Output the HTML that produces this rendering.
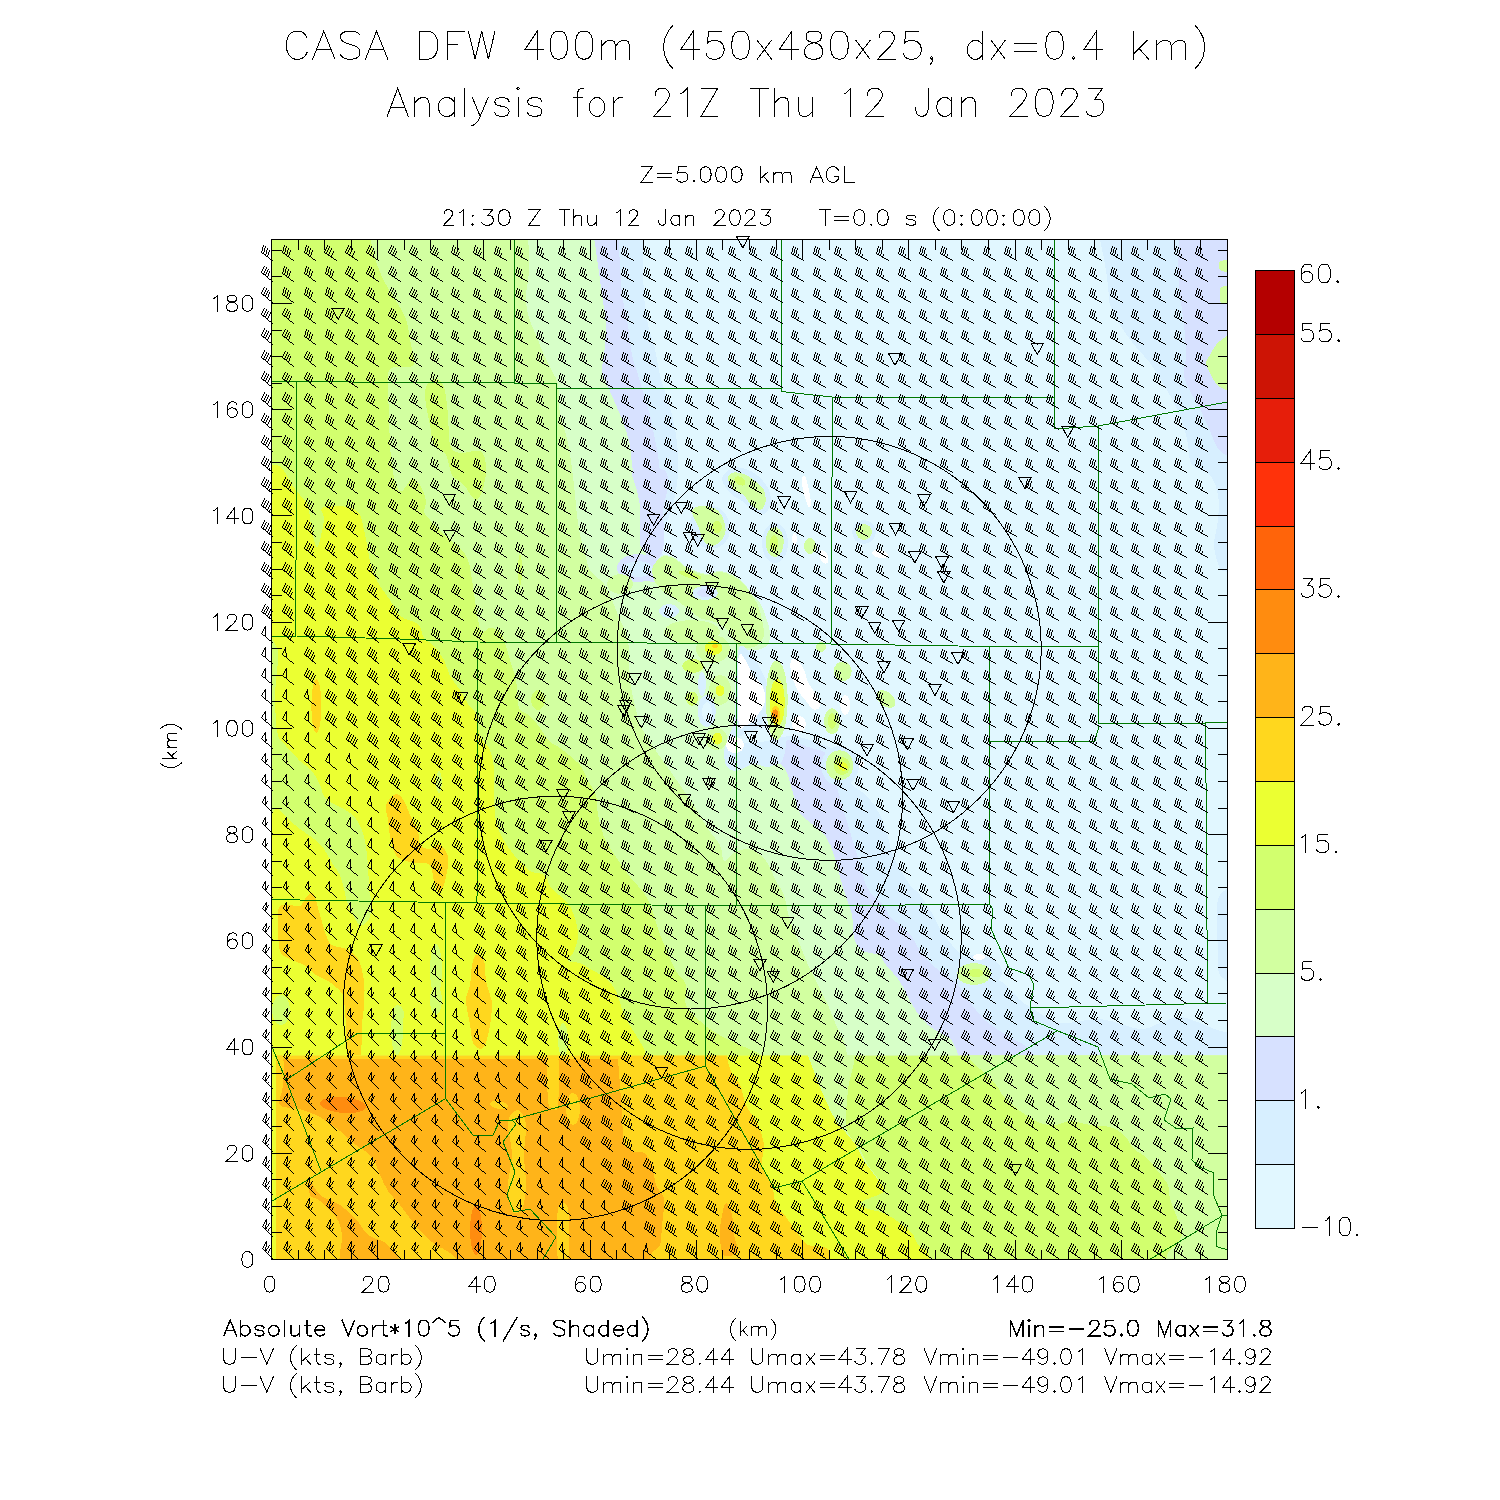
<!DOCTYPE html><html><head><meta charset="utf-8"><title>CASA DFW 400m</title><style>html,body{margin:0;padding:0;background:#fff}svg{display:block}body{font-family:"Liberation Sans",sans-serif}</style></head><body><svg width="1500" height="1500" viewBox="0 0 1500 1500" shape-rendering="crispEdges">
<defs>
<clipPath id="cn"><rect x="271" y="239" width="956.5" height="816.5"/></clipPath>
<clipPath id="cs"><rect x="271" y="1055.5" width="956.5" height="204"/></clipPath>
<clipPath id="cp"><rect x="271" y="239" width="956.5" height="1020.5"/></clipPath>
</defs>
<rect width="1500" height="1500" fill="#fff"/>
<g clip-path="url(#cn)">
<rect x="260" y="230" width="980" height="840" fill="#e1f7ff"/>
<path d="M1098,230C1099,234.8 1102.3,249.8 1104,259C1105.7,268.2 1107,277.3 1108,285C1109,292.7 1108,298.3 1110,305C1112,311.7 1115.7,318 1120,325C1124.3,332 1131,340.7 1136,347C1141,353.3 1145.3,356.7 1150,363C1154.7,369.3 1159.7,377.7 1164,385C1168.3,392.3 1172.7,400 1176,407C1179.3,414 1182,420.7 1184,427C1186,433.3 1186.7,438.7 1188,445C1189.3,451.3 1188.3,460 1192,465C1195.7,470 1205.7,470 1210,475C1214.3,480 1216.7,487.5 1218,495C1219.3,502.5 1218.7,511.5 1218,520C1217.3,528.5 1213.7,537.7 1214,546C1214.3,554.3 1219,566 1220,570L1240,575 L1240,230Z" fill="#d7efff"/>
<path d="M1180,230C1179.7,235.8 1178,254.2 1178,265C1178,275.8 1179,285 1180,295C1181,305 1183,315 1184,325C1185,335 1186,346.7 1186,355C1186,363.3 1183.3,369 1184,375C1184.7,381 1187.3,385.3 1190,391C1192.7,396.7 1196.7,402.3 1200,409C1203.3,415.7 1206.7,424 1210,431C1213.3,438 1215,446 1220,451C1225,456 1236.7,459.3 1240,461L1240,230Z" fill="#d7e1ff"/>
<path d="M1240,335C1236.7,327.2 1225,337.7 1220,341C1215,344.3 1212.3,351.3 1210,355C1207.7,358.7 1206,360 1206,363C1206,366 1207.7,369 1210,373C1212.3,377 1215,384.5 1220,387C1225,389.5 1236.7,396.7 1240,388C1243.3,379.3 1243.3,342.8 1240,335Z" fill="#d2ffa0"/>
<path d="M1240,259C1236.8,257.2 1224.5,259.8 1221,261C1217.5,262.2 1218.8,264.3 1219,266C1219.2,267.7 1218.5,270 1222,271C1225.5,272 1237,274 1240,272C1243,270 1243.2,260.8 1240,259Z" fill="#d2ffa0"/>
<path d="M1240,286C1237,283.2 1225.3,285.5 1222,287C1218.7,288.5 1220,292.3 1220,295C1220,297.7 1218.7,301.5 1222,303C1225.3,304.5 1237,306.8 1240,304C1243,301.2 1243,288.8 1240,286Z" fill="#d2ffa0"/>
<path d="M1240,893C1236.7,879.3 1223.8,890.5 1220,895C1216.2,899.5 1217.3,910.8 1217,920C1216.7,929.2 1217.5,940.8 1218,950C1218.5,959.2 1216.3,970.5 1220,975C1223.7,979.5 1236.7,990.7 1240,977C1243.3,963.3 1243.3,906.7 1240,893Z" fill="#d7efff"/>
<path d="M643,230C643,235.8 642.8,254.2 643,265C643.2,275.8 643.2,285 644,295C644.8,305 646.3,316.7 648,325C649.7,333.3 652,336.7 654,345C656,353.3 658,366.7 660,375C662,383.3 664,388.3 666,395C668,401.7 670.3,408.3 672,415C673.7,421.7 675,428.3 676,435C677,441.7 677.7,448.3 678,455C678.3,461.7 678.7,467.3 678,475C677.3,482.7 675.7,493.5 674,501C672.3,508.5 670.3,512.7 668,520C665.7,527.3 660.7,539.2 660,545C659.3,550.8 661.5,552.8 664,555C666.5,557.2 671.5,556.2 675,558C678.5,559.8 681.5,563.8 685,566C688.5,568.2 692.3,569.7 696,571C699.7,572.3 703,574 707,574C711,574 715.7,570.8 720,571C724.3,571.2 729,573 733,575C737,577 741,580 744,583C747,586 748.3,589.7 751,593C753.7,596.3 757.5,599 760,603C762.5,607 764.3,612.2 766,617C767.7,621.8 769.7,627.5 770,632C770.3,636.5 770,641 768,644C766,647 761.7,649 758,650C754.3,651 749.3,649 746,650C742.7,651 739.7,653 738,656C736.3,659 736.5,662.3 736,668C735.5,673.7 734.3,678.3 735,690C735.7,701.7 735.8,729.3 740,738C744.2,746.7 751.7,742.3 760,742C768.3,741.7 780.8,736 790,736C799.2,736 807.3,739.3 815,742C822.7,744.7 830.8,746.5 836,752C841.2,757.5 843.3,769.5 846,775C848.7,780.5 848.3,781.3 852,785C855.7,788.7 863.3,792 868,797C872.7,802 876.7,808.3 880,815C883.3,821.7 886,830.7 888,837C890,843.3 890,847.7 892,853C894,858.3 897,863.7 900,869C903,874.3 906.7,880.7 910,885C913.3,889.3 916.3,890.3 920,895C923.7,899.7 928.7,907.3 932,913C935.3,918.7 936.7,923.7 940,929C943.3,934.3 947.7,940 952,945C956.3,950 959.7,954 966,959C972.3,964 983.3,970.7 990,975C996.7,979.3 1001,980.8 1006,985C1011,989.2 1015.7,996.2 1020,1000C1024.3,1003.8 1025.3,1004.2 1032,1008C1038.7,1011.8 1048.7,1021.2 1060,1023C1071.3,1024.8 1086.7,1018 1100,1019C1113.3,1020 1130,1028.3 1140,1029C1150,1029.7 1153.3,1025 1160,1023C1166.7,1021 1173.3,1017 1180,1017C1186.7,1017 1193.3,1020.7 1200,1023C1206.7,1025.3 1213.3,1029.3 1220,1031C1226.7,1032.7 1236.7,1032.7 1240,1033L1240,1070 L255,1070 L255,230Z" fill="#d7efff"/>
<path d="M618,230C618.3,235.8 619.3,254.2 620,265C620.7,275.8 620.7,285 622,295C623.3,305 626.3,315 628,325C629.7,335 630.3,346.7 632,355C633.7,363.3 636,368.3 638,375C640,381.7 642,388.3 644,395C646,401.7 648.3,408.3 650,415C651.7,421.7 652.7,428.3 654,435C655.3,441.7 657,448.3 658,455C659,461.7 659.7,468.3 660,475C660.3,481.7 660.3,488.3 660,495C659.7,501.7 659.3,508.8 658,515C656.7,521.2 652.8,525.2 652,532C651.2,538.8 652.3,551.2 653,556C653.7,560.8 654.2,561.2 656,561C657.8,560.8 660.8,555.5 664,555C667.2,554.5 671.5,556.2 675,558C678.5,559.8 681.5,563.8 685,566C688.5,568.2 692.3,569.7 696,571C699.7,572.3 703,574 707,574C711,574 715.7,570.8 720,571C724.3,571.2 729,573 733,575C737,577 741,580 744,583C747,586 748.3,589.7 751,593C753.7,596.3 757.5,599 760,603C762.5,607 764.3,612.2 766,617C767.7,621.8 769.7,627.5 770,632C770.3,636.5 770,641 768,644C766,647 761.7,649 758,650C754.3,651 749.3,649 746,650C742.7,651 739.7,653 738,656C736.3,659 736.5,662.3 736,668C735.5,673.7 735.2,683 735,690C734.8,697 735.3,704 735,710C734.7,716 734.3,721 733,726C731.7,731 728.5,735.5 727,740C725.5,744.5 724,748.5 724,753C724,757.5 724.8,764 727,767C729.2,770 732.7,771.5 737,771C741.3,770.5 748,764.7 753,764C758,763.3 762.5,767 767,767C771.5,767 777,766.5 780,764C783,761.5 783.7,756 785,752C786.3,748 784.4,740.9 788,740C791.6,739.1 800.2,744.5 806.7,746.7C813.2,748.9 822.3,749.9 826.7,753.3C831.1,756.7 831.3,761.4 833,767C834.7,772.6 835.5,780.7 837,787C838.5,793.3 840.2,798.7 842,805C843.8,811.3 845.8,817.8 848,825C850.2,832.2 852.8,840.8 855,848C857.2,855.2 859.2,861.8 861,868C862.8,874.2 863.8,880.2 866,885C868.2,889.8 871,893.7 874,897C877,900.3 881.3,901.7 884,905C886.7,908.3 887.3,913.7 890,917C892.7,920.3 896.3,921.7 900,925C903.7,928.3 908.7,932.7 912,937C915.3,941.3 916.7,946.3 920,951C923.3,955.7 927.7,961 932,965C936.3,969 941.7,971.7 946,975C950.3,978.3 953.7,980 958,985C962.3,990 967.3,999 972,1005C976.7,1011 980.3,1016 986,1021C991.7,1026 999.7,1031 1006,1035C1012.3,1039 1018.3,1040.8 1024,1045C1029.7,1049.2 1037.3,1057.5 1040,1060L1040,1070 L255,1070 L255,230Z" fill="#d7e1ff"/>
<path d="M593,230C593.8,235.8 596.5,254.2 598,265C599.5,275.8 600.7,285 602,295C603.3,305 605.7,315 606,325C606.3,335 604.7,347.3 604,355C603.3,362.7 601.3,365.7 602,371C602.7,376.3 605.7,381.3 608,387C610.3,392.7 613.3,398.7 616,405C618.7,411.3 621.7,418.3 624,425C626.3,431.7 628.7,438.3 630,445C631.3,451.7 631,458.3 632,465C633,471.7 634.7,478.3 636,485C637.3,491.7 638.3,497.5 640,505C641.7,512.5 644.7,525.8 646,530C647.3,534.2 647.3,527.5 648,530C648.7,532.5 649.2,540.7 650,545C650.8,549.3 652,553.3 653,556C654,558.7 654.2,561.2 656,561C657.8,560.8 660.8,555.5 664,555C667.2,554.5 671.5,556.2 675,558C678.5,559.8 681.5,563.8 685,566C688.5,568.2 692.3,569.7 696,571C699.7,572.3 703,574 707,574C711,574 715.7,570.8 720,571C724.3,571.2 729,573 733,575C737,577 741,580 744,583C747,586 748.3,589.7 751,593C753.7,596.3 757.5,599 760,603C762.5,607 764.3,612.2 766,617C767.7,621.8 769.7,627.5 770,632C770.3,636.5 770,641 768,644C766,647 761.7,649 758,650C754.3,651 749.3,649 746,650C742.7,651 739.7,653 738,656C736.3,659 736.5,662.3 736,668C735.5,673.7 735.2,683 735,690C734.8,697 735.3,704 735,710C734.7,716 734.3,721 733,726C731.7,731 728.5,735.5 727,740C725.5,744.5 724,748.5 724,753C724,757.5 724.8,764 727,767C729.2,770 732.7,771.5 737,771C741.3,770.5 748,764.7 753,764C758,763.3 762.5,767 767,767C771.5,767 776.7,763 780,764C783.3,765 784.8,768.2 787,773C789.2,777.8 790.8,786.3 793,793C795.2,799.7 796.8,807.8 800,813C803.2,818.2 807.7,820 812,824C816.3,828 822.3,831.8 826,837C829.7,842.2 831.7,848.3 834,855C836.3,861.7 838,870 840,877C842,884 844,890.7 846,897C848,903.3 850.7,908.3 852,915C853.3,921.7 852.7,931.3 854,937C855.3,942.7 857.3,946.3 860,949C862.7,951.7 866.7,952 870,953C873.3,954 877.3,953 880,955C882.7,957 883,961 886,965C889,969 894.7,974.3 898,979C901.3,983.7 903,987.7 906,993C909,998.3 912.3,1005.7 916,1011C919.7,1016.3 924,1021.3 928,1025C932,1028.7 936,1030.3 940,1033C944,1035.7 948.7,1036.5 952,1041C955.3,1045.5 958.7,1056.8 960,1060L255,1060 L255,230 Z" fill="#d7ffc8"/>
<path d="M528,230C528.2,235.8 529,256.5 529,265C529,273.5 528.5,276 528,281C527.5,286 526,289.3 526,295C526,300.7 526.3,308.3 528,315C529.7,321.7 533.3,328.3 536,335C538.7,341.7 541.3,349 544,355C546.7,361 549.7,366 552,371C554.3,376 556.7,377.7 558,385C559.3,392.3 558.7,406.7 560,415C561.3,423.3 564.3,428.3 566,435C567.7,441.7 568.7,446.7 570,455C571.3,463.3 572.8,475 574,485C575.2,495 576,506.7 577,515C578,523.3 578.8,529.2 580,535C581.2,540.8 582.3,544.2 584,550C585.7,555.8 586.7,564.3 590,570C593.3,575.7 600.3,579 604,584C607.7,589 609.3,594 612,600C614.7,606 617.3,613.3 620,620C622.7,626.7 626.3,630 628,640C629.7,650 628.7,668.3 630,680C631.3,691.7 634.3,702.5 636,710C637.7,717.5 637.3,719.2 640,725C642.7,730.8 647.7,738.3 652,745C656.3,751.7 661.3,758.3 666,765C670.7,771.7 675,777.7 680,785C685,792.3 691.3,801.7 696,809C700.7,816.3 704,823 708,829C712,835 717.3,839.7 720,845C722.7,850.3 721.7,859.7 724,861C726.3,862.3 729.7,855 734,853C738.3,851 744.7,847.7 750,849C755.3,850.3 761.7,855.7 766,861C770.3,866.3 773,875.3 776,881C779,886.7 781.7,888.3 784,895C786.3,901.7 787.3,912.7 790,921C792.7,929.3 797,937.7 800,945C803,952.3 805,958.3 808,965C811,971.7 814.7,978.3 818,985C821.3,991.7 825,998.3 828,1005C831,1011.7 833.3,1019 836,1025C838.7,1031 842,1035.2 844,1041C846,1046.8 847.3,1056.8 848,1060L255,1060 L255,230 Z" fill="#d2ffa0"/>
<path d="M368,230C369.3,235.2 373.3,252.5 376,261C378.7,269.5 380.7,274.3 384,281C387.3,287.7 392.3,294.7 396,301C399.7,307.3 403.7,312.7 406,319C408.3,325.3 408.7,331.7 410,339C411.3,346.3 414.3,358.3 414,363C413.7,367.7 412,366 408,367C404,368 393.3,365.7 390,369C386.7,372.3 388.2,379.3 388,387C387.8,394.7 388.7,405.3 389,415C389.3,424.7 389.5,436.7 390,445C390.5,453.3 391,458.3 392,465C393,471.7 394.3,480.7 396,485C397.7,489.3 399.3,492 402,491C404.7,490 409,480 412,479C415,478 417.7,481.3 420,485C422.3,488.7 425.3,496.5 426,501C426.7,505.5 423.3,508.8 424,512C424.7,515.2 427.3,517 430,520C432.7,523 436.7,526.7 440,530C443.3,533.3 446.7,537 450,540C453.3,543 457,544.7 460,548C463,551.3 466,554.7 468,560C470,565.3 470.8,573.3 472,580C473.2,586.7 474,593.3 475,600C476,606.7 476.8,614.7 478,620C479.2,625.3 480,630.7 482,632C484,633.3 487,628 490,628C493,628 497.3,629 500,632C502.7,635 504.3,641.3 506,646C507.7,650.7 508.3,654.3 510,660C511.7,665.7 514.7,673.3 516,680C517.3,686.7 517.3,695 518,700C518.7,705 518,707.3 520,710C522,712.7 526.7,713 530,716C533.3,719 536.7,723.7 540,728C543.3,732.3 546.7,738.7 550,742C553.3,745.3 555,744.2 560,748C565,751.8 575.3,759.5 580,765C584.7,770.5 585.3,776 588,781C590.7,786 594.3,789.3 596,795C597.7,800.7 596.7,808 598,815C599.3,822 601,830 604,837C607,844 611.7,850.3 616,857C620.3,863.7 625.3,871 630,877C634.7,883 640.3,887.7 644,893C647.7,898.3 649.7,903 652,909C654.3,915 655.7,922.3 658,929C660.3,935.7 663,942 666,949C669,956 672.7,965 676,971C679.3,977 684.3,979.3 686,985C687.7,990.7 683.7,999 686,1005C688.3,1011 695,1016.3 700,1021C705,1025.7 709.3,1029 716,1033C722.7,1037 733,1041.7 740,1045C747,1048.3 753.7,1050.5 758,1053C762.3,1055.5 764.7,1058.8 766,1060L255,1060 L255,230 Z" fill="#d2ff6e"/>
<path d="M426,387C427.7,382.7 433,379 436,379C439,379 442,381 444,387C446,393 447,405.3 448,415C449,424.7 448,438.7 450,445C452,451.3 455,452 460,453C465,454 475.7,449 480,451C484.3,453 485.3,459.3 486,465C486.7,470.7 485.3,479.3 484,485C482.7,490.7 480,497 478,499C476,501 474.3,499.3 472,497C469.7,494.7 467.3,488.7 464,485C460.7,481.3 455,480 452,475C449,470 449,460 446,455C443,450 436.7,450 434,445C431.3,440 431.3,431.7 430,425C428.7,418.3 426.7,411.3 426,405C425.3,398.7 424.3,391.3 426,387Z" fill="#d2ff6e"/>
<path d="M262,467C264.3,466.7 272.3,464.3 276,465C279.7,465.7 281.3,467.7 284,471C286.7,474.3 289.3,481 292,485C294.7,489 297.3,491.7 300,495C302.7,498.3 306.3,501 308,505C309.7,509 309,513.2 310,519C311,524.8 312.7,535.5 314,540C315.3,544.5 316.3,549.3 318,546C319.7,542.7 323.3,526.3 324,520C324.7,513.7 319.3,510.3 322,508C324.7,505.7 334,505.3 340,506C346,506.7 354,508 358,512C362,516 362.3,523.7 364,530C365.7,536.3 366.7,543.3 368,550C369.3,556.7 370,564 372,570C374,576 377,581 380,586C383,591 386.7,595 390,600C393.3,605 395.3,612 400,616C404.7,620 414,620.3 418,624C422,627.7 421.3,634.3 424,638C426.7,641.7 430.7,642.3 434,646C437.3,649.7 441.3,655 444,660C446.7,665 447.3,671 450,676C452.7,681 457,685.3 460,690C463,694.7 465.3,700 468,704C470.7,708 474,708.7 476,714C478,719.3 477.7,730 480,736C482.3,742 487.7,744.3 490,750C492.3,755.7 493.3,762.5 494,770C494.7,777.5 493.7,786.5 494,795C494.3,803.5 494.7,814 496,821C497.3,828 499,831.3 502,837C505,842.7 509.3,849.3 514,855C518.7,860.7 525,867.7 530,871C535,874.3 540.3,872 544,875C547.7,878 548.3,884.7 552,889C555.7,893.3 562.3,896.7 566,901C569.7,905.3 572,909.3 574,915C576,920.7 578,929 578,935C578,941 575.7,946.7 574,951C572.3,955.3 567,959 568,961C569,963 576.3,961.7 580,963C583.7,964.3 586,966.7 590,969C594,971.3 599.7,973.3 604,977C608.3,980.7 612.7,984.7 616,991C619.3,997.3 620.7,1007.7 624,1015C627.3,1022.3 632.7,1029.3 636,1035C639.3,1040.7 642,1044.8 644,1049C646,1053.2 647.3,1058.2 648,1060L255,1060 L255,467 Z" fill="#ebff32"/>
<path d="M262,640C264.3,614.2 273.3,642.7 276,646C278.7,649.3 278,654.3 278,660C278,665.7 276.5,673.3 276,680C275.5,686.7 275,693.3 275,700C275,706.7 275.5,714 276,720C276.5,726 276.3,731.7 278,736C279.7,740.3 282.3,741.8 286,746C289.7,750.2 295.7,756.8 300,761C304.3,765.2 308.7,767 312,771C315.3,775 317.7,780.3 320,785C322.3,789.7 322,795 326,799C330,803 339,805.7 344,809C349,812.3 352.7,814.3 356,819C359.3,823.7 362,829.3 364,837C366,844.7 367.2,856.3 368,865C368.8,873.7 368.3,882.3 369,889C369.7,895.7 372.2,899.7 372,905C371.8,910.3 370,917.7 368,921C366,924.3 362.3,925.7 360,925C357.7,924.3 356,920.3 354,917C352,913.7 349.7,909.7 348,905C346.3,900.3 345.3,894 344,889C342.7,884 342,879.3 340,875C338,870.7 334.7,867.3 332,863C329.3,858.7 327,853 324,849C321,845 318,842.3 314,839C310,835.7 304.3,832.3 300,829C295.7,825.7 291.7,822.3 288,819C284.3,815.7 282.3,812 278,809C273.7,806 264.7,829.2 262,801C259.3,772.8 259.7,665.8 262,640Z" fill="#d2ff6e"/>
<path d="M386,805C387.3,800.8 393,794.7 396,794C399,793.3 401.7,797.5 404,801C406.3,804.5 407.7,810 410,815C412.3,820 416.3,826 418,831C419.7,836 418,842 420,845C422,848 426.7,849 430,849C433.3,849 437,843.7 440,845C443,846.3 447,851.7 448,857C449,862.3 447.3,871 446,877C444.7,883 442,892.3 440,893C438,893.7 435.7,885.7 434,881C432.3,876.3 432.7,868 430,865C427.3,862 422,863.7 418,863C414,862.3 409.7,862.3 406,861C402.3,859.7 398.7,859 396,855C393.3,851 391.3,843 390,837C388.7,831 388.7,824.3 388,819C387.3,813.7 384.7,809.2 386,805Z" fill="#ffd71e"/>
<path d="M279,907C281,903.7 286.5,905.2 290,905C293.5,904.8 297,907.7 300,906C303,904.3 305.7,896.8 308,895C310.3,893.2 312,891.7 314,895C316,898.3 318,908.3 320,915C322,921.7 324,930 326,935C328,940 328.7,942.7 332,945C335.3,947.3 341.7,946.7 346,949C350.3,951.3 355,953.7 358,959C361,964.3 363,973.3 364,981C365,988.7 364.3,997.7 364,1005C363.7,1012.3 362.7,1015.8 362,1025C361.3,1034.2 362.3,1054.2 360,1060C357.7,1065.8 350.3,1065.8 348,1060C345.7,1054.2 346.7,1035 346,1025C345.3,1015 345,1005.7 344,1000C343,994.3 342.7,994.2 340,991C337.3,987.8 332,983.7 328,981C324,978.3 320,977.7 316,975C312,972.3 308.3,967.7 304,965C299.7,962.3 294,961.3 290,959C286,956.7 282,956.7 280,951C278,945.3 278.2,932.3 278,925C277.8,917.7 277,910.3 279,907Z" fill="#ffd71e"/>
<path d="M476,955C478,954.3 482.3,956.7 484,961C485.7,965.3 485,975.3 486,981C487,986.7 489,991 490,995C491,999 492,1000 492,1005C492,1010 491.3,1018 490,1025C488.7,1032 486.7,1043.7 484,1047C481.3,1050.3 476.3,1048.7 474,1045C471.7,1041.3 471.3,1032.5 470,1025C468.7,1017.5 466,1006.7 466,1000C466,993.3 469,990.8 470,985C471,979.2 471,970 472,965C473,960 474,955.7 476,955Z" fill="#ffd71e"/>
<path d="M633,470C637.2,465.5 658.3,466.7 664,470C669.7,473.3 667.2,483.3 667,490C666.8,496.7 663.5,503.3 663,510C662.5,516.7 664,523.3 664,530C664,536.7 664.2,545 663,550C661.8,555 658.7,557 657,560C655.3,563 652.7,565 653,568C653.3,571 659,575.7 659,578C659,580.3 655.5,582 653,582C650.5,582 646,581 644,578C642,575 640.5,567.7 641,564C641.5,560.3 647.2,559.2 647,556C646.8,552.8 641.2,550.5 640,545C638.8,539.5 640.2,531 640,523C639.8,515 640.2,505.8 639,497C637.8,488.2 628.8,474.5 633,470Z" fill="#d7e1ff"/>
<path d="M659,568C659,571.3 656.3,575.6 652.8,577.9C649.3,580.2 642.9,582 638,582C633.1,582 626.7,580.2 623.2,577.9C619.7,575.6 617,571.3 617,568C617,564.7 619.7,560.4 623.2,558.1C626.7,555.8 633.1,554 638,554C642.9,554 649.3,555.8 652.8,558.1C656.3,560.4 659,564.7 659,568Z" fill="#d7e1ff"/>
<path d="M653,569C653,570.9 651.1,573.3 648.6,574.7C646.1,576 641.5,577 638,577C634.5,577 629.9,576 627.4,574.7C624.9,573.3 623,570.9 623,569C623,567.1 624.9,564.7 627.4,563.3C629.9,562 634.5,561 638,561C641.5,561 646.1,562 648.6,563.3C651.1,564.7 653,567.1 653,569Z" fill="#d7efff"/>
<path d="M656,562C658,559.7 660.8,556.5 664,556C667.2,555.5 671.5,557.2 675,559C678.5,560.8 681.5,564.8 685,567C688.5,569.2 692.3,570.7 696,572C699.7,573.3 703,575 707,575C711,575 715.7,571.8 720,572C724.3,572.2 729,574 733,576C737,578 741,581 744,584C747,587 748.7,590.5 751,594C753.3,597.5 756.2,600.7 758,605C759.8,609.3 761,615 762,620C763,625 764.7,630.8 764,635C763.3,639.2 761.2,642.8 758,645C754.8,647.2 748.8,648.5 745,648C741.2,647.5 737.8,645 735,642C732.2,639 731.3,633.3 728,630C724.7,626.7 719.7,624 715,622C710.3,620 704.2,620 700,618C695.8,616 694,613 690,610C686,607 680.3,603 676,600C671.7,597 667.5,595 664,592C660.5,589 657,585.7 655,582C653,578.3 651.8,573.3 652,570C652.2,566.7 654,564.3 656,562Z" fill="#d2ffa0"/>
<path d="M701.6,578.1C701.4,578.8 699.7,579.3 697.6,579.2C695.6,579.2 692,578.6 689.2,577.9C686.5,577.2 683.1,575.9 681.3,574.9C679.5,573.9 678.2,572.6 678.4,571.9C678.6,571.2 680.3,570.7 682.4,570.8C684.4,570.8 688,571.4 690.8,572.1C693.5,572.8 696.9,574.1 698.7,575.1C700.5,576.1 701.8,577.4 701.6,578.1Z" fill="#d2ff6e"/>
<path d="M720,632C720,634.8 716.5,638.5 711.8,640.5C707.1,642.5 698.6,644 692,644C685.4,644 676.9,642.5 672.2,640.5C667.5,638.5 664,634.8 664,632C664,629.2 667.5,625.5 672.2,623.5C676.9,621.5 685.4,620 692,620C698.6,620 707.1,621.5 711.8,623.5C716.5,625.5 720,629.2 720,632Z" fill="#d2ffa0"/>
<path d="M633,584C633,586.4 631.4,589.4 629.2,591.1C627,592.7 623.1,594 620,594C616.9,594 613,592.7 610.8,591.1C608.6,589.4 607,586.4 607,584C607,581.6 608.6,578.6 610.8,576.9C613,575.3 616.9,574 620,574C623.1,574 627,575.3 629.2,576.9C631.4,578.6 633,581.6 633,584Z" fill="#d2ffa0"/>
<path d="M718,593C718,594.6 716.4,596.8 714.2,597.9C712,599.1 708.1,600 705,600C701.9,600 698,599.1 695.8,597.9C693.6,596.8 692,594.6 692,593C692,591.4 693.6,589.2 695.8,588.1C698,586.9 701.9,586 705,586C708.1,586 712,586.9 714.2,588.1C716.4,589.2 718,591.4 718,593Z" fill="#d7efff"/>
<path d="M713,593C713,593.9 712,595.2 710.7,595.8C709.3,596.5 706.9,597 705,597C703.1,597 700.7,596.5 699.3,595.8C698,595.2 697,593.9 697,593C697,592.1 698,590.8 699.3,590.2C700.7,589.5 703.1,589 705,589C706.9,589 709.3,589.5 710.7,590.2C712,590.8 713,592.1 713,593Z" fill="#d7e1ff"/>
<path d="M679,611C679,612.6 677.7,614.8 676.1,615.9C674.4,617.1 671.4,618 669,618C666.6,618 663.6,617.1 661.9,615.9C660.3,614.8 659,612.6 659,611C659,609.4 660.3,607.2 661.9,606.1C663.6,604.9 666.6,604 669,604C671.4,604 674.4,604.9 676.1,606.1C677.7,607.2 679,609.4 679,611Z" fill="#d7efff"/>
<path d="M674,611C674,611.7 673.4,612.6 672.5,613.1C671.7,613.6 670.2,614 669,614C667.8,614 666.3,613.6 665.5,613.1C664.6,612.6 664,611.7 664,611C664,610.3 664.6,609.4 665.5,608.9C666.3,608.4 667.8,608 669,608C670.2,608 671.7,608.4 672.5,608.9C673.4,609.4 674,610.3 674,611Z" fill="#e1f7ff"/>
<path d="M722,478C722.5,473.8 729,469.5 733,468C737,466.5 741.8,467.7 746,469C750.2,470.3 754.3,472.8 758,476C761.7,479.2 765.8,483.5 768,488C770.2,492.5 771.7,498.7 771,503C770.3,507.3 767.2,512.8 764,514C760.8,515.2 755.7,512.2 752,510C748.3,507.8 745.7,503.8 742,501C738.3,498.2 733.3,496.8 730,493C726.7,489.2 721.5,482.2 722,478Z" fill="#d7efff"/>
<path d="M728,478C728,475.3 730.6,473.4 733.3,472.7C736,472 740.4,472.7 744,474C747.6,475.3 751.4,478 754.7,480.7C758,483.4 762.2,486.2 764,490C765.8,493.8 766,500 765.3,503.3C764.6,506.6 762.4,509.8 760,510C757.6,510.2 753.4,507.1 750.7,504.7C748,502.2 746.9,498 744,495.3C741.1,492.6 736,491.6 733.3,488.7C730.6,485.8 728,480.7 728,478Z" fill="#d2ffa0"/>
<path d="M745.2,484C744.7,484.8 743.5,485.5 742.3,485.6C741.1,485.6 739.2,485.2 738,484.5C736.8,483.8 735.4,482.4 734.9,481.3C734.4,480.3 734.3,478.8 734.8,478C735.3,477.2 736.5,476.5 737.7,476.4C738.9,476.4 740.8,476.8 742,477.5C743.2,478.2 744.6,479.6 745.1,480.7C745.6,481.7 745.7,483.2 745.2,484Z" fill="#d2ff6e"/>
<path d="M728.8,520.2C730.6,525 730.5,532.2 728.6,536.8C726.7,541.4 722,546.1 717.5,547.7C713.1,549.3 706.4,548.8 702,546.5C697.6,544.1 693,538.7 691.2,533.8C689.4,529 689.5,521.8 691.4,517.2C693.3,512.6 698,507.9 702.5,506.3C706.9,504.7 713.6,505.2 718,507.5C722.4,509.9 727,515.3 728.8,520.2Z" fill="#d7efff"/>
<path d="M693.3,508.7C695.1,506.9 700,505.8 704,506C708,506.2 714,507.6 717.3,510C720.6,512.5 722.7,516.9 724,520.7C725.3,524.5 726,529.2 725.3,532.7C724.6,536.2 722.4,539.8 720,542C717.6,544.2 713.6,546.5 710.7,546C707.8,545.5 704.7,542.4 702.7,539.3C700.7,536.2 700.3,531.1 698.7,527.3C697.1,523.5 694.2,519.8 693.3,516.7C692.4,513.6 691.5,510.5 693.3,508.7Z" fill="#d2ffa0"/>
<path d="M722,527C722,528.4 721.4,530.2 720.5,531.2C719.7,532.2 718.2,533 717,533C715.8,533 714.3,532.2 713.5,531.2C712.6,530.2 712,528.4 712,527C712,525.6 712.6,523.8 713.5,522.8C714.3,521.8 715.8,521 717,521C718.2,521 719.7,521.8 720.5,522.8C721.4,523.8 722,525.6 722,527Z" fill="#d2ff6e"/>
<path d="M788,543C788,547.7 786.4,553.8 784.2,557.1C782,560.5 778.1,563 775,563C771.9,563 768,560.5 765.8,557.1C763.6,553.8 762,547.7 762,543C762,538.3 763.6,532.2 765.8,528.9C768,525.5 771.9,523 775,523C778.1,523 782,525.5 784.2,528.9C786.4,532.2 788,538.3 788,543Z" fill="#d7efff"/>
<path d="M783.7,542C783.7,545.5 782.6,550.1 781.1,552.6C779.6,555.1 776.8,557 774.7,557C772.6,557 769.8,555.1 768.3,552.6C766.8,550.1 765.7,545.5 765.7,542C765.7,538.5 766.8,533.9 768.3,531.4C769.8,528.9 772.6,527 774.7,527C776.8,527 779.6,528.9 781.1,531.4C782.6,533.9 783.7,538.5 783.7,542Z" fill="#d2ffa0"/>
<path d="M778,543C778,544.9 777.5,547.3 776.8,548.7C776.2,550 774.9,551 774,551C773.1,551 771.8,550 771.2,548.7C770.5,547.3 770,544.9 770,543C770,541.1 770.5,538.7 771.2,537.3C771.8,536 773.1,535 774,535C774.9,535 776.2,536 776.8,537.3C777.5,538.7 778,541.1 778,543Z" fill="#d2ff6e"/>
<path d="M816,546C816,547.9 815.2,550.3 814.2,551.7C813.2,553 811.4,554 810,554C808.6,554 806.8,553 805.8,551.7C804.8,550.3 804,547.9 804,546C804,544.1 804.8,541.7 805.8,540.3C806.8,539 808.6,538 810,538C811.4,538 813.2,539 814.2,540.3C815.2,541.7 816,544.1 816,546Z" fill="#d2ffa0"/>
<path d="M876,532C876,534.8 874.5,538.5 872.5,540.5C870.5,542.5 866.8,544 864,544C861.2,544 857.5,542.5 855.5,540.5C853.5,538.5 852,534.8 852,532C852,529.2 853.5,525.5 855.5,523.5C857.5,521.5 861.2,520 864,520C866.8,520 870.5,521.5 872.5,523.5C874.5,525.5 876,529.2 876,532Z" fill="#d7efff"/>
<path d="M872,532C872,533.9 871,536.3 869.7,537.7C868.3,539 865.9,540 864,540C862.1,540 859.7,539 858.3,537.7C857,536.3 856,533.9 856,532C856,530.1 857,527.7 858.3,526.3C859.7,525 862.1,524 864,524C865.9,524 868.3,525 869.7,526.3C871,527.7 872,530.1 872,532Z" fill="#d2ffa0"/>
<path d="M887.9,555.4C887.7,556.3 886.5,557.3 885.1,557.8C883.7,558.2 881.2,558.3 879.3,557.9C877.4,557.6 875.1,556.7 873.9,555.8C872.7,554.9 872,553.5 872.1,552.6C872.3,551.7 873.5,550.7 874.9,550.2C876.3,549.8 878.8,549.7 880.7,550.1C882.6,550.4 884.9,551.3 886.1,552.2C887.3,553.1 888,554.5 887.9,555.4Z" fill="#ffffff"/>
<path d="M827.8,555.6C828.3,557.2 828.6,559.4 828.4,560.7C828.1,562 827.3,563.3 826.4,563.6C825.5,563.9 824.1,563.5 823,562.6C822,561.8 820.8,559.9 820.2,558.4C819.7,556.8 819.4,554.6 819.6,553.3C819.9,552 820.7,550.7 821.6,550.4C822.5,550.1 823.9,550.5 825,551.4C826,552.2 827.2,554.1 827.8,555.6Z" fill="#ffffff"/>
<path d="M802,478C802.5,476 804.5,473.8 806,478C807.5,482.2 810.7,498.3 811,503C811.3,507.7 809.3,508.2 808,506C806.7,503.8 804,494.7 803,490C802,485.3 801.5,480 802,478Z" fill="#ffffff"/>
<path d="M797,539C797,540.4 796.7,542.2 796.3,543.2C795.9,544.2 795.1,545 794.5,545C793.9,545 793.1,544.2 792.7,543.2C792.3,542.2 792,540.4 792,539C792,537.6 792.3,535.8 792.7,534.8C793.1,533.8 793.9,533 794.5,533C795.1,533 795.9,533.8 796.3,534.8C796.7,535.8 797,537.6 797,539Z" fill="#ffffff"/>
<path d="M730,649C730,652.3 727.9,656.6 725,658.9C722.2,661.2 717,663 713,663C709,663 703.8,661.2 701,658.9C698.1,656.6 696,652.3 696,649C696,645.7 698.1,641.4 701,639.1C703.8,636.8 709,635 713,635C717,635 722.2,636.8 725,639.1C727.9,641.4 730,645.7 730,649Z" fill="#d2ffa0"/>
<path d="M722.5,648C722.5,649.6 721.4,651.8 719.9,652.9C718.4,654.1 715.6,655 713.5,655C711.4,655 708.6,654.1 707.1,652.9C705.6,651.8 704.5,649.6 704.5,648C704.5,646.4 705.6,644.2 707.1,643.1C708.6,641.9 711.4,641 713.5,641C715.6,641 718.4,641.9 719.9,643.1C721.4,644.2 722.5,646.4 722.5,648Z" fill="#ebff32"/>
<path d="M717.7,646C717.7,646.5 717.3,647.1 716.8,647.4C716.3,647.7 715.4,648 714.7,648C714,648 713.1,647.7 712.6,647.4C712.1,647.1 711.7,646.5 711.7,646C711.7,645.5 712.1,644.9 712.6,644.6C713.1,644.3 714,644 714.7,644C715.4,644 716.3,644.3 716.8,644.6C717.3,644.9 717.7,645.5 717.7,646Z" fill="#ffd71e"/>
<path d="M704,666C704,667.6 702.6,669.8 700.8,670.9C698.9,672.1 695.6,673 693,673C690.4,673 687.1,672.1 685.2,670.9C683.4,669.8 682,667.6 682,666C682,664.4 683.4,662.2 685.2,661.1C687.1,659.9 690.4,659 693,659C695.6,659 698.9,659.9 700.8,661.1C702.6,662.2 704,664.4 704,666Z" fill="#d2ff6e"/>
<path d="M731,690C731,693.5 729.6,698.1 727.8,700.6C725.9,703.1 722.6,705 720,705C717.4,705 714.1,703.1 712.2,700.6C710.4,698.1 709,693.5 709,690C709,686.5 710.4,681.9 712.2,679.4C714.1,676.9 717.4,675 720,675C722.6,675 725.9,676.9 727.8,679.4C729.6,681.9 731,686.5 731,690Z" fill="#d2ffa0"/>
<path d="M724.5,690.7C724.5,692 723.9,693.7 723.2,694.6C722.4,695.5 721.1,696.2 720,696.2C718.9,696.2 717.6,695.5 716.8,694.6C716.1,693.7 715.5,692 715.5,690.7C715.5,689.4 716.1,687.7 716.8,686.8C717.6,685.9 718.9,685.2 720,685.2C721.1,685.2 722.4,685.9 723.2,686.8C723.9,687.7 724.5,689.4 724.5,690.7Z" fill="#ebff32"/>
<path d="M727.5,739C727.5,741.6 726.1,744.9 724.3,746.8C722.4,748.6 719.1,750 716.5,750C713.9,750 710.6,748.6 708.7,746.8C706.9,744.9 705.5,741.6 705.5,739C705.5,736.4 706.9,733.1 708.7,731.2C710.6,729.4 713.9,728 716.5,728C719.1,728 722.4,729.4 724.3,731.2C726.1,733.1 727.5,736.4 727.5,739Z" fill="#d2ffa0"/>
<path d="M722.3,738.7C722.3,740.1 721.7,741.9 720.8,742.9C720,743.9 718.5,744.7 717.3,744.7C716.1,744.7 714.6,743.9 713.8,742.9C712.9,741.9 712.3,740.1 712.3,738.7C712.3,737.3 712.9,735.5 713.8,734.5C714.6,733.5 716.1,732.7 717.3,732.7C718.5,732.7 720,733.5 720.8,734.5C721.7,735.5 722.3,737.3 722.3,738.7Z" fill="#ebff32"/>
<path d="M698,698.7C698,700.3 697.2,702.5 696.2,703.6C695.2,704.8 693.4,705.7 692,705.7C690.6,705.7 688.8,704.8 687.8,703.6C686.8,702.5 686,700.3 686,698.7C686,697.1 686.8,694.9 687.8,693.8C688.8,692.6 690.6,691.7 692,691.7C693.4,691.7 695.2,692.6 696.2,693.8C697.2,694.9 698,697.1 698,698.7Z" fill="#d2ff6e"/>
<path d="M706,684C706,686.8 705.5,690.5 704.8,692.5C704.2,694.5 702.9,696 702,696C701.1,696 699.8,694.5 699.2,692.5C698.5,690.5 698,686.8 698,684C698,681.2 698.5,677.5 699.2,675.5C699.8,673.5 701.1,672 702,672C702.9,672 704.2,673.5 704.8,675.5C705.5,677.5 706,681.2 706,684Z" fill="#d7efff"/>
<path d="M715.7,711C715.7,714.8 714.6,719.6 713.1,722.3C711.6,725 708.8,727 706.7,727C704.6,727 701.8,725 700.3,722.3C698.8,719.6 697.7,714.8 697.7,711C697.7,707.2 698.8,702.4 700.3,699.7C701.8,697 704.6,695 706.7,695C708.8,695 711.6,697 713.1,699.7C714.6,702.4 715.7,707.2 715.7,711Z" fill="#d7efff"/>
<path d="M712,712C712,714.4 711.4,717.4 710.5,719.1C709.7,720.7 708.2,722 707,722C705.8,722 704.3,720.7 703.5,719.1C702.6,717.4 702,714.4 702,712C702,709.6 702.6,706.6 703.5,704.9C704.3,703.3 705.8,702 707,702C708.2,702 709.7,703.3 710.5,704.9C711.4,706.6 712,709.6 712,712Z" fill="#e1f7ff"/>
<path d="M744.3,687.3C744.3,688.2 743.9,689.5 743.4,690.1C742.9,690.8 742,691.3 741.3,691.3C740.6,691.3 739.7,690.8 739.2,690.1C738.7,689.5 738.3,688.2 738.3,687.3C738.3,686.4 738.7,685.1 739.2,684.5C739.7,683.8 740.6,683.3 741.3,683.3C742,683.3 742.9,683.8 743.4,684.5C743.9,685.1 744.3,686.4 744.3,687.3Z" fill="#d2ffa0"/>
<path d="M738,652C740,639 746.3,649.3 750,652C753.7,654.7 757,662.3 760,668C763,673.7 766.3,680.3 768,686C769.7,691.7 770.3,697 770,702C769.7,707 768,711.7 766,716C764,720.3 761.3,725.3 758,728C754.7,730.7 749.3,731.7 746,732C742.7,732.3 739.3,743.3 738,730C736.7,716.7 736,665 738,652Z" fill="#d7efff"/>
<path d="M738.7,658.7C739.8,648 742.9,657.1 745.3,660C747.7,662.9 750.6,672 753.3,676C756,680 759.3,680.9 761.3,684C763.3,687.1 764.8,691.2 765.3,694.7C765.8,698.2 765.1,702.2 764,705.3C762.9,708.4 760.5,710.6 758.7,713.3C756.9,716 755.5,719.3 753.3,721.3C751.1,723.3 747.7,724.8 745.3,725.3C742.9,725.8 739.8,735.1 738.7,724C737.6,712.9 737.6,669.4 738.7,658.7Z" fill="#ffffff"/>
<path d="M744,745C744,746.9 742.9,749.3 741.4,750.7C739.9,752 737.1,753 735,753C732.9,753 730.1,752 728.6,750.7C727.1,749.3 726,746.9 726,745C726,743.1 727.1,740.7 728.6,739.3C730.1,738 732.9,737 735,737C737.1,737 739.9,738 741.4,739.3C742.9,740.7 744,743.1 744,745Z" fill="#ffffff"/>
<path d="M742.5,660.5C742.5,661.2 742.2,662.1 741.8,662.6C741.4,663.1 740.6,663.5 740,663.5C739.4,663.5 738.6,663.1 738.2,662.6C737.8,662.1 737.5,661.2 737.5,660.5C737.5,659.8 737.8,658.9 738.2,658.4C738.6,657.9 739.4,657.5 740,657.5C740.6,657.5 741.4,657.9 741.8,658.4C742.2,658.9 742.5,659.8 742.5,660.5Z" fill="#ffffff"/>
<path d="M791.3,660C792.6,658.4 796.4,659.1 798.7,661.3C801,663.5 803.8,669.7 805.3,673.3C806.8,676.9 806.2,679.1 808,682.7C809.8,686.3 814,690.7 816,694.7C818,698.7 820.5,704.3 820,706.7C819.5,709.1 815.8,710.4 813.3,709.3C810.8,708.2 807.7,702.9 805.3,700C802.9,697.1 800.7,695.3 798.7,692C796.7,688.7 794.6,683.5 793.3,680C792,676.5 791,674 790.7,670.7C790.4,667.4 790,661.6 791.3,660Z" fill="#ffffff"/>
<path d="M850.3,705C850.3,707.4 849.7,710.4 848.8,712.1C848,713.7 846.5,715 845.3,715C844.1,715 842.6,713.7 841.8,712.1C840.9,710.4 840.3,707.4 840.3,705C840.3,702.6 840.9,699.6 841.8,697.9C842.6,696.3 844.1,695 845.3,695C846.5,695 848,696.3 848.8,697.9C849.7,699.6 850.3,702.6 850.3,705Z" fill="#ffffff"/>
<path d="M806,724C806,725.9 805.1,728.3 803.9,729.7C802.8,731 800.6,732 799,732C797.4,732 795.2,731 794.1,729.7C792.9,728.3 792,725.9 792,724C792,722.1 792.9,719.7 794.1,718.3C795.2,717 797.4,716 799,716C800.6,716 802.8,717 803.9,718.3C805.1,719.7 806,722.1 806,724Z" fill="#ffffff"/>
<path d="M864,764C864,764.9 863.4,766.2 862.5,766.8C861.7,767.5 860.2,768 859,768C857.8,768 856.3,767.5 855.5,766.8C854.6,766.2 854,764.9 854,764C854,763.1 854.6,761.8 855.5,761.2C856.3,760.5 857.8,760 859,760C860.2,760 861.7,760.5 862.5,761.2C863.4,761.8 864,763.1 864,764Z" fill="#ffffff"/>
<path d="M787.7,700C787.7,709.4 786.3,721.6 784.5,728.3C782.6,735 779.3,740 776.7,740C774.1,740 770.8,735 768.9,728.3C767.1,721.6 765.7,709.4 765.7,700C765.7,690.6 767.1,678.4 768.9,671.7C770.8,665 774.1,660 776.7,660C779.3,660 782.6,665 784.5,671.7C786.3,678.4 787.7,690.6 787.7,700Z" fill="#d2ffa0"/>
<path d="M784.8,702.7C784.8,708.4 783.9,715.7 782.6,719.7C781.4,723.7 779.1,726.7 777.3,726.7C775.5,726.7 773.2,723.7 772,719.7C770.7,715.7 769.8,708.4 769.8,702.7C769.8,697 770.7,689.7 772,685.7C773.2,681.7 775.5,678.7 777.3,678.7C779.1,678.7 781.4,681.7 782.6,685.7C783.9,689.7 784.8,697 784.8,702.7Z" fill="#ebff32"/>
<path d="M780.2,715C780.2,717.1 779.6,719.9 778.8,721.4C778,722.9 776.6,724 775.5,724C774.4,724 773,722.9 772.2,721.4C771.4,719.9 770.8,717.1 770.8,715C770.8,712.9 771.4,710.1 772.2,708.6C773,707.1 774.4,706 775.5,706C776.6,706 778,707.1 778.8,708.6C779.6,710.1 780.2,712.9 780.2,715Z" fill="#ffd71e"/>
<path d="M778.5,714C778.5,715.1 778.1,716.5 777.6,717.3C777,718.1 776.1,718.7 775.3,718.7C774.5,718.7 773.6,718.1 773,717.3C772.5,716.5 772.1,715.1 772.1,714C772.1,712.9 772.5,711.5 773,710.7C773.6,709.9 774.5,709.3 775.3,709.3C776.1,709.3 777,709.9 777.6,710.7C778.1,711.5 778.5,712.9 778.5,714Z" fill="#ff8c0f"/>
<path d="M826,647C826,648.2 825.4,649.7 824.5,650.5C823.7,651.4 822.2,652 821,652C819.8,652 818.3,651.4 817.5,650.5C816.6,649.7 816,648.2 816,647C816,645.8 816.6,644.3 817.5,643.5C818.3,642.6 819.8,642 821,642C822.2,642 823.7,642.6 824.5,643.5C825.4,644.3 826,645.8 826,647Z" fill="#d2ffa0"/>
<path d="M851.7,671.3C851.7,673.7 850.6,676.7 849.1,678.4C847.6,680 844.8,681.3 842.7,681.3C840.6,681.3 837.8,680 836.3,678.4C834.8,676.7 833.7,673.7 833.7,671.3C833.7,668.9 834.8,665.9 836.3,664.2C837.8,662.6 840.6,661.3 842.7,661.3C844.8,661.3 847.6,662.6 849.1,664.2C850.6,665.9 851.7,668.9 851.7,671.3Z" fill="#d2ffa0"/>
<path d="M894.4,706.1C893.4,707.3 890.9,708.1 888.8,707.8C886.6,707.5 883.5,706 881.5,704.4C879.5,702.7 877.5,699.9 876.9,697.8C876.2,695.7 876.5,693.2 877.6,691.9C878.6,690.7 881.1,689.9 883.2,690.2C885.4,690.5 888.5,692 890.5,693.6C892.5,695.3 894.5,698.1 895.1,700.2C895.8,702.3 895.5,704.8 894.4,706.1Z" fill="#d2ffa0"/>
<path d="M840,721.3C840,724.4 839,728.3 837.7,730.5C836.3,732.7 833.9,734.3 832,734.3C830.1,734.3 827.7,732.7 826.3,730.5C825,728.3 824,724.4 824,721.3C824,718.2 825,714.3 826.3,712.1C827.7,709.9 830.1,708.3 832,708.3C833.9,708.3 836.3,709.9 837.7,712.1C839,714.3 840,718.2 840,721.3Z" fill="#d2ffa0"/>
<path d="M836,721C836,722.9 835.5,725.3 834.8,726.7C834.2,728 832.9,729 832,729C831.1,729 829.8,728 829.2,726.7C828.5,725.3 828,722.9 828,721C828,719.1 828.5,716.7 829.2,715.3C829.8,714 831.1,713 832,713C832.9,713 834.2,714 834.8,715.3C835.5,716.7 836,719.1 836,721Z" fill="#d2ff6e"/>
<path d="M859,766C859,770.7 856.6,776.8 853.4,780.1C850.3,783.5 844.5,786 840,786C835.5,786 829.7,783.5 826.6,780.1C823.4,776.8 821,770.7 821,766C821,761.3 823.4,755.2 826.6,751.9C829.7,748.5 835.5,746 840,746C844.5,746 850.3,748.5 853.4,751.9C856.6,755.2 859,761.3 859,766Z" fill="#d7efff"/>
<path d="M853.5,765.3C853.5,768.8 851.7,773.4 849.4,775.9C847.1,778.4 842.8,780.3 839.5,780.3C836.2,780.3 831.9,778.4 829.6,775.9C827.3,773.4 825.5,768.8 825.5,765.3C825.5,761.8 827.3,757.2 829.6,754.7C831.9,752.2 836.2,750.3 839.5,750.3C842.8,750.3 847.1,752.2 849.4,754.7C851.7,757.2 853.5,761.8 853.5,765.3Z" fill="#d2ffa0"/>
<path d="M850,766C850,768.1 849,770.9 847.7,772.4C846.3,773.9 843.9,775 842,775C840.1,775 837.7,773.9 836.3,772.4C835,770.9 834,768.1 834,766C834,763.9 835,761.1 836.3,759.6C837.7,758.1 840.1,757 842,757C843.9,757 846.3,758.1 847.7,759.6C849,761.1 850,763.9 850,766Z" fill="#d2ff6e"/>
<path d="M847.3,769C846.9,769.8 845.7,770.6 844.6,770.7C843.6,770.9 842,770.6 841,770C840,769.4 838.9,768.2 838.5,767.2C838.1,766.2 838.2,764.8 838.7,764C839.1,763.2 840.3,762.4 841.4,762.3C842.4,762.1 844,762.4 845,763C846,763.6 847.1,764.8 847.5,765.8C847.9,766.8 847.8,768.2 847.3,769Z" fill="#ebff32"/>
<path d="M1002,972C1002,976 998.7,981.2 994.4,984C990.1,986.9 982.1,989 976,989C969.9,989 961.9,986.9 957.6,984C953.3,981.2 950,976 950,972C950,968 953.3,962.8 957.6,960C961.9,957.1 969.9,955 976,955C982.1,955 990.1,957.1 994.4,960C998.7,962.8 1002,968 1002,972Z" fill="#d7efff"/>
<path d="M991,974C991,976.6 988.9,979.9 986,981.8C983.2,983.6 978,985 974,985C970,985 964.8,983.6 962,981.8C959.1,979.9 957,976.6 957,974C957,971.4 959.1,968.1 962,966.2C964.8,964.4 970,963 974,963C978,963 983.2,964.4 986,966.2C988.9,968.1 991,971.4 991,974Z" fill="#d2ffa0"/>
<path d="M984,973C984,973.9 983,975.2 981.7,975.8C980.3,976.5 977.9,977 976,977C974.1,977 971.7,976.5 970.3,975.8C969,975.2 968,973.9 968,973C968,972.1 969,970.8 970.3,970.2C971.7,969.5 974.1,969 976,969C977.9,969 980.3,969.5 981.7,970.2C983,970.8 984,972.1 984,973Z" fill="#d2ff6e"/>
<path d="M985,957C985,957.7 984.2,958.6 983.2,959.1C982.2,959.6 980.4,960 979,960C977.6,960 975.8,959.6 974.8,959.1C973.8,958.6 973,957.7 973,957C973,956.3 973.8,955.4 974.8,954.9C975.8,954.4 977.6,954 979,954C980.4,954 982.2,954.4 983.2,954.9C984.2,955.4 985,956.3 985,957Z" fill="#ffffff"/>
<path d="M522,570C522,573.8 521.7,578.6 521.4,581.3C521.1,584 520.5,586 520,586C519.5,586 518.9,584 518.6,581.3C518.3,578.6 518,573.8 518,570C518,566.2 518.3,561.4 518.6,558.7C518.9,556 519.5,554 520,554C520.5,554 521.1,556 521.4,558.7C521.7,561.4 522,566.2 522,570Z" fill="#d2ff6e"/>
<path d="M545,700C545,702.4 544.1,705.4 542.9,707.1C541.8,708.7 539.6,710 538,710C536.4,710 534.2,708.7 533.1,707.1C531.9,705.4 531,702.4 531,700C531,697.6 531.9,694.6 533.1,692.9C534.2,691.3 536.4,690 538,690C539.6,690 541.8,691.3 542.9,692.9C544.1,694.6 545,697.6 545,700Z" fill="#d2ff6e"/>
<path d="M321.4,706C321.4,712.4 320.8,720.6 319.9,725.1C319.1,729.6 317.6,733 316.4,733C315.2,733 313.7,729.6 312.9,725.1C312,720.6 311.4,712.4 311.4,706C311.4,699.6 312,691.4 312.9,686.9C313.7,682.4 315.2,679 316.4,679C317.6,679 319.1,682.4 319.9,686.9C320.8,691.4 321.4,699.6 321.4,706Z" fill="#ffd71e"/>
<path d="M442,782C442,784.6 441.6,787.9 441.1,789.8C440.6,791.6 439.7,793 439,793C438.3,793 437.4,791.6 436.9,789.8C436.4,787.9 436,784.6 436,782C436,779.4 436.4,776.1 436.9,774.2C437.4,772.4 438.3,771 439,771C439.7,771 440.6,772.4 441.1,774.2C441.6,776.1 442,779.4 442,782Z" fill="#d2ff6e"/>
<path d="M442,970C442,976.1 441.2,984.1 440.2,988.4C439.2,992.7 437.4,996 436,996C434.6,996 432.8,992.7 431.8,988.4C430.8,984.1 430,976.1 430,970C430,963.9 430.8,955.9 431.8,951.6C432.8,947.3 434.6,944 436,944C437.4,944 439.2,947.3 440.2,951.6C441.2,955.9 442,963.9 442,970Z" fill="#d2ff6e"/>
<path d="M404,1015C404,1017.4 403.2,1020.4 402.2,1022.1C401.2,1023.7 399.4,1025 398,1025C396.6,1025 394.8,1023.7 393.8,1022.1C392.8,1020.4 392,1017.4 392,1015C392,1012.6 392.8,1009.6 393.8,1007.9C394.8,1006.3 396.6,1005 398,1005C399.4,1005 401.2,1006.3 402.2,1007.9C403.2,1009.6 404,1012.6 404,1015Z" fill="#d2ff6e"/>
<path d="M290,1010C290,1013.5 288.9,1018.1 287.4,1020.6C285.9,1023.1 283.1,1025 281,1025C278.9,1025 276.1,1023.1 274.6,1020.6C273.1,1018.1 272,1013.5 272,1010C272,1006.5 273.1,1001.9 274.6,999.4C276.1,996.9 278.9,995 281,995C283.1,995 285.9,996.9 287.4,999.4C288.9,1001.9 290,1006.5 290,1010Z" fill="#d2ff6e"/>
<path d="M442,1000C442,1003.5 441.2,1008.1 440.2,1010.6C439.2,1013.1 437.4,1015 436,1015C434.6,1015 432.8,1013.1 431.8,1010.6C430.8,1008.1 430,1003.5 430,1000C430,996.5 430.8,991.9 431.8,989.4C432.8,986.9 434.6,985 436,985C437.4,985 439.2,986.9 440.2,989.4C441.2,991.9 442,996.5 442,1000Z" fill="#d2ff6e"/>
<path d="M403,1030C403,1035.9 402.2,1043.5 401.2,1047.7C400.2,1051.8 398.4,1055 397,1055C395.6,1055 393.8,1051.8 392.8,1047.7C391.8,1043.5 391,1035.9 391,1030C391,1024.1 391.8,1016.5 392.8,1012.3C393.8,1008.2 395.6,1005 397,1005C398.4,1005 400.2,1008.2 401.2,1012.3C402.2,1016.5 403,1024.1 403,1030Z" fill="#d2ff6e"/>
<path d="M568,1040C568,1044 567.4,1049.2 566.5,1052C565.7,1054.9 564.2,1057 563,1057C561.8,1057 560.3,1054.9 559.5,1052C558.6,1049.2 558,1044 558,1040C558,1036 558.6,1030.8 559.5,1028C560.3,1025.1 561.8,1023 563,1023C564.2,1023 565.7,1025.1 566.5,1028C567.4,1030.8 568,1036 568,1040Z" fill="#d2ff6e"/>
</g>
<g clip-path="url(#cs)">
<rect x="260" y="1040" width="980" height="240" fill="#d2ff6e"/>
<path d="M960,1050C963.3,1053.2 974,1063.2 980,1069C986,1074.8 992,1080.3 996,1085C1000,1089.7 1000,1092.7 1004,1097C1008,1101.3 1014,1106.7 1020,1111C1026,1115.3 1034,1120.7 1040,1123C1046,1125.3 1051,1125.3 1056,1125C1061,1124.7 1064.3,1121 1070,1121C1075.7,1121 1083.3,1124 1090,1125C1096.7,1126 1104.3,1125.3 1110,1127C1115.7,1128.7 1120,1131.3 1124,1135C1128,1138.7 1130.3,1145.3 1134,1149C1137.7,1152.7 1142.3,1153.7 1146,1157C1149.7,1160.3 1152.3,1164.3 1156,1169C1159.7,1173.7 1165.7,1180 1168,1185C1170.3,1190 1168.7,1194 1170,1199C1171.3,1204 1174,1209.3 1176,1215C1178,1220.7 1182,1228 1182,1233C1182,1238 1178.3,1241.7 1176,1245C1173.7,1248.3 1170,1248.8 1168,1253C1166,1257.2 1164.7,1267.2 1164,1270L1240,1270 L1240,1050Z" fill="#d2ffa0"/>
<path d="M806,1050C812,1045.5 845,1043.5 852,1050C859,1056.5 849,1076.5 848,1089C847,1101.5 845.3,1116.7 846,1125C846.7,1133.3 849.7,1135 852,1139C854.3,1143 857.3,1144.7 860,1149C862.7,1153.3 864.7,1159.7 868,1165C871.3,1170.3 877.3,1176.7 880,1181C882.7,1185.3 884.7,1191.7 884,1191C883.3,1190.3 879.3,1182 876,1177C872.7,1172 867.3,1166.3 864,1161C860.7,1155.7 859,1149.7 856,1145C853,1140.3 849.3,1137 846,1133C842.7,1129 839.3,1126.3 836,1121C832.7,1115.7 829.3,1108.3 826,1101C822.7,1093.7 819.3,1085.5 816,1077C812.7,1068.5 800,1054.5 806,1050Z" fill="#d2ffa0"/>
<path d="M806,1050C807.7,1054.5 812.7,1068.5 816,1077C819.3,1085.5 822.7,1093.7 826,1101C829.3,1108.3 832.7,1115.7 836,1121C839.3,1126.3 842.7,1129 846,1133C849.3,1137 853,1140.3 856,1145C859,1149.7 860.7,1155.7 864,1161C867.3,1166.3 872.7,1172 876,1177C879.3,1182 885,1187.5 884,1191C883,1194.5 874,1196 870,1198C866,1200 860.3,1201.2 860,1203C859.7,1204.8 864,1207.3 868,1209C872,1210.7 878.7,1210.7 884,1213C889.3,1215.3 895.3,1219.7 900,1223C904.7,1226.3 909,1229.3 912,1233C915,1236.7 915.3,1241.7 918,1245C920.7,1248.3 925.7,1248.8 928,1253C930.3,1257.2 931.3,1267.2 932,1270L260,1270 L260,1050Z" fill="#ebff32"/>
<path d="M726,1050C726.7,1053.2 727.7,1063.2 730,1069C732.3,1074.8 737.3,1079 740,1085C742.7,1091 743,1098.3 746,1105C749,1111.7 755,1118.3 758,1125C761,1131.7 763.3,1138.3 764,1145C764.7,1151.7 760.7,1158.3 762,1165C763.3,1171.7 769.7,1178.3 772,1185C774.3,1191.7 773.7,1199.7 776,1205C778.3,1210.3 782.7,1212.7 786,1217C789.3,1221.3 792.3,1226.3 796,1231C799.7,1235.7 802.7,1242 808,1245C813.3,1248 824.3,1244.8 828,1249C831.7,1253.2 829.7,1266.5 830,1270L260,1270 L260,1050Z" fill="#ffd71e"/>
<path d="M618,1059C618.3,1063.3 619.3,1075.7 620,1085C620.7,1094.3 621.3,1105.7 622,1115C622.7,1124.3 622.3,1135 624,1141C625.7,1147 628.7,1149 632,1151C635.3,1153 640.7,1150.7 644,1153C647.3,1155.3 650,1159.7 652,1165C654,1170.3 654,1179.3 656,1185C658,1190.7 663,1192.3 664,1199C665,1205.7 662.7,1217.3 662,1225C661.3,1232.7 661.7,1240.3 660,1245C658.3,1249.7 654,1248.8 652,1253C650,1257.2 648.7,1267.2 648,1270L260,1270 L260,1059Z" fill="#ffb419"/>
<path d="M726,1203C727.7,1203 730.7,1209.7 732,1215C733.3,1220.3 733,1229 734,1235C735,1241 738.7,1247.5 738,1251C737.3,1254.5 732.7,1255.7 730,1256C727.3,1256.3 723.7,1257.2 722,1253C720.3,1248.8 720,1237.3 720,1231C720,1224.7 721,1219.7 722,1215C723,1210.3 724.3,1203 726,1203Z" fill="#ffb419"/>
<path d="M262,1050C265.3,1051 278.5,1050.2 282,1056C285.5,1061.8 283.3,1076.8 283,1085C282.7,1093.2 277.2,1101 280,1105C282.8,1109 293.3,1107 300,1109C306.7,1111 313.3,1113.3 320,1117C326.7,1120.7 334,1126.3 340,1131C346,1135.7 350.7,1140.7 356,1145C361.3,1149.3 368,1152 372,1157C376,1162 377.3,1169.3 380,1175C382.7,1180.7 384.7,1186 388,1191C391.3,1196 396,1200 400,1205C404,1210 408,1216 412,1221C416,1226 420,1231 424,1235C428,1239 431.7,1242 436,1245C440.3,1248 444.7,1248.8 450,1253C455.3,1257.2 465,1267.2 468,1270L262,1270Z" fill="#ffd71e"/>
<path d="M310,1181C311.7,1181 315,1191 320,1195C325,1199 334,1201 340,1205C346,1209 351.3,1214 356,1219C360.7,1224 362.7,1230.7 368,1235C373.3,1239.3 382.7,1239.2 388,1245C393.3,1250.8 407.3,1265.8 400,1270C392.7,1274.2 353.7,1275.8 344,1270C334.3,1264.2 343.3,1243.8 342,1235C340.7,1226.2 339.7,1222.7 336,1217C332.3,1211.3 324.3,1204.7 320,1201C315.7,1197.3 311.7,1198.3 310,1195C308.3,1191.7 308.3,1181 310,1181Z" fill="#ffb419"/>
<path d="M512,1113C514,1110.7 517.7,1109 520,1111C522.3,1113 525.3,1117.7 526,1125C526.7,1132.3 524,1145 524,1155C524,1165 526.3,1176 526,1185C525.7,1194 524.3,1204.7 522,1209C519.7,1213.3 514.3,1215 512,1211C509.7,1207 508,1194.3 508,1185C508,1175.7 512,1165 512,1155C512,1145 508,1132 508,1125C508,1118 510,1115.3 512,1113Z" fill="#ffd71e"/>
<path d="M271,1055C271.8,1020.5 275.2,1024.2 276,1055C276.8,1085.8 276.3,1205.5 276,1240C275.7,1274.5 274.8,1258.3 274,1262C273.2,1265.7 271.5,1296.5 271,1262C270.5,1227.5 270.2,1089.5 271,1055Z" fill="#ebff32"/>
<path d="M365.9,1107C365.7,1108.9 362.6,1111.1 358.7,1112.1C354.8,1113 347.7,1113.4 342.3,1113C336.9,1112.5 330,1110.9 326.3,1109.2C322.6,1107.6 319.9,1104.9 320.1,1103C320.3,1101.1 323.4,1098.9 327.3,1097.9C331.2,1097 338.3,1096.6 343.7,1097C349.1,1097.5 356,1099.1 359.7,1100.8C363.4,1102.4 366.1,1105.1 365.9,1107Z" fill="#ff8c0f"/>
<path d="M482,1230C482,1235.9 481.2,1243.5 480.2,1247.7C479.2,1251.8 477.4,1255 476,1255C474.6,1255 472.8,1251.8 471.8,1247.7C470.8,1243.5 470,1235.9 470,1230C470,1224.1 470.8,1216.5 471.8,1212.3C472.8,1208.2 474.6,1205 476,1205C477.4,1205 479.2,1208.2 480.2,1212.3C481.2,1216.5 482,1224.1 482,1230Z" fill="#ff8c0f"/>
<path d="M507.9,1106.6C507.7,1107.5 506.4,1108.5 504.8,1108.9C503.2,1109.3 500.4,1109.3 498.3,1108.9C496.2,1108.6 493.6,1107.6 492.2,1106.7C490.9,1105.8 490,1104.4 490.1,1103.4C490.3,1102.5 491.6,1101.5 493.2,1101.1C494.8,1100.7 497.6,1100.7 499.7,1101.1C501.8,1101.4 504.4,1102.4 505.8,1103.3C507.1,1104.2 508,1105.6 507.9,1106.6Z" fill="#ffd71e"/>
<path d="M548,1056C549.7,1048.7 556.3,1047.8 558,1056C559.7,1064.2 559,1096.3 558,1105C557,1113.7 553.7,1108.8 552,1108C550.3,1107.2 548.7,1108.7 548,1100C547.3,1091.3 546.3,1063.3 548,1056Z" fill="#ffd71e"/>
<path d="M558,1209C559.7,1200.5 566.3,1200.5 568,1209C569.7,1217.5 569.7,1251.5 568,1260C566.3,1268.5 559.7,1268.5 558,1260C556.3,1251.5 556.3,1217.5 558,1209Z" fill="#ffd71e"/>
<path d="M580,1109C580,1112.8 579.1,1117.6 577.9,1120.3C576.8,1123 574.6,1125 573,1125C571.4,1125 569.2,1123 568.1,1120.3C566.9,1117.6 566,1112.8 566,1109C566,1105.2 566.9,1100.4 568.1,1097.7C569.2,1095 571.4,1093 573,1093C574.6,1093 576.8,1095 577.9,1097.7C579.1,1100.4 580,1105.2 580,1109Z" fill="#ffd71e"/>
</g>
<g fill="none" stroke="#007800" stroke-width="1" clip-path="url(#cp)">
<path d="M514.4,239 L514.4,383M271,381.5 L514,383 L557,383M297,382 L295.6,636M557,383 L556.8,642.5M557,388.5 L781,388.8 L781,391.5M781,239 L781,391.5 L832,397 L1054,397M832.5,397 L831,644M1054,239 L1054,429 L1098,426 L1227,402M1098.4,426 L1099,724M271,636 L296,636 L400,639 L478,642 L557,642.5 L737,643.5 L831,644 L990,646.5 L1099,646M477.5,642 L477,903M736.5,643.5 L736.5,906M271,899.5 L446,902.5 L477,903 L737,906 L990,904.5M445.6,902.5 L445.6,1098.6M705.4,906 L705.4,1066M990,646.5 L989.6,904.5M990,742 L1095,741 L1099,726M1099,724 L1205,723 L1227,722.4M1205.6,723 L1207.5,1003.4M1031,1008 L1207,1003.4 L1227,1003M989.6,904.5 L993,909 L991,929 L1009,968 L1029,975 L1034,985 L1030,1007 L1034,1021 L1058,1031 L1098,1047 L1110,1079 L1132,1084 L1149,1098 L1165,1094 L1171,1099 L1164,1120 L1177,1129 L1193,1128 L1192,1160 L1200,1167 L1214,1173 L1213.5,1195 L1222,1215.3 L1216.7,1231 L1216.7,1246.7 L1227.3,1249.7M1222,1215.3 L1227,1215.3M1222,1216 L1150,1259.3M774,1188 L802,1181 L1057,1031M705.4,1066 L512,1120 L500,1120M445.6,1098.6 L473,1135 L493,1135 L500,1120M512,1120 L516,1124 L503,1142 L515,1172 L507,1195 L514,1212 L530,1209 L556,1237 L543,1259M272,1201 L445.6,1098.6M272,1047 L286,1080 L321.5,1172.3M286,1080 L358,1033 L445.6,1033M705.4,1066 L774,1188M802,1181 L849,1259"/>
</g>
<g fill="none" stroke="#000" stroke-width="1" clip-path="url(#cp)">
<circle cx="829.2" cy="648.4" r="212"/>
<circle cx="690.5" cy="796.8" r="212.2"/>
<circle cx="749" cy="937.2" r="212.2"/>
<circle cx="555.3" cy="1008.4" r="212.2"/>
</g>
<defs>
<path id="b0" d="M-6,-17h1v1h-1zm-1,1h2v1h-2zm0,1h2v1h-2zm-1,1h1v1h-1zm2,0h1v1h-1zm-2,1h1v1h-1zm2,0h1v1h-1zm3,0h1v1h-1zm-6,1h1v1h-1zm3,0h1v1h-1zm2,0h1v1h-1zm-5,1h1v1h-1zm2,0h1v1h-1zm3,0h1v1h-1zm-6,1h1v1h-1zm3,0h1v1h-1zm2,0h1v1h-1zm3,0h1v1h-1zm-7,1h1v1h-1zm2,0h2v1h-2zm4,0h1v1h-1zm-5,1h3v1h-3zm5,0h1v1h-1zm-4,1h1v1h-1zm3,0h1v1h-1zm-2,1h1v1h-1zm2,0h1v1h-1zm-1,1h1v1h-1zm1,1h1v1h-1zm1,1h1v1h-1zm1,1h1v1h-1zm1,1h1v1h-1zm1,1h1v1h-1z"/>
<path id="b1" d="M-6,-17h1v1h-1zm-1,1h2v1h-2zm0,1h2v1h-2zm-1,1h1v1h-1zm2,0h1v1h-1zm-2,1h1v1h-1zm2,0h1v1h-1zm3,0h1v1h-1zm-6,1h1v1h-1zm3,0h1v1h-1zm2,0h1v1h-1zm-5,1h1v1h-1zm2,0h1v1h-1zm3,0h1v1h-1zm-6,1h1v1h-1zm3,0h1v1h-1zm2,0h1v1h-1zm-4,1h1v1h-1zm2,0h2v1h-2zm5,0h1v1h-1zm-6,1h3v1h-3zm5,0h1v1h-1zm-4,1h1v1h-1zm3,0h1v1h-1zm-2,1h1v1h-1zm2,0h1v1h-1zm-1,1h1v1h-1zm1,1h1v1h-1zm1,1h1v1h-1zm1,1h1v1h-1zm1,1h1v1h-1zm1,1h1v1h-1z"/>
<path id="b2" d="M-6,-17h1v1h-1zm-1,1h2v1h-2zm0,1h2v1h-2zm-1,1h1v1h-1zm2,0h1v1h-1zm-2,1h1v1h-1zm2,0h1v1h-1zm3,0h1v1h-1zm-6,1h1v1h-1zm3,0h1v1h-1zm2,0h1v1h-1zm-5,1h1v1h-1zm2,0h1v1h-1zm3,0h1v1h-1zm-6,1h1v1h-1zm3,0h1v1h-1zm2,0h1v1h-1zm-4,1h1v1h-1zm2,0h2v1h-2zm-1,1h3v1h-3zm5,0h1v1h-1zm-4,1h1v1h-1zm3,0h1v1h-1zm-2,1h1v1h-1zm2,0h1v1h-1zm-1,1h1v1h-1zm1,1h1v1h-1zm1,1h1v1h-1zm1,1h1v1h-1zm1,1h1v1h-1zm1,1h1v1h-1z"/>
<path id="b3" d="M-6,-17h1v1h-1zm-1,1h2v1h-2zm0,1h2v1h-2zm-1,1h1v1h-1zm2,0h1v1h-1zm-2,1h1v1h-1zm2,0h1v1h-1zm3,0h1v1h-1zm-6,1h1v1h-1zm3,0h1v1h-1zm2,0h1v1h-1zm-5,1h1v1h-1zm2,0h1v1h-1zm3,0h1v1h-1zm-6,1h1v1h-1zm3,0h1v1h-1zm2,0h1v1h-1zm-4,1h1v1h-1zm2,0h2v1h-2zm-1,1h3v1h-3zm5,0h1v1h-1zm-4,1h1v1h-1zm3,0h1v1h-1zm-2,1h1v1h-1zm2,0h1v1h-1zm-1,1h1v1h-1zm1,1h1v1h-1zm1,1h1v1h-1zm1,1h1v1h-1zm1,1h1v1h-1zm1,1h1v1h-1z"/>
<path id="b4" d="M-6,-17h1v1h-1zm-1,1h2v1h-2zm0,1h2v1h-2zm-1,1h1v1h-1zm2,0h1v1h-1zm-2,1h1v1h-1zm2,0h1v1h-1zm3,0h1v1h-1zm-6,1h1v1h-1zm3,0h1v1h-1zm2,0h1v1h-1zm-5,1h1v1h-1zm2,0h1v1h-1zm3,0h1v1h-1zm-6,1h1v1h-1zm3,0h1v1h-1zm2,0h1v1h-1zm-4,1h1v1h-1zm2,0h2v1h-2zm-1,1h3v1h-3zm1,1h1v1h-1zm3,0h1v1h-1zm-2,1h2v1h-2zm1,1h1v1h-1zm1,1h1v1h-1zm1,1h1v1h-1zm1,1h1v1h-1zm1,1h1v1h-1zm1,1h1v1h-1z"/>
<path id="b5" d="M-6,-16h1v1h-1zm-1,1h2v1h-2zm0,1h2v1h-2zm-1,1h1v1h-1zm2,0h1v1h-1zm3,0h1v1h-1zm-6,1h1v1h-1zm3,0h1v1h-1zm2,0h1v1h-1zm-5,1h1v1h-1zm2,0h1v1h-1zm3,0h1v1h-1zm-6,1h1v1h-1zm3,0h1v1h-1zm2,0h1v1h-1zm-4,1h1v1h-1zm2,0h2v1h-2zm-1,1h3v1h-3zm1,1h1v1h-1zm3,0h1v1h-1zm-2,1h2v1h-2zm1,1h1v1h-1zm1,1h1v1h-1zm1,1h1v1h-1zm1,1h1v1h-1zm1,1h1v1h-1zm1,1h1v1h-1z"/>
<path id="b6" d="M-6,-16h1v1h-1zm-1,1h2v1h-2zm0,1h2v1h-2zm-1,1h1v1h-1zm2,0h1v1h-1zm3,0h1v1h-1zm-6,1h1v1h-1zm3,0h1v1h-1zm2,0h1v1h-1zm-5,1h1v1h-1zm2,0h1v1h-1zm3,0h1v1h-1zm-6,1h1v1h-1zm3,0h1v1h-1zm2,0h1v1h-1zm-4,1h1v1h-1zm2,0h2v1h-2zm-1,1h3v1h-3zm1,1h1v1h-1zm1,1h1v1h-1zm2,0h1v1h-1zm-1,1h1v1h-1zm1,1h1v1h-1zm1,1h1v1h-1zm1,1h1v1h-1zm1,1h1v1h-1zm1,1h1v1h-1z"/>
<path id="b7" d="M-6,-16h1v1h-1zm-1,1h2v1h-2zm0,1h2v1h-2zm-1,1h1v1h-1zm2,0h1v1h-1zm3,0h1v1h-1zm-6,1h1v1h-1zm3,0h1v1h-1zm2,0h1v1h-1zm-5,1h1v1h-1zm2,0h1v1h-1zm3,0h1v1h-1zm-6,1h1v1h-1zm3,0h1v1h-1zm2,0h1v1h-1zm-4,1h1v1h-1zm2,0h2v1h-2zm-1,1h3v1h-3zm1,1h1v1h-1zm1,1h1v1h-1zm1,1h1v1h-1zm1,1h1v1h-1zm1,1h1v1h-1zm1,1h1v1h-1zm1,1h1v1h-1zm1,1h1v1h-1z"/>
<path id="b8" d="M-7,-16h1v1h-1zm-1,1h2v1h-2zm0,1h2v1h-2zm-1,1h1v1h-1zm2,0h1v1h-1zm4,0h1v1h-1zm-6,1h1v1h-1zm2,0h1v1h-1zm3,0h1v1h-1zm-6,1h1v1h-1zm3,0h1v1h-1zm3,0h1v1h-1zm-6,1h1v1h-1zm3,0h1v1h-1zm2,0h1v1h-1zm-4,1h1v1h-1zm2,0h2v1h-2zm-1,1h3v1h-3zm1,1h1v1h-1zm1,1h1v1h-1zm1,1h1v1h-1zm1,1h1v1h-1zm1,1h1v1h-1zm1,1h1v1h-1zm1,1h1v1h-1zm1,1h1v1h-1z"/>
<path id="b9" d="M-7,-16h1v1h-1zm-1,1h2v1h-2zm0,1h2v1h-2zm-1,1h1v1h-1zm2,0h1v1h-1zm-3,1h1v1h-1zm3,0h1v1h-1zm3,0h1v1h-1zm-6,1h1v1h-1zm3,0h1v1h-1zm2,0h1v1h-1zm-6,1h1v1h-1zm4,0h1v1h-1zm2,0h1v1h-1zm-5,1h1v1h-1zm3,0h2v1h-2zm-2,1h1v1h-1zm2,0h2v1h-2zm-1,1h2v1h-2zm1,1h1v1h-1zm1,1h2v1h-2zm2,1h1v1h-1zm1,1h1v1h-1zm1,1h1v1h-1zm1,1h1v1h-1zm1,1h1v1h-1z"/>
<path id="b10" d="M-7,-16h1v1h-1zm-1,1h2v1h-2zm0,1h2v1h-2zm-1,1h1v1h-1zm2,0h1v1h-1zm-3,1h1v1h-1zm3,0h1v1h-1zm3,0h1v1h-1zm-6,1h1v1h-1zm3,0h1v1h-1zm2,0h1v1h-1zm-6,1h1v1h-1zm4,0h1v1h-1zm2,0h1v1h-1zm-5,1h1v1h-1zm3,0h2v1h-2zm-2,1h1v1h-1zm2,0h2v1h-2zm-1,1h2v1h-2zm1,1h1v1h-1zm1,1h2v1h-2zm2,1h1v1h-1zm1,1h1v1h-1zm1,1h1v1h-1zm1,1h1v1h-1zm1,1h1v1h-1z"/>
<path id="b11" d="M-7,-16h1v1h-1zm-1,1h2v1h-2zm0,1h2v1h-2zm-1,1h1v1h-1zm2,0h1v1h-1zm-2,1h1v1h-1zm2,0h1v1h-1zm-3,1h1v1h-1zm3,0h1v1h-1zm2,0h1v1h-1zm-5,1h1v1h-1zm3,0h1v1h-1zm2,0h1v1h-1zm-6,1h1v1h-1zm4,0h2v1h-2zm-3,1h1v1h-1zm3,0h2v1h-2zm-2,1h3v1h-3zm2,1h1v1h-1zm1,1h1v1h-1zm1,1h1v1h-1zm1,1h1v1h-1zm1,1h2v1h-2zm2,1h1v1h-1zm1,1h1v1h-1z"/>
<path id="b12" d="M-8,-16h1v1h-1zm0,1h1v1h-1zm-1,1h2v1h-2zm0,1h2v1h-2zm-1,1h1v1h-1zm2,0h1v1h-1zm-2,1h1v1h-1zm2,0h1v1h-1zm-3,1h1v1h-1zm4,0h2v1h-2zm-4,1h1v1h-1zm4,0h2v1h-2zm-3,1h1v1h-1zm3,0h1v1h-1zm-2,1h3v1h-3zm2,1h1v1h-1zm1,1h1v1h-1zm1,1h1v1h-1zm1,1h1v1h-1zm1,1h2v1h-2zm2,1h1v1h-1zm1,1h1v1h-1z"/>
<path id="b13" d="M-8,-16h1v1h-1zm0,1h1v1h-1zm-1,1h2v1h-2zm0,1h2v1h-2zm-1,1h1v1h-1zm2,0h1v1h-1zm-2,1h1v1h-1zm2,0h1v1h-1zm-3,1h1v1h-1zm3,0h1v1h-1zm-3,1h1v1h-1zm3,0h1v1h-1zm2,0h1v1h-1zm-4,1h1v1h-1zm2,0h2v1h-2zm-1,1h3v1h-3zm1,1h2v1h-2zm2,1h1v1h-1zm1,1h1v1h-1zm1,1h1v1h-1zm1,1h2v1h-2zm2,1h1v1h-1zm1,1h1v1h-1z"/>
<path id="b14" d="M-8,-16h1v1h-1zm0,1h1v1h-1zm-1,1h2v1h-2zm0,1h2v1h-2zm-1,1h1v1h-1zm2,0h1v1h-1zm-2,1h1v1h-1zm2,0h1v1h-1zm-3,1h1v1h-1zm3,0h1v1h-1zm-3,1h1v1h-1zm3,0h1v1h-1zm-2,1h1v1h-1zm2,0h2v1h-2zm-1,1h2v1h-2zm1,1h2v1h-2zm2,1h1v1h-1zm1,1h1v1h-1zm1,1h1v1h-1zm1,1h2v1h-2zm2,1h1v1h-1zm1,1h1v1h-1z"/>
<path id="b15" d="M-8,-16h1v1h-1zm0,1h1v1h-1zm-1,1h2v1h-2zm0,1h2v1h-2zm-1,1h1v1h-1zm2,0h1v1h-1zm-2,1h1v1h-1zm2,0h1v1h-1zm-3,1h1v1h-1zm3,0h1v1h-1zm-3,1h1v1h-1zm3,0h1v1h-1zm-2,1h1v1h-1zm2,0h1v1h-1zm-1,1h3v1h-3zm1,1h2v1h-2zm2,1h1v1h-1zm1,1h1v1h-1zm1,1h1v1h-1zm1,1h2v1h-2zm2,1h1v1h-1zm1,1h1v1h-1z"/>
<path id="b16" d="M-8,-15h1v1h-1zm-1,1h2v1h-2zm0,1h2v1h-2zm-1,1h1v1h-1zm2,0h1v1h-1zm-2,1h1v1h-1zm2,0h1v1h-1zm-3,1h1v1h-1zm3,0h1v1h-1zm-3,1h1v1h-1zm3,0h1v1h-1zm-2,1h1v1h-1zm2,0h1v1h-1zm-1,1h2v1h-2zm1,1h2v1h-2zm2,1h1v1h-1zm1,1h1v1h-1zm1,1h1v1h-1zm1,1h2v1h-2zm2,1h1v1h-1zm1,1h1v1h-1z"/>
<path id="b17" d="M-9,-15h1v1h-1zm0,1h1v1h-1zm-1,1h2v1h-2zm0,1h2v1h-2zm0,1h2v1h-2zm0,1h1v1h-1zm2,0h1v1h-1zm-3,1h1v1h-1zm3,0h1v1h-1zm-3,1h1v1h-1zm3,0h1v1h-1zm-2,1h3v1h-3zm2,1h1v1h-1zm1,1h1v1h-1zm1,1h2v1h-2zm2,1h1v1h-1zm1,1h1v1h-1zm1,1h2v1h-2zm2,1h1v1h-1z"/>
<path id="b18" d="M-9,-15h1v1h-1zm0,1h1v1h-1zm2,0h1v1h-1zm-3,1h1v1h-1zm3,0h1v1h-1zm-3,1h1v1h-1zm2,0h1v1h-1zm3,0h1v1h-1zm-5,1h1v1h-1zm2,0h1v1h-1zm3,0h1v1h-1zm2,0h1v1h-1zm-7,1h1v1h-1zm2,0h1v1h-1zm2,0h1v1h-1zm3,0h1v1h-1zm-8,1h1v1h-1zm3,0h1v1h-1zm2,0h1v1h-1zm2,0h1v1h-1zm3,0h1v1h-1zm-10,1h1v1h-1zm2,0h1v1h-1zm3,0h1v1h-1zm2,0h1v1h-1zm3,0h1v1h-1zm-9,1h2v1h-2zm4,0h1v1h-1zm2,0h1v1h-1zm2,0h1v1h-1zm-6,1h2v1h-2zm4,0h1v1h-1zm2,0h1v1h-1zm-5,1h1v1h-1zm2,0h1v1h-1zm3,0h1v1h-1zm-4,1h2v1h-2zm4,0h1v1h-1zm-2,1h2v1h-2zm1,1h1v1h-1zm1,1h2v1h-2zm2,1h1v1h-1z"/>
<path id="b19" d="M-9,-15h1v1h-1zm0,1h1v1h-1zm2,0h1v1h-1zm-3,1h1v1h-1zm3,0h1v1h-1zm-3,1h1v1h-1zm2,0h1v1h-1zm3,0h1v1h-1zm-5,1h1v1h-1zm2,0h1v1h-1zm3,0h1v1h-1zm2,0h1v1h-1zm-7,1h1v1h-1zm2,0h1v1h-1zm2,0h1v1h-1zm3,0h1v1h-1zm-8,1h1v1h-1zm3,0h1v1h-1zm2,0h1v1h-1zm2,0h1v1h-1zm-7,1h1v1h-1zm2,0h1v1h-1zm3,0h1v1h-1zm2,0h1v1h-1zm3,0h1v1h-1zm-9,1h2v1h-2zm4,0h1v1h-1zm2,0h1v1h-1zm3,0h1v1h-1zm-7,1h2v1h-2zm4,0h1v1h-1zm2,0h1v1h-1zm-5,1h1v1h-1zm2,0h1v1h-1zm3,0h1v1h-1zm-4,1h2v1h-2zm4,0h1v1h-1zm-2,1h2v1h-2zm1,1h1v1h-1zm1,1h2v1h-2zm2,1h1v1h-1z"/>
<path id="b20" d="M-9,-15h1v1h-1zm0,1h1v1h-1zm2,0h1v1h-1zm-3,1h1v1h-1zm3,0h1v1h-1zm-3,1h1v1h-1zm2,0h1v1h-1zm3,0h1v1h-1zm-5,1h1v1h-1zm2,0h1v1h-1zm3,0h1v1h-1zm2,0h1v1h-1zm-7,1h1v1h-1zm2,0h1v1h-1zm2,0h1v1h-1zm3,0h1v1h-1zm-8,1h1v1h-1zm3,0h1v1h-1zm2,0h1v1h-1zm2,0h1v1h-1zm-7,1h1v1h-1zm2,0h1v1h-1zm3,0h1v1h-1zm2,0h1v1h-1zm-6,1h2v1h-2zm4,0h1v1h-1zm2,0h1v1h-1zm3,0h1v1h-1zm-7,1h2v1h-2zm4,0h1v1h-1zm3,0h1v1h-1zm-6,1h1v1h-1zm2,0h1v1h-1zm3,0h1v1h-1zm-4,1h2v1h-2zm4,0h1v1h-1zm-2,1h2v1h-2zm1,1h1v1h-1zm1,1h2v1h-2zm2,1h1v1h-1z"/>
<path id="b21" d="M-9,-15h1v1h-1zm0,1h1v1h-1zm2,0h1v1h-1zm-3,1h1v1h-1zm3,0h1v1h-1zm-3,1h1v1h-1zm2,0h1v1h-1zm3,0h1v1h-1zm-6,1h1v1h-1zm3,0h1v1h-1zm3,0h1v1h-1zm2,0h1v1h-1zm-8,1h1v1h-1zm2,0h1v1h-1zm3,0h1v1h-1zm3,0h1v1h-1zm-9,1h1v1h-1zm3,0h1v1h-1zm3,0h1v1h-1zm2,0h1v1h-1zm-8,1h1v1h-1zm2,0h1v1h-1zm3,0h1v1h-1zm3,0h1v1h-1zm-7,1h2v1h-2zm4,0h1v1h-1zm3,0h1v1h-1zm2,0h1v1h-1zm-7,1h2v1h-2zm5,0h1v1h-1zm2,0h1v1h-1zm-6,1h2v1h-2zm3,0h1v1h-1zm3,0h1v1h-1zm-4,1h2v1h-2zm3,0h1v1h-1zm-2,1h3v1h-3zm2,1h1v1h-1zm1,1h2v1h-2zm2,1h1v1h-1z"/>
<path id="b22" d="M-9,-15h1v1h-1zm0,1h1v1h-1zm2,0h1v1h-1zm-3,1h1v1h-1zm3,0h1v1h-1zm-3,1h1v1h-1zm2,0h1v1h-1zm3,0h1v1h-1zm-6,1h1v1h-1zm3,0h1v1h-1zm3,0h1v1h-1zm2,0h1v1h-1zm-8,1h1v1h-1zm2,0h1v1h-1zm3,0h1v1h-1zm3,0h1v1h-1zm-9,1h1v1h-1zm3,0h1v1h-1zm3,0h1v1h-1zm2,0h1v1h-1zm-8,1h1v1h-1zm2,0h1v1h-1zm3,0h1v1h-1zm3,0h1v1h-1zm-7,1h2v1h-2zm4,0h1v1h-1zm3,0h1v1h-1zm-5,1h2v1h-2zm5,0h1v1h-1zm2,0h1v1h-1zm-6,1h2v1h-2zm3,0h1v1h-1zm3,0h1v1h-1zm-4,1h2v1h-2zm3,0h1v1h-1zm-2,1h3v1h-3zm2,1h1v1h-1zm1,1h2v1h-2zm2,1h1v1h-1z"/>
<path id="b23" d="M-9,-15h1v1h-1zm0,1h1v1h-1zm2,0h1v1h-1zm-3,1h1v1h-1zm3,0h1v1h-1zm-3,1h1v1h-1zm2,0h1v1h-1zm3,0h1v1h-1zm-6,1h1v1h-1zm3,0h1v1h-1zm3,0h1v1h-1zm2,0h1v1h-1zm-8,1h1v1h-1zm2,0h1v1h-1zm3,0h1v1h-1zm3,0h1v1h-1zm-9,1h1v1h-1zm3,0h1v1h-1zm3,0h1v1h-1zm2,0h1v1h-1zm-8,1h1v1h-1zm2,0h1v1h-1zm3,0h1v1h-1zm3,0h1v1h-1zm-7,1h2v1h-2zm4,0h1v1h-1zm3,0h1v1h-1zm-5,1h2v1h-2zm5,0h1v1h-1zm-4,1h2v1h-2zm3,0h1v1h-1zm3,0h1v1h-1zm-4,1h2v1h-2zm4,0h1v1h-1zm-3,1h3v1h-3zm2,1h1v1h-1zm1,1h2v1h-2zm2,1h1v1h-1z"/>
<path id="b24" d="M-9,-15h1v1h-1zm0,1h1v1h-1zm2,0h1v1h-1zm-3,1h1v1h-1zm3,0h1v1h-1zm-3,1h1v1h-1zm2,0h1v1h-1zm3,0h1v1h-1zm-6,1h1v1h-1zm3,0h1v1h-1zm3,0h1v1h-1zm2,0h1v1h-1zm-8,1h1v1h-1zm2,0h1v1h-1zm3,0h1v1h-1zm3,0h1v1h-1zm-9,1h1v1h-1zm3,0h1v1h-1zm3,0h1v1h-1zm2,0h1v1h-1zm-8,1h1v1h-1zm2,0h1v1h-1zm3,0h1v1h-1zm3,0h1v1h-1zm-7,1h2v1h-2zm4,0h1v1h-1zm3,0h1v1h-1zm-5,1h2v1h-2zm5,0h1v1h-1zm-4,1h2v1h-2zm3,0h1v1h-1zm2,0h1v1h-1zm-3,1h2v1h-2zm3,0h1v1h-1zm-2,1h3v1h-3zm2,1h1v1h-1zm1,1h2v1h-2zm2,1h1v1h-1z"/>
<path id="b25" d="M-9,-15h1v1h-1zm0,1h1v1h-1zm2,0h1v1h-1zm-3,1h1v1h-1zm3,0h1v1h-1zm-3,1h1v1h-1zm2,0h1v1h-1zm3,0h1v1h-1zm-6,1h1v1h-1zm3,0h1v1h-1zm3,0h1v1h-1zm2,0h1v1h-1zm-8,1h1v1h-1zm2,0h1v1h-1zm3,0h1v1h-1zm3,0h1v1h-1zm-9,1h1v1h-1zm3,0h1v1h-1zm3,0h1v1h-1zm2,0h1v1h-1zm-8,1h1v1h-1zm2,0h1v1h-1zm3,0h1v1h-1zm3,0h1v1h-1zm-7,1h2v1h-2zm4,0h1v1h-1zm3,0h1v1h-1zm-5,1h2v1h-2zm5,0h1v1h-1zm-4,1h2v1h-2zm3,0h1v1h-1zm-1,1h2v1h-2zm3,0h1v1h-1zm-2,1h3v1h-3zm2,1h1v1h-1zm1,1h2v1h-2zm2,1h1v1h-1z"/>
<path id="b26" d="M-9,-15h1v1h-1zm0,1h1v1h-1zm2,0h1v1h-1zm-3,1h1v1h-1zm3,0h1v1h-1zm-3,1h1v1h-1zm2,0h1v1h-1zm3,0h1v1h-1zm-6,1h1v1h-1zm3,0h1v1h-1zm3,0h1v1h-1zm2,0h1v1h-1zm-8,1h1v1h-1zm2,0h1v1h-1zm3,0h1v1h-1zm3,0h1v1h-1zm-9,1h1v1h-1zm3,0h1v1h-1zm3,0h1v1h-1zm2,0h1v1h-1zm-8,1h1v1h-1zm2,0h1v1h-1zm3,0h1v1h-1zm3,0h1v1h-1zm-7,1h2v1h-2zm4,0h1v1h-1zm3,0h1v1h-1zm-5,1h2v1h-2zm5,0h1v1h-1zm-4,1h2v1h-2zm3,0h1v1h-1zm-1,1h2v1h-2zm1,1h2v1h-2zm2,1h1v1h-1zm1,1h2v1h-2zm2,1h1v1h-1z"/>
<path id="b27" d="M-9,-15h1v1h-1zm0,1h1v1h-1zm2,0h1v1h-1zm-3,1h1v1h-1zm3,0h1v1h-1zm-3,1h1v1h-1zm2,0h1v1h-1zm3,0h1v1h-1zm-6,1h1v1h-1zm3,0h1v1h-1zm3,0h1v1h-1zm2,0h1v1h-1zm-8,1h1v1h-1zm2,0h1v1h-1zm3,0h1v1h-1zm3,0h1v1h-1zm-9,1h1v1h-1zm3,0h1v1h-1zm3,0h1v1h-1zm2,0h1v1h-1zm-8,1h1v1h-1zm2,0h1v1h-1zm3,0h1v1h-1zm3,0h1v1h-1zm-7,1h2v1h-2zm4,0h1v1h-1zm3,0h1v1h-1zm-5,1h2v1h-2zm5,0h1v1h-1zm-4,1h2v1h-2zm3,0h1v1h-1zm-1,1h2v1h-2zm1,1h2v1h-2zm2,1h1v1h-1zm1,1h2v1h-2zm2,1h1v1h-1z"/>
<path id="b28" d="M-9,-15h1v1h-1zm0,1h1v1h-1zm2,0h1v1h-1zm-3,1h1v1h-1zm3,0h1v1h-1zm-3,1h1v1h-1zm2,0h1v1h-1zm3,0h1v1h-1zm-6,1h1v1h-1zm3,0h1v1h-1zm3,0h1v1h-1zm-6,1h1v1h-1zm2,0h1v1h-1zm3,0h1v1h-1zm3,0h1v1h-1zm-9,1h1v1h-1zm3,0h1v1h-1zm3,0h1v1h-1zm3,0h1v1h-1zm-9,1h1v1h-1zm2,0h1v1h-1zm3,0h1v1h-1zm3,0h1v1h-1zm-7,1h2v1h-2zm4,0h1v1h-1zm3,0h1v1h-1zm-5,1h2v1h-2zm5,0h1v1h-1zm-4,1h2v1h-2zm3,0h1v1h-1zm-1,1h2v1h-2zm1,1h2v1h-2zm2,1h1v1h-1zm1,1h2v1h-2zm2,1h1v1h-1z"/>
<path id="b29" d="M-9,-15h1v1h-1zm0,1h1v1h-1zm2,0h1v1h-1zm-3,1h1v1h-1zm3,0h1v1h-1zm-3,1h1v1h-1zm2,0h1v1h-1zm3,0h1v1h-1zm-6,1h1v1h-1zm3,0h1v1h-1zm3,0h1v1h-1zm-6,1h1v1h-1zm2,0h1v1h-1zm3,0h1v1h-1zm-6,1h1v1h-1zm3,0h1v1h-1zm3,0h1v1h-1zm3,0h1v1h-1zm-9,1h1v1h-1zm2,0h1v1h-1zm3,0h1v1h-1zm4,0h1v1h-1zm-8,1h2v1h-2zm4,0h1v1h-1zm3,0h1v1h-1zm-5,1h2v1h-2zm5,0h1v1h-1zm-4,1h2v1h-2zm3,0h1v1h-1zm-1,1h2v1h-2zm1,1h2v1h-2zm2,1h1v1h-1zm1,1h2v1h-2zm2,1h1v1h-1z"/>
<path id="b30" d="M-9,-15h1v1h-1zm0,1h1v1h-1zm2,0h1v1h-1zm-3,1h1v1h-1zm3,0h1v1h-1zm-3,1h1v1h-1zm2,0h1v1h-1zm3,0h1v1h-1zm-6,1h1v1h-1zm3,0h1v1h-1zm3,0h1v1h-1zm-6,1h1v1h-1zm2,0h1v1h-1zm3,0h1v1h-1zm-6,1h1v1h-1zm3,0h1v1h-1zm3,0h1v1h-1zm2,0h1v1h-1zm-8,1h1v1h-1zm2,0h1v1h-1zm3,0h1v1h-1zm3,0h1v1h-1zm-7,1h2v1h-2zm4,0h1v1h-1zm3,0h1v1h-1zm-5,1h2v1h-2zm4,0h1v1h-1zm-3,1h2v1h-2zm3,0h1v1h-1zm-1,1h2v1h-2zm1,1h2v1h-2zm2,1h1v1h-1zm1,1h2v1h-2zm2,1h1v1h-1z"/>
<path id="b31" d="M-9,-15h1v1h-1zm0,1h1v1h-1zm2,0h1v1h-1zm-3,1h1v1h-1zm3,0h1v1h-1zm-3,1h1v1h-1zm2,0h1v1h-1zm3,0h1v1h-1zm-6,1h1v1h-1zm3,0h1v1h-1zm3,0h1v1h-1zm-6,1h1v1h-1zm2,0h1v1h-1zm3,0h1v1h-1zm-6,1h1v1h-1zm3,0h1v1h-1zm3,0h1v1h-1zm-6,1h1v1h-1zm2,0h1v1h-1zm3,0h1v1h-1zm3,0h1v1h-1zm-7,1h2v1h-2zm4,0h1v1h-1zm3,0h1v1h-1zm-5,1h2v1h-2zm4,0h1v1h-1zm-3,1h2v1h-2zm3,0h1v1h-1zm-1,1h2v1h-2zm1,1h2v1h-2zm2,1h1v1h-1zm1,1h2v1h-2zm2,1h1v1h-1z"/>
<path id="b32" d="M-6,-16h1v1h-1zm-1,1h2v1h-2zm0,1h2v1h-2zm-1,1h1v1h-1zm2,0h1v1h-1zm3,0h1v1h-1zm-6,1h1v1h-1zm3,0h1v1h-1zm2,0h1v1h-1zm-5,1h1v1h-1zm2,0h1v1h-1zm3,0h1v1h-1zm-6,1h1v1h-1zm3,0h1v1h-1zm2,0h1v1h-1zm-4,1h1v1h-1zm2,0h2v1h-2zm-1,1h3v1h-3zm1,1h1v1h-1zm1,1h1v1h-1zm2,0h1v1h-1zm-1,1h1v1h-1zm1,1h1v1h-1zm1,1h1v1h-1zm1,1h1v1h-1zm1,1h1v1h-1zm1,1h1v1h-1z"/>
<path id="b33" d="M-7,-16h1v1h-1zm-1,1h2v1h-2zm0,1h2v1h-2zm-1,1h1v1h-1zm2,0h1v1h-1zm3,0h1v1h-1zm-5,1h1v1h-1zm2,0h1v1h-1zm2,0h1v1h-1zm-5,1h1v1h-1zm3,0h1v1h-1zm2,0h1v1h-1zm-5,1h1v1h-1zm3,0h2v1h-2zm-2,1h1v1h-1zm2,0h2v1h-2zm-1,1h2v1h-2zm1,1h1v1h-1zm1,1h1v1h-1zm1,1h1v1h-1zm1,1h1v1h-1zm1,1h1v1h-1zm1,1h1v1h-1zm1,1h1v1h-1zm1,1h1v1h-1z"/>
<path id="b34" d="M-7,-16h1v1h-1zm-1,1h2v1h-2zm0,1h2v1h-2zm-1,1h1v1h-1zm2,0h1v1h-1zm-2,1h1v1h-1zm2,0h1v1h-1zm-3,1h1v1h-1zm3,0h1v1h-1zm-3,1h1v1h-1zm3,0h1v1h-1zm2,0h1v1h-1zm-6,1h1v1h-1zm4,0h2v1h-2zm-3,1h1v1h-1zm3,0h2v1h-2zm-2,1h3v1h-3zm2,1h1v1h-1zm1,1h1v1h-1zm1,1h1v1h-1zm1,1h1v1h-1zm1,1h2v1h-2zm2,1h1v1h-1zm1,1h1v1h-1z"/>
<path id="b35" d="M-8,-15h1v1h-1zm-1,1h2v1h-2zm0,1h2v1h-2zm-1,1h1v1h-1zm2,0h1v1h-1zm-2,1h1v1h-1zm2,0h1v1h-1zm-3,1h1v1h-1zm3,0h1v1h-1zm-3,1h1v1h-1zm3,0h1v1h-1zm-2,1h1v1h-1zm2,0h1v1h-1zm-1,1h2v1h-2zm1,1h2v1h-2zm2,1h1v1h-1zm1,1h1v1h-1zm1,1h1v1h-1zm1,1h2v1h-2zm2,1h1v1h-1zm1,1h1v1h-1z"/>
<path id="b36" d="M-9,-15h1v1h-1zm0,1h1v1h-1zm2,0h1v1h-1zm-3,1h1v1h-1zm3,0h1v1h-1zm-3,1h1v1h-1zm2,0h1v1h-1zm3,0h1v1h-1zm-6,1h1v1h-1zm3,0h1v1h-1zm3,0h1v1h-1zm2,0h1v1h-1zm-8,1h1v1h-1zm2,0h1v1h-1zm3,0h1v1h-1zm3,0h1v1h-1zm-9,1h1v1h-1zm3,0h1v1h-1zm3,0h1v1h-1zm2,0h1v1h-1zm-8,1h1v1h-1zm2,0h1v1h-1zm3,0h1v1h-1zm3,0h1v1h-1zm-7,1h2v1h-2zm4,0h1v1h-1zm3,0h1v1h-1zm2,0h1v1h-1zm-7,1h2v1h-2zm5,0h1v1h-1zm2,0h1v1h-1zm-6,1h2v1h-2zm3,0h1v1h-1zm3,0h1v1h-1zm-4,1h2v1h-2zm3,0h1v1h-1zm-2,1h3v1h-3zm2,1h1v1h-1zm1,1h2v1h-2zm2,1h1v1h-1z"/>
<path id="b37" d="M-6,-17h1v1h-1zm-1,1h2v1h-2zm0,1h2v1h-2zm-1,1h1v1h-1zm2,0h1v1h-1zm-2,1h1v1h-1zm2,0h1v1h-1zm3,0h1v1h-1zm-6,1h1v1h-1zm3,0h1v1h-1zm2,0h1v1h-1zm-5,1h1v1h-1zm2,0h1v1h-1zm3,0h1v1h-1zm-6,1h1v1h-1zm3,0h1v1h-1zm2,0h1v1h-1zm-4,1h1v1h-1zm2,0h2v1h-2zm-1,1h3v1h-3zm5,0h1v1h-1zm-4,1h1v1h-1zm3,0h1v1h-1zm-2,1h1v1h-1zm2,0h1v1h-1zm-1,1h1v1h-1zm1,1h1v1h-1zm1,1h1v1h-1zm1,1h1v1h-1zm1,1h1v1h-1zm1,1h1v1h-1z"/>
<path id="b38" d="M-6,-16h1v1h-1zm-1,1h2v1h-2zm0,1h2v1h-2zm-1,1h1v1h-1zm2,0h1v1h-1zm3,0h1v1h-1zm-6,1h1v1h-1zm3,0h1v1h-1zm2,0h1v1h-1zm-5,1h1v1h-1zm2,0h1v1h-1zm3,0h1v1h-1zm-6,1h1v1h-1zm3,0h1v1h-1zm2,0h1v1h-1zm-4,1h1v1h-1zm2,0h2v1h-2zm-1,1h3v1h-3zm1,1h1v1h-1zm1,1h1v1h-1zm1,1h1v1h-1zm1,1h1v1h-1zm1,1h1v1h-1zm1,1h1v1h-1zm1,1h1v1h-1zm1,1h1v1h-1z"/>
<path id="b39" d="M-6,-16h1v1h-1zm-1,1h2v1h-2zm0,1h2v1h-2zm-1,1h1v1h-1zm2,0h1v1h-1zm3,0h1v1h-1zm-6,1h1v1h-1zm3,0h1v1h-1zm2,0h1v1h-1zm-5,1h1v1h-1zm2,0h1v1h-1zm3,0h1v1h-1zm-6,1h1v1h-1zm3,0h1v1h-1zm2,0h1v1h-1zm-4,1h1v1h-1zm2,0h2v1h-2zm-1,1h3v1h-3zm1,1h1v1h-1zm1,1h1v1h-1zm1,1h1v1h-1zm1,1h1v1h-1zm1,1h1v1h-1zm1,1h1v1h-1zm1,1h1v1h-1zm1,1h1v1h-1z"/>
<path id="b40" d="M-7,-16h1v1h-1zm-1,1h2v1h-2zm0,1h2v1h-2zm-1,1h1v1h-1zm2,0h1v1h-1zm-3,1h1v1h-1zm3,0h1v1h-1zm-3,1h1v1h-1zm3,0h1v1h-1zm2,0h1v1h-1zm-6,1h1v1h-1zm4,0h1v1h-1zm2,0h1v1h-1zm-5,1h1v1h-1zm3,0h2v1h-2zm-2,1h1v1h-1zm2,0h2v1h-2zm-1,1h2v1h-2zm1,1h1v1h-1zm1,1h2v1h-2zm2,1h1v1h-1zm1,1h1v1h-1zm1,1h1v1h-1zm1,1h1v1h-1zm1,1h1v1h-1z"/>
<path id="b41" d="M-7,-16h1v1h-1zm-1,1h2v1h-2zm0,1h2v1h-2zm-1,1h1v1h-1zm2,0h1v1h-1zm-2,1h1v1h-1zm2,0h1v1h-1zm-3,1h1v1h-1zm3,0h1v1h-1zm-3,1h1v1h-1zm3,0h2v1h-2zm-4,1h1v1h-1zm4,0h2v1h-2zm-3,1h1v1h-1zm3,0h1v1h-1zm-2,1h3v1h-3zm2,1h1v1h-1zm1,1h1v1h-1zm1,1h1v1h-1zm1,1h1v1h-1zm1,1h2v1h-2zm2,1h1v1h-1zm1,1h1v1h-1z"/>
<path id="b42" d="M-8,-16h1v1h-1zm0,1h1v1h-1zm-1,1h2v1h-2zm0,1h2v1h-2zm-1,1h1v1h-1zm2,0h1v1h-1zm-2,1h1v1h-1zm2,0h1v1h-1zm-3,1h1v1h-1zm4,0h1v1h-1zm-4,1h1v1h-1zm4,0h2v1h-2zm-3,1h1v1h-1zm3,0h2v1h-2zm-2,1h3v1h-3zm2,1h1v1h-1zm1,1h1v1h-1zm1,1h1v1h-1zm1,1h1v1h-1zm1,1h2v1h-2zm2,1h1v1h-1zm1,1h1v1h-1z"/>
<path id="b43" d="M-8,-16h1v1h-1zm0,1h1v1h-1zm-1,1h2v1h-2zm0,1h2v1h-2zm-1,1h1v1h-1zm2,0h1v1h-1zm-2,1h1v1h-1zm2,0h1v1h-1zm-3,1h1v1h-1zm3,0h1v1h-1zm-3,1h1v1h-1zm3,0h1v1h-1zm-2,1h1v1h-1zm2,0h1v1h-1zm-1,1h2v1h-2zm1,1h2v1h-2zm2,1h1v1h-1zm1,1h1v1h-1zm1,1h1v1h-1zm1,1h2v1h-2zm2,1h1v1h-1zm1,1h1v1h-1z"/>
<path id="b44" d="M-8,-16h1v1h-1zm0,1h1v1h-1zm-1,1h2v1h-2zm0,1h2v1h-2zm-1,1h1v1h-1zm2,0h1v1h-1zm-2,1h1v1h-1zm2,0h1v1h-1zm-3,1h1v1h-1zm4,0h1v1h-1zm-4,1h1v1h-1zm4,0h1v1h-1zm-3,1h1v1h-1zm3,0h2v1h-2zm-2,1h3v1h-3zm2,1h1v1h-1zm1,1h1v1h-1zm1,1h1v1h-1zm1,1h1v1h-1zm1,1h2v1h-2zm2,1h1v1h-1zm1,1h1v1h-1z"/>
<path id="b45" d="M-8,-16h1v1h-1zm0,1h1v1h-1zm-1,1h2v1h-2zm0,1h2v1h-2zm-1,1h1v1h-1zm2,0h1v1h-1zm-2,1h1v1h-1zm2,0h1v1h-1zm-3,1h1v1h-1zm3,0h1v1h-1zm-3,1h1v1h-1zm3,0h1v1h-1zm-2,1h1v1h-1zm2,0h1v1h-1zm-1,1h3v1h-3zm1,1h2v1h-2zm2,1h1v1h-1zm1,1h1v1h-1zm1,1h1v1h-1zm1,1h2v1h-2zm2,1h1v1h-1zm1,1h1v1h-1z"/>
<path id="b46" d="M-8,-16h1v1h-1zm0,1h1v1h-1zm-1,1h2v1h-2zm0,1h2v1h-2zm-1,1h1v1h-1zm2,0h1v1h-1zm-2,1h1v1h-1zm2,0h1v1h-1zm-3,1h1v1h-1zm3,0h1v1h-1zm-3,1h1v1h-1zm3,0h1v1h-1zm-2,1h1v1h-1zm2,0h1v1h-1zm-1,1h2v1h-2zm1,1h2v1h-2zm2,1h1v1h-1zm1,1h1v1h-1zm1,1h1v1h-1zm1,1h2v1h-2zm2,1h1v1h-1zm1,1h1v1h-1z"/>
<path id="b47" d="M-8,-15h1v1h-1zm-1,1h1v1h-1zm3,0h1v1h-1zm-3,1h1v1h-1zm3,0h1v1h-1zm-4,1h1v1h-1zm3,0h1v1h-1zm3,0h1v1h-1zm-6,1h1v1h-1zm3,0h1v1h-1zm2,0h1v1h-1zm3,0h1v1h-1zm-9,1h1v1h-1zm3,0h1v1h-1zm3,0h1v1h-1zm3,0h1v1h-1zm-9,1h1v1h-1zm3,0h1v1h-1zm2,0h1v1h-1zm3,0h1v1h-1zm2,0h1v1h-1zm-9,1h2v1h-2zm4,0h1v1h-1zm3,0h1v1h-1zm2,0h1v1h-1zm-8,1h3v1h-3zm5,0h1v1h-1zm2,0h1v1h-1zm-5,1h1v1h-1zm3,0h1v1h-1zm2,0h1v1h-1zm-4,1h2v1h-2zm4,0h1v1h-1zm-3,1h1v1h-1zm2,0h1v1h-1zm-1,1h2v1h-2zm1,1h2v1h-2zm2,1h1v1h-1zm1,1h1v1h-1z"/>
<path id="b48" d="M-9,-15h1v1h-1zm0,1h1v1h-1zm2,0h1v1h-1zm-3,1h1v1h-1zm3,0h1v1h-1zm-3,1h1v1h-1zm2,0h1v1h-1zm3,0h1v1h-1zm-6,1h1v1h-1zm3,0h1v1h-1zm3,0h1v1h-1zm2,0h1v1h-1zm-8,1h1v1h-1zm2,0h1v1h-1zm3,0h1v1h-1zm3,0h1v1h-1zm-9,1h1v1h-1zm3,0h1v1h-1zm3,0h1v1h-1zm2,0h1v1h-1zm-8,1h1v1h-1zm2,0h1v1h-1zm3,0h1v1h-1zm3,0h1v1h-1zm-7,1h2v1h-2zm4,0h1v1h-1zm2,0h1v1h-1zm-4,1h2v1h-2zm4,0h1v1h-1zm-3,1h3v1h-3zm2,1h1v1h-1zm3,0h1v1h-1zm-2,1h3v1h-3zm2,1h1v1h-1zm1,1h2v1h-2zm2,1h1v1h-1z"/>
<path id="b49" d="M-9,-15h1v1h-1zm0,1h1v1h-1zm2,0h1v1h-1zm-3,1h1v1h-1zm3,0h1v1h-1zm-3,1h1v1h-1zm2,0h1v1h-1zm3,0h1v1h-1zm-6,1h1v1h-1zm3,0h1v1h-1zm3,0h1v1h-1zm2,0h1v1h-1zm-8,1h1v1h-1zm2,0h1v1h-1zm3,0h1v1h-1zm3,0h1v1h-1zm-9,1h1v1h-1zm3,0h1v1h-1zm3,0h1v1h-1zm2,0h1v1h-1zm-8,1h1v1h-1zm2,0h1v1h-1zm3,0h1v1h-1zm3,0h1v1h-1zm-7,1h2v1h-2zm4,0h1v1h-1zm2,0h1v1h-1zm-4,1h2v1h-2zm4,0h1v1h-1zm-3,1h3v1h-3zm2,1h1v1h-1zm1,1h2v1h-2zm2,1h1v1h-1zm1,1h2v1h-2zm2,1h1v1h-1z"/>
<path id="b50" d="M-7,-16h1v1h-1zm-1,1h2v1h-2zm0,1h2v1h-2zm-1,1h1v1h-1zm2,0h1v1h-1zm-2,1h1v1h-1zm2,0h1v1h-1zm3,0h1v1h-1zm-6,1h1v1h-1zm3,0h1v1h-1zm2,0h1v1h-1zm-5,1h1v1h-1zm3,0h1v1h-1zm2,0h1v1h-1zm-4,1h1v1h-1zm2,0h2v1h-2zm-1,1h3v1h-3zm1,1h1v1h-1zm1,1h1v1h-1zm1,1h1v1h-1zm1,1h1v1h-1zm1,1h1v1h-1zm1,1h1v1h-1zm1,1h1v1h-1zm1,1h1v1h-1z"/>
<path id="b51" d="M-8,-16h1v1h-1zm0,1h1v1h-1zm-1,1h2v1h-2zm0,1h2v1h-2zm-1,1h1v1h-1zm2,0h1v1h-1zm-2,1h1v1h-1zm2,0h1v1h-1zm-3,1h1v1h-1zm3,0h1v1h-1zm-3,1h1v1h-1zm3,0h1v1h-1zm-2,1h1v1h-1zm2,0h1v1h-1zm-1,1h2v1h-2zm1,1h2v1h-2zm2,1h1v1h-1zm1,1h1v1h-1zm1,1h1v1h-1zm1,1h2v1h-2zm2,1h1v1h-1zm1,1h1v1h-1z"/>
<path id="b52" d="M-8,-15h1v1h-1zm-1,1h1v1h-1zm3,0h1v1h-1zm-3,1h1v1h-1zm3,0h1v1h-1zm-4,1h1v1h-1zm3,0h1v1h-1zm3,0h1v1h-1zm-6,1h1v1h-1zm3,0h1v1h-1zm2,0h1v1h-1zm3,0h1v1h-1zm-9,1h1v1h-1zm3,0h1v1h-1zm3,0h1v1h-1zm3,0h1v1h-1zm-9,1h1v1h-1zm3,0h1v1h-1zm2,0h1v1h-1zm3,0h1v1h-1zm-7,1h2v1h-2zm4,0h1v1h-1zm3,0h1v1h-1zm2,0h1v1h-1zm-8,1h3v1h-3zm5,0h1v1h-1zm3,0h1v1h-1zm-6,1h1v1h-1zm3,0h1v1h-1zm2,0h1v1h-1zm-4,1h2v1h-2zm4,0h1v1h-1zm-3,1h1v1h-1zm2,0h1v1h-1zm-1,1h2v1h-2zm1,1h2v1h-2zm2,1h1v1h-1zm1,1h1v1h-1z"/>
<path id="b53" d="M-9,-15h1v1h-1zm0,1h1v1h-1zm2,0h1v1h-1zm-3,1h1v1h-1zm3,0h1v1h-1zm-3,1h1v1h-1zm2,0h1v1h-1zm3,0h1v1h-1zm-6,1h1v1h-1zm3,0h1v1h-1zm3,0h1v1h-1zm2,0h1v1h-1zm-8,1h1v1h-1zm2,0h1v1h-1zm3,0h1v1h-1zm3,0h1v1h-1zm-9,1h1v1h-1zm3,0h1v1h-1zm3,0h1v1h-1zm2,0h1v1h-1zm-8,1h1v1h-1zm2,0h1v1h-1zm3,0h1v1h-1zm3,0h1v1h-1zm-7,1h2v1h-2zm4,0h1v1h-1zm2,0h1v1h-1zm-4,1h2v1h-2zm4,0h1v1h-1zm-3,1h3v1h-3zm2,1h1v1h-1zm1,1h2v1h-2zm2,1h1v1h-1zm1,1h2v1h-2zm2,1h1v1h-1z"/>
<path id="b54" d="M-9,-15h1v1h-1zm0,1h1v1h-1zm2,0h1v1h-1zm-3,1h1v1h-1zm3,0h1v1h-1zm-3,1h1v1h-1zm2,0h1v1h-1zm3,0h1v1h-1zm-6,1h1v1h-1zm3,0h1v1h-1zm3,0h1v1h-1zm-6,1h1v1h-1zm2,0h1v1h-1zm3,0h1v1h-1zm3,0h1v1h-1zm-9,1h1v1h-1zm3,0h1v1h-1zm3,0h1v1h-1zm2,0h1v1h-1zm-8,1h1v1h-1zm2,0h1v1h-1zm3,0h1v1h-1zm3,0h1v1h-1zm-7,1h2v1h-2zm4,0h1v1h-1zm2,0h1v1h-1zm-4,1h2v1h-2zm4,0h1v1h-1zm-3,1h3v1h-3zm2,1h1v1h-1zm1,1h2v1h-2zm2,1h1v1h-1zm1,1h2v1h-2zm2,1h1v1h-1z"/>
<path id="b55" d="M-9,-15h1v1h-1zm0,1h1v1h-1zm2,0h1v1h-1zm-3,1h1v1h-1zm3,0h1v1h-1zm-3,1h1v1h-1zm2,0h1v1h-1zm3,0h1v1h-1zm-6,1h1v1h-1zm3,0h1v1h-1zm3,0h1v1h-1zm-6,1h1v1h-1zm2,0h1v1h-1zm3,0h1v1h-1zm-6,1h1v1h-1zm3,0h1v1h-1zm3,0h1v1h-1zm-6,1h1v1h-1zm2,0h1v1h-1zm3,0h1v1h-1zm-4,1h2v1h-2zm4,0h1v1h-1zm3,0h1v1h-1zm-5,1h2v1h-2zm5,0h1v1h-1zm-4,1h2v1h-2zm3,0h1v1h-1zm-1,1h2v1h-2zm1,1h2v1h-2zm2,1h1v1h-1zm1,1h2v1h-2zm2,1h1v1h-1z"/>
<path id="b56" d="M-6,-16h1v1h-1zm-1,1h2v1h-2zm0,1h2v1h-2zm-1,1h1v1h-1zm2,0h1v1h-1zm3,0h1v1h-1zm-6,1h1v1h-1zm3,0h1v1h-1zm2,0h1v1h-1zm-5,1h1v1h-1zm2,0h1v1h-1zm3,0h1v1h-1zm-6,1h1v1h-1zm3,0h1v1h-1zm2,0h1v1h-1zm-4,1h1v1h-1zm2,0h2v1h-2zm-1,1h3v1h-3zm1,1h1v1h-1zm1,1h1v1h-1zm1,1h1v1h-1zm1,1h1v1h-1zm1,1h1v1h-1zm1,1h1v1h-1zm1,1h1v1h-1zm1,1h1v1h-1z"/>
<path id="b57" d="M-6,-16h1v1h-1zm-1,1h2v1h-2zm0,1h2v1h-2zm-1,1h1v1h-1zm2,0h1v1h-1zm2,0h1v1h-1zm-5,1h1v1h-1zm3,0h2v1h-2zm-3,1h1v1h-1zm2,0h1v1h-1zm2,0h1v1h-1zm-5,1h1v1h-1zm3,0h2v1h-2zm-2,1h1v1h-1zm2,0h2v1h-2zm-1,1h2v1h-2zm1,1h1v1h-1zm1,1h1v1h-1zm1,1h1v1h-1zm1,1h1v1h-1zm1,1h1v1h-1zm1,1h1v1h-1zm1,1h1v1h-1zm1,1h1v1h-1z"/>
<path id="b58" d="M-7,-16h1v1h-1zm-1,1h2v1h-2zm0,1h2v1h-2zm-1,1h1v1h-1zm2,0h1v1h-1zm-2,1h1v1h-1zm2,0h1v1h-1zm-3,1h1v1h-1zm3,0h1v1h-1zm-3,1h1v1h-1zm3,0h1v1h-1zm-4,1h1v1h-1zm4,0h2v1h-2zm-3,1h1v1h-1zm3,0h2v1h-2zm-2,1h3v1h-3zm2,1h1v1h-1zm1,1h1v1h-1zm1,1h1v1h-1zm1,1h1v1h-1zm1,1h2v1h-2zm2,1h1v1h-1zm1,1h1v1h-1z"/>
<path id="b59" d="M-8,-15h1v1h-1zm-1,1h1v1h-1zm3,0h1v1h-1zm-3,1h1v1h-1zm3,0h1v1h-1zm-4,1h1v1h-1zm3,0h1v1h-1zm3,0h1v1h-1zm-6,1h1v1h-1zm3,0h1v1h-1zm2,0h1v1h-1zm3,0h1v1h-1zm-9,1h1v1h-1zm3,0h1v1h-1zm3,0h1v1h-1zm3,0h1v1h-1zm-9,1h1v1h-1zm3,0h1v1h-1zm2,0h1v1h-1zm3,0h1v1h-1zm-7,1h2v1h-2zm4,0h1v1h-1zm3,0h1v1h-1zm-6,1h3v1h-3zm5,0h1v1h-1zm3,0h1v1h-1zm-6,1h1v1h-1zm3,0h1v1h-1zm2,0h1v1h-1zm-4,1h2v1h-2zm4,0h1v1h-1zm-3,1h1v1h-1zm2,0h1v1h-1zm-1,1h2v1h-2zm1,1h2v1h-2zm2,1h1v1h-1zm1,1h1v1h-1z"/>
<path id="b60" d="M-9,-15h1v1h-1zm0,1h1v1h-1zm2,0h1v1h-1zm-3,1h1v1h-1zm3,0h1v1h-1zm-3,1h1v1h-1zm2,0h1v1h-1zm3,0h1v1h-1zm-5,1h1v1h-1zm2,0h1v1h-1zm3,0h1v1h-1zm2,0h1v1h-1zm-7,1h1v1h-1zm2,0h1v1h-1zm2,0h1v1h-1zm3,0h1v1h-1zm-8,1h1v1h-1zm3,0h1v1h-1zm2,0h1v1h-1zm2,0h1v1h-1zm-7,1h1v1h-1zm2,0h1v1h-1zm3,0h1v1h-1zm2,0h1v1h-1zm-6,1h2v1h-2zm4,0h1v1h-1zm2,0h1v1h-1zm2,0h1v1h-1zm-6,1h2v1h-2zm4,0h1v1h-1zm2,0h1v1h-1zm-5,1h1v1h-1zm2,0h1v1h-1zm3,0h1v1h-1zm-4,1h2v1h-2zm3,0h1v1h-1zm-1,1h2v1h-2zm1,1h1v1h-1zm1,1h2v1h-2zm2,1h1v1h-1z"/>
<path id="b61" d="M-9,-15h1v1h-1zm0,1h1v1h-1zm2,0h1v1h-1zm-3,1h1v1h-1zm3,0h1v1h-1zm-3,1h1v1h-1zm2,0h1v1h-1zm3,0h1v1h-1zm-6,1h1v1h-1zm3,0h1v1h-1zm3,0h1v1h-1zm2,0h1v1h-1zm-8,1h1v1h-1zm2,0h1v1h-1zm3,0h1v1h-1zm3,0h1v1h-1zm-9,1h1v1h-1zm3,0h1v1h-1zm3,0h1v1h-1zm2,0h1v1h-1zm-8,1h1v1h-1zm2,0h1v1h-1zm3,0h1v1h-1zm3,0h1v1h-1zm-7,1h2v1h-2zm4,0h1v1h-1zm2,0h1v1h-1zm-4,1h2v1h-2zm4,0h1v1h-1zm-3,1h3v1h-3zm2,1h1v1h-1zm3,0h1v1h-1zm-2,1h3v1h-3zm2,1h1v1h-1zm1,1h2v1h-2zm2,1h1v1h-1z"/>
<path id="b62" d="M-7,-16h1v1h-1zm-1,1h2v1h-2zm0,1h2v1h-2zm-1,1h1v1h-1zm2,0h1v1h-1zm-3,1h1v1h-1zm3,0h1v1h-1zm-3,1h1v1h-1zm3,0h1v1h-1zm-4,1h1v1h-1zm4,0h1v1h-1zm2,0h1v1h-1zm-5,1h1v1h-1zm3,0h2v1h-2zm-2,1h1v1h-1zm2,0h2v1h-2zm-1,1h2v1h-2zm1,1h1v1h-1zm1,1h2v1h-2zm2,1h1v1h-1zm1,1h1v1h-1zm1,1h1v1h-1zm1,1h1v1h-1zm1,1h1v1h-1z"/>
<path id="b63" d="M-8,-16h1v1h-1zm0,1h1v1h-1zm-1,1h1v1h-1zm3,0h1v1h-1zm-3,1h1v1h-1zm3,0h1v1h-1zm2,0h1v1h-1zm-6,1h1v1h-1zm3,0h1v1h-1zm3,0h1v1h-1zm-6,1h1v1h-1zm3,0h1v1h-1zm2,0h1v1h-1zm3,0h1v1h-1zm-9,1h1v1h-1zm3,0h1v1h-1zm3,0h1v1h-1zm3,0h1v1h-1zm-9,1h1v1h-1zm3,0h1v1h-1zm2,0h1v1h-1zm3,0h1v1h-1zm2,0h1v1h-1zm-9,1h2v1h-2zm4,0h1v1h-1zm3,0h1v1h-1zm2,0h1v1h-1zm-8,1h3v1h-3zm5,0h1v1h-1zm2,0h1v1h-1zm-5,1h1v1h-1zm3,0h1v1h-1zm2,0h1v1h-1zm-4,1h2v1h-2zm4,0h1v1h-1zm-3,1h1v1h-1zm2,0h1v1h-1zm-1,1h2v1h-2zm1,1h2v1h-2zm2,1h1v1h-1zm1,1h1v1h-1z"/>
<path id="b64" d="M-9,-15h1v1h-1zm0,1h1v1h-1zm2,0h1v1h-1zm-3,1h1v1h-1zm3,0h1v1h-1zm-3,1h1v1h-1zm2,0h1v1h-1zm3,0h1v1h-1zm-6,1h1v1h-1zm3,0h1v1h-1zm3,0h1v1h-1zm2,0h1v1h-1zm-8,1h1v1h-1zm2,0h1v1h-1zm3,0h1v1h-1zm3,0h1v1h-1zm-9,1h1v1h-1zm3,0h1v1h-1zm3,0h1v1h-1zm2,0h1v1h-1zm-8,1h1v1h-1zm2,0h1v1h-1zm3,0h1v1h-1zm3,0h1v1h-1zm-7,1h2v1h-2zm4,0h1v1h-1zm2,0h1v1h-1zm-4,1h2v1h-2zm4,0h1v1h-1zm-3,1h3v1h-3zm6,0h1v1h-1zm-4,1h1v1h-1zm4,0h1v1h-1zm-3,1h3v1h-3zm2,1h1v1h-1zm1,1h2v1h-2zm2,1h1v1h-1z"/>
<path id="b65" d="M-9,-15h1v1h-1zm0,1h1v1h-1zm2,0h1v1h-1zm-3,1h1v1h-1zm3,0h1v1h-1zm-3,1h1v1h-1zm2,0h1v1h-1zm3,0h1v1h-1zm-6,1h1v1h-1zm3,0h1v1h-1zm3,0h1v1h-1zm-6,1h1v1h-1zm2,0h1v1h-1zm3,0h1v1h-1zm-6,1h1v1h-1zm3,0h1v1h-1zm3,0h1v1h-1zm2,0h1v1h-1zm-8,1h1v1h-1zm2,0h1v1h-1zm3,0h1v1h-1zm3,0h1v1h-1zm-7,1h2v1h-2zm4,0h1v1h-1zm2,0h1v1h-1zm-4,1h2v1h-2zm4,0h1v1h-1zm-3,1h3v1h-3zm2,1h1v1h-1zm1,1h2v1h-2zm2,1h1v1h-1zm1,1h2v1h-2zm2,1h1v1h-1z"/>
<path id="b66" d="M-7,-16h1v1h-1zm-1,1h2v1h-2zm0,1h2v1h-2zm-1,1h1v1h-1zm2,0h1v1h-1zm-2,1h1v1h-1zm2,0h1v1h-1zm-3,1h1v1h-1zm3,0h1v1h-1zm2,0h1v1h-1zm-5,1h1v1h-1zm3,0h2v1h-2zm-2,1h1v1h-1zm2,0h2v1h-2zm-1,1h2v1h-2zm1,1h1v1h-1zm1,1h1v1h-1zm1,1h1v1h-1zm1,1h1v1h-1zm1,1h1v1h-1zm1,1h1v1h-1zm1,1h1v1h-1zm1,1h1v1h-1z"/>
<path id="b67" d="M-8,-16h1v1h-1zm0,1h1v1h-1zm-1,1h1v1h-1zm3,0h1v1h-1zm-3,1h1v1h-1zm3,0h1v1h-1zm2,0h1v1h-1zm-6,1h1v1h-1zm3,0h1v1h-1zm3,0h1v1h-1zm-6,1h1v1h-1zm3,0h1v1h-1zm2,0h1v1h-1zm3,0h1v1h-1zm-9,1h1v1h-1zm3,0h1v1h-1zm3,0h1v1h-1zm3,0h1v1h-1zm-9,1h1v1h-1zm3,0h1v1h-1zm2,0h1v1h-1zm3,0h1v1h-1zm-7,1h2v1h-2zm4,0h1v1h-1zm3,0h1v1h-1zm2,0h1v1h-1zm-8,1h3v1h-3zm5,0h1v1h-1zm3,0h1v1h-1zm-6,1h1v1h-1zm3,0h1v1h-1zm2,0h1v1h-1zm-4,1h2v1h-2zm4,0h1v1h-1zm-3,1h1v1h-1zm2,0h1v1h-1zm-1,1h2v1h-2zm1,1h2v1h-2zm2,1h1v1h-1zm1,1h1v1h-1z"/>
<path id="b68" d="M-9,-15h1v1h-1zm0,1h1v1h-1zm2,0h1v1h-1zm-3,1h1v1h-1zm3,0h1v1h-1zm-3,1h1v1h-1zm2,0h1v1h-1zm3,0h1v1h-1zm-6,1h1v1h-1zm3,0h1v1h-1zm3,0h1v1h-1zm-6,1h1v1h-1zm2,0h1v1h-1zm3,0h1v1h-1zm-6,1h1v1h-1zm3,0h1v1h-1zm3,0h1v1h-1zm2,0h1v1h-1zm-8,1h1v1h-1zm2,0h1v1h-1zm3,0h1v1h-1zm3,0h1v1h-1zm-7,1h2v1h-2zm4,0h1v1h-1zm2,0h1v1h-1zm-4,1h2v1h-2zm4,0h1v1h-1zm-3,1h3v1h-3zm2,1h1v1h-1zm1,1h2v1h-2zm2,1h1v1h-1zm1,1h2v1h-2zm2,1h1v1h-1z"/>
<path id="b69" d="M-8,-16h1v1h-1zm0,1h1v1h-1zm-1,1h2v1h-2zm0,1h2v1h-2zm-1,1h1v1h-1zm2,0h1v1h-1zm-2,1h1v1h-1zm2,0h1v1h-1zm-3,1h1v1h-1zm4,0h1v1h-1zm-4,1h1v1h-1zm4,0h1v1h-1zm-3,1h1v1h-1zm3,0h1v1h-1zm-2,1h3v1h-3zm2,1h1v1h-1zm1,1h1v1h-1zm1,1h1v1h-1zm1,1h1v1h-1zm1,1h2v1h-2zm2,1h1v1h-1zm1,1h1v1h-1z"/>
<path id="b70" d="M-8,-16h1v1h-1zm0,1h1v1h-1zm-1,1h2v1h-2zm0,1h2v1h-2zm-1,1h1v1h-1zm2,0h1v1h-1zm-2,1h1v1h-1zm2,0h1v1h-1zm-3,1h1v1h-1zm3,0h1v1h-1zm-3,1h1v1h-1zm3,0h1v1h-1zm-2,1h1v1h-1zm2,0h1v1h-1zm-1,1h2v1h-2zm1,1h2v1h-2zm2,1h1v1h-1zm1,1h1v1h-1zm1,1h1v1h-1zm1,1h2v1h-2zm2,1h1v1h-1zm1,1h1v1h-1z"/>
<path id="b71" d="M-9,-15h1v1h-1zm0,1h1v1h-1zm2,0h1v1h-1zm-3,1h1v1h-1zm3,0h1v1h-1zm-3,1h1v1h-1zm2,0h1v1h-1zm3,0h1v1h-1zm-6,1h1v1h-1zm3,0h1v1h-1zm3,0h1v1h-1zm2,0h1v1h-1zm-8,1h1v1h-1zm2,0h1v1h-1zm3,0h1v1h-1zm3,0h1v1h-1zm-9,1h1v1h-1zm3,0h1v1h-1zm3,0h1v1h-1zm2,0h1v1h-1zm-8,1h1v1h-1zm2,0h1v1h-1zm3,0h1v1h-1zm3,0h1v1h-1zm-7,1h2v1h-2zm4,0h1v1h-1zm2,0h1v1h-1zm-4,1h2v1h-2zm4,0h1v1h-1zm3,0h1v1h-1zm-6,1h3v1h-3zm6,0h1v1h-1zm-4,1h1v1h-1zm3,0h1v1h-1zm-2,1h3v1h-3zm2,1h1v1h-1zm1,1h2v1h-2zm2,1h1v1h-1z"/>
<path id="b72" d="M-9,-15h1v1h-1zm0,1h1v1h-1zm-1,1h1v1h-1zm3,0h1v1h-1zm-3,1h1v1h-1zm3,0h1v1h-1zm2,0h1v1h-1zm-6,1h1v1h-1zm3,0h1v1h-1zm3,0h1v1h-1zm2,0h1v1h-1zm-8,1h1v1h-1zm3,0h1v1h-1zm2,0h1v1h-1zm3,0h1v1h-1zm-9,1h1v1h-1zm3,0h1v1h-1zm3,0h1v1h-1zm2,0h1v1h-1zm-8,1h1v1h-1zm3,0h1v1h-1zm2,0h1v1h-1zm3,0h1v1h-1zm-7,1h2v1h-2zm4,0h1v1h-1zm2,0h1v1h-1zm-5,1h3v1h-3zm5,0h1v1h-1zm-3,1h3v1h-3zm2,1h1v1h-1zm1,1h2v1h-2zm2,1h1v1h-1zm1,1h2v1h-2zm2,1h1v1h-1z"/>
<path id="b73" d="M-9,-15h1v1h-1zm0,1h1v1h-1zm-1,1h1v1h-1zm3,0h1v1h-1zm-3,1h1v1h-1zm3,0h1v1h-1zm2,0h1v1h-1zm-6,1h1v1h-1zm3,0h1v1h-1zm3,0h1v1h-1zm2,0h1v1h-1zm-8,1h1v1h-1zm3,0h1v1h-1zm2,0h1v1h-1zm3,0h1v1h-1zm-9,1h1v1h-1zm3,0h1v1h-1zm3,0h1v1h-1zm2,0h1v1h-1zm-8,1h1v1h-1zm3,0h1v1h-1zm2,0h1v1h-1zm3,0h1v1h-1zm-7,1h2v1h-2zm4,0h1v1h-1zm2,0h1v1h-1zm-5,1h3v1h-3zm5,0h1v1h-1zm-3,1h3v1h-3zm2,1h1v1h-1zm1,1h2v1h-2zm2,1h1v1h-1zm1,1h2v1h-2zm2,1h1v1h-1z"/>
<path id="b74" d="M-9,-15h1v1h-1zm0,1h1v1h-1zm-1,1h1v1h-1zm3,0h1v1h-1zm-3,1h1v1h-1zm3,0h1v1h-1zm2,0h1v1h-1zm-6,1h1v1h-1zm3,0h1v1h-1zm3,0h1v1h-1zm-6,1h1v1h-1zm3,0h1v1h-1zm2,0h1v1h-1zm3,0h1v1h-1zm-9,1h1v1h-1zm3,0h1v1h-1zm3,0h1v1h-1zm2,0h1v1h-1zm-8,1h1v1h-1zm3,0h1v1h-1zm2,0h1v1h-1zm3,0h1v1h-1zm-7,1h2v1h-2zm4,0h1v1h-1zm2,0h1v1h-1zm-5,1h3v1h-3zm5,0h1v1h-1zm-3,1h3v1h-3zm2,1h1v1h-1zm1,1h2v1h-2zm2,1h1v1h-1zm1,1h2v1h-2zm2,1h1v1h-1z"/>
<path id="b75" d="M-9,-15h1v1h-1zm0,1h1v1h-1zm2,0h1v1h-1zm-3,1h1v1h-1zm3,0h1v1h-1zm-3,1h1v1h-1zm2,0h1v1h-1zm3,0h1v1h-1zm-6,1h1v1h-1zm3,0h1v1h-1zm3,0h1v1h-1zm-6,1h1v1h-1zm2,0h1v1h-1zm3,0h1v1h-1zm-6,1h1v1h-1zm3,0h1v1h-1zm3,0h1v1h-1zm-6,1h1v1h-1zm2,0h1v1h-1zm3,0h1v1h-1zm3,0h1v1h-1zm-7,1h2v1h-2zm4,0h1v1h-1zm2,0h1v1h-1zm-4,1h2v1h-2zm4,0h1v1h-1zm-3,1h3v1h-3zm2,1h1v1h-1zm1,1h2v1h-2zm2,1h1v1h-1zm1,1h2v1h-2zm2,1h1v1h-1z"/>
<path id="b76" d="M-9,-15h1v1h-1zm0,1h1v1h-1zm2,0h1v1h-1zm-3,1h1v1h-1zm3,0h1v1h-1zm-3,1h1v1h-1zm2,0h1v1h-1zm3,0h1v1h-1zm-6,1h1v1h-1zm3,0h1v1h-1zm3,0h1v1h-1zm-6,1h1v1h-1zm2,0h1v1h-1zm3,0h1v1h-1zm-6,1h1v1h-1zm3,0h1v1h-1zm3,0h1v1h-1zm-6,1h1v1h-1zm2,0h1v1h-1zm3,0h1v1h-1zm-4,1h2v1h-2zm4,0h1v1h-1zm3,0h1v1h-1zm-5,1h2v1h-2zm4,0h1v1h-1zm-3,1h2v1h-2zm3,0h1v1h-1zm-1,1h1v1h-1zm1,1h2v1h-2zm2,1h1v1h-1zm1,1h2v1h-2zm2,1h1v1h-1z"/>
<path id="b77" d="M-7,-16h1v1h-1zm-1,1h2v1h-2zm0,1h2v1h-2zm-1,1h1v1h-1zm2,0h1v1h-1zm-3,1h1v1h-1zm3,0h1v1h-1zm-3,1h1v1h-1zm3,0h1v1h-1zm-4,1h1v1h-1zm4,0h1v1h-1zm2,0h1v1h-1zm-5,1h1v1h-1zm3,0h2v1h-2zm-2,1h1v1h-1zm2,0h2v1h-2zm-1,1h2v1h-2zm1,1h1v1h-1zm1,1h2v1h-2zm2,1h1v1h-1zm1,1h1v1h-1zm1,1h1v1h-1zm1,1h1v1h-1zm1,1h1v1h-1z"/>
<path id="b78" d="M-9,-15h1v1h-1zm0,1h1v1h-1zm-1,1h1v1h-1zm3,0h1v1h-1zm-3,1h1v1h-1zm3,0h1v1h-1zm2,0h1v1h-1zm-6,1h1v1h-1zm3,0h1v1h-1zm3,0h1v1h-1zm2,0h1v1h-1zm-8,1h1v1h-1zm3,0h1v1h-1zm2,0h1v1h-1zm3,0h1v1h-1zm-9,1h1v1h-1zm3,0h1v1h-1zm3,0h1v1h-1zm2,0h1v1h-1zm-8,1h1v1h-1zm3,0h1v1h-1zm2,0h1v1h-1zm3,0h1v1h-1zm-7,1h2v1h-2zm4,0h1v1h-1zm2,0h1v1h-1zm-5,1h3v1h-3zm5,0h1v1h-1zm-3,1h3v1h-3zm2,1h1v1h-1zm3,0h1v1h-1zm-2,1h2v1h-2zm1,1h2v1h-2zm2,1h2v1h-2zm2,1h1v1h-1z"/>
<path id="b79" d="M-9,-15h1v1h-1zm0,1h1v1h-1zm-1,1h1v1h-1zm3,0h1v1h-1zm-3,1h1v1h-1zm3,0h1v1h-1zm2,0h1v1h-1zm-6,1h1v1h-1zm3,0h1v1h-1zm3,0h1v1h-1zm2,0h1v1h-1zm-8,1h1v1h-1zm3,0h1v1h-1zm2,0h1v1h-1zm3,0h1v1h-1zm-9,1h1v1h-1zm3,0h1v1h-1zm3,0h1v1h-1zm2,0h1v1h-1zm-8,1h1v1h-1zm3,0h1v1h-1zm2,0h1v1h-1zm3,0h1v1h-1zm-7,1h2v1h-2zm4,0h1v1h-1zm2,0h1v1h-1zm-5,1h3v1h-3zm5,0h1v1h-1zm-3,1h3v1h-3zm2,1h1v1h-1zm3,0h1v1h-1zm-2,1h2v1h-2zm1,1h2v1h-2zm2,1h2v1h-2zm2,1h1v1h-1z"/>
<path id="b80" d="M-9,-15h1v1h-1zm0,1h1v1h-1zm-1,1h1v1h-1zm3,0h1v1h-1zm-3,1h1v1h-1zm3,0h1v1h-1zm2,0h1v1h-1zm-6,1h1v1h-1zm3,0h1v1h-1zm3,0h1v1h-1zm-6,1h1v1h-1zm3,0h1v1h-1zm2,0h1v1h-1zm-6,1h1v1h-1zm3,0h1v1h-1zm3,0h1v1h-1zm2,0h1v1h-1zm-8,1h1v1h-1zm3,0h1v1h-1zm2,0h1v1h-1zm3,0h1v1h-1zm-7,1h2v1h-2zm4,0h1v1h-1zm2,0h1v1h-1zm-5,1h3v1h-3zm5,0h1v1h-1zm-3,1h3v1h-3zm2,1h1v1h-1zm1,1h2v1h-2zm2,1h1v1h-1zm1,1h2v1h-2zm2,1h1v1h-1z"/>
<path id="b81" d="M-9,-15h1v1h-1zm0,1h1v1h-1zm2,0h1v1h-1zm-3,1h1v1h-1zm3,0h1v1h-1zm-3,1h1v1h-1zm2,0h1v1h-1zm3,0h1v1h-1zm-6,1h1v1h-1zm3,0h1v1h-1zm3,0h1v1h-1zm-6,1h1v1h-1zm2,0h1v1h-1zm3,0h1v1h-1zm-6,1h1v1h-1zm3,0h1v1h-1zm3,0h1v1h-1zm-6,1h1v1h-1zm2,0h1v1h-1zm3,0h1v1h-1zm-4,1h2v1h-2zm4,0h1v1h-1zm2,0h1v1h-1zm-4,1h2v1h-2zm4,0h1v1h-1zm-3,1h3v1h-3zm2,1h1v1h-1zm1,1h2v1h-2zm2,1h1v1h-1zm1,1h2v1h-2zm2,1h1v1h-1z"/>
<path id="b82" d="M-9,-15h1v1h-1zm0,1h1v1h-1zm-1,1h1v1h-1zm3,0h1v1h-1zm-3,1h1v1h-1zm3,0h1v1h-1zm2,0h1v1h-1zm-6,1h1v1h-1zm3,0h1v1h-1zm3,0h1v1h-1zm-6,1h1v1h-1zm3,0h1v1h-1zm2,0h1v1h-1zm-6,1h1v1h-1zm3,0h1v1h-1zm3,0h1v1h-1zm2,0h1v1h-1zm-8,1h1v1h-1zm3,0h1v1h-1zm2,0h1v1h-1zm3,0h1v1h-1zm-7,1h2v1h-2zm4,0h1v1h-1zm2,0h1v1h-1zm-5,1h3v1h-3zm5,0h1v1h-1zm-3,1h3v1h-3zm2,1h1v1h-1zm1,1h2v1h-2zm2,1h1v1h-1zm1,1h2v1h-2zm2,1h1v1h-1z"/>
<path id="b83" d="M-7,-16h1v1h-1zm-1,1h2v1h-2zm0,1h2v1h-2zm-1,1h1v1h-1zm2,0h1v1h-1zm-2,1h1v1h-1zm2,0h1v1h-1zm-3,1h1v1h-1zm3,0h1v1h-1zm-3,1h1v1h-1zm3,0h1v1h-1zm-4,1h1v1h-1zm4,0h1v1h-1zm-3,1h1v1h-1zm3,0h2v1h-2zm-2,1h3v1h-3zm2,1h1v1h-1zm1,1h1v1h-1zm1,1h1v1h-1zm1,1h1v1h-1zm1,1h2v1h-2zm2,1h1v1h-1zm1,1h1v1h-1z"/>
<path id="b84" d="M-8,-16h1v1h-1zm0,1h1v1h-1zm-1,1h2v1h-2zm0,1h2v1h-2zm-1,1h1v1h-1zm2,0h1v1h-1zm-2,1h1v1h-1zm2,0h1v1h-1zm-3,1h1v1h-1zm4,0h1v1h-1zm-4,1h1v1h-1zm4,0h1v1h-1zm-3,1h1v1h-1zm3,0h1v1h-1zm-2,1h3v1h-3zm2,1h1v1h-1zm1,1h1v1h-1zm1,1h1v1h-1zm1,1h1v1h-1zm1,1h2v1h-2zm2,1h1v1h-1zm1,1h1v1h-1z"/>
<path id="b85" d="M-9,-15h1v1h-1zm0,1h1v1h-1zm-1,1h1v1h-1zm3,0h1v1h-1zm-3,1h1v1h-1zm3,0h1v1h-1zm2,0h1v1h-1zm-6,1h1v1h-1zm3,0h1v1h-1zm3,0h1v1h-1zm-6,1h1v1h-1zm3,0h1v1h-1zm2,0h1v1h-1zm-6,1h1v1h-1zm3,0h1v1h-1zm3,0h1v1h-1zm-6,1h1v1h-1zm3,0h1v1h-1zm2,0h1v1h-1zm3,0h1v1h-1zm-7,1h2v1h-2zm4,0h1v1h-1zm2,0h1v1h-1zm-5,1h3v1h-3zm5,0h1v1h-1zm-3,1h3v1h-3zm2,1h1v1h-1zm1,1h2v1h-2zm2,1h1v1h-1zm1,1h2v1h-2zm2,1h1v1h-1z"/>
<path id="b86" d="M-9,-15h1v1h-1zm0,1h1v1h-1zm-1,1h1v1h-1zm3,0h1v1h-1zm-3,1h1v1h-1zm3,0h1v1h-1zm2,0h1v1h-1zm-6,1h1v1h-1zm3,0h1v1h-1zm3,0h1v1h-1zm-6,1h1v1h-1zm3,0h1v1h-1zm2,0h1v1h-1zm-6,1h1v1h-1zm3,0h1v1h-1zm3,0h1v1h-1zm-6,1h1v1h-1zm3,0h1v1h-1zm2,0h1v1h-1zm-4,1h2v1h-2zm4,0h1v1h-1zm3,0h1v1h-1zm-6,1h3v1h-3zm5,0h1v1h-1zm-3,1h2v1h-2zm3,0h1v1h-1zm-1,1h1v1h-1zm1,1h2v1h-2zm2,1h1v1h-1zm1,1h2v1h-2zm2,1h1v1h-1z"/>
<path id="b87" d="M-9,-15h1v1h-1zm0,1h1v1h-1zm-1,1h1v1h-1zm3,0h1v1h-1zm-3,1h1v1h-1zm3,0h1v1h-1zm2,0h1v1h-1zm-6,1h1v1h-1zm3,0h1v1h-1zm3,0h1v1h-1zm-6,1h1v1h-1zm3,0h1v1h-1zm2,0h1v1h-1zm-6,1h1v1h-1zm3,0h1v1h-1zm3,0h1v1h-1zm-6,1h1v1h-1zm3,0h1v1h-1zm2,0h1v1h-1zm-4,1h2v1h-2zm4,0h1v1h-1zm-3,1h3v1h-3zm5,0h1v1h-1zm-3,1h3v1h-3zm2,1h1v1h-1zm1,1h2v1h-2zm2,1h1v1h-1zm1,1h2v1h-2zm2,1h1v1h-1z"/>
<path id="b88" d="M-9,-15h1v1h-1zm0,1h1v1h-1zm2,0h1v1h-1zm-3,1h1v1h-1zm3,0h1v1h-1zm-3,1h1v1h-1zm2,0h1v1h-1zm3,0h1v1h-1zm-5,1h1v1h-1zm2,0h1v1h-1zm3,0h1v1h-1zm2,0h1v1h-1zm-7,1h1v1h-1zm2,0h1v1h-1zm2,0h1v1h-1zm3,0h1v1h-1zm-8,1h1v1h-1zm3,0h1v1h-1zm2,0h1v1h-1zm2,0h1v1h-1zm-7,1h1v1h-1zm2,0h1v1h-1zm3,0h1v1h-1zm2,0h1v1h-1zm-6,1h2v1h-2zm4,0h1v1h-1zm2,0h1v1h-1zm-4,1h2v1h-2zm4,0h1v1h-1zm2,0h1v1h-1zm-5,1h1v1h-1zm2,0h1v1h-1zm3,0h1v1h-1zm-4,1h2v1h-2zm3,0h1v1h-1zm-1,1h2v1h-2zm1,1h1v1h-1zm1,1h2v1h-2zm2,1h1v1h-1z"/>
<path id="b89" d="M-10,-15h1v1h-1zm0,1h1v1h-1zm-1,1h1v1h-1zm3,0h1v1h-1zm-3,1h1v1h-1zm3,0h1v1h-1zm3,0h1v1h-1zm-6,1h1v1h-1zm2,0h1v1h-1zm4,0h1v1h-1zm2,0h1v1h-1zm-8,1h1v1h-1zm2,0h1v1h-1zm3,0h1v1h-1zm3,0h1v1h-1zm-9,1h1v1h-1zm3,0h1v1h-1zm3,0h1v1h-1zm2,0h1v1h-1zm-8,1h1v1h-1zm3,0h1v1h-1zm2,0h1v1h-1zm3,0h1v1h-1zm-7,1h2v1h-2zm4,0h1v1h-1zm2,0h1v1h-1zm-5,1h3v1h-3zm5,0h1v1h-1zm-3,1h3v1h-3zm2,1h1v1h-1zm1,1h2v1h-2zm2,1h1v1h-1zm1,1h2v1h-2zm2,1h1v1h-1z"/>
<path id="b90" d="M-10,-15h1v1h-1zm0,1h1v1h-1zm-1,1h1v1h-1zm3,0h1v1h-1zm-3,1h1v1h-1zm3,0h1v1h-1zm3,0h1v1h-1zm-6,1h1v1h-1zm2,0h1v1h-1zm4,0h1v1h-1zm2,0h1v1h-1zm-8,1h1v1h-1zm2,0h1v1h-1zm3,0h1v1h-1zm3,0h1v1h-1zm-9,1h1v1h-1zm3,0h1v1h-1zm3,0h1v1h-1zm2,0h1v1h-1zm-8,1h1v1h-1zm3,0h1v1h-1zm2,0h1v1h-1zm3,0h1v1h-1zm-7,1h2v1h-2zm4,0h1v1h-1zm2,0h1v1h-1zm-5,1h3v1h-3zm5,0h1v1h-1zm-3,1h3v1h-3zm2,1h1v1h-1zm1,1h2v1h-2zm2,1h1v1h-1zm1,1h2v1h-2zm2,1h1v1h-1z"/>
<path id="b91" d="M-10,-15h1v1h-1zm0,1h1v1h-1zm-1,1h1v1h-1zm3,0h1v1h-1zm-3,1h1v1h-1zm3,0h1v1h-1zm3,0h1v1h-1zm-6,1h1v1h-1zm2,0h1v1h-1zm4,0h1v1h-1zm-6,1h1v1h-1zm2,0h1v1h-1zm3,0h1v1h-1zm2,0h1v1h-1zm-8,1h1v1h-1zm3,0h1v1h-1zm3,0h1v1h-1zm2,0h1v1h-1zm-8,1h1v1h-1zm3,0h1v1h-1zm2,0h1v1h-1zm2,0h1v1h-1zm-6,1h2v1h-2zm4,0h1v1h-1zm2,0h1v1h-1zm-5,1h3v1h-3zm5,0h1v1h-1zm-3,1h3v1h-3zm2,1h1v1h-1zm1,1h2v1h-2zm2,1h1v1h-1zm1,1h2v1h-2zm2,1h1v1h-1z"/>
<path id="b92" d="M-10,-15h1v1h-1zm0,1h1v1h-1zm-1,1h1v1h-1zm3,0h1v1h-1zm-3,1h1v1h-1zm3,0h1v1h-1zm3,0h1v1h-1zm-6,1h1v1h-1zm2,0h1v1h-1zm4,0h1v1h-1zm-6,1h1v1h-1zm2,0h1v1h-1zm3,0h1v1h-1zm-6,1h1v1h-1zm3,0h1v1h-1zm3,0h1v1h-1zm2,0h1v1h-1zm-8,1h1v1h-1zm3,0h1v1h-1zm2,0h1v1h-1zm3,0h1v1h-1zm-7,1h2v1h-2zm4,0h1v1h-1zm2,0h1v1h-1zm-5,1h3v1h-3zm5,0h1v1h-1zm-3,1h3v1h-3zm2,1h1v1h-1zm1,1h2v1h-2zm2,1h1v1h-1zm1,1h2v1h-2zm2,1h1v1h-1z"/>
<path id="b93" d="M-7,-16h1v1h-1zm-1,1h2v1h-2zm0,1h2v1h-2zm-1,1h1v1h-1zm2,0h1v1h-1zm-2,1h1v1h-1zm2,0h1v1h-1zm-3,1h1v1h-1zm3,0h1v1h-1zm-3,1h1v1h-1zm3,0h1v1h-1zm-4,1h1v1h-1zm4,0h1v1h-1zm-3,1h1v1h-1zm3,0h1v1h-1zm-2,1h3v1h-3zm2,1h1v1h-1zm1,1h1v1h-1zm1,1h1v1h-1zm1,1h1v1h-1zm1,1h2v1h-2zm2,1h1v1h-1zm1,1h1v1h-1z"/>
<path id="b94" d="M-10,-15h1v1h-1zm0,1h1v1h-1zm-1,1h1v1h-1zm3,0h1v1h-1zm-3,1h1v1h-1zm3,0h1v1h-1zm3,0h1v1h-1zm-6,1h1v1h-1zm2,0h1v1h-1zm4,0h1v1h-1zm-6,1h1v1h-1zm2,0h1v1h-1zm3,0h1v1h-1zm-6,1h1v1h-1zm3,0h1v1h-1zm3,0h1v1h-1zm2,0h1v1h-1zm-8,1h1v1h-1zm3,0h1v1h-1zm2,0h1v1h-1zm3,0h1v1h-1zm-7,1h2v1h-2zm4,0h1v1h-1zm2,0h1v1h-1zm-5,1h3v1h-3zm5,0h1v1h-1zm-3,1h3v1h-3zm2,1h1v1h-1zm1,1h2v1h-2zm2,1h1v1h-1zm1,1h2v1h-2zm2,1h1v1h-1z"/>
<path id="b95" d="M-10,-15h1v1h-1zm0,1h1v1h-1zm-1,1h1v1h-1zm3,0h1v1h-1zm-3,1h1v1h-1zm3,0h1v1h-1zm3,0h1v1h-1zm-6,1h1v1h-1zm2,0h1v1h-1zm4,0h1v1h-1zm-6,1h1v1h-1zm2,0h1v1h-1zm3,0h1v1h-1zm-6,1h1v1h-1zm3,0h1v1h-1zm3,0h1v1h-1zm-6,1h1v1h-1zm3,0h1v1h-1zm2,0h1v1h-1zm3,0h1v1h-1zm-7,1h2v1h-2zm4,0h1v1h-1zm2,0h1v1h-1zm-5,1h3v1h-3zm5,0h1v1h-1zm-3,1h3v1h-3zm2,1h1v1h-1zm1,1h2v1h-2zm2,1h1v1h-1zm1,1h2v1h-2zm2,1h1v1h-1z"/>
<path id="b96" d="M-8,-16h1v1h-1zm0,1h1v1h-1zm-1,1h2v1h-2zm0,1h2v1h-2zm-1,1h1v1h-1zm2,0h1v1h-1zm-2,1h1v1h-1zm2,0h1v1h-1zm-3,1h1v1h-1zm4,0h1v1h-1zm-4,1h1v1h-1zm4,0h1v1h-1zm-3,1h1v1h-1zm3,0h1v1h-1zm-2,1h3v1h-3zm2,1h1v1h-1zm1,1h1v1h-1zm1,1h1v1h-1zm1,1h1v1h-1zm1,1h2v1h-2zm2,1h1v1h-1zm1,1h1v1h-1z"/>
<path id="b97" d="M-8,-16h1v1h-1zm0,1h1v1h-1zm-1,1h1v1h-1zm3,0h1v1h-1zm-3,1h1v1h-1zm3,0h1v1h-1zm2,0h1v1h-1zm-6,1h1v1h-1zm3,0h1v1h-1zm3,0h1v1h-1zm-6,1h1v1h-1zm3,0h1v1h-1zm2,0h1v1h-1zm3,0h1v1h-1zm-9,1h1v1h-1zm3,0h1v1h-1zm3,0h1v1h-1zm3,0h1v1h-1zm-9,1h1v1h-1zm3,0h1v1h-1zm2,0h1v1h-1zm3,0h1v1h-1zm3,0h1v1h-1zm-10,1h2v1h-2zm4,0h1v1h-1zm3,0h1v1h-1zm2,0h1v1h-1zm-8,1h3v1h-3zm5,0h1v1h-1zm3,0h1v1h-1zm-6,1h1v1h-1zm3,0h1v1h-1zm2,0h1v1h-1zm-4,1h2v1h-2zm4,0h1v1h-1zm-3,1h1v1h-1zm2,0h1v1h-1zm-1,1h2v1h-2zm1,1h2v1h-2zm2,1h1v1h-1zm1,1h1v1h-1z"/>
<path id="b98" d="M-8,-15h1v1h-1zm-1,1h1v1h-1zm3,0h1v1h-1zm-3,1h1v1h-1zm3,0h1v1h-1zm-4,1h1v1h-1zm3,0h1v1h-1zm3,0h1v1h-1zm-6,1h1v1h-1zm3,0h1v1h-1zm2,0h1v1h-1zm3,0h1v1h-1zm-9,1h1v1h-1zm3,0h1v1h-1zm3,0h1v1h-1zm3,0h1v1h-1zm-9,1h1v1h-1zm3,0h1v1h-1zm2,0h1v1h-1zm3,0h1v1h-1zm-7,1h2v1h-2zm4,0h1v1h-1zm3,0h1v1h-1zm-6,1h3v1h-3zm5,0h1v1h-1zm2,0h1v1h-1zm-5,1h1v1h-1zm3,0h1v1h-1zm2,0h1v1h-1zm-4,1h2v1h-2zm3,0h1v1h-1zm-2,1h1v1h-1zm2,0h1v1h-1zm-1,1h2v1h-2zm1,1h2v1h-2zm2,1h1v1h-1zm1,1h1v1h-1z"/>
<path id="b99" d="M-10,-15h1v1h-1zm0,1h1v1h-1zm-1,1h1v1h-1zm3,0h1v1h-1zm-3,1h1v1h-1zm3,0h1v1h-1zm3,0h1v1h-1zm-6,1h1v1h-1zm2,0h1v1h-1zm4,0h1v1h-1zm-6,1h1v1h-1zm2,0h1v1h-1zm3,0h1v1h-1zm-6,1h1v1h-1zm3,0h1v1h-1zm3,0h1v1h-1zm-6,1h1v1h-1zm3,0h1v1h-1zm2,0h1v1h-1zm-4,1h2v1h-2zm4,0h1v1h-1zm2,0h1v1h-1zm-5,1h3v1h-3zm5,0h1v1h-1zm-3,1h3v1h-3zm2,1h1v1h-1zm1,1h2v1h-2zm2,1h1v1h-1zm1,1h2v1h-2zm2,1h1v1h-1z"/>
<path id="b100" d="M-10,-15h1v1h-1zm0,1h1v1h-1zm-1,1h1v1h-1zm3,0h1v1h-1zm-3,1h1v1h-1zm3,0h1v1h-1zm3,0h1v1h-1zm-6,1h1v1h-1zm2,0h1v1h-1zm4,0h1v1h-1zm-6,1h1v1h-1zm2,0h1v1h-1zm3,0h1v1h-1zm-6,1h1v1h-1zm3,0h1v1h-1zm3,0h1v1h-1zm-6,1h1v1h-1zm3,0h1v1h-1zm2,0h1v1h-1zm-4,1h2v1h-2zm4,0h1v1h-1zm-3,1h3v1h-3zm5,0h1v1h-1zm-3,1h3v1h-3zm2,1h1v1h-1zm1,1h2v1h-2zm2,1h1v1h-1zm1,1h2v1h-2zm2,1h1v1h-1z"/>
<path id="b101" d="M-8,-16h1v1h-1zm0,1h1v1h-1zm-1,1h1v1h-1zm3,0h1v1h-1zm-3,1h1v1h-1zm3,0h1v1h-1zm2,0h1v1h-1zm-6,1h1v1h-1zm3,0h1v1h-1zm3,0h1v1h-1zm-6,1h1v1h-1zm3,0h1v1h-1zm2,0h1v1h-1zm3,0h1v1h-1zm-9,1h1v1h-1zm3,0h1v1h-1zm3,0h1v1h-1zm3,0h1v1h-1zm-9,1h1v1h-1zm3,0h1v1h-1zm2,0h1v1h-1zm3,0h1v1h-1zm-7,1h2v1h-2zm4,0h1v1h-1zm3,0h1v1h-1zm2,0h1v1h-1zm-8,1h3v1h-3zm5,0h1v1h-1zm3,0h1v1h-1zm-6,1h1v1h-1zm3,0h1v1h-1zm2,0h1v1h-1zm-4,1h2v1h-2zm4,0h1v1h-1zm-3,1h1v1h-1zm2,0h1v1h-1zm-1,1h2v1h-2zm1,1h2v1h-2zm2,1h1v1h-1zm1,1h1v1h-1z"/>
<path id="b102" d="M-7,-16h1v1h-1zm-1,1h2v1h-2zm0,1h2v1h-2zm-1,1h1v1h-1zm2,0h1v1h-1zm-2,1h1v1h-1zm2,0h1v1h-1zm-3,1h1v1h-1zm3,0h1v1h-1zm-3,1h1v1h-1zm3,0h1v1h-1zm-4,1h1v1h-1zm4,0h1v1h-1zm-3,1h1v1h-1zm3,0h1v1h-1zm-2,1h3v1h-3zm2,1h1v1h-1zm1,1h1v1h-1zm1,1h1v1h-1zm1,1h1v1h-1zm1,1h2v1h-2zm2,1h1v1h-1zm1,1h1v1h-1z"/>
<path id="b103" d="M-8,-16h1v1h-1zm0,1h1v1h-1zm-1,1h1v1h-1zm3,0h1v1h-1zm-3,1h1v1h-1zm2,0h1v1h-1zm3,0h1v1h-1zm-6,1h1v1h-1zm3,0h1v1h-1zm3,0h1v1h-1zm-6,1h1v1h-1zm2,0h1v1h-1zm3,0h1v1h-1zm3,0h1v1h-1zm-9,1h1v1h-1zm3,0h1v1h-1zm3,0h1v1h-1zm3,0h1v1h-1zm-9,1h1v1h-1zm2,0h1v1h-1zm3,0h1v1h-1zm3,0h1v1h-1zm3,0h1v1h-1zm-10,1h2v1h-2zm4,0h1v1h-1zm3,0h1v1h-1zm2,0h1v1h-1zm-8,1h3v1h-3zm5,0h1v1h-1zm3,0h1v1h-1zm-6,1h1v1h-1zm3,0h1v1h-1zm2,0h1v1h-1zm-4,1h2v1h-2zm4,0h1v1h-1zm-3,1h1v1h-1zm2,0h1v1h-1zm-1,1h2v1h-2zm1,1h2v1h-2zm2,1h1v1h-1zm1,1h1v1h-1z"/>
<path id="b104" d="M-8,-16h1v1h-1zm0,1h1v1h-1zm-1,1h1v1h-1zm3,0h1v1h-1zm-3,1h1v1h-1zm3,0h1v1h-1zm2,0h1v1h-1zm-6,1h1v1h-1zm3,0h1v1h-1zm3,0h1v1h-1zm-6,1h1v1h-1zm3,0h1v1h-1zm2,0h1v1h-1zm3,0h1v1h-1zm-9,1h1v1h-1zm3,0h1v1h-1zm3,0h1v1h-1zm3,0h1v1h-1zm-9,1h1v1h-1zm3,0h1v1h-1zm2,0h1v1h-1zm3,0h1v1h-1zm-7,1h2v1h-2zm4,0h1v1h-1zm3,0h1v1h-1zm-6,1h3v1h-3zm5,0h1v1h-1zm3,0h1v1h-1zm-6,1h1v1h-1zm3,0h1v1h-1zm2,0h1v1h-1zm-4,1h2v1h-2zm4,0h1v1h-1zm-3,1h1v1h-1zm2,0h1v1h-1zm-1,1h2v1h-2zm1,1h2v1h-2zm2,1h1v1h-1zm1,1h1v1h-1z"/>
<path id="b105" d="M-7,-16h1v1h-1zm-1,1h2v1h-2zm0,1h2v1h-2zm-1,1h1v1h-1zm2,0h1v1h-1zm-2,1h1v1h-1zm2,0h1v1h-1zm-3,1h1v1h-1zm3,0h1v1h-1zm2,0h1v1h-1zm-5,1h1v1h-1zm3,0h2v1h-2zm-2,1h1v1h-1zm2,0h2v1h-2zm-1,1h2v1h-2zm1,1h1v1h-1zm1,1h1v1h-1zm1,1h1v1h-1zm1,1h1v1h-1zm1,1h1v1h-1zm1,1h1v1h-1zm1,1h1v1h-1zm1,1h1v1h-1z"/>
<path id="b106" d="M-7,-16h1v1h-1zm-1,1h2v1h-2zm0,1h2v1h-2zm-1,1h1v1h-1zm2,0h1v1h-1zm-3,1h1v1h-1zm3,0h1v1h-1zm-3,1h1v1h-1zm3,0h1v1h-1zm-4,1h1v1h-1zm4,0h1v1h-1zm-3,1h1v1h-1zm3,0h2v1h-2zm-2,1h1v1h-1zm2,0h2v1h-2zm-1,1h2v1h-2zm1,1h1v1h-1zm1,1h2v1h-2zm2,1h1v1h-1zm1,1h1v1h-1zm1,1h1v1h-1zm1,1h1v1h-1zm1,1h1v1h-1z"/>
<path id="b107" d="M-8,-15h1v1h-1zm-1,1h1v1h-1zm3,0h1v1h-1zm-3,1h1v1h-1zm3,0h1v1h-1zm-4,1h1v1h-1zm3,0h1v1h-1zm3,0h1v1h-1zm-6,1h1v1h-1zm3,0h1v1h-1zm2,0h1v1h-1zm3,0h1v1h-1zm-9,1h1v1h-1zm3,0h1v1h-1zm3,0h1v1h-1zm3,0h1v1h-1zm-9,1h1v1h-1zm3,0h1v1h-1zm2,0h1v1h-1zm3,0h1v1h-1zm-7,1h2v1h-2zm4,0h1v1h-1zm3,0h1v1h-1zm-6,1h3v1h-3zm5,0h1v1h-1zm-3,1h1v1h-1zm3,0h1v1h-1zm2,0h1v1h-1zm-4,1h2v1h-2zm4,0h1v1h-1zm-3,1h1v1h-1zm2,0h1v1h-1zm-1,1h2v1h-2zm1,1h2v1h-2zm2,1h1v1h-1zm1,1h1v1h-1z"/>
<path id="b108" d="M-9,-15h1v1h-1zm0,1h1v1h-1zm2,0h1v1h-1zm-3,1h1v1h-1zm3,0h1v1h-1zm-3,1h1v1h-1zm2,0h1v1h-1zm3,0h1v1h-1zm-5,1h1v1h-1zm2,0h1v1h-1zm3,0h1v1h-1zm2,0h1v1h-1zm-7,1h1v1h-1zm2,0h1v1h-1zm2,0h1v1h-1zm3,0h1v1h-1zm-8,1h1v1h-1zm3,0h1v1h-1zm2,0h1v1h-1zm2,0h1v1h-1zm-7,1h1v1h-1zm2,0h1v1h-1zm3,0h1v1h-1zm2,0h1v1h-1zm-6,1h2v1h-2zm4,0h1v1h-1zm2,0h1v1h-1zm-4,1h2v1h-2zm4,0h1v1h-1zm-3,1h1v1h-1zm2,0h1v1h-1zm3,0h1v1h-1zm-4,1h2v1h-2zm4,0h1v1h-1zm-2,1h2v1h-2zm1,1h1v1h-1zm1,1h2v1h-2zm2,1h1v1h-1z"/>
<path id="b109" d="M-10,-14h1v1h-1zm0,1h1v1h-1zm2,0h1v1h-1zm-3,1h1v1h-1zm3,0h1v1h-1zm2,0h1v1h-1zm-5,1h1v1h-1zm2,0h1v1h-1zm3,0h1v1h-1zm-5,1h1v1h-1zm2,0h1v1h-1zm2,0h1v1h-1zm3,0h1v1h-1zm-7,1h1v1h-1zm2,0h1v1h-1zm2,0h1v1h-1zm3,0h1v1h-1zm-8,1h1v1h-1zm3,0h1v1h-1zm2,0h1v1h-1zm2,0h1v1h-1zm-7,1h1v1h-1zm2,0h1v1h-1zm3,0h1v1h-1zm2,0h1v1h-1zm-6,1h2v1h-2zm3,0h1v1h-1zm3,0h1v1h-1zm-4,1h2v1h-2zm4,0h1v1h-1zm-2,1h2v1h-2zm1,1h2v1h-2zm2,1h2v1h-2zm2,1h2v1h-2zm2,1h1v1h-1z"/>
<path id="b110" d="M-10,-14h1v1h-1zm0,1h1v1h-1zm2,0h1v1h-1zm-3,1h1v1h-1zm3,0h1v1h-1zm2,0h1v1h-1zm-5,1h1v1h-1zm2,0h1v1h-1zm3,0h1v1h-1zm-5,1h1v1h-1zm2,0h1v1h-1zm2,0h1v1h-1zm-4,1h1v1h-1zm2,0h1v1h-1zm2,0h1v1h-1zm3,0h1v1h-1zm-8,1h1v1h-1zm3,0h1v1h-1zm2,0h1v1h-1zm3,0h1v1h-1zm-8,1h1v1h-1zm2,0h1v1h-1zm3,0h1v1h-1zm2,0h1v1h-1zm-6,1h2v1h-2zm3,0h1v1h-1zm3,0h1v1h-1zm-4,1h2v1h-2zm4,0h1v1h-1zm-2,1h2v1h-2zm1,1h2v1h-2zm2,1h2v1h-2zm2,1h2v1h-2zm2,1h1v1h-1z"/>
<path id="b111" d="M-10,-14h1v1h-1zm0,1h1v1h-1zm2,0h1v1h-1zm-3,1h1v1h-1zm3,0h1v1h-1zm2,0h1v1h-1zm-5,1h1v1h-1zm2,0h1v1h-1zm3,0h1v1h-1zm-5,1h1v1h-1zm2,0h1v1h-1zm2,0h1v1h-1zm-4,1h1v1h-1zm2,0h1v1h-1zm2,0h1v1h-1zm-5,1h1v1h-1zm3,0h1v1h-1zm2,0h1v1h-1zm3,0h1v1h-1zm-8,1h1v1h-1zm2,0h1v1h-1zm3,0h1v1h-1zm3,0h1v1h-1zm-7,1h2v1h-2zm3,0h1v1h-1zm3,0h1v1h-1zm-4,1h2v1h-2zm4,0h1v1h-1zm-2,1h2v1h-2zm1,1h2v1h-2zm2,1h2v1h-2zm2,1h2v1h-2zm2,1h1v1h-1z"/>
<path id="b112" d="M-10,-14h1v1h-1zm0,1h1v1h-1zm2,0h1v1h-1zm-3,1h1v1h-1zm3,0h1v1h-1zm2,0h1v1h-1zm-5,1h1v1h-1zm2,0h1v1h-1zm3,0h1v1h-1zm-5,1h1v1h-1zm2,0h1v1h-1zm2,0h1v1h-1zm-4,1h1v1h-1zm2,0h1v1h-1zm2,0h1v1h-1zm-5,1h1v1h-1zm3,0h1v1h-1zm2,0h1v1h-1zm3,0h1v1h-1zm-8,1h1v1h-1zm2,0h1v1h-1zm3,0h1v1h-1zm3,0h1v1h-1zm-7,1h2v1h-2zm3,0h1v1h-1zm3,0h1v1h-1zm-4,1h2v1h-2zm4,0h1v1h-1zm-2,1h2v1h-2zm1,1h2v1h-2zm2,1h2v1h-2zm2,1h2v1h-2zm2,1h1v1h-1z"/>
<path id="b113" d="M-10,-14h1v1h-1zm0,1h1v1h-1zm2,0h1v1h-1zm-3,1h1v1h-1zm3,0h1v1h-1zm2,0h1v1h-1zm-5,1h1v1h-1zm2,0h1v1h-1zm3,0h1v1h-1zm-5,1h1v1h-1zm2,0h1v1h-1zm2,0h1v1h-1zm-4,1h1v1h-1zm2,0h1v1h-1zm2,0h1v1h-1zm-5,1h1v1h-1zm3,0h1v1h-1zm2,0h1v1h-1zm-5,1h1v1h-1zm2,0h1v1h-1zm3,0h1v1h-1zm2,0h1v1h-1zm-6,1h2v1h-2zm3,0h1v1h-1zm3,0h1v1h-1zm-4,1h2v1h-2zm3,0h1v1h-1zm-1,1h2v1h-2zm1,1h2v1h-2zm2,1h2v1h-2zm2,1h2v1h-2zm2,1h1v1h-1z"/>
<path id="b114" d="M-10,-14h1v1h-1zm0,1h1v1h-1zm2,0h1v1h-1zm-3,1h1v1h-1zm3,0h1v1h-1zm2,0h1v1h-1zm-5,1h1v1h-1zm2,0h1v1h-1zm3,0h1v1h-1zm-5,1h1v1h-1zm2,0h1v1h-1zm2,0h1v1h-1zm-4,1h1v1h-1zm2,0h1v1h-1zm2,0h1v1h-1zm-5,1h1v1h-1zm3,0h1v1h-1zm2,0h1v1h-1zm-5,1h1v1h-1zm2,0h1v1h-1zm3,0h1v1h-1zm-4,1h2v1h-2zm3,0h1v1h-1zm3,0h1v1h-1zm-4,1h2v1h-2zm4,0h1v1h-1zm-2,1h2v1h-2zm1,1h2v1h-2zm2,1h2v1h-2zm2,1h2v1h-2zm2,1h1v1h-1z"/>
<path id="b115" d="M-8,-16h1v1h-1zm0,1h1v1h-1zm-1,1h1v1h-1zm3,0h1v1h-1zm-3,1h1v1h-1zm2,0h1v1h-1zm3,0h1v1h-1zm-6,1h1v1h-1zm3,0h1v1h-1zm3,0h1v1h-1zm-6,1h1v1h-1zm2,0h1v1h-1zm3,0h1v1h-1zm3,0h1v1h-1zm-9,1h1v1h-1zm3,0h1v1h-1zm3,0h1v1h-1zm3,0h1v1h-1zm-9,1h1v1h-1zm2,0h1v1h-1zm3,0h1v1h-1zm3,0h1v1h-1zm-7,1h2v1h-2zm4,0h1v1h-1zm3,0h1v1h-1zm2,0h1v1h-1zm-8,1h3v1h-3zm5,0h1v1h-1zm3,0h1v1h-1zm-6,1h1v1h-1zm3,0h1v1h-1zm2,0h1v1h-1zm-4,1h2v1h-2zm4,0h1v1h-1zm-3,1h1v1h-1zm2,0h1v1h-1zm-1,1h2v1h-2zm1,1h2v1h-2zm2,1h1v1h-1zm1,1h1v1h-1z"/>
<path id="b116" d="M-8,-16h1v1h-1zm0,1h1v1h-1zm-1,1h1v1h-1zm3,0h1v1h-1zm-3,1h1v1h-1zm3,0h1v1h-1zm2,0h1v1h-1zm-6,1h1v1h-1zm3,0h1v1h-1zm3,0h1v1h-1zm-6,1h1v1h-1zm3,0h1v1h-1zm2,0h1v1h-1zm3,0h1v1h-1zm-9,1h1v1h-1zm3,0h1v1h-1zm3,0h1v1h-1zm3,0h1v1h-1zm-9,1h1v1h-1zm3,0h1v1h-1zm2,0h1v1h-1zm3,0h1v1h-1zm-7,1h2v1h-2zm4,0h1v1h-1zm3,0h1v1h-1zm-6,1h3v1h-3zm5,0h1v1h-1zm3,0h1v1h-1zm-6,1h1v1h-1zm3,0h1v1h-1zm2,0h1v1h-1zm-4,1h2v1h-2zm4,0h1v1h-1zm-3,1h1v1h-1zm2,0h1v1h-1zm-1,1h2v1h-2zm1,1h2v1h-2zm2,1h1v1h-1zm1,1h1v1h-1z"/>
<path id="b117" d="M-8,-16h1v1h-1zm0,1h1v1h-1zm-1,1h1v1h-1zm3,0h1v1h-1zm-3,1h1v1h-1zm3,0h1v1h-1zm2,0h1v1h-1zm-6,1h1v1h-1zm3,0h1v1h-1zm3,0h1v1h-1zm-6,1h1v1h-1zm3,0h1v1h-1zm2,0h1v1h-1zm3,0h1v1h-1zm-9,1h1v1h-1zm3,0h1v1h-1zm3,0h1v1h-1zm3,0h1v1h-1zm-9,1h1v1h-1zm3,0h1v1h-1zm2,0h1v1h-1zm3,0h1v1h-1zm-7,1h2v1h-2zm4,0h1v1h-1zm3,0h1v1h-1zm-6,1h3v1h-3zm5,0h1v1h-1zm3,0h1v1h-1zm-6,1h1v1h-1zm3,0h1v1h-1zm2,0h1v1h-1zm-4,1h2v1h-2zm4,0h1v1h-1zm-3,1h1v1h-1zm2,0h1v1h-1zm-1,1h2v1h-2zm1,1h2v1h-2zm2,1h1v1h-1zm1,1h1v1h-1z"/>
<path id="b118" d="M-8,-15h1v1h-1zm-1,1h1v1h-1zm3,0h1v1h-1zm-3,1h1v1h-1zm3,0h1v1h-1zm-4,1h1v1h-1zm3,0h1v1h-1zm3,0h1v1h-1zm-6,1h1v1h-1zm3,0h1v1h-1zm2,0h1v1h-1zm3,0h1v1h-1zm-9,1h1v1h-1zm3,0h1v1h-1zm3,0h1v1h-1zm3,0h1v1h-1zm-9,1h1v1h-1zm3,0h1v1h-1zm2,0h1v1h-1zm3,0h1v1h-1zm-7,1h2v1h-2zm4,0h1v1h-1zm3,0h1v1h-1zm-6,1h3v1h-3zm5,0h1v1h-1zm-3,1h1v1h-1zm3,0h1v1h-1zm-2,1h2v1h-2zm4,0h1v1h-1zm-3,1h1v1h-1zm2,0h1v1h-1zm-1,1h2v1h-2zm1,1h2v1h-2zm2,1h1v1h-1zm1,1h1v1h-1z"/>
<path id="b119" d="M-8,-16h1v1h-1zm0,1h1v1h-1zm-1,1h1v1h-1zm3,0h1v1h-1zm-3,1h1v1h-1zm3,0h1v1h-1zm2,0h1v1h-1zm-6,1h1v1h-1zm3,0h1v1h-1zm3,0h1v1h-1zm-6,1h1v1h-1zm3,0h1v1h-1zm2,0h1v1h-1zm3,0h1v1h-1zm-9,1h1v1h-1zm3,0h1v1h-1zm3,0h1v1h-1zm3,0h1v1h-1zm-9,1h1v1h-1zm3,0h1v1h-1zm2,0h1v1h-1zm3,0h1v1h-1zm-7,1h2v1h-2zm4,0h1v1h-1zm3,0h1v1h-1zm-6,1h3v1h-3zm5,0h1v1h-1zm3,0h1v1h-1zm-6,1h1v1h-1zm3,0h1v1h-1zm2,0h1v1h-1zm-4,1h2v1h-2zm4,0h1v1h-1zm-3,1h1v1h-1zm2,0h1v1h-1zm-1,1h2v1h-2zm1,1h2v1h-2zm2,1h1v1h-1zm1,1h1v1h-1z"/>
<path id="b120" d="M-8,-16h1v1h-1zm0,1h1v1h-1zm-1,1h1v1h-1zm3,0h1v1h-1zm-3,1h1v1h-1zm3,0h1v1h-1zm2,0h1v1h-1zm-6,1h1v1h-1zm3,0h1v1h-1zm3,0h1v1h-1zm-6,1h1v1h-1zm3,0h1v1h-1zm2,0h1v1h-1zm3,0h1v1h-1zm-9,1h1v1h-1zm3,0h1v1h-1zm3,0h1v1h-1zm3,0h1v1h-1zm-9,1h1v1h-1zm3,0h1v1h-1zm2,0h1v1h-1zm3,0h1v1h-1zm-7,1h2v1h-2zm4,0h1v1h-1zm3,0h1v1h-1zm-6,1h3v1h-3zm5,0h1v1h-1zm-3,1h1v1h-1zm3,0h1v1h-1zm2,0h1v1h-1zm-4,1h2v1h-2zm4,0h1v1h-1zm-3,1h1v1h-1zm2,0h1v1h-1zm-1,1h2v1h-2zm1,1h2v1h-2zm2,1h1v1h-1zm1,1h1v1h-1z"/>
<path id="b121" d="M-9,-15h1v1h-1zm0,1h1v1h-1zm2,0h1v1h-1zm-3,1h1v1h-1zm3,0h1v1h-1zm-3,1h1v1h-1zm2,0h1v1h-1zm3,0h1v1h-1zm-5,1h1v1h-1zm2,0h1v1h-1zm3,0h1v1h-1zm2,0h1v1h-1zm-7,1h1v1h-1zm2,0h1v1h-1zm2,0h1v1h-1zm3,0h1v1h-1zm-8,1h1v1h-1zm3,0h1v1h-1zm2,0h1v1h-1zm2,0h1v1h-1zm-7,1h1v1h-1zm2,0h1v1h-1zm3,0h1v1h-1zm2,0h1v1h-1zm-6,1h2v1h-2zm4,0h1v1h-1zm2,0h1v1h-1zm-4,1h2v1h-2zm4,0h1v1h-1zm-3,1h1v1h-1zm2,0h1v1h-1zm2,0h1v1h-1zm-3,1h2v1h-2zm3,0h1v1h-1zm-1,1h2v1h-2zm1,1h1v1h-1zm1,1h2v1h-2zm2,1h1v1h-1z"/>
<path id="b122" d="M-7,-16h1v1h-1zm-1,1h2v1h-2zm0,1h2v1h-2zm-1,1h1v1h-1zm2,0h1v1h-1zm-3,1h1v1h-1zm3,0h1v1h-1zm-3,1h1v1h-1zm3,0h1v1h-1zm-4,1h1v1h-1zm4,0h1v1h-1zm-3,1h1v1h-1zm3,0h1v1h-1zm-2,1h1v1h-1zm2,0h2v1h-2zm-1,1h2v1h-2zm1,1h1v1h-1zm1,1h2v1h-2zm2,1h1v1h-1zm1,1h1v1h-1zm1,1h1v1h-1zm1,1h1v1h-1zm1,1h1v1h-1z"/>
<path id="b123" d="M-7,-16h1v1h-1zm-1,1h2v1h-2zm0,1h2v1h-2zm-1,1h1v1h-1zm2,0h1v1h-1zm-2,1h1v1h-1zm2,0h1v1h-1zm-3,1h1v1h-1zm3,0h1v1h-1zm-3,1h1v1h-1zm3,0h1v1h-1zm-4,1h1v1h-1zm4,0h1v1h-1zm-3,1h1v1h-1zm3,0h1v1h-1zm-2,1h3v1h-3zm2,1h1v1h-1zm1,1h1v1h-1zm1,1h1v1h-1zm1,1h1v1h-1zm1,1h2v1h-2zm2,1h1v1h-1zm1,1h1v1h-1z"/>
<path id="b124" d="M-10,-14h1v1h-1zm0,1h1v1h-1zm2,0h1v1h-1zm-3,1h1v1h-1zm3,0h1v1h-1zm2,0h1v1h-1zm-5,1h1v1h-1zm2,0h1v1h-1zm3,0h1v1h-1zm-5,1h1v1h-1zm2,0h1v1h-1zm2,0h1v1h-1zm-4,1h1v1h-1zm2,0h1v1h-1zm2,0h1v1h-1zm-5,1h1v1h-1zm3,0h1v1h-1zm2,0h1v1h-1zm2,0h1v1h-1zm-7,1h1v1h-1zm2,0h1v1h-1zm3,0h1v1h-1zm2,0h1v1h-1zm-6,1h2v1h-2zm3,0h1v1h-1zm3,0h1v1h-1zm-4,1h2v1h-2zm3,0h1v1h-1zm-1,1h2v1h-2zm1,1h2v1h-2zm2,1h2v1h-2zm2,1h2v1h-2zm2,1h1v1h-1z"/>
<path id="b125" d="M-10,-14h1v1h-1zm0,1h1v1h-1zm2,0h1v1h-1zm-3,1h1v1h-1zm3,0h1v1h-1zm2,0h1v1h-1zm-5,1h1v1h-1zm2,0h1v1h-1zm3,0h1v1h-1zm-5,1h1v1h-1zm2,0h1v1h-1zm2,0h1v1h-1zm-4,1h1v1h-1zm2,0h1v1h-1zm2,0h1v1h-1zm-5,1h1v1h-1zm3,0h1v1h-1zm2,0h1v1h-1zm-5,1h1v1h-1zm2,0h1v1h-1zm3,0h1v1h-1zm2,0h1v1h-1zm-6,1h2v1h-2zm3,0h1v1h-1zm3,0h1v1h-1zm-4,1h2v1h-2zm3,0h1v1h-1zm-1,1h2v1h-2zm1,1h2v1h-2zm2,1h2v1h-2zm2,1h2v1h-2zm2,1h1v1h-1z"/>
<path id="b126" d="M-10,-14h1v1h-1zm0,1h1v1h-1zm2,0h1v1h-1zm-3,1h1v1h-1zm3,0h1v1h-1zm2,0h1v1h-1zm-5,1h1v1h-1zm2,0h1v1h-1zm3,0h1v1h-1zm-5,1h1v1h-1zm2,0h1v1h-1zm2,0h1v1h-1zm-4,1h1v1h-1zm2,0h1v1h-1zm2,0h1v1h-1zm-5,1h1v1h-1zm3,0h1v1h-1zm2,0h1v1h-1zm-5,1h1v1h-1zm2,0h1v1h-1zm3,0h1v1h-1zm-4,1h2v1h-2zm3,0h1v1h-1zm3,0h1v1h-1zm-4,1h2v1h-2zm4,0h1v1h-1zm-2,1h2v1h-2zm1,1h2v1h-2zm2,1h2v1h-2zm2,1h2v1h-2zm2,1h1v1h-1z"/>
<path id="b127" d="M-7,-16h1v1h-1zm-1,1h2v1h-2zm0,1h2v1h-2zm-1,1h1v1h-1zm2,0h1v1h-1zm-3,1h1v1h-1zm3,0h1v1h-1zm-3,1h1v1h-1zm3,0h1v1h-1zm-4,1h1v1h-1zm4,0h1v1h-1zm-3,1h1v1h-1zm3,0h1v1h-1zm-2,1h1v1h-1zm2,0h1v1h-1zm-1,1h2v1h-2zm1,1h1v1h-1zm1,1h2v1h-2zm2,1h1v1h-1zm1,1h1v1h-1zm1,1h1v1h-1zm1,1h1v1h-1zm1,1h1v1h-1z"/>
<path id="b128" d="M-9,-15h1v1h-1zm0,1h1v1h-1zm2,0h1v1h-1zm-3,1h1v1h-1zm3,0h1v1h-1zm-3,1h1v1h-1zm2,0h1v1h-1zm3,0h1v1h-1zm-5,1h1v1h-1zm2,0h1v1h-1zm3,0h1v1h-1zm2,0h1v1h-1zm-7,1h1v1h-1zm2,0h1v1h-1zm2,0h1v1h-1zm3,0h1v1h-1zm-8,1h1v1h-1zm3,0h1v1h-1zm2,0h1v1h-1zm2,0h1v1h-1zm-7,1h1v1h-1zm2,0h1v1h-1zm3,0h1v1h-1zm2,0h1v1h-1zm-6,1h2v1h-2zm4,0h1v1h-1zm2,0h1v1h-1zm-4,1h2v1h-2zm4,0h1v1h-1zm-3,1h1v1h-1zm2,0h1v1h-1zm-1,1h2v1h-2zm3,0h1v1h-1zm-1,1h2v1h-2zm1,1h1v1h-1zm1,1h2v1h-2zm2,1h1v1h-1z"/>
<path id="b129" d="M-8,-15h1v1h-1zm-1,1h1v1h-1zm3,0h1v1h-1zm-3,1h1v1h-1zm3,0h1v1h-1zm-4,1h1v1h-1zm3,0h1v1h-1zm3,0h1v1h-1zm-6,1h1v1h-1zm3,0h1v1h-1zm2,0h1v1h-1zm3,0h1v1h-1zm-9,1h1v1h-1zm3,0h1v1h-1zm3,0h1v1h-1zm3,0h1v1h-1zm-9,1h1v1h-1zm3,0h1v1h-1zm2,0h1v1h-1zm3,0h1v1h-1zm-7,1h2v1h-2zm4,0h1v1h-1zm3,0h1v1h-1zm-6,1h3v1h-3zm5,0h1v1h-1zm-3,1h1v1h-1zm3,0h1v1h-1zm-2,1h2v1h-2zm4,0h1v1h-1zm-3,1h1v1h-1zm2,0h1v1h-1zm-1,1h2v1h-2zm1,1h2v1h-2zm2,1h1v1h-1zm1,1h1v1h-1z"/>
<path id="b130" d="M-8,-16h1v1h-1zm0,1h1v1h-1zm-1,1h1v1h-1zm3,0h1v1h-1zm-3,1h1v1h-1zm3,0h1v1h-1zm2,0h1v1h-1zm-6,1h1v1h-1zm3,0h1v1h-1zm3,0h1v1h-1zm-6,1h1v1h-1zm3,0h1v1h-1zm2,0h1v1h-1zm3,0h1v1h-1zm-9,1h1v1h-1zm3,0h1v1h-1zm3,0h1v1h-1zm3,0h1v1h-1zm-9,1h1v1h-1zm3,0h1v1h-1zm2,0h1v1h-1zm3,0h1v1h-1zm-7,1h2v1h-2zm4,0h1v1h-1zm3,0h1v1h-1zm-6,1h3v1h-3zm5,0h1v1h-1zm-3,1h1v1h-1zm3,0h1v1h-1zm-2,1h2v1h-2zm4,0h1v1h-1zm-3,1h1v1h-1zm2,0h1v1h-1zm-1,1h2v1h-2zm1,1h2v1h-2zm2,1h1v1h-1zm1,1h1v1h-1z"/>
<path id="b131" d="M-7,-16h1v1h-1zm-1,1h1v1h-1zm0,1h1v1h-1zm3,0h1v1h-1zm-4,1h1v1h-1zm3,0h1v1h-1zm2,0h1v1h-1zm-5,1h1v1h-1zm3,0h1v1h-1zm2,0h1v1h-1zm-6,1h1v1h-1zm3,0h1v1h-1zm2,0h1v1h-1zm3,0h1v1h-1zm-8,1h1v1h-1zm2,0h1v1h-1zm3,0h1v1h-1zm3,0h1v1h-1zm-9,1h1v1h-1zm3,0h1v1h-1zm2,0h1v1h-1zm3,0h1v1h-1zm3,0h1v1h-1zm-10,1h2v1h-2zm4,0h1v1h-1zm3,0h1v1h-1zm2,0h1v1h-1zm-8,1h3v1h-3zm5,0h1v1h-1zm3,0h1v1h-1zm-6,1h1v1h-1zm3,0h1v1h-1zm2,0h1v1h-1zm-4,1h2v1h-2zm4,0h1v1h-1zm-3,1h1v1h-1zm2,0h1v1h-1zm-1,1h2v1h-2zm1,1h2v1h-2zm2,1h1v1h-1zm1,1h1v1h-1z"/>
<path id="b132" d="M-8,-16h1v1h-1zm0,1h1v1h-1zm-1,1h1v1h-1zm3,0h1v1h-1zm-3,1h1v1h-1zm2,0h1v1h-1zm3,0h1v1h-1zm-6,1h1v1h-1zm3,0h1v1h-1zm3,0h1v1h-1zm-6,1h1v1h-1zm2,0h1v1h-1zm3,0h1v1h-1zm3,0h1v1h-1zm-9,1h1v1h-1zm3,0h1v1h-1zm3,0h1v1h-1zm3,0h1v1h-1zm-9,1h1v1h-1zm2,0h1v1h-1zm3,0h1v1h-1zm3,0h1v1h-1zm-7,1h2v1h-2zm4,0h1v1h-1zm3,0h1v1h-1zm-6,1h3v1h-3zm5,0h1v1h-1zm3,0h1v1h-1zm-6,1h1v1h-1zm3,0h1v1h-1zm2,0h1v1h-1zm-4,1h2v1h-2zm4,0h1v1h-1zm-3,1h1v1h-1zm2,0h1v1h-1zm-1,1h2v1h-2zm1,1h2v1h-2zm2,1h1v1h-1zm1,1h1v1h-1z"/>
<path id="b133" d="M-8,-16h1v1h-1zm0,1h1v1h-1zm-1,1h1v1h-1zm3,0h1v1h-1zm-3,1h1v1h-1zm2,0h1v1h-1zm3,0h1v1h-1zm-6,1h1v1h-1zm3,0h1v1h-1zm3,0h1v1h-1zm-6,1h1v1h-1zm2,0h1v1h-1zm3,0h1v1h-1zm3,0h1v1h-1zm-9,1h1v1h-1zm3,0h1v1h-1zm3,0h1v1h-1zm3,0h1v1h-1zm-9,1h1v1h-1zm2,0h1v1h-1zm3,0h1v1h-1zm3,0h1v1h-1zm-7,1h2v1h-2zm4,0h1v1h-1zm3,0h1v1h-1zm-6,1h3v1h-3zm5,0h1v1h-1zm3,0h1v1h-1zm-6,1h1v1h-1zm3,0h1v1h-1zm2,0h1v1h-1zm-4,1h2v1h-2zm4,0h1v1h-1zm-3,1h1v1h-1zm2,0h1v1h-1zm-1,1h2v1h-2zm1,1h2v1h-2zm2,1h1v1h-1zm1,1h1v1h-1z"/>
<path id="b134" d="M-8,-16h1v1h-1zm0,1h1v1h-1zm-1,1h1v1h-1zm3,0h1v1h-1zm-3,1h1v1h-1zm3,0h1v1h-1zm2,0h1v1h-1zm-6,1h1v1h-1zm3,0h1v1h-1zm3,0h1v1h-1zm-6,1h1v1h-1zm3,0h1v1h-1zm2,0h1v1h-1zm3,0h1v1h-1zm-9,1h1v1h-1zm3,0h1v1h-1zm3,0h1v1h-1zm3,0h1v1h-1zm-9,1h1v1h-1zm3,0h1v1h-1zm2,0h1v1h-1zm3,0h1v1h-1zm-7,1h2v1h-2zm4,0h1v1h-1zm3,0h1v1h-1zm-6,1h3v1h-3zm5,0h1v1h-1zm-3,1h1v1h-1zm3,0h1v1h-1zm2,0h1v1h-1zm-4,1h2v1h-2zm4,0h1v1h-1zm-3,1h1v1h-1zm2,0h1v1h-1zm-1,1h2v1h-2zm1,1h2v1h-2zm2,1h1v1h-1zm1,1h1v1h-1z"/>
<path id="b135" d="M-8,-15h1v1h-1zm-1,1h1v1h-1zm3,0h1v1h-1zm-3,1h1v1h-1zm3,0h1v1h-1zm-4,1h1v1h-1zm3,0h1v1h-1zm3,0h1v1h-1zm-6,1h1v1h-1zm3,0h1v1h-1zm2,0h1v1h-1zm3,0h1v1h-1zm-9,1h1v1h-1zm3,0h1v1h-1zm3,0h1v1h-1zm3,0h1v1h-1zm-9,1h1v1h-1zm3,0h1v1h-1zm2,0h1v1h-1zm3,0h1v1h-1zm-7,1h2v1h-2zm4,0h1v1h-1zm3,0h1v1h-1zm-6,1h3v1h-3zm5,0h1v1h-1zm-3,1h1v1h-1zm3,0h1v1h-1zm-2,1h2v1h-2zm1,1h1v1h-1zm2,0h1v1h-1zm-1,1h2v1h-2zm1,1h2v1h-2zm2,1h1v1h-1zm1,1h1v1h-1z"/>
<path id="b136" d="M-9,-15h1v1h-1zm0,1h1v1h-1zm2,0h1v1h-1zm-3,1h1v1h-1zm3,0h1v1h-1zm-3,1h1v1h-1zm2,0h1v1h-1zm3,0h1v1h-1zm-5,1h1v1h-1zm2,0h1v1h-1zm3,0h1v1h-1zm2,0h1v1h-1zm-7,1h1v1h-1zm2,0h1v1h-1zm2,0h1v1h-1zm3,0h1v1h-1zm-8,1h1v1h-1zm3,0h1v1h-1zm2,0h1v1h-1zm2,0h1v1h-1zm-7,1h1v1h-1zm2,0h1v1h-1zm3,0h1v1h-1zm2,0h1v1h-1zm-6,1h2v1h-2zm4,0h1v1h-1zm2,0h1v1h-1zm-4,1h2v1h-2zm4,0h1v1h-1zm-3,1h1v1h-1zm2,0h1v1h-1zm-1,1h2v1h-2zm2,1h1v1h-1zm1,1h1v1h-1zm1,1h2v1h-2zm2,1h1v1h-1z"/>
<path id="b137" d="M-8,-16h1v1h-1zm0,1h1v1h-1zm-1,1h1v1h-1zm3,0h1v1h-1zm-3,1h1v1h-1zm3,0h1v1h-1zm2,0h1v1h-1zm-6,1h1v1h-1zm3,0h1v1h-1zm3,0h1v1h-1zm-6,1h1v1h-1zm3,0h1v1h-1zm2,0h1v1h-1zm3,0h1v1h-1zm-9,1h1v1h-1zm3,0h1v1h-1zm3,0h1v1h-1zm3,0h1v1h-1zm-9,1h1v1h-1zm3,0h1v1h-1zm2,0h1v1h-1zm3,0h1v1h-1zm-7,1h2v1h-2zm4,0h1v1h-1zm3,0h1v1h-1zm-6,1h3v1h-3zm5,0h1v1h-1zm-3,1h1v1h-1zm3,0h1v1h-1zm-2,1h2v1h-2zm4,0h1v1h-1zm-3,1h1v1h-1zm2,0h1v1h-1zm-1,1h2v1h-2zm1,1h2v1h-2zm2,1h1v1h-1zm1,1h1v1h-1z"/>
<path id="b138" d="M-8,-16h1v1h-1zm0,1h1v1h-1zm-1,1h1v1h-1zm3,0h1v1h-1zm-3,1h1v1h-1zm3,0h1v1h-1zm2,0h1v1h-1zm-6,1h1v1h-1zm3,0h1v1h-1zm3,0h1v1h-1zm-6,1h1v1h-1zm3,0h1v1h-1zm2,0h1v1h-1zm3,0h1v1h-1zm-9,1h1v1h-1zm3,0h1v1h-1zm3,0h1v1h-1zm3,0h1v1h-1zm-9,1h1v1h-1zm3,0h1v1h-1zm2,0h1v1h-1zm3,0h1v1h-1zm-7,1h2v1h-2zm4,0h1v1h-1zm3,0h1v1h-1zm-6,1h3v1h-3zm5,0h1v1h-1zm-3,1h1v1h-1zm3,0h1v1h-1zm-2,1h2v1h-2zm4,0h1v1h-1zm-3,1h1v1h-1zm2,0h1v1h-1zm-1,1h2v1h-2zm1,1h2v1h-2zm2,1h1v1h-1zm1,1h1v1h-1z"/>
<path id="b139" d="M-8,-16h1v1h-1zm0,1h1v1h-1zm-1,1h1v1h-1zm3,0h1v1h-1zm-3,1h1v1h-1zm2,0h1v1h-1zm3,0h1v1h-1zm-6,1h1v1h-1zm3,0h1v1h-1zm3,0h1v1h-1zm-6,1h1v1h-1zm2,0h1v1h-1zm3,0h1v1h-1zm3,0h1v1h-1zm-9,1h1v1h-1zm3,0h1v1h-1zm3,0h1v1h-1zm3,0h1v1h-1zm-9,1h1v1h-1zm2,0h1v1h-1zm3,0h1v1h-1zm3,0h1v1h-1zm-7,1h2v1h-2zm4,0h1v1h-1zm3,0h1v1h-1zm-6,1h3v1h-3zm5,0h1v1h-1zm-3,1h1v1h-1zm3,0h1v1h-1zm2,0h1v1h-1zm-4,1h2v1h-2zm4,0h1v1h-1zm-3,1h1v1h-1zm2,0h1v1h-1zm-1,1h2v1h-2zm1,1h2v1h-2zm2,1h1v1h-1zm1,1h1v1h-1z"/>
<path id="b140" d="M-8,-15h1v1h-1zm-1,1h1v1h-1zm3,0h1v1h-1zm-3,1h1v1h-1zm3,0h1v1h-1zm-4,1h1v1h-1zm3,0h1v1h-1zm3,0h1v1h-1zm-6,1h1v1h-1zm3,0h1v1h-1zm2,0h1v1h-1zm3,0h1v1h-1zm-9,1h1v1h-1zm3,0h1v1h-1zm3,0h1v1h-1zm3,0h1v1h-1zm-9,1h1v1h-1zm3,0h1v1h-1zm2,0h1v1h-1zm3,0h1v1h-1zm-7,1h2v1h-2zm4,0h1v1h-1zm3,0h1v1h-1zm-6,1h3v1h-3zm5,0h1v1h-1zm-3,1h1v1h-1zm3,0h1v1h-1zm-2,1h2v1h-2zm1,1h1v1h-1zm1,1h1v1h-1zm1,1h2v1h-2zm2,1h1v1h-1zm1,1h1v1h-1z"/>
<path id="b141" d="M-9,-15h1v1h-1zm0,1h1v1h-1zm2,0h1v1h-1zm-3,1h1v1h-1zm3,0h1v1h-1zm-3,1h1v1h-1zm2,0h1v1h-1zm3,0h1v1h-1zm-5,1h1v1h-1zm2,0h1v1h-1zm3,0h1v1h-1zm2,0h1v1h-1zm-7,1h1v1h-1zm2,0h1v1h-1zm2,0h1v1h-1zm3,0h1v1h-1zm-8,1h1v1h-1zm3,0h1v1h-1zm2,0h1v1h-1zm2,0h1v1h-1zm-7,1h1v1h-1zm2,0h1v1h-1zm3,0h1v1h-1zm2,0h1v1h-1zm-6,1h2v1h-2zm4,0h1v1h-1zm2,0h1v1h-1zm-4,1h2v1h-2zm4,0h1v1h-1zm-3,1h1v1h-1zm2,0h1v1h-1zm-1,1h2v1h-2zm2,1h1v1h-1zm1,1h1v1h-1zm1,1h2v1h-2zm2,1h1v1h-1z"/>
<path id="b142" d="M-8,-16h1v1h-1zm0,1h1v1h-1zm-1,1h1v1h-1zm3,0h1v1h-1zm-3,1h1v1h-1zm2,0h1v1h-1zm3,0h1v1h-1zm-6,1h1v1h-1zm3,0h1v1h-1zm3,0h1v1h-1zm-6,1h1v1h-1zm2,0h1v1h-1zm3,0h1v1h-1zm3,0h1v1h-1zm-9,1h1v1h-1zm3,0h1v1h-1zm3,0h1v1h-1zm3,0h1v1h-1zm-9,1h1v1h-1zm2,0h1v1h-1zm3,0h1v1h-1zm3,0h1v1h-1zm-7,1h2v1h-2zm4,0h1v1h-1zm3,0h1v1h-1zm-6,1h3v1h-3zm5,0h1v1h-1zm-3,1h1v1h-1zm3,0h1v1h-1zm-2,1h2v1h-2zm4,0h1v1h-1zm-3,1h1v1h-1zm2,0h1v1h-1zm-1,1h2v1h-2zm1,1h2v1h-2zm2,1h1v1h-1zm1,1h1v1h-1z"/>
<path id="b143" d="M-8,-16h1v1h-1zm0,1h1v1h-1zm-1,1h1v1h-1zm3,0h1v1h-1zm-3,1h1v1h-1zm3,0h1v1h-1zm2,0h1v1h-1zm-6,1h1v1h-1zm3,0h1v1h-1zm3,0h1v1h-1zm-6,1h1v1h-1zm3,0h1v1h-1zm2,0h1v1h-1zm3,0h1v1h-1zm-9,1h1v1h-1zm3,0h1v1h-1zm3,0h1v1h-1zm3,0h1v1h-1zm-9,1h1v1h-1zm3,0h1v1h-1zm2,0h1v1h-1zm3,0h1v1h-1zm-7,1h2v1h-2zm4,0h1v1h-1zm3,0h1v1h-1zm-6,1h3v1h-3zm5,0h1v1h-1zm-3,1h1v1h-1zm3,0h1v1h-1zm-2,1h2v1h-2zm4,0h1v1h-1zm-3,1h1v1h-1zm2,0h1v1h-1zm-1,1h2v1h-2zm1,1h2v1h-2zm2,1h1v1h-1zm1,1h1v1h-1z"/>
<path id="b144" d="M-8,-16h1v1h-1zm0,1h1v1h-1zm-1,1h1v1h-1zm3,0h1v1h-1zm-3,1h1v1h-1zm3,0h1v1h-1zm2,0h1v1h-1zm-6,1h1v1h-1zm3,0h1v1h-1zm3,0h1v1h-1zm-6,1h1v1h-1zm3,0h1v1h-1zm2,0h1v1h-1zm3,0h1v1h-1zm-9,1h1v1h-1zm3,0h1v1h-1zm3,0h1v1h-1zm3,0h1v1h-1zm-9,1h1v1h-1zm3,0h1v1h-1zm2,0h1v1h-1zm3,0h1v1h-1zm-7,1h2v1h-2zm4,0h1v1h-1zm3,0h1v1h-1zm-6,1h3v1h-3zm5,0h1v1h-1zm-3,1h1v1h-1zm3,0h1v1h-1zm-2,1h2v1h-2zm1,1h1v1h-1zm2,0h1v1h-1zm-1,1h2v1h-2zm1,1h2v1h-2zm2,1h1v1h-1zm1,1h1v1h-1z"/>
<path id="b145" d="M-8,-16h1v1h-1zm0,1h1v1h-1zm-1,1h1v1h-1zm3,0h1v1h-1zm-3,1h1v1h-1zm3,0h1v1h-1zm2,0h1v1h-1zm-6,1h1v1h-1zm3,0h1v1h-1zm3,0h1v1h-1zm-6,1h1v1h-1zm3,0h1v1h-1zm2,0h1v1h-1zm3,0h1v1h-1zm-9,1h1v1h-1zm3,0h1v1h-1zm3,0h1v1h-1zm3,0h1v1h-1zm-9,1h1v1h-1zm3,0h1v1h-1zm2,0h1v1h-1zm3,0h1v1h-1zm-7,1h2v1h-2zm4,0h1v1h-1zm3,0h1v1h-1zm-6,1h3v1h-3zm5,0h1v1h-1zm-3,1h1v1h-1zm3,0h1v1h-1zm-2,1h2v1h-2zm1,1h1v1h-1zm2,0h1v1h-1zm-1,1h2v1h-2zm1,1h2v1h-2zm2,1h1v1h-1zm1,1h1v1h-1z"/>
<path id="b146" d="M-8,-16h1v1h-1zm0,1h1v1h-1zm-1,1h1v1h-1zm3,0h1v1h-1zm-3,1h1v1h-1zm3,0h1v1h-1zm2,0h1v1h-1zm-6,1h1v1h-1zm3,0h1v1h-1zm3,0h1v1h-1zm-6,1h1v1h-1zm3,0h1v1h-1zm2,0h1v1h-1zm3,0h1v1h-1zm-9,1h1v1h-1zm3,0h1v1h-1zm3,0h1v1h-1zm3,0h1v1h-1zm-9,1h1v1h-1zm3,0h1v1h-1zm2,0h1v1h-1zm3,0h1v1h-1zm-7,1h2v1h-2zm4,0h1v1h-1zm3,0h1v1h-1zm-6,1h3v1h-3zm5,0h1v1h-1zm-3,1h1v1h-1zm3,0h1v1h-1zm-2,1h2v1h-2zm1,1h1v1h-1zm1,1h1v1h-1zm1,1h2v1h-2zm2,1h1v1h-1zm1,1h1v1h-1z"/>
<path id="b147" d="M-8,-15h1v1h-1zm-1,1h1v1h-1zm3,0h1v1h-1zm-3,1h1v1h-1zm3,0h1v1h-1zm-4,1h1v1h-1zm3,0h1v1h-1zm3,0h1v1h-1zm-6,1h1v1h-1zm3,0h1v1h-1zm2,0h1v1h-1zm3,0h1v1h-1zm-9,1h1v1h-1zm3,0h1v1h-1zm3,0h1v1h-1zm3,0h1v1h-1zm-9,1h1v1h-1zm3,0h1v1h-1zm2,0h1v1h-1zm3,0h1v1h-1zm-7,1h2v1h-2zm4,0h1v1h-1zm3,0h1v1h-1zm-6,1h3v1h-3zm5,0h1v1h-1zm-3,1h1v1h-1zm3,0h1v1h-1zm-2,1h2v1h-2zm1,1h1v1h-1zm1,1h1v1h-1zm1,1h2v1h-2zm2,1h1v1h-1zm1,1h1v1h-1z"/>
<path id="b148" d="M-9,-15h1v1h-1zm0,1h1v1h-1zm2,0h1v1h-1zm-3,1h1v1h-1zm3,0h1v1h-1zm-3,1h1v1h-1zm2,0h1v1h-1zm3,0h1v1h-1zm-5,1h1v1h-1zm2,0h1v1h-1zm3,0h1v1h-1zm-5,1h1v1h-1zm2,0h1v1h-1zm2,0h1v1h-1zm3,0h1v1h-1zm-8,1h1v1h-1zm3,0h1v1h-1zm2,0h1v1h-1zm3,0h1v1h-1zm-8,1h1v1h-1zm2,0h1v1h-1zm3,0h1v1h-1zm2,0h1v1h-1zm-6,1h2v1h-2zm4,0h1v1h-1zm2,0h1v1h-1zm-4,1h2v1h-2zm4,0h1v1h-1zm-3,1h1v1h-1zm2,0h1v1h-1zm-1,1h2v1h-2zm2,1h1v1h-1zm1,1h1v1h-1zm1,1h2v1h-2zm2,1h1v1h-1z"/>
<path id="b149" d="M-8,-16h1v1h-1zm0,1h1v1h-1zm-1,1h1v1h-1zm3,0h1v1h-1zm-3,1h1v1h-1zm3,0h1v1h-1zm2,0h1v1h-1zm-6,1h1v1h-1zm3,0h1v1h-1zm3,0h1v1h-1zm-6,1h1v1h-1zm3,0h1v1h-1zm2,0h1v1h-1zm3,0h1v1h-1zm-9,1h1v1h-1zm3,0h1v1h-1zm3,0h1v1h-1zm3,0h1v1h-1zm-9,1h1v1h-1zm3,0h1v1h-1zm2,0h1v1h-1zm3,0h1v1h-1zm-7,1h2v1h-2zm4,0h1v1h-1zm3,0h1v1h-1zm-6,1h3v1h-3zm5,0h1v1h-1zm-3,1h1v1h-1zm3,0h1v1h-1zm-2,1h2v1h-2zm1,1h1v1h-1zm1,1h1v1h-1zm1,1h2v1h-2zm2,1h1v1h-1zm1,1h1v1h-1z"/>
<path id="b150" d="M-8,-16h1v1h-1zm0,1h1v1h-1zm-1,1h1v1h-1zm3,0h1v1h-1zm-3,1h1v1h-1zm3,0h1v1h-1zm2,0h1v1h-1zm-6,1h1v1h-1zm3,0h1v1h-1zm3,0h1v1h-1zm-6,1h1v1h-1zm3,0h1v1h-1zm2,0h1v1h-1zm3,0h1v1h-1zm-9,1h1v1h-1zm3,0h1v1h-1zm3,0h1v1h-1zm3,0h1v1h-1zm-9,1h1v1h-1zm3,0h1v1h-1zm2,0h1v1h-1zm3,0h1v1h-1zm-7,1h2v1h-2zm4,0h1v1h-1zm3,0h1v1h-1zm-6,1h3v1h-3zm5,0h1v1h-1zm-3,1h1v1h-1zm3,0h1v1h-1zm-2,1h2v1h-2zm1,1h1v1h-1zm1,1h1v1h-1zm1,1h2v1h-2zm2,1h1v1h-1zm1,1h1v1h-1z"/>
<path id="b151" d="M-8,-15h1v1h-1zm-1,1h1v1h-1zm3,0h1v1h-1zm-3,1h1v1h-1zm3,0h1v1h-1zm-4,1h1v1h-1zm3,0h1v1h-1zm3,0h1v1h-1zm-6,1h1v1h-1zm3,0h1v1h-1zm2,0h1v1h-1zm-6,1h1v1h-1zm3,0h1v1h-1zm3,0h1v1h-1zm2,0h1v1h-1zm-8,1h1v1h-1zm3,0h1v1h-1zm2,0h1v1h-1zm3,0h1v1h-1zm-7,1h2v1h-2zm4,0h1v1h-1zm2,0h1v1h-1zm-5,1h3v1h-3zm5,0h1v1h-1zm-3,1h1v1h-1zm3,0h1v1h-1zm-2,1h2v1h-2zm1,1h1v1h-1zm1,1h1v1h-1zm1,1h2v1h-2zm2,1h1v1h-1zm1,1h1v1h-1z"/>
<path id="b152" d="M-9,-15h1v1h-1zm0,1h1v1h-1zm2,0h1v1h-1zm-3,1h1v1h-1zm3,0h1v1h-1zm-3,1h1v1h-1zm2,0h1v1h-1zm3,0h1v1h-1zm-5,1h1v1h-1zm2,0h1v1h-1zm3,0h1v1h-1zm-5,1h1v1h-1zm2,0h1v1h-1zm2,0h1v1h-1zm3,0h1v1h-1zm-8,1h1v1h-1zm3,0h1v1h-1zm2,0h1v1h-1zm3,0h1v1h-1zm-8,1h1v1h-1zm2,0h1v1h-1zm3,0h1v1h-1zm2,0h1v1h-1zm-6,1h2v1h-2zm4,0h1v1h-1zm2,0h1v1h-1zm-4,1h2v1h-2zm4,0h1v1h-1zm-3,1h1v1h-1zm2,0h1v1h-1zm-1,1h2v1h-2zm2,1h1v1h-1zm1,1h1v1h-1zm1,1h2v1h-2zm2,1h1v1h-1z"/>
</defs>
<g fill="#000">
<use href="#b0" x="272" y="1258"/>
<use href="#b1" x="293" y="1258"/>
<use href="#b1" x="315" y="1258"/>
<use href="#b2" x="336" y="1258"/>
<use href="#b3" x="357" y="1258"/>
<use href="#b4" x="378" y="1258"/>
<use href="#b5" x="400" y="1258"/>
<use href="#b6" x="421" y="1258"/>
<use href="#b7" x="442" y="1258"/>
<use href="#b8" x="463" y="1258"/>
<use href="#b9" x="485" y="1258"/>
<use href="#b10" x="506" y="1258"/>
<use href="#b11" x="527" y="1258"/>
<use href="#b12" x="548" y="1258"/>
<use href="#b13" x="570" y="1258"/>
<use href="#b14" x="591" y="1258"/>
<use href="#b15" x="612" y="1258"/>
<use href="#b16" x="633" y="1258"/>
<use href="#b17" x="655" y="1258"/>
<use href="#b18" x="676" y="1258"/>
<use href="#b19" x="697" y="1258"/>
<use href="#b19" x="718" y="1258"/>
<use href="#b20" x="740" y="1258"/>
<use href="#b21" x="761" y="1258"/>
<use href="#b22" x="782" y="1258"/>
<use href="#b23" x="803" y="1258"/>
<use href="#b23" x="825" y="1258"/>
<use href="#b24" x="846" y="1258"/>
<use href="#b25" x="867" y="1258"/>
<use href="#b25" x="888" y="1258"/>
<use href="#b26" x="910" y="1258"/>
<use href="#b26" x="931" y="1258"/>
<use href="#b27" x="952" y="1258"/>
<use href="#b27" x="973" y="1258"/>
<use href="#b28" x="995" y="1258"/>
<use href="#b29" x="1016" y="1258"/>
<use href="#b29" x="1037" y="1258"/>
<use href="#b29" x="1058" y="1258"/>
<use href="#b29" x="1080" y="1258"/>
<use href="#b30" x="1101" y="1258"/>
<use href="#b30" x="1122" y="1258"/>
<use href="#b30" x="1143" y="1258"/>
<use href="#b30" x="1165" y="1258"/>
<use href="#b31" x="1186" y="1258"/>
<use href="#b31" x="1207" y="1258"/>
<use href="#b1" x="272" y="1236"/>
<use href="#b1" x="293" y="1236"/>
<use href="#b2" x="315" y="1236"/>
<use href="#b3" x="336" y="1236"/>
<use href="#b3" x="357" y="1236"/>
<use href="#b5" x="378" y="1236"/>
<use href="#b32" x="400" y="1236"/>
<use href="#b7" x="421" y="1236"/>
<use href="#b8" x="442" y="1236"/>
<use href="#b33" x="463" y="1236"/>
<use href="#b10" x="485" y="1236"/>
<use href="#b11" x="506" y="1236"/>
<use href="#b34" x="527" y="1236"/>
<use href="#b12" x="548" y="1236"/>
<use href="#b14" x="570" y="1236"/>
<use href="#b15" x="591" y="1236"/>
<use href="#b16" x="612" y="1236"/>
<use href="#b35" x="633" y="1236"/>
<use href="#b18" x="655" y="1236"/>
<use href="#b19" x="676" y="1236"/>
<use href="#b20" x="697" y="1236"/>
<use href="#b36" x="718" y="1236"/>
<use href="#b21" x="740" y="1236"/>
<use href="#b22" x="761" y="1236"/>
<use href="#b23" x="782" y="1236"/>
<use href="#b23" x="803" y="1236"/>
<use href="#b24" x="825" y="1236"/>
<use href="#b25" x="846" y="1236"/>
<use href="#b25" x="867" y="1236"/>
<use href="#b26" x="888" y="1236"/>
<use href="#b26" x="910" y="1236"/>
<use href="#b27" x="931" y="1236"/>
<use href="#b27" x="952" y="1236"/>
<use href="#b28" x="973" y="1236"/>
<use href="#b28" x="995" y="1236"/>
<use href="#b29" x="1016" y="1236"/>
<use href="#b29" x="1037" y="1236"/>
<use href="#b29" x="1058" y="1236"/>
<use href="#b30" x="1080" y="1236"/>
<use href="#b30" x="1101" y="1236"/>
<use href="#b30" x="1122" y="1236"/>
<use href="#b30" x="1143" y="1236"/>
<use href="#b31" x="1165" y="1236"/>
<use href="#b31" x="1186" y="1236"/>
<use href="#b31" x="1207" y="1236"/>
<use href="#b37" x="272" y="1215"/>
<use href="#b2" x="293" y="1215"/>
<use href="#b3" x="315" y="1215"/>
<use href="#b3" x="336" y="1215"/>
<use href="#b4" x="357" y="1215"/>
<use href="#b32" x="378" y="1215"/>
<use href="#b38" x="400" y="1215"/>
<use href="#b39" x="421" y="1215"/>
<use href="#b8" x="442" y="1215"/>
<use href="#b33" x="463" y="1215"/>
<use href="#b40" x="485" y="1215"/>
<use href="#b34" x="506" y="1215"/>
<use href="#b41" x="527" y="1215"/>
<use href="#b42" x="548" y="1215"/>
<use href="#b14" x="570" y="1215"/>
<use href="#b43" x="591" y="1215"/>
<use href="#b35" x="612" y="1215"/>
<use href="#b18" x="633" y="1215"/>
<use href="#b19" x="655" y="1215"/>
<use href="#b36" x="676" y="1215"/>
<use href="#b21" x="697" y="1215"/>
<use href="#b21" x="718" y="1215"/>
<use href="#b22" x="740" y="1215"/>
<use href="#b23" x="761" y="1215"/>
<use href="#b23" x="782" y="1215"/>
<use href="#b24" x="803" y="1215"/>
<use href="#b25" x="825" y="1215"/>
<use href="#b25" x="846" y="1215"/>
<use href="#b26" x="867" y="1215"/>
<use href="#b26" x="888" y="1215"/>
<use href="#b27" x="910" y="1215"/>
<use href="#b27" x="931" y="1215"/>
<use href="#b28" x="952" y="1215"/>
<use href="#b28" x="973" y="1215"/>
<use href="#b29" x="995" y="1215"/>
<use href="#b29" x="1016" y="1215"/>
<use href="#b29" x="1037" y="1215"/>
<use href="#b30" x="1058" y="1215"/>
<use href="#b30" x="1080" y="1215"/>
<use href="#b30" x="1101" y="1215"/>
<use href="#b30" x="1122" y="1215"/>
<use href="#b31" x="1143" y="1215"/>
<use href="#b31" x="1165" y="1215"/>
<use href="#b31" x="1186" y="1215"/>
<use href="#b31" x="1207" y="1215"/>
<use href="#b2" x="272" y="1194"/>
<use href="#b3" x="293" y="1194"/>
<use href="#b3" x="315" y="1194"/>
<use href="#b4" x="336" y="1194"/>
<use href="#b32" x="357" y="1194"/>
<use href="#b32" x="378" y="1194"/>
<use href="#b7" x="400" y="1194"/>
<use href="#b39" x="421" y="1194"/>
<use href="#b33" x="442" y="1194"/>
<use href="#b10" x="463" y="1194"/>
<use href="#b40" x="485" y="1194"/>
<use href="#b41" x="506" y="1194"/>
<use href="#b42" x="527" y="1194"/>
<use href="#b44" x="548" y="1194"/>
<use href="#b45" x="570" y="1194"/>
<use href="#b46" x="591" y="1194"/>
<use href="#b47" x="612" y="1194"/>
<use href="#b19" x="633" y="1194"/>
<use href="#b36" x="655" y="1194"/>
<use href="#b21" x="676" y="1194"/>
<use href="#b22" x="697" y="1194"/>
<use href="#b22" x="718" y="1194"/>
<use href="#b23" x="740" y="1194"/>
<use href="#b23" x="761" y="1194"/>
<use href="#b24" x="782" y="1194"/>
<use href="#b25" x="803" y="1194"/>
<use href="#b48" x="825" y="1194"/>
<use href="#b49" x="846" y="1194"/>
<use href="#b49" x="867" y="1194"/>
<use href="#b27" x="888" y="1194"/>
<use href="#b27" x="910" y="1194"/>
<use href="#b28" x="931" y="1194"/>
<use href="#b28" x="952" y="1194"/>
<use href="#b28" x="973" y="1194"/>
<use href="#b29" x="995" y="1194"/>
<use href="#b29" x="1016" y="1194"/>
<use href="#b30" x="1037" y="1194"/>
<use href="#b30" x="1058" y="1194"/>
<use href="#b30" x="1080" y="1194"/>
<use href="#b30" x="1101" y="1194"/>
<use href="#b31" x="1122" y="1194"/>
<use href="#b31" x="1143" y="1194"/>
<use href="#b31" x="1165" y="1194"/>
<use href="#b31" x="1186" y="1194"/>
<use href="#b31" x="1207" y="1194"/>
<use href="#b3" x="272" y="1173"/>
<use href="#b4" x="293" y="1173"/>
<use href="#b4" x="315" y="1173"/>
<use href="#b32" x="336" y="1173"/>
<use href="#b32" x="357" y="1173"/>
<use href="#b38" x="378" y="1173"/>
<use href="#b39" x="400" y="1173"/>
<use href="#b33" x="421" y="1173"/>
<use href="#b50" x="442" y="1173"/>
<use href="#b40" x="463" y="1173"/>
<use href="#b34" x="485" y="1173"/>
<use href="#b41" x="506" y="1173"/>
<use href="#b44" x="527" y="1173"/>
<use href="#b45" x="548" y="1173"/>
<use href="#b51" x="570" y="1173"/>
<use href="#b46" x="591" y="1173"/>
<use href="#b52" x="612" y="1173"/>
<use href="#b20" x="633" y="1173"/>
<use href="#b21" x="655" y="1173"/>
<use href="#b22" x="676" y="1173"/>
<use href="#b22" x="697" y="1173"/>
<use href="#b23" x="718" y="1173"/>
<use href="#b24" x="740" y="1173"/>
<use href="#b24" x="761" y="1173"/>
<use href="#b48" x="782" y="1173"/>
<use href="#b48" x="803" y="1173"/>
<use href="#b49" x="825" y="1173"/>
<use href="#b53" x="846" y="1173"/>
<use href="#b53" x="867" y="1173"/>
<use href="#b53" x="888" y="1173"/>
<use href="#b54" x="910" y="1173"/>
<use href="#b28" x="931" y="1173"/>
<use href="#b28" x="952" y="1173"/>
<use href="#b29" x="973" y="1173"/>
<use href="#b29" x="995" y="1173"/>
<use href="#b30" x="1016" y="1173"/>
<use href="#b30" x="1037" y="1173"/>
<use href="#b30" x="1058" y="1173"/>
<use href="#b30" x="1080" y="1173"/>
<use href="#b31" x="1101" y="1173"/>
<use href="#b31" x="1122" y="1173"/>
<use href="#b31" x="1143" y="1173"/>
<use href="#b31" x="1165" y="1173"/>
<use href="#b31" x="1186" y="1173"/>
<use href="#b55" x="1207" y="1173"/>
<use href="#b4" x="272" y="1151"/>
<use href="#b4" x="293" y="1151"/>
<use href="#b32" x="315" y="1151"/>
<use href="#b32" x="336" y="1151"/>
<use href="#b38" x="357" y="1151"/>
<use href="#b56" x="378" y="1151"/>
<use href="#b57" x="400" y="1151"/>
<use href="#b33" x="421" y="1151"/>
<use href="#b50" x="442" y="1151"/>
<use href="#b40" x="463" y="1151"/>
<use href="#b41" x="485" y="1151"/>
<use href="#b58" x="506" y="1151"/>
<use href="#b44" x="527" y="1151"/>
<use href="#b51" x="548" y="1151"/>
<use href="#b46" x="570" y="1151"/>
<use href="#b47" x="591" y="1151"/>
<use href="#b59" x="612" y="1151"/>
<use href="#b60" x="633" y="1151"/>
<use href="#b22" x="655" y="1151"/>
<use href="#b23" x="676" y="1151"/>
<use href="#b23" x="697" y="1151"/>
<use href="#b24" x="718" y="1151"/>
<use href="#b61" x="740" y="1151"/>
<use href="#b48" x="761" y="1151"/>
<use href="#b48" x="782" y="1151"/>
<use href="#b49" x="803" y="1151"/>
<use href="#b53" x="825" y="1151"/>
<use href="#b53" x="846" y="1151"/>
<use href="#b53" x="867" y="1151"/>
<use href="#b54" x="888" y="1151"/>
<use href="#b54" x="910" y="1151"/>
<use href="#b54" x="931" y="1151"/>
<use href="#b29" x="952" y="1151"/>
<use href="#b29" x="973" y="1151"/>
<use href="#b29" x="995" y="1151"/>
<use href="#b30" x="1016" y="1151"/>
<use href="#b30" x="1037" y="1151"/>
<use href="#b30" x="1058" y="1151"/>
<use href="#b31" x="1080" y="1151"/>
<use href="#b31" x="1101" y="1151"/>
<use href="#b31" x="1122" y="1151"/>
<use href="#b31" x="1143" y="1151"/>
<use href="#b31" x="1165" y="1151"/>
<use href="#b55" x="1186" y="1151"/>
<use href="#b55" x="1207" y="1151"/>
<use href="#b4" x="272" y="1130"/>
<use href="#b32" x="293" y="1130"/>
<use href="#b32" x="315" y="1130"/>
<use href="#b38" x="336" y="1130"/>
<use href="#b38" x="357" y="1130"/>
<use href="#b39" x="378" y="1130"/>
<use href="#b57" x="400" y="1130"/>
<use href="#b50" x="421" y="1130"/>
<use href="#b40" x="442" y="1130"/>
<use href="#b62" x="463" y="1130"/>
<use href="#b41" x="485" y="1130"/>
<use href="#b44" x="506" y="1130"/>
<use href="#b45" x="527" y="1130"/>
<use href="#b51" x="548" y="1130"/>
<use href="#b63" x="570" y="1130"/>
<use href="#b52" x="591" y="1130"/>
<use href="#b20" x="612" y="1130"/>
<use href="#b21" x="633" y="1130"/>
<use href="#b64" x="655" y="1130"/>
<use href="#b64" x="676" y="1130"/>
<use href="#b61" x="697" y="1130"/>
<use href="#b61" x="718" y="1130"/>
<use href="#b48" x="740" y="1130"/>
<use href="#b48" x="761" y="1130"/>
<use href="#b49" x="782" y="1130"/>
<use href="#b49" x="803" y="1130"/>
<use href="#b53" x="825" y="1130"/>
<use href="#b53" x="846" y="1130"/>
<use href="#b54" x="867" y="1130"/>
<use href="#b54" x="888" y="1130"/>
<use href="#b54" x="910" y="1130"/>
<use href="#b65" x="931" y="1130"/>
<use href="#b65" x="952" y="1130"/>
<use href="#b65" x="973" y="1130"/>
<use href="#b30" x="995" y="1130"/>
<use href="#b30" x="1016" y="1130"/>
<use href="#b30" x="1037" y="1130"/>
<use href="#b31" x="1058" y="1130"/>
<use href="#b31" x="1080" y="1130"/>
<use href="#b31" x="1101" y="1130"/>
<use href="#b31" x="1122" y="1130"/>
<use href="#b31" x="1143" y="1130"/>
<use href="#b55" x="1165" y="1130"/>
<use href="#b55" x="1186" y="1130"/>
<use href="#b55" x="1207" y="1130"/>
<use href="#b4" x="272" y="1109"/>
<use href="#b32" x="293" y="1109"/>
<use href="#b32" x="315" y="1109"/>
<use href="#b38" x="336" y="1109"/>
<use href="#b39" x="357" y="1109"/>
<use href="#b57" x="378" y="1109"/>
<use href="#b50" x="400" y="1109"/>
<use href="#b66" x="421" y="1109"/>
<use href="#b40" x="442" y="1109"/>
<use href="#b41" x="463" y="1109"/>
<use href="#b58" x="485" y="1109"/>
<use href="#b44" x="506" y="1109"/>
<use href="#b51" x="527" y="1109"/>
<use href="#b46" x="548" y="1109"/>
<use href="#b67" x="570" y="1109"/>
<use href="#b59" x="591" y="1109"/>
<use href="#b60" x="612" y="1109"/>
<use href="#b22" x="633" y="1109"/>
<use href="#b64" x="655" y="1109"/>
<use href="#b64" x="676" y="1109"/>
<use href="#b61" x="697" y="1109"/>
<use href="#b61" x="718" y="1109"/>
<use href="#b48" x="740" y="1109"/>
<use href="#b49" x="761" y="1109"/>
<use href="#b49" x="782" y="1109"/>
<use href="#b53" x="803" y="1109"/>
<use href="#b53" x="825" y="1109"/>
<use href="#b54" x="846" y="1109"/>
<use href="#b54" x="867" y="1109"/>
<use href="#b54" x="888" y="1109"/>
<use href="#b65" x="910" y="1109"/>
<use href="#b65" x="931" y="1109"/>
<use href="#b65" x="952" y="1109"/>
<use href="#b68" x="973" y="1109"/>
<use href="#b68" x="995" y="1109"/>
<use href="#b68" x="1016" y="1109"/>
<use href="#b30" x="1037" y="1109"/>
<use href="#b31" x="1058" y="1109"/>
<use href="#b31" x="1080" y="1109"/>
<use href="#b31" x="1101" y="1109"/>
<use href="#b31" x="1122" y="1109"/>
<use href="#b55" x="1143" y="1109"/>
<use href="#b55" x="1165" y="1109"/>
<use href="#b55" x="1186" y="1109"/>
<use href="#b55" x="1207" y="1109"/>
<use href="#b32" x="272" y="1088"/>
<use href="#b32" x="293" y="1088"/>
<use href="#b38" x="315" y="1088"/>
<use href="#b7" x="336" y="1088"/>
<use href="#b39" x="357" y="1088"/>
<use href="#b33" x="378" y="1088"/>
<use href="#b50" x="400" y="1088"/>
<use href="#b40" x="421" y="1088"/>
<use href="#b62" x="442" y="1088"/>
<use href="#b41" x="463" y="1088"/>
<use href="#b44" x="485" y="1088"/>
<use href="#b69" x="506" y="1088"/>
<use href="#b70" x="527" y="1088"/>
<use href="#b63" x="548" y="1088"/>
<use href="#b52" x="570" y="1088"/>
<use href="#b20" x="591" y="1088"/>
<use href="#b21" x="612" y="1088"/>
<use href="#b71" x="633" y="1088"/>
<use href="#b64" x="655" y="1088"/>
<use href="#b61" x="676" y="1088"/>
<use href="#b61" x="697" y="1088"/>
<use href="#b48" x="718" y="1088"/>
<use href="#b48" x="740" y="1088"/>
<use href="#b72" x="761" y="1088"/>
<use href="#b72" x="782" y="1088"/>
<use href="#b73" x="803" y="1088"/>
<use href="#b73" x="825" y="1088"/>
<use href="#b74" x="846" y="1088"/>
<use href="#b74" x="867" y="1088"/>
<use href="#b54" x="888" y="1088"/>
<use href="#b65" x="910" y="1088"/>
<use href="#b65" x="931" y="1088"/>
<use href="#b65" x="952" y="1088"/>
<use href="#b68" x="973" y="1088"/>
<use href="#b68" x="995" y="1088"/>
<use href="#b68" x="1016" y="1088"/>
<use href="#b75" x="1037" y="1088"/>
<use href="#b75" x="1058" y="1088"/>
<use href="#b75" x="1080" y="1088"/>
<use href="#b75" x="1101" y="1088"/>
<use href="#b76" x="1122" y="1088"/>
<use href="#b76" x="1143" y="1088"/>
<use href="#b76" x="1165" y="1088"/>
<use href="#b76" x="1186" y="1088"/>
<use href="#b76" x="1207" y="1088"/>
<use href="#b32" x="272" y="1066"/>
<use href="#b38" x="293" y="1066"/>
<use href="#b7" x="315" y="1066"/>
<use href="#b39" x="336" y="1066"/>
<use href="#b33" x="357" y="1066"/>
<use href="#b33" x="378" y="1066"/>
<use href="#b40" x="400" y="1066"/>
<use href="#b62" x="421" y="1066"/>
<use href="#b77" x="442" y="1066"/>
<use href="#b58" x="463" y="1066"/>
<use href="#b44" x="485" y="1066"/>
<use href="#b51" x="506" y="1066"/>
<use href="#b46" x="527" y="1066"/>
<use href="#b67" x="548" y="1066"/>
<use href="#b59" x="570" y="1066"/>
<use href="#b60" x="591" y="1066"/>
<use href="#b22" x="612" y="1066"/>
<use href="#b64" x="633" y="1066"/>
<use href="#b78" x="655" y="1066"/>
<use href="#b78" x="676" y="1066"/>
<use href="#b79" x="697" y="1066"/>
<use href="#b79" x="718" y="1066"/>
<use href="#b72" x="740" y="1066"/>
<use href="#b72" x="761" y="1066"/>
<use href="#b73" x="782" y="1066"/>
<use href="#b73" x="803" y="1066"/>
<use href="#b73" x="825" y="1066"/>
<use href="#b74" x="846" y="1066"/>
<use href="#b74" x="867" y="1066"/>
<use href="#b80" x="888" y="1066"/>
<use href="#b80" x="910" y="1066"/>
<use href="#b65" x="931" y="1066"/>
<use href="#b68" x="952" y="1066"/>
<use href="#b68" x="973" y="1066"/>
<use href="#b68" x="995" y="1066"/>
<use href="#b75" x="1016" y="1066"/>
<use href="#b75" x="1037" y="1066"/>
<use href="#b75" x="1058" y="1066"/>
<use href="#b75" x="1080" y="1066"/>
<use href="#b76" x="1101" y="1066"/>
<use href="#b76" x="1122" y="1066"/>
<use href="#b76" x="1143" y="1066"/>
<use href="#b76" x="1165" y="1066"/>
<use href="#b76" x="1186" y="1066"/>
<use href="#b81" x="1207" y="1066"/>
<use href="#b32" x="272" y="1045"/>
<use href="#b7" x="293" y="1045"/>
<use href="#b39" x="315" y="1045"/>
<use href="#b39" x="336" y="1045"/>
<use href="#b33" x="357" y="1045"/>
<use href="#b50" x="378" y="1045"/>
<use href="#b40" x="400" y="1045"/>
<use href="#b62" x="421" y="1045"/>
<use href="#b41" x="442" y="1045"/>
<use href="#b58" x="463" y="1045"/>
<use href="#b69" x="485" y="1045"/>
<use href="#b70" x="506" y="1045"/>
<use href="#b63" x="527" y="1045"/>
<use href="#b59" x="548" y="1045"/>
<use href="#b60" x="570" y="1045"/>
<use href="#b22" x="591" y="1045"/>
<use href="#b23" x="612" y="1045"/>
<use href="#b64" x="633" y="1045"/>
<use href="#b78" x="655" y="1045"/>
<use href="#b79" x="676" y="1045"/>
<use href="#b79" x="697" y="1045"/>
<use href="#b72" x="718" y="1045"/>
<use href="#b72" x="740" y="1045"/>
<use href="#b72" x="761" y="1045"/>
<use href="#b73" x="782" y="1045"/>
<use href="#b73" x="803" y="1045"/>
<use href="#b74" x="825" y="1045"/>
<use href="#b74" x="846" y="1045"/>
<use href="#b80" x="867" y="1045"/>
<use href="#b80" x="888" y="1045"/>
<use href="#b80" x="910" y="1045"/>
<use href="#b82" x="931" y="1045"/>
<use href="#b82" x="952" y="1045"/>
<use href="#b68" x="973" y="1045"/>
<use href="#b68" x="995" y="1045"/>
<use href="#b75" x="1016" y="1045"/>
<use href="#b75" x="1037" y="1045"/>
<use href="#b75" x="1058" y="1045"/>
<use href="#b76" x="1080" y="1045"/>
<use href="#b76" x="1101" y="1045"/>
<use href="#b76" x="1122" y="1045"/>
<use href="#b76" x="1143" y="1045"/>
<use href="#b76" x="1165" y="1045"/>
<use href="#b81" x="1186" y="1045"/>
<use href="#b81" x="1207" y="1045"/>
<use href="#b38" x="272" y="1024"/>
<use href="#b7" x="293" y="1024"/>
<use href="#b39" x="315" y="1024"/>
<use href="#b33" x="336" y="1024"/>
<use href="#b50" x="357" y="1024"/>
<use href="#b40" x="378" y="1024"/>
<use href="#b62" x="400" y="1024"/>
<use href="#b77" x="421" y="1024"/>
<use href="#b58" x="442" y="1024"/>
<use href="#b83" x="463" y="1024"/>
<use href="#b84" x="485" y="1024"/>
<use href="#b70" x="506" y="1024"/>
<use href="#b67" x="527" y="1024"/>
<use href="#b59" x="548" y="1024"/>
<use href="#b60" x="570" y="1024"/>
<use href="#b22" x="591" y="1024"/>
<use href="#b64" x="612" y="1024"/>
<use href="#b78" x="633" y="1024"/>
<use href="#b79" x="655" y="1024"/>
<use href="#b79" x="676" y="1024"/>
<use href="#b72" x="697" y="1024"/>
<use href="#b72" x="718" y="1024"/>
<use href="#b73" x="740" y="1024"/>
<use href="#b73" x="761" y="1024"/>
<use href="#b73" x="782" y="1024"/>
<use href="#b74" x="803" y="1024"/>
<use href="#b74" x="825" y="1024"/>
<use href="#b80" x="846" y="1024"/>
<use href="#b80" x="867" y="1024"/>
<use href="#b80" x="888" y="1024"/>
<use href="#b82" x="910" y="1024"/>
<use href="#b82" x="931" y="1024"/>
<use href="#b82" x="952" y="1024"/>
<use href="#b82" x="973" y="1024"/>
<use href="#b85" x="995" y="1024"/>
<use href="#b85" x="1016" y="1024"/>
<use href="#b85" x="1037" y="1024"/>
<use href="#b86" x="1058" y="1024"/>
<use href="#b86" x="1080" y="1024"/>
<use href="#b86" x="1101" y="1024"/>
<use href="#b86" x="1122" y="1024"/>
<use href="#b86" x="1143" y="1024"/>
<use href="#b86" x="1165" y="1024"/>
<use href="#b87" x="1186" y="1024"/>
<use href="#b87" x="1207" y="1024"/>
<use href="#b7" x="272" y="1003"/>
<use href="#b39" x="293" y="1003"/>
<use href="#b57" x="315" y="1003"/>
<use href="#b33" x="336" y="1003"/>
<use href="#b50" x="357" y="1003"/>
<use href="#b40" x="378" y="1003"/>
<use href="#b62" x="400" y="1003"/>
<use href="#b58" x="421" y="1003"/>
<use href="#b83" x="442" y="1003"/>
<use href="#b69" x="463" y="1003"/>
<use href="#b51" x="485" y="1003"/>
<use href="#b63" x="506" y="1003"/>
<use href="#b52" x="527" y="1003"/>
<use href="#b60" x="548" y="1003"/>
<use href="#b88" x="570" y="1003"/>
<use href="#b23" x="591" y="1003"/>
<use href="#b61" x="612" y="1003"/>
<use href="#b79" x="633" y="1003"/>
<use href="#b89" x="655" y="1003"/>
<use href="#b89" x="676" y="1003"/>
<use href="#b89" x="697" y="1003"/>
<use href="#b90" x="718" y="1003"/>
<use href="#b90" x="740" y="1003"/>
<use href="#b91" x="761" y="1003"/>
<use href="#b91" x="782" y="1003"/>
<use href="#b91" x="803" y="1003"/>
<use href="#b92" x="825" y="1003"/>
<use href="#b92" x="846" y="1003"/>
<use href="#b80" x="867" y="1003"/>
<use href="#b82" x="888" y="1003"/>
<use href="#b82" x="910" y="1003"/>
<use href="#b82" x="931" y="1003"/>
<use href="#b82" x="952" y="1003"/>
<use href="#b85" x="973" y="1003"/>
<use href="#b85" x="995" y="1003"/>
<use href="#b85" x="1016" y="1003"/>
<use href="#b86" x="1037" y="1003"/>
<use href="#b86" x="1058" y="1003"/>
<use href="#b86" x="1080" y="1003"/>
<use href="#b86" x="1101" y="1003"/>
<use href="#b86" x="1122" y="1003"/>
<use href="#b86" x="1143" y="1003"/>
<use href="#b87" x="1165" y="1003"/>
<use href="#b87" x="1186" y="1003"/>
<use href="#b87" x="1207" y="1003"/>
<use href="#b7" x="272" y="981"/>
<use href="#b39" x="293" y="981"/>
<use href="#b33" x="315" y="981"/>
<use href="#b50" x="336" y="981"/>
<use href="#b40" x="357" y="981"/>
<use href="#b62" x="378" y="981"/>
<use href="#b77" x="400" y="981"/>
<use href="#b58" x="421" y="981"/>
<use href="#b93" x="442" y="981"/>
<use href="#b84" x="463" y="981"/>
<use href="#b70" x="485" y="981"/>
<use href="#b67" x="506" y="981"/>
<use href="#b59" x="527" y="981"/>
<use href="#b88" x="548" y="981"/>
<use href="#b23" x="570" y="981"/>
<use href="#b61" x="591" y="981"/>
<use href="#b61" x="612" y="981"/>
<use href="#b79" x="633" y="981"/>
<use href="#b89" x="655" y="981"/>
<use href="#b90" x="676" y="981"/>
<use href="#b90" x="697" y="981"/>
<use href="#b90" x="718" y="981"/>
<use href="#b91" x="740" y="981"/>
<use href="#b91" x="761" y="981"/>
<use href="#b91" x="782" y="981"/>
<use href="#b92" x="803" y="981"/>
<use href="#b92" x="825" y="981"/>
<use href="#b92" x="846" y="981"/>
<use href="#b94" x="867" y="981"/>
<use href="#b94" x="888" y="981"/>
<use href="#b94" x="910" y="981"/>
<use href="#b94" x="931" y="981"/>
<use href="#b95" x="952" y="981"/>
<use href="#b95" x="973" y="981"/>
<use href="#b85" x="995" y="981"/>
<use href="#b85" x="1016" y="981"/>
<use href="#b86" x="1037" y="981"/>
<use href="#b86" x="1058" y="981"/>
<use href="#b86" x="1080" y="981"/>
<use href="#b86" x="1101" y="981"/>
<use href="#b86" x="1122" y="981"/>
<use href="#b86" x="1143" y="981"/>
<use href="#b87" x="1165" y="981"/>
<use href="#b87" x="1186" y="981"/>
<use href="#b87" x="1207" y="981"/>
<use href="#b39" x="272" y="960"/>
<use href="#b57" x="293" y="960"/>
<use href="#b50" x="315" y="960"/>
<use href="#b66" x="336" y="960"/>
<use href="#b40" x="357" y="960"/>
<use href="#b77" x="378" y="960"/>
<use href="#b58" x="400" y="960"/>
<use href="#b83" x="421" y="960"/>
<use href="#b69" x="442" y="960"/>
<use href="#b96" x="463" y="960"/>
<use href="#b97" x="485" y="960"/>
<use href="#b67" x="506" y="960"/>
<use href="#b98" x="527" y="960"/>
<use href="#b88" x="548" y="960"/>
<use href="#b23" x="570" y="960"/>
<use href="#b61" x="591" y="960"/>
<use href="#b79" x="612" y="960"/>
<use href="#b72" x="633" y="960"/>
<use href="#b90" x="655" y="960"/>
<use href="#b90" x="676" y="960"/>
<use href="#b90" x="697" y="960"/>
<use href="#b91" x="718" y="960"/>
<use href="#b91" x="740" y="960"/>
<use href="#b92" x="761" y="960"/>
<use href="#b92" x="782" y="960"/>
<use href="#b92" x="803" y="960"/>
<use href="#b94" x="825" y="960"/>
<use href="#b94" x="846" y="960"/>
<use href="#b94" x="867" y="960"/>
<use href="#b94" x="888" y="960"/>
<use href="#b95" x="910" y="960"/>
<use href="#b95" x="931" y="960"/>
<use href="#b95" x="952" y="960"/>
<use href="#b95" x="973" y="960"/>
<use href="#b95" x="995" y="960"/>
<use href="#b99" x="1016" y="960"/>
<use href="#b99" x="1037" y="960"/>
<use href="#b99" x="1058" y="960"/>
<use href="#b99" x="1080" y="960"/>
<use href="#b99" x="1101" y="960"/>
<use href="#b99" x="1122" y="960"/>
<use href="#b100" x="1143" y="960"/>
<use href="#b100" x="1165" y="960"/>
<use href="#b100" x="1186" y="960"/>
<use href="#b100" x="1207" y="960"/>
<use href="#b39" x="272" y="939"/>
<use href="#b33" x="293" y="939"/>
<use href="#b50" x="315" y="939"/>
<use href="#b40" x="336" y="939"/>
<use href="#b62" x="357" y="939"/>
<use href="#b77" x="378" y="939"/>
<use href="#b83" x="400" y="939"/>
<use href="#b93" x="421" y="939"/>
<use href="#b84" x="442" y="939"/>
<use href="#b96" x="463" y="939"/>
<use href="#b101" x="485" y="939"/>
<use href="#b59" x="506" y="939"/>
<use href="#b88" x="527" y="939"/>
<use href="#b23" x="548" y="939"/>
<use href="#b61" x="570" y="939"/>
<use href="#b48" x="591" y="939"/>
<use href="#b72" x="612" y="939"/>
<use href="#b90" x="633" y="939"/>
<use href="#b90" x="655" y="939"/>
<use href="#b91" x="676" y="939"/>
<use href="#b91" x="697" y="939"/>
<use href="#b91" x="718" y="939"/>
<use href="#b92" x="740" y="939"/>
<use href="#b92" x="761" y="939"/>
<use href="#b92" x="782" y="939"/>
<use href="#b94" x="803" y="939"/>
<use href="#b94" x="825" y="939"/>
<use href="#b94" x="846" y="939"/>
<use href="#b94" x="867" y="939"/>
<use href="#b95" x="888" y="939"/>
<use href="#b95" x="910" y="939"/>
<use href="#b95" x="931" y="939"/>
<use href="#b95" x="952" y="939"/>
<use href="#b95" x="973" y="939"/>
<use href="#b99" x="995" y="939"/>
<use href="#b99" x="1016" y="939"/>
<use href="#b99" x="1037" y="939"/>
<use href="#b99" x="1058" y="939"/>
<use href="#b99" x="1080" y="939"/>
<use href="#b99" x="1101" y="939"/>
<use href="#b100" x="1122" y="939"/>
<use href="#b100" x="1143" y="939"/>
<use href="#b100" x="1165" y="939"/>
<use href="#b100" x="1186" y="939"/>
<use href="#b100" x="1207" y="939"/>
<use href="#b57" x="272" y="918"/>
<use href="#b50" x="293" y="918"/>
<use href="#b66" x="315" y="918"/>
<use href="#b62" x="336" y="918"/>
<use href="#b77" x="357" y="918"/>
<use href="#b58" x="378" y="918"/>
<use href="#b83" x="400" y="918"/>
<use href="#b102" x="421" y="918"/>
<use href="#b96" x="442" y="918"/>
<use href="#b103" x="463" y="918"/>
<use href="#b104" x="485" y="918"/>
<use href="#b98" x="506" y="918"/>
<use href="#b88" x="527" y="918"/>
<use href="#b24" x="548" y="918"/>
<use href="#b48" x="570" y="918"/>
<use href="#b72" x="591" y="918"/>
<use href="#b72" x="612" y="918"/>
<use href="#b90" x="633" y="918"/>
<use href="#b91" x="655" y="918"/>
<use href="#b91" x="676" y="918"/>
<use href="#b91" x="697" y="918"/>
<use href="#b92" x="718" y="918"/>
<use href="#b92" x="740" y="918"/>
<use href="#b92" x="761" y="918"/>
<use href="#b92" x="782" y="918"/>
<use href="#b94" x="803" y="918"/>
<use href="#b94" x="825" y="918"/>
<use href="#b94" x="846" y="918"/>
<use href="#b95" x="867" y="918"/>
<use href="#b95" x="888" y="918"/>
<use href="#b95" x="910" y="918"/>
<use href="#b95" x="931" y="918"/>
<use href="#b95" x="952" y="918"/>
<use href="#b99" x="973" y="918"/>
<use href="#b99" x="995" y="918"/>
<use href="#b99" x="1016" y="918"/>
<use href="#b99" x="1037" y="918"/>
<use href="#b99" x="1058" y="918"/>
<use href="#b100" x="1080" y="918"/>
<use href="#b100" x="1101" y="918"/>
<use href="#b100" x="1122" y="918"/>
<use href="#b100" x="1143" y="918"/>
<use href="#b100" x="1165" y="918"/>
<use href="#b100" x="1186" y="918"/>
<use href="#b100" x="1207" y="918"/>
<use href="#b50" x="272" y="897"/>
<use href="#b66" x="293" y="897"/>
<use href="#b105" x="315" y="897"/>
<use href="#b77" x="336" y="897"/>
<use href="#b106" x="357" y="897"/>
<use href="#b83" x="378" y="897"/>
<use href="#b93" x="400" y="897"/>
<use href="#b84" x="421" y="897"/>
<use href="#b103" x="442" y="897"/>
<use href="#b101" x="463" y="897"/>
<use href="#b104" x="485" y="897"/>
<use href="#b107" x="506" y="897"/>
<use href="#b108" x="527" y="897"/>
<use href="#b48" x="548" y="897"/>
<use href="#b49" x="570" y="897"/>
<use href="#b72" x="591" y="897"/>
<use href="#b90" x="612" y="897"/>
<use href="#b91" x="633" y="897"/>
<use href="#b109" x="655" y="897"/>
<use href="#b109" x="676" y="897"/>
<use href="#b110" x="697" y="897"/>
<use href="#b110" x="718" y="897"/>
<use href="#b110" x="740" y="897"/>
<use href="#b110" x="761" y="897"/>
<use href="#b111" x="782" y="897"/>
<use href="#b111" x="803" y="897"/>
<use href="#b111" x="825" y="897"/>
<use href="#b112" x="846" y="897"/>
<use href="#b112" x="867" y="897"/>
<use href="#b112" x="888" y="897"/>
<use href="#b112" x="910" y="897"/>
<use href="#b112" x="931" y="897"/>
<use href="#b113" x="952" y="897"/>
<use href="#b113" x="973" y="897"/>
<use href="#b113" x="995" y="897"/>
<use href="#b113" x="1016" y="897"/>
<use href="#b114" x="1037" y="897"/>
<use href="#b114" x="1058" y="897"/>
<use href="#b114" x="1080" y="897"/>
<use href="#b114" x="1101" y="897"/>
<use href="#b114" x="1122" y="897"/>
<use href="#b114" x="1143" y="897"/>
<use href="#b114" x="1165" y="897"/>
<use href="#b114" x="1186" y="897"/>
<use href="#b114" x="1207" y="897"/>
<use href="#b50" x="272" y="875"/>
<use href="#b66" x="293" y="875"/>
<use href="#b62" x="315" y="875"/>
<use href="#b106" x="336" y="875"/>
<use href="#b83" x="357" y="875"/>
<use href="#b93" x="378" y="875"/>
<use href="#b102" x="400" y="875"/>
<use href="#b96" x="421" y="875"/>
<use href="#b115" x="442" y="875"/>
<use href="#b116" x="463" y="875"/>
<use href="#b117" x="485" y="875"/>
<use href="#b118" x="506" y="875"/>
<use href="#b24" x="527" y="875"/>
<use href="#b48" x="548" y="875"/>
<use href="#b72" x="570" y="875"/>
<use href="#b73" x="591" y="875"/>
<use href="#b90" x="612" y="875"/>
<use href="#b91" x="633" y="875"/>
<use href="#b110" x="655" y="875"/>
<use href="#b110" x="676" y="875"/>
<use href="#b110" x="697" y="875"/>
<use href="#b110" x="718" y="875"/>
<use href="#b111" x="740" y="875"/>
<use href="#b111" x="761" y="875"/>
<use href="#b111" x="782" y="875"/>
<use href="#b111" x="803" y="875"/>
<use href="#b112" x="825" y="875"/>
<use href="#b112" x="846" y="875"/>
<use href="#b112" x="867" y="875"/>
<use href="#b112" x="888" y="875"/>
<use href="#b112" x="910" y="875"/>
<use href="#b113" x="931" y="875"/>
<use href="#b113" x="952" y="875"/>
<use href="#b113" x="973" y="875"/>
<use href="#b113" x="995" y="875"/>
<use href="#b114" x="1016" y="875"/>
<use href="#b114" x="1037" y="875"/>
<use href="#b114" x="1058" y="875"/>
<use href="#b114" x="1080" y="875"/>
<use href="#b114" x="1101" y="875"/>
<use href="#b114" x="1122" y="875"/>
<use href="#b114" x="1143" y="875"/>
<use href="#b114" x="1165" y="875"/>
<use href="#b114" x="1186" y="875"/>
<use href="#b114" x="1207" y="875"/>
<use href="#b66" x="272" y="854"/>
<use href="#b105" x="293" y="854"/>
<use href="#b77" x="315" y="854"/>
<use href="#b106" x="336" y="854"/>
<use href="#b83" x="357" y="854"/>
<use href="#b102" x="378" y="854"/>
<use href="#b96" x="400" y="854"/>
<use href="#b103" x="421" y="854"/>
<use href="#b101" x="442" y="854"/>
<use href="#b119" x="463" y="854"/>
<use href="#b120" x="485" y="854"/>
<use href="#b121" x="506" y="854"/>
<use href="#b25" x="527" y="854"/>
<use href="#b49" x="548" y="854"/>
<use href="#b73" x="570" y="854"/>
<use href="#b91" x="591" y="854"/>
<use href="#b91" x="612" y="854"/>
<use href="#b110" x="633" y="854"/>
<use href="#b110" x="655" y="854"/>
<use href="#b110" x="676" y="854"/>
<use href="#b110" x="697" y="854"/>
<use href="#b111" x="718" y="854"/>
<use href="#b111" x="740" y="854"/>
<use href="#b111" x="761" y="854"/>
<use href="#b111" x="782" y="854"/>
<use href="#b112" x="803" y="854"/>
<use href="#b112" x="825" y="854"/>
<use href="#b112" x="846" y="854"/>
<use href="#b112" x="867" y="854"/>
<use href="#b112" x="888" y="854"/>
<use href="#b113" x="910" y="854"/>
<use href="#b113" x="931" y="854"/>
<use href="#b113" x="952" y="854"/>
<use href="#b113" x="973" y="854"/>
<use href="#b114" x="995" y="854"/>
<use href="#b114" x="1016" y="854"/>
<use href="#b114" x="1037" y="854"/>
<use href="#b114" x="1058" y="854"/>
<use href="#b114" x="1080" y="854"/>
<use href="#b114" x="1101" y="854"/>
<use href="#b114" x="1122" y="854"/>
<use href="#b114" x="1143" y="854"/>
<use href="#b114" x="1165" y="854"/>
<use href="#b114" x="1186" y="854"/>
<use href="#b114" x="1207" y="854"/>
<use href="#b105" x="272" y="833"/>
<use href="#b77" x="293" y="833"/>
<use href="#b106" x="315" y="833"/>
<use href="#b83" x="336" y="833"/>
<use href="#b93" x="357" y="833"/>
<use href="#b102" x="378" y="833"/>
<use href="#b103" x="400" y="833"/>
<use href="#b115" x="421" y="833"/>
<use href="#b116" x="442" y="833"/>
<use href="#b119" x="463" y="833"/>
<use href="#b107" x="485" y="833"/>
<use href="#b121" x="506" y="833"/>
<use href="#b25" x="527" y="833"/>
<use href="#b72" x="548" y="833"/>
<use href="#b73" x="570" y="833"/>
<use href="#b91" x="591" y="833"/>
<use href="#b91" x="612" y="833"/>
<use href="#b110" x="633" y="833"/>
<use href="#b110" x="655" y="833"/>
<use href="#b110" x="676" y="833"/>
<use href="#b111" x="697" y="833"/>
<use href="#b111" x="718" y="833"/>
<use href="#b111" x="740" y="833"/>
<use href="#b111" x="761" y="833"/>
<use href="#b112" x="782" y="833"/>
<use href="#b112" x="803" y="833"/>
<use href="#b112" x="825" y="833"/>
<use href="#b112" x="846" y="833"/>
<use href="#b112" x="867" y="833"/>
<use href="#b113" x="888" y="833"/>
<use href="#b113" x="910" y="833"/>
<use href="#b113" x="931" y="833"/>
<use href="#b113" x="952" y="833"/>
<use href="#b113" x="973" y="833"/>
<use href="#b114" x="995" y="833"/>
<use href="#b114" x="1016" y="833"/>
<use href="#b114" x="1037" y="833"/>
<use href="#b114" x="1058" y="833"/>
<use href="#b114" x="1080" y="833"/>
<use href="#b114" x="1101" y="833"/>
<use href="#b114" x="1122" y="833"/>
<use href="#b114" x="1143" y="833"/>
<use href="#b114" x="1165" y="833"/>
<use href="#b114" x="1186" y="833"/>
<use href="#b114" x="1207" y="833"/>
<use href="#b105" x="272" y="812"/>
<use href="#b77" x="293" y="812"/>
<use href="#b122" x="315" y="812"/>
<use href="#b93" x="336" y="812"/>
<use href="#b102" x="357" y="812"/>
<use href="#b96" x="378" y="812"/>
<use href="#b103" x="400" y="812"/>
<use href="#b101" x="421" y="812"/>
<use href="#b116" x="442" y="812"/>
<use href="#b117" x="463" y="812"/>
<use href="#b118" x="485" y="812"/>
<use href="#b121" x="506" y="812"/>
<use href="#b25" x="527" y="812"/>
<use href="#b73" x="548" y="812"/>
<use href="#b73" x="570" y="812"/>
<use href="#b91" x="591" y="812"/>
<use href="#b91" x="612" y="812"/>
<use href="#b110" x="633" y="812"/>
<use href="#b110" x="655" y="812"/>
<use href="#b110" x="676" y="812"/>
<use href="#b111" x="697" y="812"/>
<use href="#b111" x="718" y="812"/>
<use href="#b111" x="740" y="812"/>
<use href="#b111" x="761" y="812"/>
<use href="#b112" x="782" y="812"/>
<use href="#b112" x="803" y="812"/>
<use href="#b112" x="825" y="812"/>
<use href="#b112" x="846" y="812"/>
<use href="#b113" x="867" y="812"/>
<use href="#b113" x="888" y="812"/>
<use href="#b113" x="910" y="812"/>
<use href="#b113" x="931" y="812"/>
<use href="#b113" x="952" y="812"/>
<use href="#b113" x="973" y="812"/>
<use href="#b114" x="995" y="812"/>
<use href="#b114" x="1016" y="812"/>
<use href="#b114" x="1037" y="812"/>
<use href="#b114" x="1058" y="812"/>
<use href="#b114" x="1080" y="812"/>
<use href="#b114" x="1101" y="812"/>
<use href="#b114" x="1122" y="812"/>
<use href="#b114" x="1143" y="812"/>
<use href="#b114" x="1165" y="812"/>
<use href="#b114" x="1186" y="812"/>
<use href="#b114" x="1207" y="812"/>
<use href="#b77" x="272" y="790"/>
<use href="#b106" x="293" y="790"/>
<use href="#b83" x="315" y="790"/>
<use href="#b93" x="336" y="790"/>
<use href="#b123" x="357" y="790"/>
<use href="#b103" x="378" y="790"/>
<use href="#b101" x="400" y="790"/>
<use href="#b116" x="421" y="790"/>
<use href="#b117" x="442" y="790"/>
<use href="#b120" x="463" y="790"/>
<use href="#b118" x="485" y="790"/>
<use href="#b121" x="506" y="790"/>
<use href="#b48" x="527" y="790"/>
<use href="#b73" x="548" y="790"/>
<use href="#b73" x="570" y="790"/>
<use href="#b91" x="591" y="790"/>
<use href="#b91" x="612" y="790"/>
<use href="#b110" x="633" y="790"/>
<use href="#b110" x="655" y="790"/>
<use href="#b111" x="676" y="790"/>
<use href="#b111" x="697" y="790"/>
<use href="#b111" x="718" y="790"/>
<use href="#b111" x="740" y="790"/>
<use href="#b112" x="761" y="790"/>
<use href="#b112" x="782" y="790"/>
<use href="#b112" x="803" y="790"/>
<use href="#b124" x="825" y="790"/>
<use href="#b125" x="846" y="790"/>
<use href="#b125" x="867" y="790"/>
<use href="#b125" x="888" y="790"/>
<use href="#b125" x="910" y="790"/>
<use href="#b125" x="931" y="790"/>
<use href="#b125" x="952" y="790"/>
<use href="#b126" x="973" y="790"/>
<use href="#b126" x="995" y="790"/>
<use href="#b126" x="1016" y="790"/>
<use href="#b126" x="1037" y="790"/>
<use href="#b126" x="1058" y="790"/>
<use href="#b126" x="1080" y="790"/>
<use href="#b126" x="1101" y="790"/>
<use href="#b126" x="1122" y="790"/>
<use href="#b126" x="1143" y="790"/>
<use href="#b126" x="1165" y="790"/>
<use href="#b126" x="1186" y="790"/>
<use href="#b126" x="1207" y="790"/>
<use href="#b77" x="272" y="769"/>
<use href="#b122" x="293" y="769"/>
<use href="#b93" x="315" y="769"/>
<use href="#b102" x="336" y="769"/>
<use href="#b96" x="357" y="769"/>
<use href="#b115" x="378" y="769"/>
<use href="#b101" x="400" y="769"/>
<use href="#b116" x="421" y="769"/>
<use href="#b117" x="442" y="769"/>
<use href="#b107" x="463" y="769"/>
<use href="#b108" x="485" y="769"/>
<use href="#b24" x="506" y="769"/>
<use href="#b48" x="527" y="769"/>
<use href="#b73" x="548" y="769"/>
<use href="#b73" x="570" y="769"/>
<use href="#b91" x="591" y="769"/>
<use href="#b91" x="612" y="769"/>
<use href="#b110" x="633" y="769"/>
<use href="#b110" x="655" y="769"/>
<use href="#b111" x="676" y="769"/>
<use href="#b111" x="697" y="769"/>
<use href="#b111" x="718" y="769"/>
<use href="#b111" x="740" y="769"/>
<use href="#b112" x="761" y="769"/>
<use href="#b124" x="782" y="769"/>
<use href="#b124" x="803" y="769"/>
<use href="#b125" x="825" y="769"/>
<use href="#b125" x="846" y="769"/>
<use href="#b125" x="867" y="769"/>
<use href="#b125" x="888" y="769"/>
<use href="#b125" x="910" y="769"/>
<use href="#b125" x="931" y="769"/>
<use href="#b125" x="952" y="769"/>
<use href="#b126" x="973" y="769"/>
<use href="#b126" x="995" y="769"/>
<use href="#b126" x="1016" y="769"/>
<use href="#b126" x="1037" y="769"/>
<use href="#b126" x="1058" y="769"/>
<use href="#b126" x="1080" y="769"/>
<use href="#b126" x="1101" y="769"/>
<use href="#b126" x="1122" y="769"/>
<use href="#b126" x="1143" y="769"/>
<use href="#b126" x="1165" y="769"/>
<use href="#b126" x="1186" y="769"/>
<use href="#b126" x="1207" y="769"/>
<use href="#b106" x="272" y="748"/>
<use href="#b122" x="293" y="748"/>
<use href="#b102" x="315" y="748"/>
<use href="#b123" x="336" y="748"/>
<use href="#b103" x="357" y="748"/>
<use href="#b115" x="378" y="748"/>
<use href="#b116" x="400" y="748"/>
<use href="#b117" x="421" y="748"/>
<use href="#b120" x="442" y="748"/>
<use href="#b118" x="463" y="748"/>
<use href="#b121" x="485" y="748"/>
<use href="#b25" x="506" y="748"/>
<use href="#b49" x="527" y="748"/>
<use href="#b73" x="548" y="748"/>
<use href="#b73" x="570" y="748"/>
<use href="#b91" x="591" y="748"/>
<use href="#b91" x="612" y="748"/>
<use href="#b110" x="633" y="748"/>
<use href="#b111" x="655" y="748"/>
<use href="#b111" x="676" y="748"/>
<use href="#b111" x="697" y="748"/>
<use href="#b111" x="718" y="748"/>
<use href="#b112" x="740" y="748"/>
<use href="#b124" x="761" y="748"/>
<use href="#b124" x="782" y="748"/>
<use href="#b124" x="803" y="748"/>
<use href="#b125" x="825" y="748"/>
<use href="#b125" x="846" y="748"/>
<use href="#b125" x="867" y="748"/>
<use href="#b125" x="888" y="748"/>
<use href="#b125" x="910" y="748"/>
<use href="#b125" x="931" y="748"/>
<use href="#b126" x="952" y="748"/>
<use href="#b126" x="973" y="748"/>
<use href="#b126" x="995" y="748"/>
<use href="#b126" x="1016" y="748"/>
<use href="#b126" x="1037" y="748"/>
<use href="#b126" x="1058" y="748"/>
<use href="#b126" x="1080" y="748"/>
<use href="#b126" x="1101" y="748"/>
<use href="#b126" x="1122" y="748"/>
<use href="#b126" x="1143" y="748"/>
<use href="#b126" x="1165" y="748"/>
<use href="#b126" x="1186" y="748"/>
<use href="#b126" x="1207" y="748"/>
<use href="#b122" x="272" y="727"/>
<use href="#b93" x="293" y="727"/>
<use href="#b102" x="315" y="727"/>
<use href="#b103" x="336" y="727"/>
<use href="#b115" x="357" y="727"/>
<use href="#b116" x="378" y="727"/>
<use href="#b119" x="400" y="727"/>
<use href="#b120" x="421" y="727"/>
<use href="#b107" x="442" y="727"/>
<use href="#b108" x="463" y="727"/>
<use href="#b121" x="485" y="727"/>
<use href="#b25" x="506" y="727"/>
<use href="#b49" x="527" y="727"/>
<use href="#b73" x="548" y="727"/>
<use href="#b74" x="570" y="727"/>
<use href="#b91" x="591" y="727"/>
<use href="#b92" x="612" y="727"/>
<use href="#b110" x="633" y="727"/>
<use href="#b111" x="655" y="727"/>
<use href="#b111" x="676" y="727"/>
<use href="#b111" x="697" y="727"/>
<use href="#b112" x="718" y="727"/>
<use href="#b112" x="740" y="727"/>
<use href="#b124" x="761" y="727"/>
<use href="#b124" x="782" y="727"/>
<use href="#b125" x="803" y="727"/>
<use href="#b125" x="825" y="727"/>
<use href="#b125" x="846" y="727"/>
<use href="#b125" x="867" y="727"/>
<use href="#b125" x="888" y="727"/>
<use href="#b126" x="910" y="727"/>
<use href="#b126" x="931" y="727"/>
<use href="#b126" x="952" y="727"/>
<use href="#b126" x="973" y="727"/>
<use href="#b126" x="995" y="727"/>
<use href="#b126" x="1016" y="727"/>
<use href="#b126" x="1037" y="727"/>
<use href="#b126" x="1058" y="727"/>
<use href="#b126" x="1080" y="727"/>
<use href="#b126" x="1101" y="727"/>
<use href="#b126" x="1122" y="727"/>
<use href="#b126" x="1143" y="727"/>
<use href="#b126" x="1165" y="727"/>
<use href="#b126" x="1186" y="727"/>
<use href="#b126" x="1207" y="727"/>
<use href="#b127" x="272" y="705"/>
<use href="#b102" x="293" y="705"/>
<use href="#b96" x="315" y="705"/>
<use href="#b103" x="336" y="705"/>
<use href="#b116" x="357" y="705"/>
<use href="#b119" x="378" y="705"/>
<use href="#b117" x="400" y="705"/>
<use href="#b107" x="421" y="705"/>
<use href="#b118" x="442" y="705"/>
<use href="#b121" x="463" y="705"/>
<use href="#b25" x="485" y="705"/>
<use href="#b49" x="506" y="705"/>
<use href="#b53" x="527" y="705"/>
<use href="#b74" x="548" y="705"/>
<use href="#b91" x="570" y="705"/>
<use href="#b92" x="591" y="705"/>
<use href="#b92" x="612" y="705"/>
<use href="#b111" x="633" y="705"/>
<use href="#b111" x="655" y="705"/>
<use href="#b111" x="676" y="705"/>
<use href="#b112" x="697" y="705"/>
<use href="#b112" x="718" y="705"/>
<use href="#b112" x="740" y="705"/>
<use href="#b124" x="761" y="705"/>
<use href="#b125" x="782" y="705"/>
<use href="#b125" x="803" y="705"/>
<use href="#b125" x="825" y="705"/>
<use href="#b125" x="846" y="705"/>
<use href="#b126" x="867" y="705"/>
<use href="#b126" x="888" y="705"/>
<use href="#b126" x="910" y="705"/>
<use href="#b126" x="931" y="705"/>
<use href="#b126" x="952" y="705"/>
<use href="#b126" x="973" y="705"/>
<use href="#b126" x="995" y="705"/>
<use href="#b126" x="1016" y="705"/>
<use href="#b126" x="1037" y="705"/>
<use href="#b126" x="1058" y="705"/>
<use href="#b126" x="1080" y="705"/>
<use href="#b126" x="1101" y="705"/>
<use href="#b126" x="1122" y="705"/>
<use href="#b126" x="1143" y="705"/>
<use href="#b126" x="1165" y="705"/>
<use href="#b126" x="1186" y="705"/>
<use href="#b126" x="1207" y="705"/>
<use href="#b93" x="272" y="684"/>
<use href="#b123" x="293" y="684"/>
<use href="#b103" x="315" y="684"/>
<use href="#b115" x="336" y="684"/>
<use href="#b116" x="357" y="684"/>
<use href="#b117" x="378" y="684"/>
<use href="#b120" x="400" y="684"/>
<use href="#b118" x="421" y="684"/>
<use href="#b121" x="442" y="684"/>
<use href="#b128" x="463" y="684"/>
<use href="#b26" x="485" y="684"/>
<use href="#b49" x="506" y="684"/>
<use href="#b73" x="527" y="684"/>
<use href="#b74" x="548" y="684"/>
<use href="#b92" x="570" y="684"/>
<use href="#b92" x="591" y="684"/>
<use href="#b94" x="612" y="684"/>
<use href="#b111" x="633" y="684"/>
<use href="#b111" x="655" y="684"/>
<use href="#b112" x="676" y="684"/>
<use href="#b112" x="697" y="684"/>
<use href="#b112" x="718" y="684"/>
<use href="#b112" x="740" y="684"/>
<use href="#b125" x="761" y="684"/>
<use href="#b125" x="782" y="684"/>
<use href="#b125" x="803" y="684"/>
<use href="#b125" x="825" y="684"/>
<use href="#b126" x="846" y="684"/>
<use href="#b126" x="867" y="684"/>
<use href="#b126" x="888" y="684"/>
<use href="#b126" x="910" y="684"/>
<use href="#b126" x="931" y="684"/>
<use href="#b126" x="952" y="684"/>
<use href="#b126" x="973" y="684"/>
<use href="#b126" x="995" y="684"/>
<use href="#b126" x="1016" y="684"/>
<use href="#b126" x="1037" y="684"/>
<use href="#b126" x="1058" y="684"/>
<use href="#b126" x="1080" y="684"/>
<use href="#b126" x="1101" y="684"/>
<use href="#b126" x="1122" y="684"/>
<use href="#b126" x="1143" y="684"/>
<use href="#b126" x="1165" y="684"/>
<use href="#b126" x="1186" y="684"/>
<use href="#b126" x="1207" y="684"/>
<use href="#b102" x="272" y="663"/>
<use href="#b96" x="293" y="663"/>
<use href="#b115" x="315" y="663"/>
<use href="#b116" x="336" y="663"/>
<use href="#b119" x="357" y="663"/>
<use href="#b120" x="378" y="663"/>
<use href="#b118" x="400" y="663"/>
<use href="#b129" x="421" y="663"/>
<use href="#b128" x="442" y="663"/>
<use href="#b25" x="463" y="663"/>
<use href="#b26" x="485" y="663"/>
<use href="#b53" x="506" y="663"/>
<use href="#b74" x="527" y="663"/>
<use href="#b91" x="548" y="663"/>
<use href="#b92" x="570" y="663"/>
<use href="#b92" x="591" y="663"/>
<use href="#b111" x="612" y="663"/>
<use href="#b111" x="633" y="663"/>
<use href="#b112" x="655" y="663"/>
<use href="#b112" x="676" y="663"/>
<use href="#b112" x="697" y="663"/>
<use href="#b112" x="718" y="663"/>
<use href="#b113" x="740" y="663"/>
<use href="#b125" x="761" y="663"/>
<use href="#b125" x="782" y="663"/>
<use href="#b125" x="803" y="663"/>
<use href="#b126" x="825" y="663"/>
<use href="#b126" x="846" y="663"/>
<use href="#b126" x="867" y="663"/>
<use href="#b126" x="888" y="663"/>
<use href="#b126" x="910" y="663"/>
<use href="#b126" x="931" y="663"/>
<use href="#b126" x="952" y="663"/>
<use href="#b126" x="973" y="663"/>
<use href="#b126" x="995" y="663"/>
<use href="#b126" x="1016" y="663"/>
<use href="#b126" x="1037" y="663"/>
<use href="#b126" x="1058" y="663"/>
<use href="#b126" x="1080" y="663"/>
<use href="#b126" x="1101" y="663"/>
<use href="#b126" x="1122" y="663"/>
<use href="#b126" x="1143" y="663"/>
<use href="#b126" x="1165" y="663"/>
<use href="#b126" x="1186" y="663"/>
<use href="#b126" x="1207" y="663"/>
<use href="#b123" x="272" y="642"/>
<use href="#b103" x="293" y="642"/>
<use href="#b115" x="315" y="642"/>
<use href="#b119" x="336" y="642"/>
<use href="#b120" x="357" y="642"/>
<use href="#b130" x="378" y="642"/>
<use href="#b129" x="400" y="642"/>
<use href="#b121" x="421" y="642"/>
<use href="#b128" x="442" y="642"/>
<use href="#b26" x="463" y="642"/>
<use href="#b53" x="485" y="642"/>
<use href="#b54" x="506" y="642"/>
<use href="#b74" x="527" y="642"/>
<use href="#b92" x="548" y="642"/>
<use href="#b92" x="570" y="642"/>
<use href="#b94" x="591" y="642"/>
<use href="#b111" x="612" y="642"/>
<use href="#b112" x="633" y="642"/>
<use href="#b112" x="655" y="642"/>
<use href="#b112" x="676" y="642"/>
<use href="#b113" x="697" y="642"/>
<use href="#b113" x="718" y="642"/>
<use href="#b113" x="740" y="642"/>
<use href="#b125" x="761" y="642"/>
<use href="#b125" x="782" y="642"/>
<use href="#b126" x="803" y="642"/>
<use href="#b126" x="825" y="642"/>
<use href="#b126" x="846" y="642"/>
<use href="#b126" x="867" y="642"/>
<use href="#b126" x="888" y="642"/>
<use href="#b126" x="910" y="642"/>
<use href="#b126" x="931" y="642"/>
<use href="#b126" x="952" y="642"/>
<use href="#b126" x="973" y="642"/>
<use href="#b126" x="995" y="642"/>
<use href="#b126" x="1016" y="642"/>
<use href="#b126" x="1037" y="642"/>
<use href="#b126" x="1058" y="642"/>
<use href="#b126" x="1080" y="642"/>
<use href="#b126" x="1101" y="642"/>
<use href="#b126" x="1122" y="642"/>
<use href="#b126" x="1143" y="642"/>
<use href="#b126" x="1165" y="642"/>
<use href="#b126" x="1186" y="642"/>
<use href="#b126" x="1207" y="642"/>
<use href="#b131" x="272" y="620"/>
<use href="#b115" x="293" y="620"/>
<use href="#b116" x="315" y="620"/>
<use href="#b119" x="336" y="620"/>
<use href="#b130" x="357" y="620"/>
<use href="#b118" x="378" y="620"/>
<use href="#b129" x="400" y="620"/>
<use href="#b128" x="421" y="620"/>
<use href="#b26" x="442" y="620"/>
<use href="#b53" x="463" y="620"/>
<use href="#b53" x="485" y="620"/>
<use href="#b74" x="506" y="620"/>
<use href="#b80" x="527" y="620"/>
<use href="#b92" x="548" y="620"/>
<use href="#b94" x="570" y="620"/>
<use href="#b111" x="591" y="620"/>
<use href="#b112" x="612" y="620"/>
<use href="#b112" x="633" y="620"/>
<use href="#b112" x="655" y="620"/>
<use href="#b112" x="676" y="620"/>
<use href="#b113" x="697" y="620"/>
<use href="#b113" x="718" y="620"/>
<use href="#b125" x="740" y="620"/>
<use href="#b125" x="761" y="620"/>
<use href="#b125" x="782" y="620"/>
<use href="#b126" x="803" y="620"/>
<use href="#b126" x="825" y="620"/>
<use href="#b126" x="846" y="620"/>
<use href="#b126" x="867" y="620"/>
<use href="#b126" x="888" y="620"/>
<use href="#b126" x="910" y="620"/>
<use href="#b126" x="931" y="620"/>
<use href="#b126" x="952" y="620"/>
<use href="#b126" x="973" y="620"/>
<use href="#b126" x="995" y="620"/>
<use href="#b126" x="1016" y="620"/>
<use href="#b126" x="1037" y="620"/>
<use href="#b126" x="1058" y="620"/>
<use href="#b126" x="1080" y="620"/>
<use href="#b126" x="1101" y="620"/>
<use href="#b126" x="1122" y="620"/>
<use href="#b126" x="1143" y="620"/>
<use href="#b126" x="1165" y="620"/>
<use href="#b126" x="1186" y="620"/>
<use href="#b126" x="1207" y="620"/>
<use href="#b115" x="272" y="599"/>
<use href="#b132" x="293" y="599"/>
<use href="#b119" x="315" y="599"/>
<use href="#b120" x="336" y="599"/>
<use href="#b130" x="357" y="599"/>
<use href="#b129" x="378" y="599"/>
<use href="#b128" x="400" y="599"/>
<use href="#b26" x="421" y="599"/>
<use href="#b27" x="442" y="599"/>
<use href="#b54" x="463" y="599"/>
<use href="#b74" x="485" y="599"/>
<use href="#b80" x="506" y="599"/>
<use href="#b92" x="527" y="599"/>
<use href="#b94" x="548" y="599"/>
<use href="#b111" x="570" y="599"/>
<use href="#b111" x="591" y="599"/>
<use href="#b112" x="612" y="599"/>
<use href="#b112" x="633" y="599"/>
<use href="#b112" x="655" y="599"/>
<use href="#b113" x="676" y="599"/>
<use href="#b113" x="697" y="599"/>
<use href="#b113" x="718" y="599"/>
<use href="#b125" x="740" y="599"/>
<use href="#b125" x="761" y="599"/>
<use href="#b126" x="782" y="599"/>
<use href="#b126" x="803" y="599"/>
<use href="#b126" x="825" y="599"/>
<use href="#b126" x="846" y="599"/>
<use href="#b126" x="867" y="599"/>
<use href="#b126" x="888" y="599"/>
<use href="#b126" x="910" y="599"/>
<use href="#b126" x="931" y="599"/>
<use href="#b126" x="952" y="599"/>
<use href="#b126" x="973" y="599"/>
<use href="#b126" x="995" y="599"/>
<use href="#b126" x="1016" y="599"/>
<use href="#b126" x="1037" y="599"/>
<use href="#b126" x="1058" y="599"/>
<use href="#b126" x="1080" y="599"/>
<use href="#b126" x="1101" y="599"/>
<use href="#b126" x="1122" y="599"/>
<use href="#b126" x="1143" y="599"/>
<use href="#b126" x="1165" y="599"/>
<use href="#b126" x="1186" y="599"/>
<use href="#b126" x="1207" y="599"/>
<use href="#b132" x="272" y="578"/>
<use href="#b133" x="293" y="578"/>
<use href="#b134" x="315" y="578"/>
<use href="#b130" x="336" y="578"/>
<use href="#b129" x="357" y="578"/>
<use href="#b135" x="378" y="578"/>
<use href="#b136" x="400" y="578"/>
<use href="#b27" x="421" y="578"/>
<use href="#b53" x="442" y="578"/>
<use href="#b54" x="463" y="578"/>
<use href="#b80" x="485" y="578"/>
<use href="#b80" x="506" y="578"/>
<use href="#b94" x="527" y="578"/>
<use href="#b94" x="548" y="578"/>
<use href="#b112" x="570" y="578"/>
<use href="#b112" x="591" y="578"/>
<use href="#b112" x="612" y="578"/>
<use href="#b112" x="633" y="578"/>
<use href="#b113" x="655" y="578"/>
<use href="#b113" x="676" y="578"/>
<use href="#b113" x="697" y="578"/>
<use href="#b125" x="718" y="578"/>
<use href="#b125" x="740" y="578"/>
<use href="#b125" x="761" y="578"/>
<use href="#b126" x="782" y="578"/>
<use href="#b126" x="803" y="578"/>
<use href="#b126" x="825" y="578"/>
<use href="#b126" x="846" y="578"/>
<use href="#b126" x="867" y="578"/>
<use href="#b126" x="888" y="578"/>
<use href="#b126" x="910" y="578"/>
<use href="#b126" x="931" y="578"/>
<use href="#b126" x="952" y="578"/>
<use href="#b126" x="973" y="578"/>
<use href="#b126" x="995" y="578"/>
<use href="#b126" x="1016" y="578"/>
<use href="#b126" x="1037" y="578"/>
<use href="#b126" x="1058" y="578"/>
<use href="#b126" x="1080" y="578"/>
<use href="#b126" x="1101" y="578"/>
<use href="#b126" x="1122" y="578"/>
<use href="#b126" x="1143" y="578"/>
<use href="#b126" x="1165" y="578"/>
<use href="#b126" x="1186" y="578"/>
<use href="#b126" x="1207" y="578"/>
<use href="#b133" x="272" y="557"/>
<use href="#b134" x="293" y="557"/>
<use href="#b137" x="315" y="557"/>
<use href="#b138" x="336" y="557"/>
<use href="#b135" x="357" y="557"/>
<use href="#b136" x="378" y="557"/>
<use href="#b27" x="400" y="557"/>
<use href="#b27" x="421" y="557"/>
<use href="#b54" x="442" y="557"/>
<use href="#b80" x="463" y="557"/>
<use href="#b80" x="485" y="557"/>
<use href="#b94" x="506" y="557"/>
<use href="#b94" x="527" y="557"/>
<use href="#b112" x="548" y="557"/>
<use href="#b112" x="570" y="557"/>
<use href="#b112" x="591" y="557"/>
<use href="#b112" x="612" y="557"/>
<use href="#b113" x="633" y="557"/>
<use href="#b113" x="655" y="557"/>
<use href="#b125" x="676" y="557"/>
<use href="#b125" x="697" y="557"/>
<use href="#b125" x="718" y="557"/>
<use href="#b125" x="740" y="557"/>
<use href="#b126" x="761" y="557"/>
<use href="#b126" x="782" y="557"/>
<use href="#b126" x="803" y="557"/>
<use href="#b126" x="825" y="557"/>
<use href="#b126" x="846" y="557"/>
<use href="#b126" x="867" y="557"/>
<use href="#b126" x="888" y="557"/>
<use href="#b126" x="910" y="557"/>
<use href="#b126" x="931" y="557"/>
<use href="#b126" x="952" y="557"/>
<use href="#b126" x="973" y="557"/>
<use href="#b126" x="995" y="557"/>
<use href="#b126" x="1016" y="557"/>
<use href="#b126" x="1037" y="557"/>
<use href="#b126" x="1058" y="557"/>
<use href="#b126" x="1080" y="557"/>
<use href="#b126" x="1101" y="557"/>
<use href="#b126" x="1122" y="557"/>
<use href="#b126" x="1143" y="557"/>
<use href="#b126" x="1165" y="557"/>
<use href="#b126" x="1186" y="557"/>
<use href="#b126" x="1207" y="557"/>
<use href="#b139" x="272" y="536"/>
<use href="#b137" x="293" y="536"/>
<use href="#b138" x="315" y="536"/>
<use href="#b135" x="336" y="536"/>
<use href="#b140" x="357" y="536"/>
<use href="#b141" x="378" y="536"/>
<use href="#b27" x="400" y="536"/>
<use href="#b54" x="421" y="536"/>
<use href="#b65" x="442" y="536"/>
<use href="#b82" x="463" y="536"/>
<use href="#b94" x="485" y="536"/>
<use href="#b94" x="506" y="536"/>
<use href="#b95" x="527" y="536"/>
<use href="#b112" x="548" y="536"/>
<use href="#b112" x="570" y="536"/>
<use href="#b113" x="591" y="536"/>
<use href="#b113" x="612" y="536"/>
<use href="#b113" x="633" y="536"/>
<use href="#b125" x="655" y="536"/>
<use href="#b125" x="676" y="536"/>
<use href="#b125" x="697" y="536"/>
<use href="#b125" x="718" y="536"/>
<use href="#b126" x="740" y="536"/>
<use href="#b126" x="761" y="536"/>
<use href="#b126" x="782" y="536"/>
<use href="#b126" x="803" y="536"/>
<use href="#b126" x="825" y="536"/>
<use href="#b126" x="846" y="536"/>
<use href="#b126" x="867" y="536"/>
<use href="#b126" x="888" y="536"/>
<use href="#b126" x="910" y="536"/>
<use href="#b126" x="931" y="536"/>
<use href="#b126" x="952" y="536"/>
<use href="#b126" x="973" y="536"/>
<use href="#b126" x="995" y="536"/>
<use href="#b126" x="1016" y="536"/>
<use href="#b126" x="1037" y="536"/>
<use href="#b126" x="1058" y="536"/>
<use href="#b126" x="1080" y="536"/>
<use href="#b126" x="1101" y="536"/>
<use href="#b126" x="1122" y="536"/>
<use href="#b126" x="1143" y="536"/>
<use href="#b126" x="1165" y="536"/>
<use href="#b126" x="1186" y="536"/>
<use href="#b126" x="1207" y="536"/>
<use href="#b142" x="272" y="514"/>
<use href="#b143" x="293" y="514"/>
<use href="#b144" x="315" y="514"/>
<use href="#b140" x="336" y="514"/>
<use href="#b136" x="357" y="514"/>
<use href="#b141" x="378" y="514"/>
<use href="#b28" x="400" y="514"/>
<use href="#b65" x="421" y="514"/>
<use href="#b82" x="442" y="514"/>
<use href="#b94" x="463" y="514"/>
<use href="#b95" x="485" y="514"/>
<use href="#b95" x="506" y="514"/>
<use href="#b112" x="527" y="514"/>
<use href="#b112" x="548" y="514"/>
<use href="#b113" x="570" y="514"/>
<use href="#b113" x="591" y="514"/>
<use href="#b113" x="612" y="514"/>
<use href="#b125" x="633" y="514"/>
<use href="#b125" x="655" y="514"/>
<use href="#b125" x="676" y="514"/>
<use href="#b125" x="697" y="514"/>
<use href="#b126" x="718" y="514"/>
<use href="#b126" x="740" y="514"/>
<use href="#b126" x="761" y="514"/>
<use href="#b126" x="782" y="514"/>
<use href="#b126" x="803" y="514"/>
<use href="#b126" x="825" y="514"/>
<use href="#b126" x="846" y="514"/>
<use href="#b126" x="867" y="514"/>
<use href="#b126" x="888" y="514"/>
<use href="#b126" x="910" y="514"/>
<use href="#b126" x="931" y="514"/>
<use href="#b126" x="952" y="514"/>
<use href="#b126" x="973" y="514"/>
<use href="#b126" x="995" y="514"/>
<use href="#b126" x="1016" y="514"/>
<use href="#b126" x="1037" y="514"/>
<use href="#b126" x="1058" y="514"/>
<use href="#b126" x="1080" y="514"/>
<use href="#b126" x="1101" y="514"/>
<use href="#b126" x="1122" y="514"/>
<use href="#b126" x="1143" y="514"/>
<use href="#b126" x="1165" y="514"/>
<use href="#b126" x="1186" y="514"/>
<use href="#b126" x="1207" y="514"/>
<use href="#b143" x="272" y="493"/>
<use href="#b145" x="293" y="493"/>
<use href="#b146" x="315" y="493"/>
<use href="#b140" x="336" y="493"/>
<use href="#b141" x="357" y="493"/>
<use href="#b28" x="378" y="493"/>
<use href="#b65" x="400" y="493"/>
<use href="#b68" x="421" y="493"/>
<use href="#b82" x="442" y="493"/>
<use href="#b95" x="463" y="493"/>
<use href="#b95" x="485" y="493"/>
<use href="#b112" x="506" y="493"/>
<use href="#b113" x="527" y="493"/>
<use href="#b113" x="548" y="493"/>
<use href="#b125" x="570" y="493"/>
<use href="#b125" x="591" y="493"/>
<use href="#b125" x="612" y="493"/>
<use href="#b125" x="633" y="493"/>
<use href="#b126" x="655" y="493"/>
<use href="#b126" x="676" y="493"/>
<use href="#b126" x="697" y="493"/>
<use href="#b126" x="718" y="493"/>
<use href="#b126" x="740" y="493"/>
<use href="#b126" x="761" y="493"/>
<use href="#b126" x="782" y="493"/>
<use href="#b126" x="803" y="493"/>
<use href="#b126" x="825" y="493"/>
<use href="#b126" x="846" y="493"/>
<use href="#b126" x="867" y="493"/>
<use href="#b126" x="888" y="493"/>
<use href="#b126" x="910" y="493"/>
<use href="#b126" x="931" y="493"/>
<use href="#b126" x="952" y="493"/>
<use href="#b126" x="973" y="493"/>
<use href="#b126" x="995" y="493"/>
<use href="#b126" x="1016" y="493"/>
<use href="#b126" x="1037" y="493"/>
<use href="#b126" x="1058" y="493"/>
<use href="#b126" x="1080" y="493"/>
<use href="#b126" x="1101" y="493"/>
<use href="#b126" x="1122" y="493"/>
<use href="#b126" x="1143" y="493"/>
<use href="#b126" x="1165" y="493"/>
<use href="#b126" x="1186" y="493"/>
<use href="#b126" x="1207" y="493"/>
<use href="#b145" x="272" y="472"/>
<use href="#b146" x="293" y="472"/>
<use href="#b140" x="315" y="472"/>
<use href="#b147" x="336" y="472"/>
<use href="#b148" x="357" y="472"/>
<use href="#b29" x="378" y="472"/>
<use href="#b68" x="400" y="472"/>
<use href="#b82" x="421" y="472"/>
<use href="#b95" x="442" y="472"/>
<use href="#b99" x="463" y="472"/>
<use href="#b113" x="485" y="472"/>
<use href="#b113" x="506" y="472"/>
<use href="#b113" x="527" y="472"/>
<use href="#b125" x="548" y="472"/>
<use href="#b125" x="570" y="472"/>
<use href="#b126" x="591" y="472"/>
<use href="#b126" x="612" y="472"/>
<use href="#b126" x="633" y="472"/>
<use href="#b126" x="655" y="472"/>
<use href="#b126" x="676" y="472"/>
<use href="#b126" x="697" y="472"/>
<use href="#b126" x="718" y="472"/>
<use href="#b126" x="740" y="472"/>
<use href="#b126" x="761" y="472"/>
<use href="#b126" x="782" y="472"/>
<use href="#b126" x="803" y="472"/>
<use href="#b126" x="825" y="472"/>
<use href="#b126" x="846" y="472"/>
<use href="#b126" x="867" y="472"/>
<use href="#b126" x="888" y="472"/>
<use href="#b126" x="910" y="472"/>
<use href="#b126" x="931" y="472"/>
<use href="#b126" x="952" y="472"/>
<use href="#b126" x="973" y="472"/>
<use href="#b126" x="995" y="472"/>
<use href="#b126" x="1016" y="472"/>
<use href="#b126" x="1037" y="472"/>
<use href="#b126" x="1058" y="472"/>
<use href="#b126" x="1080" y="472"/>
<use href="#b126" x="1101" y="472"/>
<use href="#b126" x="1122" y="472"/>
<use href="#b126" x="1143" y="472"/>
<use href="#b126" x="1165" y="472"/>
<use href="#b126" x="1186" y="472"/>
<use href="#b126" x="1207" y="472"/>
<use href="#b149" x="272" y="451"/>
<use href="#b146" x="293" y="451"/>
<use href="#b147" x="315" y="451"/>
<use href="#b148" x="336" y="451"/>
<use href="#b29" x="357" y="451"/>
<use href="#b30" x="378" y="451"/>
<use href="#b68" x="400" y="451"/>
<use href="#b85" x="421" y="451"/>
<use href="#b99" x="442" y="451"/>
<use href="#b113" x="463" y="451"/>
<use href="#b113" x="485" y="451"/>
<use href="#b114" x="506" y="451"/>
<use href="#b126" x="527" y="451"/>
<use href="#b126" x="548" y="451"/>
<use href="#b126" x="570" y="451"/>
<use href="#b126" x="591" y="451"/>
<use href="#b126" x="612" y="451"/>
<use href="#b126" x="633" y="451"/>
<use href="#b126" x="655" y="451"/>
<use href="#b126" x="676" y="451"/>
<use href="#b126" x="697" y="451"/>
<use href="#b126" x="718" y="451"/>
<use href="#b126" x="740" y="451"/>
<use href="#b126" x="761" y="451"/>
<use href="#b126" x="782" y="451"/>
<use href="#b126" x="803" y="451"/>
<use href="#b126" x="825" y="451"/>
<use href="#b126" x="846" y="451"/>
<use href="#b126" x="867" y="451"/>
<use href="#b126" x="888" y="451"/>
<use href="#b126" x="910" y="451"/>
<use href="#b126" x="931" y="451"/>
<use href="#b126" x="952" y="451"/>
<use href="#b126" x="973" y="451"/>
<use href="#b126" x="995" y="451"/>
<use href="#b126" x="1016" y="451"/>
<use href="#b126" x="1037" y="451"/>
<use href="#b126" x="1058" y="451"/>
<use href="#b126" x="1080" y="451"/>
<use href="#b126" x="1101" y="451"/>
<use href="#b126" x="1122" y="451"/>
<use href="#b126" x="1143" y="451"/>
<use href="#b126" x="1165" y="451"/>
<use href="#b126" x="1186" y="451"/>
<use href="#b126" x="1207" y="451"/>
<use href="#b149" x="272" y="429"/>
<use href="#b150" x="293" y="429"/>
<use href="#b151" x="315" y="429"/>
<use href="#b148" x="336" y="429"/>
<use href="#b29" x="357" y="429"/>
<use href="#b68" x="378" y="429"/>
<use href="#b75" x="400" y="429"/>
<use href="#b85" x="421" y="429"/>
<use href="#b99" x="442" y="429"/>
<use href="#b113" x="463" y="429"/>
<use href="#b114" x="485" y="429"/>
<use href="#b114" x="506" y="429"/>
<use href="#b126" x="527" y="429"/>
<use href="#b126" x="548" y="429"/>
<use href="#b126" x="570" y="429"/>
<use href="#b126" x="591" y="429"/>
<use href="#b126" x="612" y="429"/>
<use href="#b126" x="633" y="429"/>
<use href="#b126" x="655" y="429"/>
<use href="#b126" x="676" y="429"/>
<use href="#b126" x="697" y="429"/>
<use href="#b126" x="718" y="429"/>
<use href="#b126" x="740" y="429"/>
<use href="#b126" x="761" y="429"/>
<use href="#b126" x="782" y="429"/>
<use href="#b126" x="803" y="429"/>
<use href="#b126" x="825" y="429"/>
<use href="#b126" x="846" y="429"/>
<use href="#b126" x="867" y="429"/>
<use href="#b126" x="888" y="429"/>
<use href="#b126" x="910" y="429"/>
<use href="#b126" x="931" y="429"/>
<use href="#b126" x="952" y="429"/>
<use href="#b126" x="973" y="429"/>
<use href="#b126" x="995" y="429"/>
<use href="#b126" x="1016" y="429"/>
<use href="#b126" x="1037" y="429"/>
<use href="#b126" x="1058" y="429"/>
<use href="#b126" x="1080" y="429"/>
<use href="#b126" x="1101" y="429"/>
<use href="#b126" x="1122" y="429"/>
<use href="#b126" x="1143" y="429"/>
<use href="#b126" x="1165" y="429"/>
<use href="#b126" x="1186" y="429"/>
<use href="#b126" x="1207" y="429"/>
<use href="#b146" x="272" y="408"/>
<use href="#b150" x="293" y="408"/>
<use href="#b151" x="315" y="408"/>
<use href="#b152" x="336" y="408"/>
<use href="#b29" x="357" y="408"/>
<use href="#b68" x="378" y="408"/>
<use href="#b68" x="400" y="408"/>
<use href="#b85" x="421" y="408"/>
<use href="#b99" x="442" y="408"/>
<use href="#b113" x="463" y="408"/>
<use href="#b113" x="485" y="408"/>
<use href="#b114" x="506" y="408"/>
<use href="#b126" x="527" y="408"/>
<use href="#b126" x="548" y="408"/>
<use href="#b126" x="570" y="408"/>
<use href="#b126" x="591" y="408"/>
<use href="#b126" x="612" y="408"/>
<use href="#b126" x="633" y="408"/>
<use href="#b126" x="655" y="408"/>
<use href="#b126" x="676" y="408"/>
<use href="#b126" x="697" y="408"/>
<use href="#b126" x="718" y="408"/>
<use href="#b126" x="740" y="408"/>
<use href="#b126" x="761" y="408"/>
<use href="#b126" x="782" y="408"/>
<use href="#b126" x="803" y="408"/>
<use href="#b126" x="825" y="408"/>
<use href="#b126" x="846" y="408"/>
<use href="#b126" x="867" y="408"/>
<use href="#b126" x="888" y="408"/>
<use href="#b126" x="910" y="408"/>
<use href="#b126" x="931" y="408"/>
<use href="#b126" x="952" y="408"/>
<use href="#b126" x="973" y="408"/>
<use href="#b126" x="995" y="408"/>
<use href="#b126" x="1016" y="408"/>
<use href="#b126" x="1037" y="408"/>
<use href="#b126" x="1058" y="408"/>
<use href="#b126" x="1080" y="408"/>
<use href="#b126" x="1101" y="408"/>
<use href="#b126" x="1122" y="408"/>
<use href="#b126" x="1143" y="408"/>
<use href="#b126" x="1165" y="408"/>
<use href="#b126" x="1186" y="408"/>
<use href="#b126" x="1207" y="408"/>
<use href="#b150" x="272" y="387"/>
<use href="#b147" x="293" y="387"/>
<use href="#b151" x="315" y="387"/>
<use href="#b152" x="336" y="387"/>
<use href="#b29" x="357" y="387"/>
<use href="#b30" x="378" y="387"/>
<use href="#b68" x="400" y="387"/>
<use href="#b85" x="421" y="387"/>
<use href="#b99" x="442" y="387"/>
<use href="#b113" x="463" y="387"/>
<use href="#b113" x="485" y="387"/>
<use href="#b113" x="506" y="387"/>
<use href="#b114" x="527" y="387"/>
<use href="#b126" x="548" y="387"/>
<use href="#b126" x="570" y="387"/>
<use href="#b126" x="591" y="387"/>
<use href="#b126" x="612" y="387"/>
<use href="#b126" x="633" y="387"/>
<use href="#b126" x="655" y="387"/>
<use href="#b126" x="676" y="387"/>
<use href="#b126" x="697" y="387"/>
<use href="#b126" x="718" y="387"/>
<use href="#b126" x="740" y="387"/>
<use href="#b126" x="761" y="387"/>
<use href="#b126" x="782" y="387"/>
<use href="#b126" x="803" y="387"/>
<use href="#b126" x="825" y="387"/>
<use href="#b126" x="846" y="387"/>
<use href="#b126" x="867" y="387"/>
<use href="#b126" x="888" y="387"/>
<use href="#b126" x="910" y="387"/>
<use href="#b126" x="931" y="387"/>
<use href="#b126" x="952" y="387"/>
<use href="#b126" x="973" y="387"/>
<use href="#b126" x="995" y="387"/>
<use href="#b126" x="1016" y="387"/>
<use href="#b126" x="1037" y="387"/>
<use href="#b126" x="1058" y="387"/>
<use href="#b126" x="1080" y="387"/>
<use href="#b126" x="1101" y="387"/>
<use href="#b126" x="1122" y="387"/>
<use href="#b126" x="1143" y="387"/>
<use href="#b126" x="1165" y="387"/>
<use href="#b126" x="1186" y="387"/>
<use href="#b126" x="1207" y="387"/>
<use href="#b150" x="272" y="366"/>
<use href="#b151" x="293" y="366"/>
<use href="#b151" x="315" y="366"/>
<use href="#b152" x="336" y="366"/>
<use href="#b29" x="357" y="366"/>
<use href="#b30" x="378" y="366"/>
<use href="#b68" x="400" y="366"/>
<use href="#b85" x="421" y="366"/>
<use href="#b95" x="442" y="366"/>
<use href="#b113" x="463" y="366"/>
<use href="#b113" x="485" y="366"/>
<use href="#b113" x="506" y="366"/>
<use href="#b113" x="527" y="366"/>
<use href="#b126" x="548" y="366"/>
<use href="#b126" x="570" y="366"/>
<use href="#b126" x="591" y="366"/>
<use href="#b126" x="612" y="366"/>
<use href="#b126" x="633" y="366"/>
<use href="#b126" x="655" y="366"/>
<use href="#b126" x="676" y="366"/>
<use href="#b126" x="697" y="366"/>
<use href="#b126" x="718" y="366"/>
<use href="#b126" x="740" y="366"/>
<use href="#b126" x="761" y="366"/>
<use href="#b126" x="782" y="366"/>
<use href="#b126" x="803" y="366"/>
<use href="#b126" x="825" y="366"/>
<use href="#b126" x="846" y="366"/>
<use href="#b126" x="867" y="366"/>
<use href="#b126" x="888" y="366"/>
<use href="#b126" x="910" y="366"/>
<use href="#b126" x="931" y="366"/>
<use href="#b126" x="952" y="366"/>
<use href="#b126" x="973" y="366"/>
<use href="#b126" x="995" y="366"/>
<use href="#b126" x="1016" y="366"/>
<use href="#b126" x="1037" y="366"/>
<use href="#b126" x="1058" y="366"/>
<use href="#b126" x="1080" y="366"/>
<use href="#b126" x="1101" y="366"/>
<use href="#b126" x="1122" y="366"/>
<use href="#b126" x="1143" y="366"/>
<use href="#b126" x="1165" y="366"/>
<use href="#b126" x="1186" y="366"/>
<use href="#b126" x="1207" y="366"/>
<use href="#b150" x="272" y="344"/>
<use href="#b151" x="293" y="344"/>
<use href="#b148" x="315" y="344"/>
<use href="#b152" x="336" y="344"/>
<use href="#b29" x="357" y="344"/>
<use href="#b30" x="378" y="344"/>
<use href="#b68" x="400" y="344"/>
<use href="#b85" x="421" y="344"/>
<use href="#b95" x="442" y="344"/>
<use href="#b113" x="463" y="344"/>
<use href="#b113" x="485" y="344"/>
<use href="#b113" x="506" y="344"/>
<use href="#b113" x="527" y="344"/>
<use href="#b113" x="548" y="344"/>
<use href="#b126" x="570" y="344"/>
<use href="#b126" x="591" y="344"/>
<use href="#b126" x="612" y="344"/>
<use href="#b126" x="633" y="344"/>
<use href="#b126" x="655" y="344"/>
<use href="#b126" x="676" y="344"/>
<use href="#b126" x="697" y="344"/>
<use href="#b126" x="718" y="344"/>
<use href="#b126" x="740" y="344"/>
<use href="#b126" x="761" y="344"/>
<use href="#b126" x="782" y="344"/>
<use href="#b126" x="803" y="344"/>
<use href="#b126" x="825" y="344"/>
<use href="#b126" x="846" y="344"/>
<use href="#b126" x="867" y="344"/>
<use href="#b126" x="888" y="344"/>
<use href="#b126" x="910" y="344"/>
<use href="#b126" x="931" y="344"/>
<use href="#b126" x="952" y="344"/>
<use href="#b126" x="973" y="344"/>
<use href="#b126" x="995" y="344"/>
<use href="#b126" x="1016" y="344"/>
<use href="#b126" x="1037" y="344"/>
<use href="#b126" x="1058" y="344"/>
<use href="#b126" x="1080" y="344"/>
<use href="#b126" x="1101" y="344"/>
<use href="#b126" x="1122" y="344"/>
<use href="#b126" x="1143" y="344"/>
<use href="#b126" x="1165" y="344"/>
<use href="#b126" x="1186" y="344"/>
<use href="#b126" x="1207" y="344"/>
<use href="#b147" x="272" y="323"/>
<use href="#b151" x="293" y="323"/>
<use href="#b148" x="315" y="323"/>
<use href="#b152" x="336" y="323"/>
<use href="#b29" x="357" y="323"/>
<use href="#b30" x="378" y="323"/>
<use href="#b68" x="400" y="323"/>
<use href="#b85" x="421" y="323"/>
<use href="#b95" x="442" y="323"/>
<use href="#b99" x="463" y="323"/>
<use href="#b113" x="485" y="323"/>
<use href="#b113" x="506" y="323"/>
<use href="#b113" x="527" y="323"/>
<use href="#b113" x="548" y="323"/>
<use href="#b113" x="570" y="323"/>
<use href="#b125" x="591" y="323"/>
<use href="#b125" x="612" y="323"/>
<use href="#b125" x="633" y="323"/>
<use href="#b125" x="655" y="323"/>
<use href="#b125" x="676" y="323"/>
<use href="#b126" x="697" y="323"/>
<use href="#b126" x="718" y="323"/>
<use href="#b126" x="740" y="323"/>
<use href="#b126" x="761" y="323"/>
<use href="#b126" x="782" y="323"/>
<use href="#b126" x="803" y="323"/>
<use href="#b126" x="825" y="323"/>
<use href="#b126" x="846" y="323"/>
<use href="#b126" x="867" y="323"/>
<use href="#b126" x="888" y="323"/>
<use href="#b126" x="910" y="323"/>
<use href="#b126" x="931" y="323"/>
<use href="#b126" x="952" y="323"/>
<use href="#b126" x="973" y="323"/>
<use href="#b126" x="995" y="323"/>
<use href="#b126" x="1016" y="323"/>
<use href="#b126" x="1037" y="323"/>
<use href="#b126" x="1058" y="323"/>
<use href="#b126" x="1080" y="323"/>
<use href="#b126" x="1101" y="323"/>
<use href="#b126" x="1122" y="323"/>
<use href="#b126" x="1143" y="323"/>
<use href="#b126" x="1165" y="323"/>
<use href="#b126" x="1186" y="323"/>
<use href="#b126" x="1207" y="323"/>
<use href="#b151" x="272" y="302"/>
<use href="#b148" x="293" y="302"/>
<use href="#b152" x="315" y="302"/>
<use href="#b152" x="336" y="302"/>
<use href="#b29" x="357" y="302"/>
<use href="#b30" x="378" y="302"/>
<use href="#b68" x="400" y="302"/>
<use href="#b85" x="421" y="302"/>
<use href="#b95" x="442" y="302"/>
<use href="#b95" x="463" y="302"/>
<use href="#b113" x="485" y="302"/>
<use href="#b113" x="506" y="302"/>
<use href="#b113" x="527" y="302"/>
<use href="#b113" x="548" y="302"/>
<use href="#b113" x="570" y="302"/>
<use href="#b125" x="591" y="302"/>
<use href="#b125" x="612" y="302"/>
<use href="#b125" x="633" y="302"/>
<use href="#b125" x="655" y="302"/>
<use href="#b125" x="676" y="302"/>
<use href="#b125" x="697" y="302"/>
<use href="#b126" x="718" y="302"/>
<use href="#b126" x="740" y="302"/>
<use href="#b126" x="761" y="302"/>
<use href="#b126" x="782" y="302"/>
<use href="#b126" x="803" y="302"/>
<use href="#b126" x="825" y="302"/>
<use href="#b126" x="846" y="302"/>
<use href="#b126" x="867" y="302"/>
<use href="#b126" x="888" y="302"/>
<use href="#b126" x="910" y="302"/>
<use href="#b126" x="931" y="302"/>
<use href="#b126" x="952" y="302"/>
<use href="#b126" x="973" y="302"/>
<use href="#b126" x="995" y="302"/>
<use href="#b126" x="1016" y="302"/>
<use href="#b126" x="1037" y="302"/>
<use href="#b126" x="1058" y="302"/>
<use href="#b126" x="1080" y="302"/>
<use href="#b126" x="1101" y="302"/>
<use href="#b126" x="1122" y="302"/>
<use href="#b126" x="1143" y="302"/>
<use href="#b126" x="1165" y="302"/>
<use href="#b126" x="1186" y="302"/>
<use href="#b126" x="1207" y="302"/>
<use href="#b151" x="272" y="281"/>
<use href="#b148" x="293" y="281"/>
<use href="#b152" x="315" y="281"/>
<use href="#b152" x="336" y="281"/>
<use href="#b29" x="357" y="281"/>
<use href="#b30" x="378" y="281"/>
<use href="#b68" x="400" y="281"/>
<use href="#b85" x="421" y="281"/>
<use href="#b95" x="442" y="281"/>
<use href="#b95" x="463" y="281"/>
<use href="#b99" x="485" y="281"/>
<use href="#b113" x="506" y="281"/>
<use href="#b113" x="527" y="281"/>
<use href="#b113" x="548" y="281"/>
<use href="#b113" x="570" y="281"/>
<use href="#b113" x="591" y="281"/>
<use href="#b125" x="612" y="281"/>
<use href="#b125" x="633" y="281"/>
<use href="#b125" x="655" y="281"/>
<use href="#b125" x="676" y="281"/>
<use href="#b125" x="697" y="281"/>
<use href="#b125" x="718" y="281"/>
<use href="#b126" x="740" y="281"/>
<use href="#b126" x="761" y="281"/>
<use href="#b126" x="782" y="281"/>
<use href="#b126" x="803" y="281"/>
<use href="#b126" x="825" y="281"/>
<use href="#b126" x="846" y="281"/>
<use href="#b126" x="867" y="281"/>
<use href="#b126" x="888" y="281"/>
<use href="#b126" x="910" y="281"/>
<use href="#b126" x="931" y="281"/>
<use href="#b126" x="952" y="281"/>
<use href="#b126" x="973" y="281"/>
<use href="#b126" x="995" y="281"/>
<use href="#b126" x="1016" y="281"/>
<use href="#b126" x="1037" y="281"/>
<use href="#b126" x="1058" y="281"/>
<use href="#b126" x="1080" y="281"/>
<use href="#b126" x="1101" y="281"/>
<use href="#b126" x="1122" y="281"/>
<use href="#b126" x="1143" y="281"/>
<use href="#b126" x="1165" y="281"/>
<use href="#b126" x="1186" y="281"/>
<use href="#b126" x="1207" y="281"/>
<use href="#b148" x="272" y="260"/>
<use href="#b152" x="293" y="260"/>
<use href="#b152" x="315" y="260"/>
<use href="#b29" x="336" y="260"/>
<use href="#b29" x="357" y="260"/>
<use href="#b30" x="378" y="260"/>
<use href="#b68" x="400" y="260"/>
<use href="#b82" x="421" y="260"/>
<use href="#b85" x="442" y="260"/>
<use href="#b95" x="463" y="260"/>
<use href="#b95" x="485" y="260"/>
<use href="#b113" x="506" y="260"/>
<use href="#b113" x="527" y="260"/>
<use href="#b113" x="548" y="260"/>
<use href="#b113" x="570" y="260"/>
<use href="#b113" x="591" y="260"/>
<use href="#b125" x="612" y="260"/>
<use href="#b125" x="633" y="260"/>
<use href="#b125" x="655" y="260"/>
<use href="#b125" x="676" y="260"/>
<use href="#b125" x="697" y="260"/>
<use href="#b125" x="718" y="260"/>
<use href="#b126" x="740" y="260"/>
<use href="#b126" x="761" y="260"/>
<use href="#b126" x="782" y="260"/>
<use href="#b126" x="803" y="260"/>
<use href="#b126" x="825" y="260"/>
<use href="#b126" x="846" y="260"/>
<use href="#b126" x="867" y="260"/>
<use href="#b126" x="888" y="260"/>
<use href="#b126" x="910" y="260"/>
<use href="#b126" x="931" y="260"/>
<use href="#b126" x="952" y="260"/>
<use href="#b126" x="973" y="260"/>
<use href="#b126" x="995" y="260"/>
<use href="#b126" x="1016" y="260"/>
<use href="#b126" x="1037" y="260"/>
<use href="#b126" x="1058" y="260"/>
<use href="#b126" x="1080" y="260"/>
<use href="#b126" x="1101" y="260"/>
<use href="#b126" x="1122" y="260"/>
<use href="#b126" x="1143" y="260"/>
<use href="#b126" x="1165" y="260"/>
<use href="#b126" x="1186" y="260"/>
<use href="#b126" x="1207" y="260"/>
</g>
<path d="M331.8,308.1L344.4,308.1L338.1,319.4ZM443,494.1L455.6,494.1L449.3,505.4ZM443.5,530L456.1,530L449.8,541.3ZM402.9,643.5L415.5,643.5L409.2,654.8ZM455.5,692.1L468.1,692.1L461.8,703.4ZM736.5,236.5L749.1,236.5L742.8,247.8ZM675,502.1L687.6,502.1L681.3,513.4ZM647.3,514.1L659.9,514.1L653.6,525.4ZM777.9,496.8L790.5,496.8L784.2,508.1ZM683.3,532.5L695.9,532.5L689.6,543.8ZM691.5,534.9L704.1,534.9L697.8,546.2ZM705.7,582.5L718.3,582.5L712,593.8ZM715.9,618.1L728.5,618.1L722.2,629.4ZM741,624.1L753.6,624.1L747.3,635.4ZM700.7,661.5L713.3,661.5L707,672.8ZM628.7,673.5L641.3,673.5L635,684.8ZM619.4,700.1L632,700.1L625.7,711.4ZM617.5,705.1L630.1,705.1L623.8,716.4ZM635,716.5L647.6,716.5L641.3,727.8ZM692.7,733.5L705.3,733.5L699,744.8ZM697,737.3L709.6,737.3L703.3,748.6ZM744.7,731.5L757.3,731.5L751,742.8ZM762.2,717.5L774.8,717.5L768.5,728.8ZM764.7,725.5L777.3,725.5L771,736.8ZM702.7,778.5L715.3,778.5L709,789.8ZM844.3,491.5L856.9,491.5L850.6,502.8ZM917.7,494.8L930.3,494.8L924,506.1ZM889.3,523.5L901.9,523.5L895.6,534.8ZM908.5,551.5L921.1,551.5L914.8,562.8ZM935.7,556.9L948.3,556.9L942,568.2ZM937.5,571.5L950.1,571.5L943.8,582.8ZM855.5,606.9L868.1,606.9L861.8,618.2ZM868.5,622.1L881.1,622.1L874.8,633.4ZM892.3,620.1L904.9,620.1L898.6,631.4ZM951.7,652.9L964.3,652.9L958,664.2ZM877.7,661.5L890.3,661.5L884,672.8ZM928.7,684.1L941.3,684.1L935,695.4ZM901,738.5L913.6,738.5L907.3,749.8ZM860.7,744.5L873.3,744.5L867,755.8ZM906.7,779L919.3,779L913,790.3ZM888.7,353.9L901.3,353.9L895,365.2ZM1031,343.3L1043.6,343.3L1037.3,354.6ZM1018.7,477.3L1031.3,477.3L1025,488.6ZM1061.5,426.1L1074.1,426.1L1067.8,437.4ZM369.7,944.5L382.3,944.5L376,955.8ZM539.7,840.1L552.3,840.1L546,851.4ZM556.7,789.5L569.3,789.5L563,800.8ZM562.7,811.5L575.3,811.5L569,822.8ZM678.3,794.1L690.9,794.1L684.6,805.4ZM781.4,917.1L794,917.1L787.7,928.4ZM753.7,959.1L766.3,959.1L760,970.4ZM767,971.1L779.6,971.1L773.3,982.4ZM947.2,801.1L959.8,801.1L953.5,812.4ZM901.2,969.1L913.8,969.1L907.5,980.4ZM928.3,1039.1L940.9,1039.1L934.6,1050.4ZM1009.1,1164.1L1021.7,1164.1L1015.4,1175.4ZM655.3,1067.1L667.9,1067.1L661.6,1078.4Z" fill="none" stroke="#000" stroke-width="1"/>
<g fill="none" stroke="#000" stroke-width="1">
<rect x="271.5" y="239.5" width="956" height="1020"/>
<path d="M298.1,1259.5v-10M298.1,239.5v10M324.6,1259.5v-10M324.6,239.5v10M351.2,1259.5v-10M351.2,239.5v10M377.7,1259.5v-20M377.7,239.5v20M404.3,1259.5v-10M404.3,239.5v10M430.8,1259.5v-10M430.8,239.5v10M457.4,1259.5v-10M457.4,239.5v10M483.9,1259.5v-20M483.9,239.5v20M510.5,1259.5v-10M510.5,239.5v10M537.1,1259.5v-10M537.1,239.5v10M563.6,1259.5v-10M563.6,239.5v10M590.2,1259.5v-20M590.2,239.5v20M616.7,1259.5v-10M616.7,239.5v10M643.3,1259.5v-10M643.3,239.5v10M669.8,1259.5v-10M669.8,239.5v10M696.4,1259.5v-20M696.4,239.5v20M722.9,1259.5v-10M722.9,239.5v10M749.5,1259.5v-10M749.5,239.5v10M776.1,1259.5v-10M776.1,239.5v10M802.6,1259.5v-20M802.6,239.5v20M829.2,1259.5v-10M829.2,239.5v10M855.7,1259.5v-10M855.7,239.5v10M882.3,1259.5v-10M882.3,239.5v10M908.8,1259.5v-20M908.8,239.5v20M935.4,1259.5v-10M935.4,239.5v10M961.9,1259.5v-10M961.9,239.5v10M988.5,1259.5v-10M988.5,239.5v10M1015.1,1259.5v-20M1015.1,239.5v20M1041.6,1259.5v-10M1041.6,239.5v10M1068.2,1259.5v-10M1068.2,239.5v10M1094.7,1259.5v-10M1094.7,239.5v10M1121.3,1259.5v-20M1121.3,239.5v20M1147.8,1259.5v-10M1147.8,239.5v10M1174.4,1259.5v-10M1174.4,239.5v10M1200.9,1259.5v-10M1200.9,239.5v10M271.5,1232.9h10M1227.5,1232.9h-10M271.5,1206.4h10M1227.5,1206.4h-10M271.5,1179.8h10M1227.5,1179.8h-10M271.5,1153.3h20M1227.5,1153.3h-20M271.5,1126.7h10M1227.5,1126.7h-10M271.5,1100.2h10M1227.5,1100.2h-10M271.5,1073.6h10M1227.5,1073.6h-10M271.5,1047.1h20M1227.5,1047.1h-20M271.5,1020.5h10M1227.5,1020.5h-10M271.5,993.9h10M1227.5,993.9h-10M271.5,967.4h10M1227.5,967.4h-10M271.5,940.8h20M1227.5,940.8h-20M271.5,914.3h10M1227.5,914.3h-10M271.5,887.7h10M1227.5,887.7h-10M271.5,861.2h10M1227.5,861.2h-10M271.5,834.6h20M1227.5,834.6h-20M271.5,808.1h10M1227.5,808.1h-10M271.5,781.5h10M1227.5,781.5h-10M271.5,754.9h10M1227.5,754.9h-10M271.5,728.4h20M1227.5,728.4h-20M271.5,701.8h10M1227.5,701.8h-10M271.5,675.3h10M1227.5,675.3h-10M271.5,648.7h10M1227.5,648.7h-10M271.5,622.2h20M1227.5,622.2h-20M271.5,595.6h10M1227.5,595.6h-10M271.5,569.1h10M1227.5,569.1h-10M271.5,542.5h10M1227.5,542.5h-10M271.5,515.9h20M1227.5,515.9h-20M271.5,489.4h10M1227.5,489.4h-10M271.5,462.8h10M1227.5,462.8h-10M271.5,436.3h10M1227.5,436.3h-10M271.5,409.7h20M1227.5,409.7h-20M271.5,383.2h10M1227.5,383.2h-10M271.5,356.6h10M1227.5,356.6h-10M271.5,330.1h10M1227.5,330.1h-10M271.5,303.5h20M1227.5,303.5h-20M271.5,276.9h10M1227.5,276.9h-10M271.5,250.4h10M1227.5,250.4h-10"/>
</g>
<rect x="1255.5" y="270.5" width="39" height="63.9" fill="#b40000" stroke="#000" stroke-width="1"/>
<rect x="1255.5" y="334.4" width="39" height="63.9" fill="#cd1405" stroke="#000" stroke-width="1"/>
<rect x="1255.5" y="398.2" width="39" height="63.9" fill="#e61e0a" stroke="#000" stroke-width="1"/>
<rect x="1255.5" y="462.1" width="39" height="63.9" fill="#ff320a" stroke="#000" stroke-width="1"/>
<rect x="1255.5" y="526" width="39" height="63.9" fill="#ff640a" stroke="#000" stroke-width="1"/>
<rect x="1255.5" y="589.8" width="39" height="63.9" fill="#ff8c0f" stroke="#000" stroke-width="1"/>
<rect x="1255.5" y="653.7" width="39" height="63.9" fill="#ffb419" stroke="#000" stroke-width="1"/>
<rect x="1255.5" y="717.6" width="39" height="63.9" fill="#ffd71e" stroke="#000" stroke-width="1"/>
<rect x="1255.5" y="781.4" width="39" height="63.9" fill="#ebff32" stroke="#000" stroke-width="1"/>
<rect x="1255.5" y="845.3" width="39" height="63.9" fill="#d2ff6e" stroke="#000" stroke-width="1"/>
<rect x="1255.5" y="909.2" width="39" height="63.9" fill="#d2ffa0" stroke="#000" stroke-width="1"/>
<rect x="1255.5" y="973" width="39" height="63.9" fill="#d7ffc8" stroke="#000" stroke-width="1"/>
<rect x="1255.5" y="1036.9" width="39" height="63.9" fill="#d7e1ff" stroke="#000" stroke-width="1"/>
<rect x="1255.5" y="1100.8" width="39" height="63.9" fill="#d7efff" stroke="#000" stroke-width="1"/>
<rect x="1255.5" y="1164.6" width="39" height="63.9" fill="#e1f7ff" stroke="#000" stroke-width="1"/>
<path d="M307.1,37.8L305.7,35.1L303,32.4L300.2,31.1L294.6,31.1L291.9,32.4L289.1,35.1L287.7,37.8L286.3,41.8L286.3,48.4L287.7,52.4L289.1,55.1L291.9,57.8L294.6,59.1L300.2,59.1L303,57.8L305.7,55.1L307.1,52.4M312.7,59.1L323.8,31.1L334.9,59.1M316.9,49.8L330.7,49.8M359.9,35.1L357.1,32.4L353,31.1L347.4,31.1L343.3,32.4L340.5,35.1L340.5,37.8L341.9,40.4L343.3,41.8L346,43.1L354.4,45.8L357.1,47.1L358.5,48.4L359.9,51.1L359.9,55.1L357.1,57.8L353,59.1L347.4,59.1L343.3,57.8L340.5,55.1M365.5,59.1L376.6,31.1L387.7,59.1M369.6,49.8L383.5,49.8" fill="none" stroke="#000" stroke-width="1" stroke-linecap="square"/>
<path d="M437.9,41.8L436.6,37.8L435.2,35.1L432.6,32.4L428.6,31.1L419.3,31.1L419.3,59.1L428.6,59.1L432.6,57.8L435.2,55.1L436.6,52.4L437.9,48.4L437.9,41.8M464.5,31.1L447.2,31.1L447.2,59.1M447.2,44.4L457.8,44.4M468.4,31.1L475.1,59.1L481.7,31.1L488.4,59.1L495,31.1" fill="none" stroke="#000" stroke-width="1" stroke-linecap="square"/>
<path d="M543.7,49.8L524.8,49.8L537.4,31.1L537.4,59.1M566.4,53.8L563.9,57.8L560.1,59.1L557.6,59.1L553.8,57.8L551.3,53.8L550,47.1L550,43.1L551.3,36.4L553.8,32.4L557.6,31.1L560.1,31.1L563.9,32.4L566.4,36.4L567.7,43.1L567.7,47.1L566.4,53.8M591.7,53.8L589.1,57.8L585.3,59.1L582.8,59.1L579,57.8L576.5,53.8L575.3,47.1L575.3,43.1L576.5,36.4L579,32.4L582.8,31.1L585.3,31.1L589.1,32.4L591.7,36.4L592.9,43.1L592.9,47.1L591.7,53.8M601.7,40.4L601.7,59.1M629.5,59.1L629.5,45.8L628.2,41.8L625.7,40.4L621.9,40.4L619.4,41.8L615.6,45.8L615.6,59.1M601.7,45.8L605.5,41.8L608.1,40.4L611.8,40.4L614.4,41.8L615.6,45.8" fill="none" stroke="#000" stroke-width="1" stroke-linecap="square"/>
<path d="M672.8,68.4L670.2,65.8L667.6,61.8L665.1,56.4L663.8,49.8L663.8,44.4L665.1,37.8L667.6,32.4L670.2,28.4L672.8,25.8M699.7,49.8L680.5,49.8L693.3,31.1L693.3,59.1M706.1,53.8L707.4,56.4L708.6,57.8L712.5,59.1L716.3,59.1L720.2,57.8L722.7,55.1L724,51.1L724,48.4L722.7,44.4L720.2,41.8L716.3,40.4L712.5,40.4L708.6,41.8L707.4,43.1L708.6,31.1L721.4,31.1M748.3,53.8L745.8,57.8L741.9,59.1L739.4,59.1L735.5,57.8L733,53.8L731.7,47.1L731.7,43.1L733,36.4L735.5,32.4L739.4,31.1L741.9,31.1L745.8,32.4L748.3,36.4L749.6,43.1L749.6,47.1L748.3,53.8M757.3,40.4L771.4,59.1M757.3,59.1L771.4,40.4M798.3,49.8L779.1,49.8L791.9,31.1L791.9,59.1M812.4,43.1L817.5,41.8L820.1,40.4L821.4,37.8L821.4,35.1L820.1,32.4L816.2,31.1L811.1,31.1L807.3,32.4L806,35.1L806,37.8L807.3,40.4L809.8,41.8L815,43.1L818.8,44.4L821.4,47.1L822.6,49.8L822.6,53.8L821.4,56.4L820.1,57.8L816.2,59.1L811.1,59.1L807.3,57.8L806,56.4L804.7,53.8L804.7,49.8L806,47.1L808.5,44.4L812.4,43.1M847,53.8L844.4,57.8L840.6,59.1L838,59.1L834.2,57.8L831.6,53.8L830.3,47.1L830.3,43.1L831.6,36.4L834.2,32.4L838,31.1L840.6,31.1L844.4,32.4L847,36.4L848.3,43.1L848.3,47.1L847,53.8M855.9,40.4L870,59.1M855.9,59.1L870,40.4M895.7,59.1L877.7,59.1L890.5,45.8L893.1,41.8L894.4,39.1L894.4,36.4L893.1,33.8L891.8,32.4L889.2,31.1L884.1,31.1L881.6,32.4L880.3,33.8L879,36.4L879,37.8M903.3,53.8L904.6,56.4L905.9,57.8L909.7,59.1L913.6,59.1L917.4,57.8L920,55.1L921.3,51.1L921.3,48.4L920,44.4L917.4,41.8L913.6,40.4L909.7,40.4L905.9,41.8L904.6,43.1L905.9,31.1L918.7,31.1M930.2,64.4L931.5,63.1L932.8,60.4L932.8,57.8L931.5,56.4L930.2,57.8L931.5,59.1L932.8,57.8" fill="none" stroke="#000" stroke-width="1" stroke-linecap="square"/>
<path d="M982.4,31.1L982.4,59.1M982.4,55.1L979.9,57.8L977.3,59.1L973.5,59.1L971,57.8L968.5,55.1L967.2,51.1L967.2,48.4L968.5,44.4L971,41.8L973.5,40.4L977.3,40.4L979.9,41.8L982.4,44.4M991.3,40.4L1005.2,59.1M991.3,59.1L1005.2,40.4M1014.1,43.1L1036.9,43.1M1014.1,51.1L1036.9,51.1M1062.2,53.8L1059.7,57.8L1055.9,59.1L1053.4,59.1L1049.6,57.8L1047,53.8L1045.8,47.1L1045.8,43.1L1047,36.4L1049.6,32.4L1053.4,31.1L1055.9,31.1L1059.7,32.4L1062.2,36.4L1063.5,43.1L1063.5,47.1L1062.2,53.8M1073.7,59.1L1072.4,57.8L1073.7,56.4L1074.9,57.8L1073.7,59.1M1102.8,49.8L1083.8,49.8L1096.5,31.1L1096.5,59.1" fill="none" stroke="#000" stroke-width="1" stroke-linecap="square"/>
<path d="M1133.8,31.1L1133.8,59.1M1133.8,53.8L1147.1,40.4M1139.1,48.4L1148.5,59.1M1156.5,40.4L1156.5,59.1M1185.8,59.1L1185.8,45.8L1184.5,41.8L1181.8,40.4L1177.8,40.4L1175.2,41.8L1171.2,45.8L1171.2,59.1M1156.5,45.8L1160.5,41.8L1163.1,40.4L1167.1,40.4L1169.8,41.8L1171.2,45.8M1195.2,25.8L1197.8,28.4L1200.5,32.4L1203.2,37.8L1204.5,44.4L1204.5,49.8L1203.2,56.4L1200.5,61.8L1197.8,65.8L1195.2,68.4" fill="none" stroke="#000" stroke-width="1" stroke-linecap="square"/>
<path d="M387.2,116.3L397.7,88.3L408.2,116.3M391.1,107L404.2,107M414.7,97.6L414.7,116.3M414.7,103L418.6,99L421.3,97.6L425.2,97.6L427.8,99L429.1,103L429.1,116.3M454,97.6L454,116.3M454,112.3L451.4,115L448.8,116.3L444.8,116.3L442.2,115L439.6,112.3L438.3,108.3L438.3,105.6L439.6,101.6L442.2,99L444.8,97.6L448.8,97.6L451.4,99L454,101.6M464.5,88.3L464.5,116.3M472.4,97.6L480.2,116.3L488.1,97.6M471.1,125.6L472.4,125.6L475,124.3L477.6,121.6L480.2,116.3M509,101.6L507.7,99L503.8,97.6L499.9,97.6L495.9,99L494.6,101.6L495.9,104.3L498.6,105.6L505.1,107L507.7,108.3L509,111L509,112.3L507.7,115L503.8,116.3L499.9,116.3L495.9,115L494.6,112.3M518.2,97.6L518.2,116.3M518.2,89.6L516.9,88.3L518.2,87L519.5,88.3L518.2,89.6M541.8,101.6L540.5,99L536.6,97.6L532.6,97.6L528.7,99L527.4,101.6L528.7,104.3L531.3,105.6L537.9,107L540.5,108.3L541.8,111L541.8,112.3L540.5,115L536.6,116.3L532.6,116.3L528.7,115L527.4,112.3" fill="none" stroke="#000" stroke-width="1" stroke-linecap="square"/>
<path d="M583.4,88.3L581,88.3L578.6,89.6L577.4,93.6L577.4,116.3M573.8,97.6L582.2,97.6M603.7,112.3L601.3,115L598.9,116.3L595.3,116.3L592.9,115L590.5,112.3L589.3,108.3L589.3,105.6L590.5,101.6L592.9,99L595.3,97.6L598.9,97.6L601.3,99L603.7,101.6L604.9,105.6L604.9,108.3L603.7,112.3M613.2,97.6L613.2,116.3M613.2,105.6L614.4,101.6L616.8,99L619.2,97.6L622.8,97.6" fill="none" stroke="#000" stroke-width="1" stroke-linecap="square"/>
<path d="M670.4,116.3L653.8,116.3L665.7,103L668,99L669.2,96.3L669.2,93.6L668,91L666.8,89.6L664.5,88.3L659.7,88.3L657.4,89.6L656.2,91L655,93.6L655,95M681.1,93.6L683.4,92.3L687,88.3L687,116.3M717.8,116.3L701.2,116.3L717.8,88.3L701.2,88.3" fill="none" stroke="#000" stroke-width="1" stroke-linecap="square"/>
<path d="M759.4,88.3L759.4,116.3M750.5,88.3L768.3,88.3M774.7,88.3L774.7,116.3M774.7,103L778.5,99L781,97.6L784.8,97.6L787.4,99L788.6,103L788.6,116.3M812.8,97.6L812.8,116.3M798.8,97.6L798.8,111L800.1,115L802.6,116.3L806.4,116.3L809,115L812.8,111" fill="none" stroke="#000" stroke-width="1" stroke-linecap="square"/>
<path d="M844.5,93.6L847,92.3L850.8,88.3L850.8,116.3M883.5,116.3L865.9,116.3L878.5,103L881,99L882.2,96.3L882.2,93.6L881,91L879.7,89.6L877.2,88.3L872.2,88.3L869.7,89.6L868.4,91L867.1,93.6L867.1,95" fill="none" stroke="#000" stroke-width="1" stroke-linecap="square"/>
<path d="M928,88.3L928,109.6L926.8,113.6L925.5,115L923,116.3L920.5,116.3L918,115L916.8,113.6L915.5,109.6L915.5,107M951.8,97.6L951.8,116.3M951.8,112.3L949.2,115L946.8,116.3L943,116.3L940.5,115L938,112.3L936.8,108.3L936.8,105.6L938,101.6L940.5,99L943,97.6L946.8,97.6L949.2,99L951.8,101.6M961.8,97.6L961.8,116.3M961.8,103L965.5,99L968,97.6L971.8,97.6L974.2,99L975.5,103L975.5,116.3" fill="none" stroke="#000" stroke-width="1" stroke-linecap="square"/>
<path d="M1027.6,116.3L1009.8,116.3L1022.5,103L1025,99L1026.3,96.3L1026.3,93.6L1025,91L1023.8,89.6L1021.2,88.3L1016.2,88.3L1013.6,89.6L1012.3,91L1011.1,93.6L1011.1,95M1051.7,111L1049.2,115L1045.4,116.3L1042.8,116.3L1039,115L1036.5,111L1035.2,104.3L1035.2,100.3L1036.5,93.6L1039,89.6L1042.8,88.3L1045.4,88.3L1049.2,89.6L1051.7,93.6L1053,100.3L1053,104.3L1051.7,111M1078.4,116.3L1060.6,116.3L1073.3,103L1075.9,99L1077.1,96.3L1077.1,93.6L1075.9,91L1074.6,89.6L1072,88.3L1067,88.3L1064.4,89.6L1063.2,91L1061.9,93.6L1061.9,95M1088.6,88.3L1102.5,88.3L1094.9,99L1098.7,99L1101.3,100.3L1102.5,101.6L1103.8,105.6L1103.8,108.3L1102.5,112.3L1100,115L1096.2,116.3L1092.4,116.3L1088.6,115L1087.3,113.6L1086,111" fill="none" stroke="#000" stroke-width="1" stroke-linecap="square"/>
<path d="M652.1,182.1L641.3,182.1L652.1,166.9L641.3,166.9M657.6,173.4L671.5,173.4M657.6,177.8L671.5,177.8M676.9,179.2L677.7,180.7L678.5,181.4L680.8,182.1L683.1,182.1L685.5,181.4L687,179.9L687.8,177.8L687.8,176.3L687,174.1L685.5,172.7L683.1,172L680.8,172L678.5,172.7L677.7,173.4L678.5,166.9L686.2,166.9M694,182.1L693.2,181.4L694,180.7L694.7,181.4L694,182.1M710.2,179.2L708.7,181.4L706.4,182.1L704.8,182.1L702.5,181.4L700.9,179.2L700.2,175.6L700.2,173.4L700.9,169.8L702.5,167.6L704.8,166.9L706.4,166.9L708.7,167.6L710.2,169.8L711,173.4L711,175.6L710.2,179.2M725.7,179.2L724.2,181.4L721.9,182.1L720.3,182.1L718,181.4L716.4,179.2L715.7,175.6L715.7,173.4L716.4,169.8L718,167.6L720.3,166.9L721.9,166.9L724.2,167.6L725.7,169.8L726.5,173.4L726.5,175.6L725.7,179.2M741.2,179.2L739.7,181.4L737.4,182.1L735.8,182.1L733.5,181.4L731.9,179.2L731.2,175.6L731.2,173.4L731.9,169.8L733.5,167.6L735.8,166.9L737.4,166.9L739.7,167.6L741.2,169.8L742,173.4L742,175.6L741.2,179.2" fill="none" stroke="#000" stroke-width="1" stroke-linecap="square"/>
<path d="M760,166.9L760,182.1M760,179.2L767.9,172M763.2,176.3L768.7,182.1M773.5,172L773.5,182.1M791,182.1L791,174.9L790.2,172.7L788.6,172L786.2,172L784.6,172.7L782.3,174.9L782.3,182.1M773.5,174.9L775.9,172.7L777.5,172L779.9,172L781.5,172.7L782.3,174.9" fill="none" stroke="#000" stroke-width="1" stroke-linecap="square"/>
<path d="M810.2,182.1L816.7,166.9L823.2,182.1M812.6,177L820.7,177M838.6,170.5L837.8,169.1L836.2,167.6L834.5,166.9L831.3,166.9L829.7,167.6L828,169.1L827.2,170.5L826.4,172.7L826.4,176.3L827.2,178.5L828,179.9L829.7,181.4L831.3,182.1L834.5,182.1L836.2,181.4L837.8,179.9L838.6,178.5L838.6,176.3L834.5,176.3M844.3,166.9L844.3,182.1L854,182.1" fill="none" stroke="#000" stroke-width="1" stroke-linecap="square"/>
<path d="M453.3,225.3L443.5,225.3L450.5,217.9L451.9,215.7L452.6,214.2L452.6,212.8L451.9,211.3L451.2,210.5L449.8,209.8L447,209.8L445.6,210.5L444.9,211.3L444.2,212.8L444.2,213.5M459.5,212.8L460.9,212L463,209.8L463,225.3M472.8,216.4L472.1,215.7L472.8,215L473.5,215.7L472.8,216.4M472.8,225.3L472.1,224.6L472.8,223.8L473.5,224.6L472.8,225.3" fill="none" stroke="#000" stroke-width="1" stroke-linecap="square"/>
<path d="M483.4,209.8L492.5,209.8L487.5,215.7L490,215.7L491.7,216.4L492.5,217.2L493.4,219.4L493.4,220.9L492.5,223.1L490.9,224.6L488.4,225.3L485.9,225.3L483.4,224.6L482.5,223.8L481.7,222.3M509.2,222.3L507.5,224.6L505,225.3L503.3,225.3L500.8,224.6L499.2,222.3L498.3,218.7L498.3,216.4L499.2,212.8L500.8,210.5L503.3,209.8L505,209.8L507.5,210.5L509.2,212.8L510,216.4L510,218.7L509.2,222.3" fill="none" stroke="#000" stroke-width="1" stroke-linecap="square"/>
<path d="M539.8,225.3L528.8,225.3L539.8,209.8L528.8,209.8" fill="none" stroke="#000" stroke-width="1" stroke-linecap="square"/>
<path d="M564.5,209.8L564.5,225.3M559.3,209.8L569.8,209.8M573.5,209.8L573.5,225.3M573.5,217.9L575.8,215.7L577.3,215L579.5,215L581,215.7L581.8,217.9L581.8,225.3M596,215L596,225.3M587.8,215L587.8,222.3L588.5,224.6L590,225.3L592.3,225.3L593.8,224.6L596,222.3" fill="none" stroke="#000" stroke-width="1" stroke-linecap="square"/>
<path d="M616.8,212.8L618.2,212L620.3,209.8L620.3,225.3M638.3,225.3L628.6,225.3L635.5,217.9L636.9,215.7L637.6,214.2L637.6,212.8L636.9,211.3L636.2,210.5L634.8,209.8L632.1,209.8L630.7,210.5L630,211.3L629.3,212.8L629.3,213.5" fill="none" stroke="#000" stroke-width="1" stroke-linecap="square"/>
<path d="M665.8,209.8L665.8,221.6L665.1,223.8L664.3,224.6L662.9,225.3L661.4,225.3L660,224.6L659.2,223.8L658.5,221.6L658.5,220.1M679.6,215L679.6,225.3M679.6,223.1L678.2,224.6L676.7,225.3L674.5,225.3L673.1,224.6L671.6,223.1L670.9,220.9L670.9,219.4L671.6,217.2L673.1,215.7L674.5,215L676.7,215L678.2,215.7L679.6,217.2M685.5,215L685.5,225.3M685.5,217.9L687.7,215.7L689.1,215L691.3,215L692.8,215.7L693.5,217.9L693.5,225.3" fill="none" stroke="#000" stroke-width="1" stroke-linecap="square"/>
<path d="M725,225.3L714.3,225.3L721.9,217.9L723.5,215.7L724.2,214.2L724.2,212.8L723.5,211.3L722.7,210.5L721.2,209.8L718.1,209.8L716.6,210.5L715.8,211.3L715.1,212.8L715.1,213.5M739.5,222.3L738,224.6L735.7,225.3L734.2,225.3L731.9,224.6L730.3,222.3L729.6,218.7L729.6,216.4L730.3,212.8L731.9,210.5L734.2,209.8L735.7,209.8L738,210.5L739.5,212.8L740.3,216.4L740.3,218.7L739.5,222.3M755.5,225.3L744.8,225.3L752.5,217.9L754,215.7L754.8,214.2L754.8,212.8L754,211.3L753.2,210.5L751.7,209.8L748.7,209.8L747.1,210.5L746.4,211.3L745.6,212.8L745.6,213.5M761.6,209.8L770,209.8L765.5,215.7L767.7,215.7L769.3,216.4L770,217.2L770.8,219.4L770.8,220.9L770,223.1L768.5,224.6L766.2,225.3L763.9,225.3L761.6,224.6L760.9,223.8L760.1,222.3" fill="none" stroke="#000" stroke-width="1" stroke-linecap="square"/>
<path d="M825.1,209.8L825.1,225.3M819.6,209.8L830.5,209.8M834.4,216.4L848.4,216.4M834.4,220.9L848.4,220.9M864,222.3L862.5,224.6L860.1,225.3L858.6,225.3L856.2,224.6L854.7,222.3L853.9,218.7L853.9,216.4L854.7,212.8L856.2,210.5L858.6,209.8L860.1,209.8L862.5,210.5L864,212.8L864.8,216.4L864.8,218.7L864,222.3M871.1,225.3L870.3,224.6L871.1,223.8L871.8,224.6L871.1,225.3M887.4,222.3L885.9,224.6L883.5,225.3L882,225.3L879.6,224.6L878.1,222.3L877.3,218.7L877.3,216.4L878.1,212.8L879.6,210.5L882,209.8L883.5,209.8L885.9,210.5L887.4,212.8L888.2,216.4L888.2,218.7L887.4,222.3" fill="none" stroke="#000" stroke-width="1" stroke-linecap="square"/>
<path d="M915.9,217.2L915,215.7L912.4,215L909.7,215L907.1,215.7L906.2,217.2L907.1,218.7L908.8,219.4L913.3,220.1L915,220.9L915.9,222.3L915.9,223.1L915,224.6L912.4,225.3L909.7,225.3L907.1,224.6L906.2,223.1" fill="none" stroke="#000" stroke-width="1" stroke-linecap="square"/>
<path d="M939,230.5L937.5,229L935.9,226.8L934.3,223.8L933.5,220.1L933.5,217.2L934.3,213.5L935.9,210.5L937.5,208.3L939,206.8M954.1,222.3L952.5,224.6L950.1,225.3L948.5,225.3L946.2,224.6L944.6,222.3L943.8,218.7L943.8,216.4L944.6,212.8L946.2,210.5L948.5,209.8L950.1,209.8L952.5,210.5L954.1,212.8L954.9,216.4L954.9,218.7L954.1,222.3M961.2,216.4L960.4,215.7L961.2,215L962,215.7L961.2,216.4M961.2,225.3L960.4,224.6L961.2,223.8L962,224.6L961.2,225.3" fill="none" stroke="#000" stroke-width="1" stroke-linecap="square"/>
<path d="M981.4,222.3L979.8,224.6L977.6,225.3L976,225.3L973.8,224.6L972.3,222.3L971.5,218.7L971.5,216.4L972.3,212.8L973.8,210.5L976,209.8L977.6,209.8L979.8,210.5L981.4,212.8L982.1,216.4L982.1,218.7L981.4,222.3M996.5,222.3L995,224.6L992.7,225.3L991.2,225.3L988.9,224.6L987.4,222.3L986.7,218.7L986.7,216.4L987.4,212.8L988.9,210.5L991.2,209.8L992.7,209.8L995,210.5L996.5,212.8L997.3,216.4L997.3,218.7L996.5,222.3M1003.3,216.4L1002.6,215.7L1003.3,215L1004.1,215.7L1003.3,216.4M1003.3,225.3L1002.6,224.6L1003.3,223.8L1004.1,224.6L1003.3,225.3" fill="none" stroke="#000" stroke-width="1" stroke-linecap="square"/>
<path d="M1023.5,222.3L1021.9,224.6L1019.5,225.3L1018,225.3L1015.6,224.6L1014.1,222.3L1013.3,218.7L1013.3,216.4L1014.1,212.8L1015.6,210.5L1018,209.8L1019.5,209.8L1021.9,210.5L1023.5,212.8L1024.2,216.4L1024.2,218.7L1023.5,222.3M1039.1,222.3L1037.5,224.6L1035.2,225.3L1033.6,225.3L1031.3,224.6L1029.7,222.3L1028.9,218.7L1028.9,216.4L1029.7,212.8L1031.3,210.5L1033.6,209.8L1035.2,209.8L1037.5,210.5L1039.1,212.8L1039.8,216.4L1039.8,218.7L1039.1,222.3M1044.5,206.8L1046.1,208.3L1047.7,210.5L1049.2,213.5L1050,217.2L1050,220.1L1049.2,223.8L1047.7,226.8L1046.1,229L1044.5,230.5" fill="none" stroke="#000" stroke-width="1" stroke-linecap="square"/>
<path d="M223.8,1335.8L230.2,1320.3L236.6,1335.8M226.2,1330.6L234.2,1330.6M240.6,1320.3L240.6,1335.8M240.6,1327.7L242.2,1326.2L243.8,1325.5L246.2,1325.5L247.8,1326.2L249.4,1327.7L250.2,1329.9L250.2,1331.4L249.4,1333.6L247.8,1335.1L246.2,1335.8L243.8,1335.8L242.2,1335.1L240.6,1333.6M263.8,1327.7L263,1326.2L260.6,1325.5L258.2,1325.5L255.8,1326.2L255,1327.7L255.8,1329.2L257.4,1329.9L261.4,1330.6L263,1331.4L263.8,1332.8L263.8,1333.6L263,1335.1L260.6,1335.8L258.2,1335.8L255.8,1335.1L255,1333.6M278.1,1333.6L276.5,1335.1L274.9,1335.8L272.6,1335.8L271,1335.1L269.4,1333.6L268.6,1331.4L268.6,1329.9L269.4,1327.7L271,1326.2L272.6,1325.5L274.9,1325.5L276.5,1326.2L278.1,1327.7L278.9,1329.9L278.9,1331.4L278.1,1333.6M284.5,1320.3L284.5,1335.8M299.7,1325.5L299.7,1335.8M290.9,1325.5L290.9,1332.8L291.7,1335.1L293.3,1335.8L295.7,1335.8L297.3,1335.1L299.7,1332.8M306.9,1320.3L306.9,1332.8L307.7,1335.1L309.3,1335.8L310.9,1335.8M304.5,1325.5L310.1,1325.5M322.9,1326.2L321.3,1325.5L318.9,1325.5L317.3,1326.2L315.7,1327.7L314.9,1329.9L324.5,1329.9L324.5,1328.4L323.7,1326.9L322.9,1326.2M314.9,1329.9L314.9,1331.4L315.7,1333.6L317.3,1335.1L318.9,1335.8L321.3,1335.8L322.9,1335.1L324.5,1333.6" fill="none" stroke="#000" stroke-width="1.45" stroke-linecap="square"/>
<path d="M342.2,1320.3L348.3,1335.8L354.4,1320.3M366.6,1333.6L365.1,1335.1L363.5,1335.8L361.2,1335.8L359.7,1335.1L358.2,1333.6L357.4,1331.4L357.4,1329.9L358.2,1327.7L359.7,1326.2L361.2,1325.5L363.5,1325.5L365.1,1326.2L366.6,1327.7L367.3,1329.9L367.3,1331.4L366.6,1333.6M372.7,1325.5L372.7,1335.8M372.7,1329.9L373.4,1327.7L375,1326.2L376.5,1325.5L378.8,1325.5M383.3,1320.3L383.3,1332.8L384.1,1335.1L385.6,1335.8L387.1,1335.8M381,1325.5L386.4,1325.5M394.8,1324.7L394.8,1333.6M390.9,1326.9L398.6,1331.4M390.9,1331.4L398.6,1326.9M405.4,1323.3L406.9,1322.5L409.2,1320.3L409.2,1335.8M428.3,1332.8L426.7,1335.1L424.5,1335.8L422.9,1335.8L420.7,1335.1L419.1,1332.8L418.4,1329.2L418.4,1326.9L419.1,1323.3L420.7,1321L422.9,1320.3L424.5,1320.3L426.7,1321L428.3,1323.3L429,1326.9L429,1329.2L428.3,1332.8M432.8,1322.5L438.9,1317.3L445,1322.5M448.8,1332.8L449.6,1334.3L450.4,1335.1L452.6,1335.8L454.9,1335.8L457.2,1335.1L458.7,1333.6L459.5,1331.4L459.5,1329.9L458.7,1327.7L457.2,1326.2L454.9,1325.5L452.6,1325.5L450.4,1326.2L449.6,1326.9L450.4,1320.3L458,1320.3" fill="none" stroke="#000" stroke-width="1.45" stroke-linecap="square"/>
<path d="M484.2,1341L482.6,1339.5L481.1,1337.3L479.6,1334.3L478.8,1330.6L478.8,1327.7L479.6,1324L481.1,1321L482.6,1318.8L484.2,1317.3M491,1323.3L492.6,1322.5L494.9,1320.3L494.9,1335.8M503.3,1341L517.1,1317.3M529.3,1327.7L528.5,1326.2L526.3,1325.5L524,1325.5L521.7,1326.2L520.9,1327.7L521.7,1329.2L523.2,1329.9L527,1330.6L528.5,1331.4L529.3,1332.8L529.3,1333.6L528.5,1335.1L526.3,1335.8L524,1335.8L521.7,1335.1L520.9,1333.6M534.7,1338.8L535.4,1338L536.2,1336.5L536.2,1335.1L535.4,1334.3L534.7,1335.1L535.4,1335.8L536.2,1335.1" fill="none" stroke="#000" stroke-width="1.45" stroke-linecap="square"/>
<path d="M564.7,1322.5L563.1,1321L560.8,1320.3L557.7,1320.3L555.4,1321L553.8,1322.5L553.8,1324L554.6,1325.5L555.4,1326.2L556.9,1326.9L561.6,1328.4L563.1,1329.2L563.9,1329.9L564.7,1331.4L564.7,1333.6L563.1,1335.1L560.8,1335.8L557.7,1335.8L555.4,1335.1L553.8,1333.6M570.1,1320.3L570.1,1335.8M570.1,1328.4L572.4,1326.2L574,1325.5L576.3,1325.5L577.9,1326.2L578.7,1328.4L578.7,1335.8M593.4,1325.5L593.4,1335.8M593.4,1333.6L591.9,1335.1L590.3,1335.8L588,1335.8L586.4,1335.1L584.9,1333.6L584.1,1331.4L584.1,1329.9L584.9,1327.7L586.4,1326.2L588,1325.5L590.3,1325.5L591.9,1326.2L593.4,1327.7M608.2,1320.3L608.2,1335.8M608.2,1333.6L606.6,1335.1L605.1,1335.8L602.7,1335.8L601.2,1335.1L599.6,1333.6L598.9,1331.4L598.9,1329.9L599.6,1327.7L601.2,1326.2L602.7,1325.5L605.1,1325.5L606.6,1326.2L608.2,1327.7M621.4,1326.2L619.8,1325.5L617.5,1325.5L615.9,1326.2L614.4,1327.7L613.6,1329.9L622.9,1329.9L622.9,1328.4L622.2,1326.9L621.4,1326.2M613.6,1329.9L613.6,1331.4L614.4,1333.6L615.9,1335.1L617.5,1335.8L619.8,1335.8L621.4,1335.1L622.9,1333.6M636.9,1320.3L636.9,1335.8M636.9,1333.6L635.4,1335.1L633.8,1335.8L631.5,1335.8L629.9,1335.1L628.4,1333.6L627.6,1331.4L627.6,1329.9L628.4,1327.7L629.9,1326.2L631.5,1325.5L633.8,1325.5L635.4,1326.2L636.9,1327.7M642.4,1317.3L643.9,1318.8L645.5,1321L647,1324L647.8,1327.7L647.8,1330.6L647,1334.3L645.5,1337.3L643.9,1339.5L642.4,1341" fill="none" stroke="#000" stroke-width="1.45" stroke-linecap="square"/>
<path d="M1010.5,1335.8L1010.5,1320.3L1016.7,1335.8L1022.8,1320.3L1022.8,1335.8M1029,1325.5L1029,1335.8M1029,1321L1028.2,1320.3L1029,1319.6L1029.7,1320.3L1029,1321M1035.1,1325.5L1035.1,1335.8M1035.1,1328.4L1037.4,1326.2L1039,1325.5L1041.3,1325.5L1042.8,1326.2L1043.6,1328.4L1043.6,1335.8M1049.8,1326.9L1063.6,1326.9M1049.8,1331.4L1063.6,1331.4M1069.8,1329.2L1083.6,1329.2M1099.8,1335.8L1089,1335.8L1096.7,1328.4L1098.3,1326.2L1099,1324.7L1099,1323.3L1098.3,1321.8L1097.5,1321L1096,1320.3L1092.9,1320.3L1091.3,1321L1090.6,1321.8L1089.8,1323.3L1089.8,1324M1104.4,1332.8L1105.2,1334.3L1106,1335.1L1108.3,1335.8L1110.6,1335.8L1112.9,1335.1L1114.4,1333.6L1115.2,1331.4L1115.2,1329.9L1114.4,1327.7L1112.9,1326.2L1110.6,1325.5L1108.3,1325.5L1106,1326.2L1105.2,1326.9L1106,1320.3L1113.7,1320.3M1121.4,1335.8L1120.6,1335.1L1121.4,1334.3L1122.1,1335.1L1121.4,1335.8M1137.5,1332.8L1136,1335.1L1133.7,1335.8L1132.1,1335.8L1129.8,1335.1L1128.3,1332.8L1127.5,1329.2L1127.5,1326.9L1128.3,1323.3L1129.8,1321L1132.1,1320.3L1133.7,1320.3L1136,1321L1137.5,1323.3L1138.3,1326.9L1138.3,1329.2L1137.5,1332.8" fill="none" stroke="#000" stroke-width="1.45" stroke-linecap="square"/>
<path d="M1158.5,1335.8L1158.5,1320.3L1164.5,1335.8L1170.6,1320.3L1170.6,1335.8M1184.9,1325.5L1184.9,1335.8M1184.9,1333.6L1183.4,1335.1L1181.9,1335.8L1179.6,1335.8L1178.1,1335.1L1176.6,1333.6L1175.8,1331.4L1175.8,1329.9L1176.6,1327.7L1178.1,1326.2L1179.6,1325.5L1181.9,1325.5L1183.4,1326.2L1184.9,1327.7M1190.2,1325.5L1198.4,1335.8M1190.2,1335.8L1198.4,1325.5M1203.7,1326.9L1217.3,1326.9M1203.7,1331.4L1217.3,1331.4M1224.1,1320.3L1232.4,1320.3L1227.8,1326.2L1230.1,1326.2L1231.6,1326.9L1232.4,1327.7L1233.1,1329.9L1233.1,1331.4L1232.4,1333.6L1230.9,1335.1L1228.6,1335.8L1226.3,1335.8L1224.1,1335.1L1223.3,1334.3L1222.6,1332.8M1239.9,1323.3L1241.4,1322.5L1243.7,1320.3L1243.7,1335.8M1254.2,1335.8L1253.5,1335.1L1254.2,1334.3L1255,1335.1L1254.2,1335.8M1264.8,1326.9L1267.8,1326.2L1269.3,1325.5L1270,1324L1270,1322.5L1269.3,1321L1267,1320.3L1264,1320.3L1261.8,1321L1261,1322.5L1261,1324L1261.8,1325.5L1263.3,1326.2L1266.3,1326.9L1268.5,1327.7L1270,1329.2L1270.8,1330.6L1270.8,1332.8L1270,1334.3L1269.3,1335.1L1267,1335.8L1264,1335.8L1261.8,1335.1L1261,1334.3L1260.2,1332.8L1260.2,1330.6L1261,1329.2L1262.5,1327.7L1264.8,1326.9" fill="none" stroke="#000" stroke-width="1.45" stroke-linecap="square"/>
<path d="M223.8,1348.8L223.8,1359.9L224.6,1362.1L226.2,1363.6L228.7,1364.3L230.3,1364.3L232.7,1363.6L234.3,1362.1L235.2,1359.9L235.2,1348.8M241.7,1357.7L256.3,1357.7M260.3,1348.8L266.8,1364.3L273.3,1348.8" fill="none" stroke="#000" stroke-width="1" stroke-linecap="square"/>
<path d="M296.2,1369.5L294.6,1368L293,1365.8L291.3,1362.8L290.5,1359.1L290.5,1356.2L291.3,1352.5L293,1349.5L294.6,1347.3L296.2,1345.8M301.9,1348.8L301.9,1364.3M301.9,1361.3L310.1,1354M305.2,1358.4L310.9,1364.3M316.7,1348.8L316.7,1361.3L317.5,1363.6L319.1,1364.3L320.8,1364.3M314.2,1354L319.9,1354M333.8,1356.2L333,1354.7L330.6,1354L328.1,1354L325.7,1354.7L324.8,1356.2L325.7,1357.7L327.3,1358.4L331.4,1359.1L333,1359.9L333.8,1361.3L333.8,1362.1L333,1363.6L330.6,1364.3L328.1,1364.3L325.7,1363.6L324.8,1362.1M339.6,1367.3L340.4,1366.5L341.2,1365L341.2,1363.6L340.4,1362.8L339.6,1363.6L340.4,1364.3L341.2,1363.6" fill="none" stroke="#000" stroke-width="1" stroke-linecap="square"/>
<path d="M367.5,1356.2L369.8,1355.4L370.6,1354.7L371.4,1353.2L371.4,1351.8L370.6,1350.3L369.8,1349.5L367.5,1348.8L360.5,1348.8L360.5,1364.3L367.5,1364.3L369.8,1363.6L370.6,1362.8L371.4,1361.3L371.4,1359.1L370.6,1357.7L369.8,1356.9L367.5,1356.2L360.5,1356.2M385.4,1354L385.4,1364.3M385.4,1362.1L383.8,1363.6L382.3,1364.3L380,1364.3L378.4,1363.6L376.8,1362.1L376.1,1359.9L376.1,1358.4L376.8,1356.2L378.4,1354.7L380,1354L382.3,1354L383.8,1354.7L385.4,1356.2M391.6,1354L391.6,1364.3M391.6,1358.4L392.4,1356.2L394,1354.7L395.5,1354L397.9,1354M401.7,1348.8L401.7,1364.3M401.7,1356.2L403.3,1354.7L404.9,1354L407.2,1354L408.7,1354.7L410.3,1356.2L411.1,1358.4L411.1,1359.9L410.3,1362.1L408.7,1363.6L407.2,1364.3L404.9,1364.3L403.3,1363.6L401.7,1362.1M415.8,1345.8L417.3,1347.3L418.9,1349.5L420.4,1352.5L421.2,1356.2L421.2,1359.1L420.4,1362.8L418.9,1365.8L417.3,1368L415.8,1369.5" fill="none" stroke="#000" stroke-width="1" stroke-linecap="square"/>
<path d="M586.8,1348.8L586.8,1359.9L587.6,1362.1L589.1,1363.6L591.5,1364.3L593,1364.3L595.3,1363.6L596.9,1362.1L597.7,1359.9L597.7,1348.8M603.9,1354L603.9,1364.3M620.9,1364.3L620.9,1356.9L620.1,1354.7L618.6,1354L616.3,1354L614.7,1354.7L612.4,1356.9L612.4,1364.3M603.9,1356.9L606.2,1354.7L607.7,1354L610.1,1354L611.6,1354.7L612.4,1356.9M627.1,1354L627.1,1364.3M627.1,1349.5L626.3,1348.8L627.1,1348.1L627.9,1348.8L627.1,1349.5M633.3,1354L633.3,1364.3M633.3,1356.9L635.6,1354.7L637.2,1354L639.5,1354L641.1,1354.7L641.8,1356.9L641.8,1364.3M648,1355.4L662,1355.4M648,1359.9L662,1359.9M678.3,1364.3L667.4,1364.3L675.2,1356.9L676.7,1354.7L677.5,1353.2L677.5,1351.8L676.7,1350.3L675.9,1349.5L674.4,1348.8L671.3,1348.8L669.7,1349.5L669,1350.3L668.2,1351.8L668.2,1352.5M687.6,1355.4L690.7,1354.7L692.2,1354L693,1352.5L693,1351L692.2,1349.5L689.9,1348.8L686.8,1348.8L684.5,1349.5L683.7,1351L683.7,1352.5L684.5,1354L686,1354.7L689.1,1355.4L691.4,1356.2L693,1357.7L693.8,1359.1L693.8,1361.3L693,1362.8L692.2,1363.6L689.9,1364.3L686.8,1364.3L684.5,1363.6L683.7,1362.8L682.9,1361.3L682.9,1359.1L683.7,1357.7L685.2,1356.2L687.6,1355.4M700,1364.3L699.2,1363.6L700,1362.8L700.7,1363.6L700,1364.3M717.8,1359.1L706.2,1359.1L713.9,1348.8L713.9,1364.3M733.3,1359.1L721.7,1359.1L729.4,1348.8L729.4,1364.3" fill="none" stroke="#000" stroke-width="1" stroke-linecap="square"/>
<path d="M751.8,1348.8L751.8,1359.9L752.6,1362.1L754.1,1363.6L756.5,1364.3L758,1364.3L760.3,1363.6L761.9,1362.1L762.7,1359.9L762.7,1348.8M768.9,1354L768.9,1364.3M785.9,1364.3L785.9,1356.9L785.1,1354.7L783.6,1354L781.3,1354L779.7,1354.7L777.4,1356.9L777.4,1364.3M768.9,1356.9L771.2,1354.7L772.7,1354L775.1,1354L776.6,1354.7L777.4,1356.9M800.6,1354L800.6,1364.3M800.6,1362.1L799.1,1363.6L797.5,1364.3L795.2,1364.3L793.7,1363.6L792.1,1362.1L791.3,1359.9L791.3,1358.4L792.1,1356.2L793.7,1354.7L795.2,1354L797.5,1354L799.1,1354.7L800.6,1356.2M806.1,1354L814.6,1364.3M806.1,1364.3L814.6,1354M820,1355.4L834,1355.4M820,1359.9L834,1359.9M851,1359.1L839.4,1359.1L847.1,1348.8L847.1,1364.3M856.4,1348.8L865,1348.8L860.3,1354.7L862.6,1354.7L864.2,1355.4L865,1356.2L865.7,1358.4L865.7,1359.9L865,1362.1L863.4,1363.6L861.1,1364.3L858.8,1364.3L856.4,1363.6L855.7,1362.8L854.9,1361.3M871.9,1364.3L871.2,1363.6L871.9,1362.8L872.7,1363.6L871.9,1364.3M881.2,1364.3L889,1348.8L878.1,1348.8M898.3,1355.4L901.4,1354.7L902.9,1354L903.7,1352.5L903.7,1351L902.9,1349.5L900.6,1348.8L897.5,1348.8L895.2,1349.5L894.4,1351L894.4,1352.5L895.2,1354L896.7,1354.7L899.8,1355.4L902.2,1356.2L903.7,1357.7L904.5,1359.1L904.5,1361.3L903.7,1362.8L902.9,1363.6L900.6,1364.3L897.5,1364.3L895.2,1363.6L894.4,1362.8L893.6,1361.3L893.6,1359.1L894.4,1357.7L896,1356.2L898.3,1355.4" fill="none" stroke="#000" stroke-width="1" stroke-linecap="square"/>
<path d="M924.3,1348.8L930.4,1364.3L936.5,1348.8M940.3,1354L940.3,1364.3M957.1,1364.3L957.1,1356.9L956.3,1354.7L954.8,1354L952.5,1354L951,1354.7L948.7,1356.9L948.7,1364.3M940.3,1356.9L942.6,1354.7L944.1,1354L946.4,1354L947.9,1354.7L948.7,1356.9M963.2,1354L963.2,1364.3M963.2,1349.5L962.4,1348.8L963.2,1348.1L963.9,1348.8L963.2,1349.5M969.2,1354L969.2,1364.3M969.2,1356.9L971.5,1354.7L973.1,1354L975.3,1354L976.9,1354.7L977.6,1356.9L977.6,1364.3M983.7,1355.4L997.4,1355.4M983.7,1359.9L997.4,1359.9M1003.5,1357.7L1017.2,1357.7M1034,1359.1L1022.6,1359.1L1030.2,1348.8L1030.2,1364.3M1038.6,1362.1L1039.3,1363.6L1041.6,1364.3L1043.1,1364.3L1045.4,1363.6L1047,1361.3L1047.7,1357.7L1047.7,1354L1047,1351L1045.4,1349.5L1043.1,1348.8L1042.4,1348.8L1040.1,1349.5L1038.6,1351L1037.8,1353.2L1037.8,1354L1038.6,1356.2L1040.1,1357.7L1042.4,1358.4L1043.1,1358.4L1045.4,1357.7L1047,1356.2L1047.7,1354M1054.6,1364.3L1053.8,1363.6L1054.6,1362.8L1055.3,1363.6L1054.6,1364.3M1070.6,1361.3L1069,1363.6L1066.8,1364.3L1065.2,1364.3L1063,1363.6L1061.4,1361.3L1060.7,1357.7L1060.7,1355.4L1061.4,1351.8L1063,1349.5L1065.2,1348.8L1066.8,1348.8L1069,1349.5L1070.6,1351.8L1071.3,1355.4L1071.3,1357.7L1070.6,1361.3M1078.2,1351.8L1079.7,1351L1082,1348.8L1082,1364.3" fill="none" stroke="#000" stroke-width="1" stroke-linecap="square"/>
<path d="M1104.8,1348.8L1110.8,1364.3L1116.8,1348.8M1120.5,1354L1120.5,1364.3M1137,1364.3L1137,1356.9L1136.2,1354.7L1134.7,1354L1132.5,1354L1131,1354.7L1128.7,1356.9L1128.7,1364.3M1120.5,1356.9L1122.7,1354.7L1124.2,1354L1126.5,1354L1128,1354.7L1128.7,1356.9M1151.2,1354L1151.2,1364.3M1151.2,1362.1L1149.7,1363.6L1148.2,1364.3L1145.9,1364.3L1144.4,1363.6L1142.9,1362.1L1142.2,1359.9L1142.2,1358.4L1142.9,1356.2L1144.4,1354.7L1145.9,1354L1148.2,1354L1149.7,1354.7L1151.2,1356.2M1156.4,1354L1164.6,1364.3M1156.4,1364.3L1164.6,1354M1169.9,1355.4L1183.3,1355.4M1169.9,1359.9L1183.3,1359.9M1189.3,1357.7L1202.8,1357.7M1210.2,1351.8L1211.7,1351L1214,1348.8L1214,1364.3M1234.2,1359.1L1222.9,1359.1L1230.4,1348.8L1230.4,1364.3M1239.4,1364.3L1238.6,1363.6L1239.4,1362.8L1240.1,1363.6L1239.4,1364.3M1246.1,1362.1L1246.9,1363.6L1249.1,1364.3L1250.6,1364.3L1252.9,1363.6L1254.3,1361.3L1255.1,1357.7L1255.1,1354L1254.3,1351L1252.9,1349.5L1250.6,1348.8L1249.9,1348.8L1247.6,1349.5L1246.1,1351L1245.4,1353.2L1245.4,1354L1246.1,1356.2L1247.6,1357.7L1249.9,1358.4L1250.6,1358.4L1252.9,1357.7L1254.3,1356.2L1255.1,1354M1270.8,1364.3L1260.3,1364.3L1267.8,1356.9L1269.3,1354.7L1270.1,1353.2L1270.1,1351.8L1269.3,1350.3L1268.6,1349.5L1267.1,1348.8L1264.1,1348.8L1262.6,1349.5L1261.8,1350.3L1261.1,1351.8L1261.1,1352.5" fill="none" stroke="#000" stroke-width="1" stroke-linecap="square"/>
<path d="M223.8,1376.8L223.8,1387.9L224.6,1390.1L226.2,1391.6L228.7,1392.3L230.3,1392.3L232.7,1391.6L234.3,1390.1L235.2,1387.9L235.2,1376.8M241.7,1385.7L256.3,1385.7M260.3,1376.8L266.8,1392.3L273.3,1376.8" fill="none" stroke="#000" stroke-width="1" stroke-linecap="square"/>
<path d="M296.2,1397.5L294.6,1396L293,1393.8L291.3,1390.8L290.5,1387.1L290.5,1384.2L291.3,1380.5L293,1377.5L294.6,1375.3L296.2,1373.8M301.9,1376.8L301.9,1392.3M301.9,1389.3L310.1,1382M305.2,1386.4L310.9,1392.3M316.7,1376.8L316.7,1389.3L317.5,1391.6L319.1,1392.3L320.8,1392.3M314.2,1382L319.9,1382M333.8,1384.2L333,1382.7L330.6,1382L328.1,1382L325.7,1382.7L324.8,1384.2L325.7,1385.7L327.3,1386.4L331.4,1387.1L333,1387.9L333.8,1389.3L333.8,1390.1L333,1391.6L330.6,1392.3L328.1,1392.3L325.7,1391.6L324.8,1390.1M339.6,1395.3L340.4,1394.5L341.2,1393L341.2,1391.6L340.4,1390.8L339.6,1391.6L340.4,1392.3L341.2,1391.6" fill="none" stroke="#000" stroke-width="1" stroke-linecap="square"/>
<path d="M367.5,1384.2L369.8,1383.4L370.6,1382.7L371.4,1381.2L371.4,1379.8L370.6,1378.3L369.8,1377.5L367.5,1376.8L360.5,1376.8L360.5,1392.3L367.5,1392.3L369.8,1391.6L370.6,1390.8L371.4,1389.3L371.4,1387.1L370.6,1385.7L369.8,1384.9L367.5,1384.2L360.5,1384.2M385.4,1382L385.4,1392.3M385.4,1390.1L383.8,1391.6L382.3,1392.3L380,1392.3L378.4,1391.6L376.8,1390.1L376.1,1387.9L376.1,1386.4L376.8,1384.2L378.4,1382.7L380,1382L382.3,1382L383.8,1382.7L385.4,1384.2M391.6,1382L391.6,1392.3M391.6,1386.4L392.4,1384.2L394,1382.7L395.5,1382L397.9,1382M401.7,1376.8L401.7,1392.3M401.7,1384.2L403.3,1382.7L404.9,1382L407.2,1382L408.7,1382.7L410.3,1384.2L411.1,1386.4L411.1,1387.9L410.3,1390.1L408.7,1391.6L407.2,1392.3L404.9,1392.3L403.3,1391.6L401.7,1390.1M415.8,1373.8L417.3,1375.3L418.9,1377.5L420.4,1380.5L421.2,1384.2L421.2,1387.1L420.4,1390.8L418.9,1393.8L417.3,1396L415.8,1397.5" fill="none" stroke="#000" stroke-width="1" stroke-linecap="square"/>
<path d="M586.8,1376.8L586.8,1387.9L587.6,1390.1L589.1,1391.6L591.5,1392.3L593,1392.3L595.3,1391.6L596.9,1390.1L597.7,1387.9L597.7,1376.8M603.9,1382L603.9,1392.3M620.9,1392.3L620.9,1384.9L620.1,1382.7L618.6,1382L616.3,1382L614.7,1382.7L612.4,1384.9L612.4,1392.3M603.9,1384.9L606.2,1382.7L607.7,1382L610.1,1382L611.6,1382.7L612.4,1384.9M627.1,1382L627.1,1392.3M627.1,1377.5L626.3,1376.8L627.1,1376.1L627.9,1376.8L627.1,1377.5M633.3,1382L633.3,1392.3M633.3,1384.9L635.6,1382.7L637.2,1382L639.5,1382L641.1,1382.7L641.8,1384.9L641.8,1392.3M648,1383.4L662,1383.4M648,1387.9L662,1387.9M678.3,1392.3L667.4,1392.3L675.2,1384.9L676.7,1382.7L677.5,1381.2L677.5,1379.8L676.7,1378.3L675.9,1377.5L674.4,1376.8L671.3,1376.8L669.7,1377.5L669,1378.3L668.2,1379.8L668.2,1380.5M687.6,1383.4L690.7,1382.7L692.2,1382L693,1380.5L693,1379L692.2,1377.5L689.9,1376.8L686.8,1376.8L684.5,1377.5L683.7,1379L683.7,1380.5L684.5,1382L686,1382.7L689.1,1383.4L691.4,1384.2L693,1385.7L693.8,1387.1L693.8,1389.3L693,1390.8L692.2,1391.6L689.9,1392.3L686.8,1392.3L684.5,1391.6L683.7,1390.8L682.9,1389.3L682.9,1387.1L683.7,1385.7L685.2,1384.2L687.6,1383.4M700,1392.3L699.2,1391.6L700,1390.8L700.7,1391.6L700,1392.3M717.8,1387.1L706.2,1387.1L713.9,1376.8L713.9,1392.3M733.3,1387.1L721.7,1387.1L729.4,1376.8L729.4,1392.3" fill="none" stroke="#000" stroke-width="1" stroke-linecap="square"/>
<path d="M751.8,1376.8L751.8,1387.9L752.6,1390.1L754.1,1391.6L756.5,1392.3L758,1392.3L760.3,1391.6L761.9,1390.1L762.7,1387.9L762.7,1376.8M768.9,1382L768.9,1392.3M785.9,1392.3L785.9,1384.9L785.1,1382.7L783.6,1382L781.3,1382L779.7,1382.7L777.4,1384.9L777.4,1392.3M768.9,1384.9L771.2,1382.7L772.7,1382L775.1,1382L776.6,1382.7L777.4,1384.9M800.6,1382L800.6,1392.3M800.6,1390.1L799.1,1391.6L797.5,1392.3L795.2,1392.3L793.7,1391.6L792.1,1390.1L791.3,1387.9L791.3,1386.4L792.1,1384.2L793.7,1382.7L795.2,1382L797.5,1382L799.1,1382.7L800.6,1384.2M806.1,1382L814.6,1392.3M806.1,1392.3L814.6,1382M820,1383.4L834,1383.4M820,1387.9L834,1387.9M851,1387.1L839.4,1387.1L847.1,1376.8L847.1,1392.3M856.4,1376.8L865,1376.8L860.3,1382.7L862.6,1382.7L864.2,1383.4L865,1384.2L865.7,1386.4L865.7,1387.9L865,1390.1L863.4,1391.6L861.1,1392.3L858.8,1392.3L856.4,1391.6L855.7,1390.8L854.9,1389.3M871.9,1392.3L871.2,1391.6L871.9,1390.8L872.7,1391.6L871.9,1392.3M881.2,1392.3L889,1376.8L878.1,1376.8M898.3,1383.4L901.4,1382.7L902.9,1382L903.7,1380.5L903.7,1379L902.9,1377.5L900.6,1376.8L897.5,1376.8L895.2,1377.5L894.4,1379L894.4,1380.5L895.2,1382L896.7,1382.7L899.8,1383.4L902.2,1384.2L903.7,1385.7L904.5,1387.1L904.5,1389.3L903.7,1390.8L902.9,1391.6L900.6,1392.3L897.5,1392.3L895.2,1391.6L894.4,1390.8L893.6,1389.3L893.6,1387.1L894.4,1385.7L896,1384.2L898.3,1383.4" fill="none" stroke="#000" stroke-width="1" stroke-linecap="square"/>
<path d="M924.3,1376.8L930.4,1392.3L936.5,1376.8M940.3,1382L940.3,1392.3M957.1,1392.3L957.1,1384.9L956.3,1382.7L954.8,1382L952.5,1382L951,1382.7L948.7,1384.9L948.7,1392.3M940.3,1384.9L942.6,1382.7L944.1,1382L946.4,1382L947.9,1382.7L948.7,1384.9M963.2,1382L963.2,1392.3M963.2,1377.5L962.4,1376.8L963.2,1376.1L963.9,1376.8L963.2,1377.5M969.2,1382L969.2,1392.3M969.2,1384.9L971.5,1382.7L973.1,1382L975.3,1382L976.9,1382.7L977.6,1384.9L977.6,1392.3M983.7,1383.4L997.4,1383.4M983.7,1387.9L997.4,1387.9M1003.5,1385.7L1017.2,1385.7M1034,1387.1L1022.6,1387.1L1030.2,1376.8L1030.2,1392.3M1038.6,1390.1L1039.3,1391.6L1041.6,1392.3L1043.1,1392.3L1045.4,1391.6L1047,1389.3L1047.7,1385.7L1047.7,1382L1047,1379L1045.4,1377.5L1043.1,1376.8L1042.4,1376.8L1040.1,1377.5L1038.6,1379L1037.8,1381.2L1037.8,1382L1038.6,1384.2L1040.1,1385.7L1042.4,1386.4L1043.1,1386.4L1045.4,1385.7L1047,1384.2L1047.7,1382M1054.6,1392.3L1053.8,1391.6L1054.6,1390.8L1055.3,1391.6L1054.6,1392.3M1070.6,1389.3L1069,1391.6L1066.8,1392.3L1065.2,1392.3L1063,1391.6L1061.4,1389.3L1060.7,1385.7L1060.7,1383.4L1061.4,1379.8L1063,1377.5L1065.2,1376.8L1066.8,1376.8L1069,1377.5L1070.6,1379.8L1071.3,1383.4L1071.3,1385.7L1070.6,1389.3M1078.2,1379.8L1079.7,1379L1082,1376.8L1082,1392.3" fill="none" stroke="#000" stroke-width="1" stroke-linecap="square"/>
<path d="M1104.8,1376.8L1110.8,1392.3L1116.8,1376.8M1120.5,1382L1120.5,1392.3M1137,1392.3L1137,1384.9L1136.2,1382.7L1134.7,1382L1132.5,1382L1131,1382.7L1128.7,1384.9L1128.7,1392.3M1120.5,1384.9L1122.7,1382.7L1124.2,1382L1126.5,1382L1128,1382.7L1128.7,1384.9M1151.2,1382L1151.2,1392.3M1151.2,1390.1L1149.7,1391.6L1148.2,1392.3L1145.9,1392.3L1144.4,1391.6L1142.9,1390.1L1142.2,1387.9L1142.2,1386.4L1142.9,1384.2L1144.4,1382.7L1145.9,1382L1148.2,1382L1149.7,1382.7L1151.2,1384.2M1156.4,1382L1164.6,1392.3M1156.4,1392.3L1164.6,1382M1169.9,1383.4L1183.3,1383.4M1169.9,1387.9L1183.3,1387.9M1189.3,1385.7L1202.8,1385.7M1210.2,1379.8L1211.7,1379L1214,1376.8L1214,1392.3M1234.2,1387.1L1222.9,1387.1L1230.4,1376.8L1230.4,1392.3M1239.4,1392.3L1238.6,1391.6L1239.4,1390.8L1240.1,1391.6L1239.4,1392.3M1246.1,1390.1L1246.9,1391.6L1249.1,1392.3L1250.6,1392.3L1252.9,1391.6L1254.3,1389.3L1255.1,1385.7L1255.1,1382L1254.3,1379L1252.9,1377.5L1250.6,1376.8L1249.9,1376.8L1247.6,1377.5L1246.1,1379L1245.4,1381.2L1245.4,1382L1246.1,1384.2L1247.6,1385.7L1249.9,1386.4L1250.6,1386.4L1252.9,1385.7L1254.3,1384.2L1255.1,1382M1270.8,1392.3L1260.3,1392.3L1267.8,1384.9L1269.3,1382.7L1270.1,1381.2L1270.1,1379.8L1269.3,1378.3L1268.6,1377.5L1267.1,1376.8L1264.1,1376.8L1262.6,1377.5L1261.8,1378.3L1261.1,1379.8L1261.1,1380.5" fill="none" stroke="#000" stroke-width="1" stroke-linecap="square"/>
<path d="M735.2,1340.2L733.9,1338.8L732.5,1336.8L731.2,1334.2L730.5,1330.8L730.5,1328.2L731.2,1324.8L732.5,1322.2L733.9,1320.2L735.2,1318.8M740,1321.5L740,1335.5M740,1332.8L746.7,1326.2M742.7,1330.2L747.4,1335.5M751.5,1326.2L751.5,1335.5M766.3,1335.5L766.3,1328.8L765.7,1326.8L764.3,1326.2L762.3,1326.2L760.9,1326.8L758.9,1328.8L758.9,1335.5M751.5,1328.8L753.5,1326.8L754.8,1326.2L756.9,1326.2L758.2,1326.8L758.9,1328.8M771.1,1318.8L772.4,1320.2L773.8,1322.2L775.1,1324.8L775.8,1328.2L775.8,1330.8L775.1,1334.2L773.8,1336.8L772.4,1338.8L771.1,1340.2" fill="none" stroke="#000" stroke-width="1" stroke-linecap="square"/>
<g transform="translate(176.7,768) rotate(-90)">
<path d="M5,4.7L3.7,3.3L2.4,1.3L1.1,-1.3L0.5,-4.7L0.5,-7.3L1.1,-10.7L2.4,-13.3L3.7,-15.3L5,-16.7M9.5,-14L9.5,0M9.5,-2.7L15.9,-9.3M12.1,-5.3L16.5,0M20.4,-9.3L20.4,0M34.5,0L34.5,-6.7L33.9,-8.7L32.6,-9.3L30.7,-9.3L29.4,-8.7L27.5,-6.7L27.5,0M20.4,-6.7L22.3,-8.7L23.6,-9.3L25.5,-9.3L26.8,-8.7L27.5,-6.7M39,-16.7L40.3,-15.3L41.6,-13.3L42.9,-10.7L43.5,-7.3L43.5,-4.7L42.9,-1.3L41.6,1.3L40.3,3.3L39,4.7" fill="none" stroke="#000" stroke-width="1" stroke-linecap="square"/>
</g>
<path d="M274,1289L272.5,1291.3L270.3,1292L268.9,1292L266.7,1291.3L265.2,1289L264.5,1285.3L264.5,1283L265.2,1279.3L266.7,1277L268.9,1276.3L270.3,1276.3L272.5,1277L274,1279.3L274.7,1283L274.7,1285.3L274,1289" fill="none" stroke="#000" stroke-width="1" stroke-linecap="square"/>
<path d="M373.5,1292L362.6,1292L370.4,1284.5L371.9,1282.3L372.7,1280.8L372.7,1279.3L371.9,1277.8L371.2,1277L369.6,1276.3L366.5,1276.3L365,1277L364.2,1277.8L363.4,1279.3L363.4,1280M388.2,1289L386.7,1291.3L384.3,1292L382.8,1292L380.5,1291.3L378.9,1289L378.1,1285.3L378.1,1283L378.9,1279.3L380.5,1277L382.8,1276.3L384.3,1276.3L386.7,1277L388.2,1279.3L389,1283L389,1285.3L388.2,1289" fill="none" stroke="#000" stroke-width="1" stroke-linecap="square"/>
<path d="M480.5,1286.8L468.9,1286.8L476.6,1276.3L476.6,1292M494.4,1289L492.9,1291.3L490.6,1292L489,1292L486.7,1291.3L485.1,1289L484.4,1285.3L484.4,1283L485.1,1279.3L486.7,1277L489,1276.3L490.6,1276.3L492.9,1277L494.4,1279.3L495.2,1283L495.2,1285.3L494.4,1289" fill="none" stroke="#000" stroke-width="1" stroke-linecap="square"/>
<path d="M575.5,1286.8L576.3,1284.5L577.8,1283L580.1,1282.3L580.9,1282.3L583.2,1283L584.8,1284.5L585.6,1286.8L585.6,1287.5L584.8,1289.8L583.2,1291.3L580.9,1292L580.1,1292L577.8,1291.3L576.3,1289.8L575.5,1286.8L575.5,1283L576.3,1279.3L577.8,1277L580.1,1276.3L581.7,1276.3L584,1277L584.8,1278.5M600.3,1289L598.7,1291.3L596.4,1292L594.9,1292L592.5,1291.3L591,1289L590.2,1285.3L590.2,1283L591,1279.3L592.5,1277L594.9,1276.3L596.4,1276.3L598.7,1277L600.3,1279.3L601.1,1283L601.1,1285.3L600.3,1289" fill="none" stroke="#000" stroke-width="1" stroke-linecap="square"/>
<path d="M686,1283L689.1,1282.3L690.6,1281.5L691.4,1280L691.4,1278.5L690.6,1277L688.3,1276.3L685.2,1276.3L682.9,1277L682.1,1278.5L682.1,1280L682.9,1281.5L684.4,1282.3L687.5,1283L689.8,1283.8L691.4,1285.3L692.2,1286.8L692.2,1289L691.4,1290.5L690.6,1291.3L688.3,1292L685.2,1292L682.9,1291.3L682.1,1290.5L681.3,1289L681.3,1286.8L682.1,1285.3L683.6,1283.8L686,1283M706.9,1289L705.3,1291.3L703,1292L701.5,1292L699.1,1291.3L697.6,1289L696.8,1285.3L696.8,1283L697.6,1279.3L699.1,1277L701.5,1276.3L703,1276.3L705.3,1277L706.9,1279.3L707.7,1283L707.7,1285.3L706.9,1289" fill="none" stroke="#000" stroke-width="1" stroke-linecap="square"/>
<path d="M780.9,1279.3L782.5,1278.5L784.8,1276.3L784.8,1292M804.2,1289L802.6,1291.3L800.3,1292L798.8,1292L796.4,1291.3L794.9,1289L794.1,1285.3L794.1,1283L794.9,1279.3L796.4,1277L798.8,1276.3L800.3,1276.3L802.6,1277L804.2,1279.3L805,1283L805,1285.3L804.2,1289M819.7,1289L818.1,1291.3L815.8,1292L814.3,1292L811.9,1291.3L810.4,1289L809.6,1285.3L809.6,1283L810.4,1279.3L811.9,1277L814.3,1276.3L815.8,1276.3L818.1,1277L819.7,1279.3L820.5,1283L820.5,1285.3L819.7,1289" fill="none" stroke="#000" stroke-width="1" stroke-linecap="square"/>
<path d="M887.2,1279.3L888.7,1278.5L891,1276.3L891,1292M911.2,1292L900.3,1292L908.1,1284.5L909.6,1282.3L910.4,1280.8L910.4,1279.3L909.6,1277.8L908.9,1277L907.3,1276.3L904.2,1276.3L902.7,1277L901.9,1277.8L901.1,1279.3L901.1,1280M925.9,1289L924.4,1291.3L922,1292L920.5,1292L918.2,1291.3L916.6,1289L915.8,1285.3L915.8,1283L916.6,1279.3L918.2,1277L920.5,1276.3L922,1276.3L924.4,1277L925.9,1279.3L926.7,1283L926.7,1285.3L925.9,1289" fill="none" stroke="#000" stroke-width="1" stroke-linecap="square"/>
<path d="M993.4,1279.3L994.9,1278.5L997.3,1276.3L997.3,1292M1018.2,1286.8L1006.6,1286.8L1014.3,1276.3L1014.3,1292M1032.1,1289L1030.6,1291.3L1028.3,1292L1026.7,1292L1024.4,1291.3L1022.8,1289L1022.1,1285.3L1022.1,1283L1022.8,1279.3L1024.4,1277L1026.7,1276.3L1028.3,1276.3L1030.6,1277L1032.1,1279.3L1032.9,1283L1032.9,1285.3L1032.1,1289" fill="none" stroke="#000" stroke-width="1" stroke-linecap="square"/>
<path d="M1099.6,1279.3L1101.2,1278.5L1103.5,1276.3L1103.5,1292M1113.6,1286.8L1114.3,1284.5L1115.9,1283L1118.2,1282.3L1119,1282.3L1121.3,1283L1122.9,1284.5L1123.6,1286.8L1123.6,1287.5L1122.9,1289.8L1121.3,1291.3L1119,1292L1118.2,1292L1115.9,1291.3L1114.3,1289.8L1113.6,1286.8L1113.6,1283L1114.3,1279.3L1115.9,1277L1118.2,1276.3L1119.8,1276.3L1122.1,1277L1122.9,1278.5M1138.4,1289L1136.8,1291.3L1134.5,1292L1132.9,1292L1130.6,1291.3L1129.1,1289L1128.3,1285.3L1128.3,1283L1129.1,1279.3L1130.6,1277L1132.9,1276.3L1134.5,1276.3L1136.8,1277L1138.4,1279.3L1139.1,1283L1139.1,1285.3L1138.4,1289" fill="none" stroke="#000" stroke-width="1" stroke-linecap="square"/>
<path d="M1205.8,1279.3L1207.4,1278.5L1209.7,1276.3L1209.7,1292M1223.7,1283L1226.8,1282.3L1228.3,1281.5L1229.1,1280L1229.1,1278.5L1228.3,1277L1226,1276.3L1222.9,1276.3L1220.6,1277L1219.8,1278.5L1219.8,1280L1220.6,1281.5L1222.1,1282.3L1225.2,1283L1227.5,1283.8L1229.1,1285.3L1229.9,1286.8L1229.9,1289L1229.1,1290.5L1228.3,1291.3L1226,1292L1222.9,1292L1220.6,1291.3L1219.8,1290.5L1219,1289L1219,1286.8L1219.8,1285.3L1221.3,1283.8L1223.7,1283M1244.6,1289L1243,1291.3L1240.7,1292L1239.2,1292L1236.8,1291.3L1235.3,1289L1234.5,1285.3L1234.5,1283L1235.3,1279.3L1236.8,1277L1239.2,1276.3L1240.7,1276.3L1243,1277L1244.6,1279.3L1245.4,1283L1245.4,1285.3L1244.6,1289" fill="none" stroke="#000" stroke-width="1" stroke-linecap="square"/>
<path d="M252.1,1264.3L250.5,1266.6L248.2,1267.3L246.6,1267.3L244.3,1266.6L242.7,1264.3L241.9,1260.6L241.9,1258.3L242.7,1254.6L244.3,1252.3L246.6,1251.6L248.2,1251.6L250.5,1252.3L252.1,1254.6L252.9,1258.3L252.9,1260.6L252.1,1264.3" fill="none" stroke="#000" stroke-width="1" stroke-linecap="square"/>
<path d="M237.4,1161.1L226.6,1161.1L234.3,1153.6L235.9,1151.4L236.6,1149.9L236.6,1148.4L235.9,1146.9L235.1,1146.1L233.5,1145.4L230.4,1145.4L228.9,1146.1L228.1,1146.9L227.3,1148.4L227.3,1149.1M252.1,1158.1L250.6,1160.3L248.3,1161.1L246.7,1161.1L244.4,1160.3L242.8,1158.1L242.1,1154.3L242.1,1152.1L242.8,1148.4L244.4,1146.1L246.7,1145.4L248.3,1145.4L250.6,1146.1L252.1,1148.4L252.9,1152.1L252.9,1154.3L252.1,1158.1" fill="none" stroke="#000" stroke-width="1" stroke-linecap="square"/>
<path d="M238.2,1049.6L226.6,1049.6L234.3,1039.2L234.3,1054.9M252.1,1051.9L250.6,1054.1L248.3,1054.9L246.7,1054.9L244.4,1054.1L242.8,1051.9L242.1,1048.1L242.1,1045.9L242.8,1042.1L244.4,1039.9L246.7,1039.2L248.3,1039.2L250.6,1039.9L252.1,1042.1L252.9,1045.9L252.9,1048.1L252.1,1051.9" fill="none" stroke="#000" stroke-width="1" stroke-linecap="square"/>
<path d="M227.3,943.4L228.1,941.2L229.7,939.7L232,938.9L232.8,938.9L235.1,939.7L236.6,941.2L237.4,943.4L237.4,944.1L236.6,946.4L235.1,947.9L232.8,948.6L232,948.6L229.7,947.9L228.1,946.4L227.3,943.4L227.3,939.7L228.1,935.9L229.7,933.7L232,932.9L233.5,932.9L235.9,933.7L236.6,935.2M252.1,945.6L250.6,947.9L248.2,948.6L246.7,948.6L244.4,947.9L242.8,945.6L242.1,941.9L242.1,939.7L242.8,935.9L244.4,933.7L246.7,932.9L248.2,932.9L250.6,933.7L252.1,935.9L252.9,939.7L252.9,941.9L252.1,945.6" fill="none" stroke="#000" stroke-width="1" stroke-linecap="square"/>
<path d="M231.2,833.4L234.3,832.7L235.9,831.9L236.6,830.4L236.6,829L235.9,827.5L233.5,826.7L230.4,826.7L228.1,827.5L227.3,829L227.3,830.4L228.1,831.9L229.7,832.7L232.8,833.4L235.1,834.2L236.6,835.7L237.4,837.2L237.4,839.4L236.6,840.9L235.9,841.7L233.5,842.4L230.4,842.4L228.1,841.7L227.3,840.9L226.6,839.4L226.6,837.2L227.3,835.7L228.9,834.2L231.2,833.4M252.1,839.4L250.6,841.7L248.3,842.4L246.7,842.4L244.4,841.7L242.8,839.4L242.1,835.7L242.1,833.4L242.8,829.7L244.4,827.5L246.7,826.7L248.3,826.7L250.6,827.5L252.1,829.7L252.9,833.4L252.9,835.7L252.1,839.4" fill="none" stroke="#000" stroke-width="1" stroke-linecap="square"/>
<path d="M213.4,723.5L214.9,722.7L217.2,720.5L217.2,736.2M236.6,733.2L235.1,735.4L232.8,736.2L231.2,736.2L228.9,735.4L227.3,733.2L226.6,729.5L226.6,727.2L227.3,723.5L228.9,721.2L231.2,720.5L232.8,720.5L235.1,721.2L236.6,723.5L237.4,727.2L237.4,729.5L236.6,733.2M252.1,733.2L250.6,735.4L248.2,736.2L246.7,736.2L244.4,735.4L242.8,733.2L242.1,729.5L242.1,727.2L242.8,723.5L244.4,721.2L246.7,720.5L248.2,720.5L250.6,721.2L252.1,723.5L252.9,727.2L252.9,729.5L252.1,733.2" fill="none" stroke="#000" stroke-width="1" stroke-linecap="square"/>
<path d="M213.4,617.3L214.9,616.5L217.2,614.3L217.2,630M237.4,630L226.6,630L234.3,622.5L235.8,620.2L236.6,618.8L236.6,617.3L235.8,615.8L235.1,615L233.5,614.3L230.4,614.3L228.9,615L228.1,615.8L227.3,617.3L227.3,618M252.1,627L250.6,629.2L248.2,630L246.7,630L244.4,629.2L242.8,627L242.1,623.2L242.1,621L242.8,617.3L244.4,615L246.7,614.3L248.2,614.3L250.6,615L252.1,617.3L252.9,621L252.9,623.2L252.1,627" fill="none" stroke="#000" stroke-width="1" stroke-linecap="square"/>
<path d="M213.4,511L214.9,510.3L217.2,508L217.2,523.7M238.2,518.5L226.6,518.5L234.3,508L234.3,523.7M252.1,520.8L250.6,523L248.2,523.7L246.7,523.7L244.4,523L242.8,520.8L242.1,517L242.1,514.8L242.8,511L244.4,508.8L246.7,508L248.2,508L250.6,508.8L252.1,511L252.9,514.8L252.9,517L252.1,520.8" fill="none" stroke="#000" stroke-width="1" stroke-linecap="square"/>
<path d="M213.4,404.8L214.9,404.1L217.2,401.8L217.2,417.5M227.3,412.3L228.1,410L229.7,408.6L232,407.8L232.8,407.8L235.1,408.6L236.6,410L237.4,412.3L237.4,413L236.6,415.3L235.1,416.8L232.8,417.5L232,417.5L229.7,416.8L228.1,415.3L227.3,412.3L227.3,408.6L228.1,404.8L229.7,402.6L232,401.8L233.5,401.8L235.8,402.6L236.6,404.1M252.1,414.5L250.6,416.8L248.2,417.5L246.7,417.5L244.4,416.8L242.8,414.5L242.1,410.8L242.1,408.6L242.8,404.8L244.4,402.6L246.7,401.8L248.2,401.8L250.6,402.6L252.1,404.8L252.9,408.6L252.9,410.8L252.1,414.5" fill="none" stroke="#000" stroke-width="1" stroke-linecap="square"/>
<path d="M213.4,298.6L214.9,297.8L217.2,295.6L217.2,311.3M231.2,302.3L234.3,301.6L235.8,300.8L236.6,299.3L236.6,297.8L235.8,296.3L233.5,295.6L230.4,295.6L228.1,296.3L227.3,297.8L227.3,299.3L228.1,300.8L229.7,301.6L232.8,302.3L235.1,303.1L236.6,304.6L237.4,306.1L237.4,308.3L236.6,309.8L235.8,310.6L233.5,311.3L230.4,311.3L228.1,310.6L227.3,309.8L226.6,308.3L226.6,306.1L227.3,304.6L228.9,303.1L231.2,302.3M252.1,308.3L250.6,310.6L248.2,311.3L246.7,311.3L244.4,310.6L242.8,308.3L242.1,304.6L242.1,302.3L242.8,298.6L244.4,296.3L246.7,295.6L248.2,295.6L250.6,296.3L252.1,298.6L252.9,302.3L252.9,304.6L252.1,308.3" fill="none" stroke="#000" stroke-width="1" stroke-linecap="square"/>
<path d="M1301.2,276.6L1302.1,273.9L1303.9,272.2L1306.5,271.3L1307.4,271.3L1310.1,272.2L1311.9,273.9L1312.8,276.6L1312.8,277.5L1311.9,280.1L1310.1,281.9L1307.4,282.8L1306.5,282.8L1303.9,281.9L1302.1,280.1L1301.2,276.6L1301.2,272.2L1302.1,267.7L1303.9,265.1L1306.5,264.2L1308.3,264.2L1311,265.1L1311.9,266.9M1329.7,279.3L1327.9,281.9L1325.2,282.8L1323.5,282.8L1320.8,281.9L1319,279.3L1318.1,274.8L1318.1,272.2L1319,267.7L1320.8,265.1L1323.5,264.2L1325.2,264.2L1327.9,265.1L1329.7,267.7L1330.6,272.2L1330.6,274.8L1329.7,279.3M1337.7,282.8L1336.8,281.9L1337.7,281L1338.6,281.9L1337.7,282.8" fill="none" stroke="#000" stroke-width="1" stroke-linecap="square"/>
<path d="M1301.2,338.2L1302.1,340L1303,340.9L1305.6,341.8L1308.3,341.8L1311,340.9L1312.8,339.1L1313.7,336.5L1313.7,334.7L1312.8,332L1311,330.3L1308.3,329.4L1305.6,329.4L1303,330.3L1302.1,331.1L1303,323.2L1311.9,323.2M1319,338.2L1319.9,340L1320.8,340.9L1323.5,341.8L1326.1,341.8L1328.8,340.9L1330.6,339.1L1331.5,336.5L1331.5,334.7L1330.6,332L1328.8,330.3L1326.1,329.4L1323.5,329.4L1320.8,330.3L1319.9,331.1L1320.8,323.2L1329.7,323.2M1338.6,341.8L1337.7,340.9L1338.6,340L1339.5,340.9L1338.6,341.8" fill="none" stroke="#000" stroke-width="1" stroke-linecap="square"/>
<path d="M1314.5,463.3L1301.2,463.3L1310.1,450.9L1310.1,469.5M1319,466L1319.9,467.7L1320.8,468.6L1323.5,469.5L1326.1,469.5L1328.8,468.6L1330.6,466.8L1331.5,464.2L1331.5,462.4L1330.6,459.8L1328.8,458L1326.1,457.1L1323.5,457.1L1320.8,458L1319.9,458.9L1320.8,450.9L1329.7,450.9M1338.6,469.5L1337.7,468.6L1338.6,467.7L1339.5,468.6L1338.6,469.5" fill="none" stroke="#000" stroke-width="1" stroke-linecap="square"/>
<path d="M1303,578.6L1312.8,578.6L1307.4,585.7L1310.1,585.7L1311.9,586.6L1312.8,587.5L1313.7,590.1L1313.7,591.9L1312.8,594.6L1311,596.3L1308.3,597.2L1305.6,597.2L1303,596.3L1302.1,595.5L1301.2,593.7M1319,593.7L1319.9,595.5L1320.8,596.3L1323.5,597.2L1326.1,597.2L1328.8,596.3L1330.6,594.6L1331.5,591.9L1331.5,590.1L1330.6,587.5L1328.8,585.7L1326.1,584.8L1323.5,584.8L1320.8,585.7L1319.9,586.6L1320.8,578.6L1329.7,578.6M1338.6,597.2L1337.7,596.3L1338.6,595.5L1339.5,596.3L1338.6,597.2" fill="none" stroke="#000" stroke-width="1" stroke-linecap="square"/>
<path d="M1313.7,725L1301.2,725L1310.1,716.1L1311.9,713.5L1312.8,711.7L1312.8,709.9L1311.9,708.1L1311,707.3L1309.2,706.4L1305.6,706.4L1303.9,707.3L1303,708.1L1302.1,709.9L1302.1,710.8M1319,721.4L1319.9,723.2L1320.8,724.1L1323.5,725L1326.1,725L1328.8,724.1L1330.6,722.3L1331.5,719.7L1331.5,717.9L1330.6,715.2L1328.8,713.5L1326.1,712.6L1323.5,712.6L1320.8,713.5L1319.9,714.3L1320.8,706.4L1329.7,706.4M1338.6,725L1337.7,724.1L1338.6,723.2L1339.5,724.1L1338.6,725" fill="none" stroke="#000" stroke-width="1" stroke-linecap="square"/>
<path d="M1301.2,837.6L1303,836.8L1305.7,834.1L1305.7,852.7M1316.3,849.2L1317.2,850.9L1318.1,851.8L1320.8,852.7L1323.5,852.7L1326.1,851.8L1327.9,850L1328.8,847.4L1328.8,845.6L1327.9,843L1326.1,841.2L1323.5,840.3L1320.8,840.3L1318.1,841.2L1317.2,842.1L1318.1,834.1L1327,834.1M1335.9,852.7L1335,851.8L1335.9,850.9L1336.8,851.8L1335.9,852.7" fill="none" stroke="#000" stroke-width="1" stroke-linecap="square"/>
<path d="M1301.2,976.9L1302.1,978.7L1303,979.5L1305.7,980.4L1308.3,980.4L1311,979.5L1312.8,977.8L1313.7,975.1L1313.7,973.3L1312.8,970.7L1311,968.9L1308.3,968L1305.7,968L1303,968.9L1302.1,969.8L1303,961.8L1311.9,961.8M1320.8,980.4L1319.9,979.5L1320.8,978.7L1321.7,979.5L1320.8,980.4" fill="none" stroke="#000" stroke-width="1" stroke-linecap="square"/>
<path d="M1301.2,1093.1L1303,1092.2L1305.7,1089.6L1305.7,1108.2M1318.1,1108.2L1317.2,1107.3L1318.1,1106.4L1319,1107.3L1318.1,1108.2" fill="none" stroke="#000" stroke-width="1" stroke-linecap="square"/>
<path d="M1302.2,1227.9L1317,1227.9M1325.2,1220.8L1326.8,1220L1329.3,1217.3L1329.3,1235.9M1349.8,1232.4L1348.2,1235L1345.7,1235.9L1344,1235.9L1341.6,1235L1339.9,1232.4L1339.1,1227.9L1339.1,1225.3L1339.9,1220.8L1341.6,1218.2L1344,1217.3L1345.7,1217.3L1348.2,1218.2L1349.8,1220.8L1350.6,1225.3L1350.6,1227.9L1349.8,1232.4M1357.2,1235.9L1356.4,1235L1357.2,1234.1L1358,1235L1357.2,1235.9" fill="none" stroke="#000" stroke-width="1" stroke-linecap="square"/>
</svg></body></html>
